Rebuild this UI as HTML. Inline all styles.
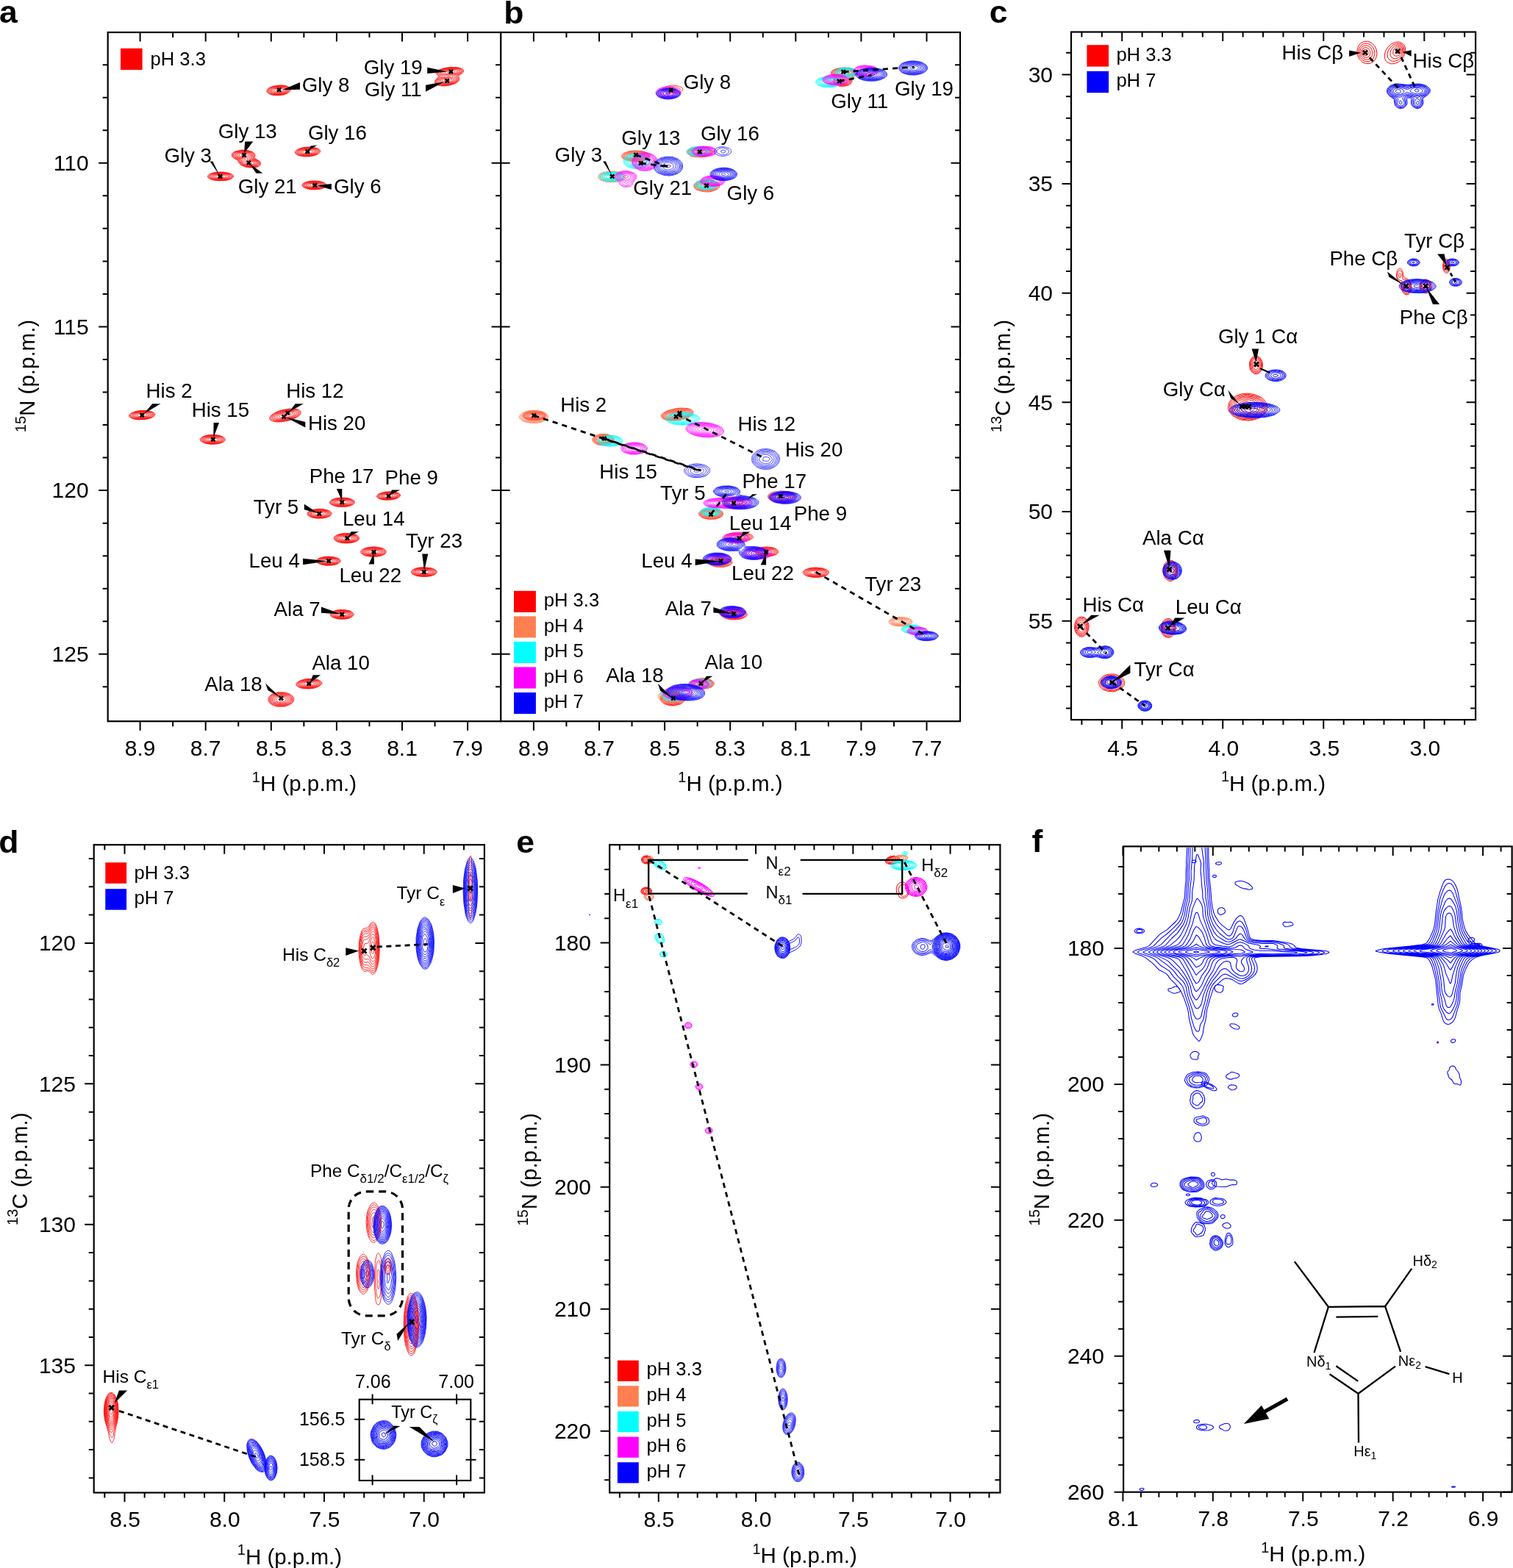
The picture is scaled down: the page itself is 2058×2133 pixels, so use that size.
<!DOCTYPE html>
<html><head><meta charset="utf-8"><title>NMR pH titration</title>
<style>html,body{margin:0;padding:0;background:#fff;}svg{display:block;}
text{font-family:"Liberation Sans", Arial, Helvetica, sans-serif;fill:#000;}</style></head>
<body><svg width="2058" height="2133" viewBox="0 0 2058 2133">
<rect width="2058" height="2133" fill="#fff"/>
<rect x="146.7" y="44" width="534.4" height="937.2" fill="none" stroke="#000" stroke-width="2.2"/>
<path d="M190.6,44v12.5M190.6,981.2v12.5M279.7,44v12.5M279.7,981.2v12.5M368.8,44v12.5M368.8,981.2v12.5M457.9,44v12.5M457.9,981.2v12.5M547,44v12.5M547,981.2v12.5M636.1,44v12.5M636.1,981.2v12.5M235.15,44v7M235.15,981.2v7M324.25,44v7M324.25,981.2v7M413.35,44v7M413.35,981.2v7M502.45,44v7M502.45,981.2v7M591.55,44v7M591.55,981.2v7M146.7,221.8h-12.5M681.1,221.8h-12.5M146.7,444.45h-12.5M681.1,444.45h-12.5M146.7,667.1h-12.5M681.1,667.1h-12.5M146.7,889.75h-12.5M681.1,889.75h-12.5M146.7,88.21h-7M681.1,88.21h-7M146.7,132.74h-7M681.1,132.74h-7M146.7,177.27h-7M681.1,177.27h-7M146.7,266.33h-7M681.1,266.33h-7M146.7,310.86h-7M681.1,310.86h-7M146.7,355.39h-7M681.1,355.39h-7M146.7,399.92h-7M681.1,399.92h-7M146.7,488.98h-7M681.1,488.98h-7M146.7,533.51h-7M681.1,533.51h-7M146.7,578.04h-7M681.1,578.04h-7M146.7,622.57h-7M681.1,622.57h-7M146.7,711.63h-7M681.1,711.63h-7M146.7,756.16h-7M681.1,756.16h-7M146.7,800.69h-7M681.1,800.69h-7M146.7,845.22h-7M681.1,845.22h-7M146.7,934.28h-7M681.1,934.28h-7" stroke="#000" stroke-width="2.0" fill="none"/>
<rect x="681.1" y="44" width="624.9" height="937.2" fill="none" stroke="#000" stroke-width="2.2"/>
<path d="M725.9,44v12.5M725.9,981.2v12.5M815,44v12.5M815,981.2v12.5M904.1,44v12.5M904.1,981.2v12.5M993.2,44v12.5M993.2,981.2v12.5M1082.3,44v12.5M1082.3,981.2v12.5M1171.4,44v12.5M1171.4,981.2v12.5M1260.5,44v12.5M1260.5,981.2v12.5M770.45,44v7M770.45,981.2v7M859.55,44v7M859.55,981.2v7M948.65,44v7M948.65,981.2v7M1037.75,44v7M1037.75,981.2v7M1126.85,44v7M1126.85,981.2v7M1215.95,44v7M1215.95,981.2v7M1306,221.8h-12.5M1306,444.45h-12.5M1306,667.1h-12.5M1306,889.75h-12.5M1306,88.21h-7M1306,132.74h-7M1306,177.27h-7M1306,266.33h-7M1306,310.86h-7M1306,355.39h-7M1306,399.92h-7M1306,488.98h-7M1306,533.51h-7M1306,578.04h-7M1306,622.57h-7M1306,711.63h-7M1306,756.16h-7M1306,800.69h-7M1306,845.22h-7M1306,934.28h-7" stroke="#000" stroke-width="2.0" fill="none"/>
<path d="M681.1,221.8h12.5M681.1,444.45h12.5M681.1,667.1h12.5M681.1,889.75h12.5" stroke="#000" stroke-width="2"/>
<text x="120.6" y="232.1" font-size="30" text-anchor="end">110</text>
<text x="120.6" y="454.75" font-size="30" text-anchor="end">115</text>
<text x="120.6" y="677.4" font-size="30" text-anchor="end">120</text>
<text x="120.6" y="900.05" font-size="30" text-anchor="end">125</text>
<text x="190.6" y="1028.3" font-size="30" text-anchor="middle">8.9</text>
<text x="279.7" y="1028.3" font-size="30" text-anchor="middle">8.7</text>
<text x="368.8" y="1028.3" font-size="30" text-anchor="middle">8.5</text>
<text x="457.9" y="1028.3" font-size="30" text-anchor="middle">8.3</text>
<text x="547" y="1028.3" font-size="30" text-anchor="middle">8.1</text>
<text x="636.1" y="1028.3" font-size="30" text-anchor="middle">7.9</text>
<text x="725.9" y="1028.3" font-size="30" text-anchor="middle">8.9</text>
<text x="815" y="1028.3" font-size="30" text-anchor="middle">8.7</text>
<text x="904.1" y="1028.3" font-size="30" text-anchor="middle">8.5</text>
<text x="993.2" y="1028.3" font-size="30" text-anchor="middle">8.3</text>
<text x="1082.3" y="1028.3" font-size="30" text-anchor="middle">8.1</text>
<text x="1171.4" y="1028.3" font-size="30" text-anchor="middle">7.9</text>
<text x="1260.5" y="1028.3" font-size="30" text-anchor="middle">7.7</text>
<text x="413.9" y="1076.3" font-size="29.5" text-anchor="middle"><tspan font-size="20" dy="-12.5">1</tspan><tspan dy="12.5">H (p.p.m.)</tspan></text>
<text x="993.4" y="1076.3" font-size="29.5" text-anchor="middle"><tspan font-size="20" dy="-12.5">1</tspan><tspan dy="12.5">H (p.p.m.)</tspan></text>
<text transform="translate(47.4,511.5) rotate(-90)" font-size="29.5" text-anchor="middle"><tspan font-size="20" dy="-12.5">15</tspan><tspan dy="12.5">N (p.p.m.)</tspan></text>
<rect x="1457" y="43.5" width="550.1" height="935.6" fill="none" stroke="#000" stroke-width="2.2"/>
<path d="M1526.2,43.5v12.5M1526.2,979.1v12.5M1663.24,43.5v12.5M1663.24,979.1v12.5M1800.27,43.5v12.5M1800.27,979.1v12.5M1937.31,43.5v12.5M1937.31,979.1v12.5M1471.39,43.5v7M1471.39,979.1v7M1498.79,43.5v7M1498.79,979.1v7M1553.61,43.5v7M1553.61,979.1v7M1581.01,43.5v7M1581.01,979.1v7M1608.42,43.5v7M1608.42,979.1v7M1635.83,43.5v7M1635.83,979.1v7M1690.64,43.5v7M1690.64,979.1v7M1718.05,43.5v7M1718.05,979.1v7M1745.46,43.5v7M1745.46,979.1v7M1772.86,43.5v7M1772.86,979.1v7M1827.68,43.5v7M1827.68,979.1v7M1855.08,43.5v7M1855.08,979.1v7M1882.49,43.5v7M1882.49,979.1v7M1909.9,43.5v7M1909.9,979.1v7M1964.71,43.5v7M1964.71,979.1v7M1992.12,43.5v7M1992.12,979.1v7M1457,101.4h-12.5M2007.1,101.4h-12.5M1457,250.05h-12.5M2007.1,250.05h-12.5M1457,398.7h-12.5M2007.1,398.7h-12.5M1457,547.35h-12.5M2007.1,547.35h-12.5M1457,696h-12.5M2007.1,696h-12.5M1457,844.65h-12.5M2007.1,844.65h-12.5M1457,71.67h-7M2007.1,71.67h-7M1457,131.13h-7M2007.1,131.13h-7M1457,160.86h-7M2007.1,160.86h-7M1457,190.59h-7M2007.1,190.59h-7M1457,220.32h-7M2007.1,220.32h-7M1457,279.78h-7M2007.1,279.78h-7M1457,309.51h-7M2007.1,309.51h-7M1457,339.24h-7M2007.1,339.24h-7M1457,368.97h-7M2007.1,368.97h-7M1457,428.43h-7M2007.1,428.43h-7M1457,458.16h-7M2007.1,458.16h-7M1457,487.89h-7M2007.1,487.89h-7M1457,517.62h-7M2007.1,517.62h-7M1457,577.08h-7M2007.1,577.08h-7M1457,606.81h-7M2007.1,606.81h-7M1457,636.54h-7M2007.1,636.54h-7M1457,666.27h-7M2007.1,666.27h-7M1457,725.73h-7M2007.1,725.73h-7M1457,755.46h-7M2007.1,755.46h-7M1457,785.19h-7M2007.1,785.19h-7M1457,814.92h-7M2007.1,814.92h-7M1457,874.38h-7M2007.1,874.38h-7M1457,904.11h-7M2007.1,904.11h-7M1457,933.84h-7M2007.1,933.84h-7M1457,963.57h-7M2007.1,963.57h-7" stroke="#000" stroke-width="2.0" fill="none"/>
<text x="1432" y="111.7" font-size="30" text-anchor="end">30</text>
<text x="1432" y="260.35" font-size="30" text-anchor="end">35</text>
<text x="1432" y="409" font-size="30" text-anchor="end">40</text>
<text x="1432" y="557.65" font-size="30" text-anchor="end">45</text>
<text x="1432" y="706.3" font-size="30" text-anchor="end">50</text>
<text x="1432" y="854.95" font-size="30" text-anchor="end">55</text>
<text x="1527.2" y="1028.3" font-size="30" text-anchor="middle">4.5</text>
<text x="1664.24" y="1028.3" font-size="30" text-anchor="middle">4.0</text>
<text x="1801.27" y="1028.3" font-size="30" text-anchor="middle">3.5</text>
<text x="1938.31" y="1028.3" font-size="30" text-anchor="middle">3.0</text>
<text x="1732" y="1075.8" font-size="29.5" text-anchor="middle"><tspan font-size="20" dy="-12.5">1</tspan><tspan dy="12.5">H (p.p.m.)</tspan></text>
<text transform="translate(1374.3,511.5) rotate(-90)" font-size="29.5" text-anchor="middle"><tspan font-size="20" dy="-12.5">13</tspan><tspan dy="12.5">C (p.p.m.)</tspan></text>
<rect x="127.7" y="1149.2" width="531.2" height="881.3" fill="none" stroke="#000" stroke-width="2.2"/>
<path d="M169.5,1149.2v12.5M169.5,2030.5v12.5M305.24,1149.2v12.5M305.24,2030.5v12.5M440.97,1149.2v12.5M440.97,2030.5v12.5M576.71,1149.2v12.5M576.71,2030.5v12.5M142.35,1149.2v7M142.35,2030.5v7M196.65,1149.2v7M196.65,2030.5v7M223.79,1149.2v7M223.79,2030.5v7M250.94,1149.2v7M250.94,2030.5v7M278.09,1149.2v7M278.09,2030.5v7M332.38,1149.2v7M332.38,2030.5v7M359.53,1149.2v7M359.53,2030.5v7M386.68,1149.2v7M386.68,2030.5v7M413.82,1149.2v7M413.82,2030.5v7M468.12,1149.2v7M468.12,2030.5v7M495.26,1149.2v7M495.26,2030.5v7M522.41,1149.2v7M522.41,2030.5v7M549.56,1149.2v7M549.56,2030.5v7M603.85,1149.2v7M603.85,2030.5v7M631,1149.2v7M631,2030.5v7M127.7,1282.9h-12.5M658.9,1282.9h-12.5M127.7,1474.35h-12.5M658.9,1474.35h-12.5M127.7,1665.8h-12.5M658.9,1665.8h-12.5M127.7,1857.25h-12.5M658.9,1857.25h-12.5M127.7,1168.03h-7M658.9,1168.03h-7M127.7,1206.32h-7M658.9,1206.32h-7M127.7,1244.61h-7M658.9,1244.61h-7M127.7,1321.19h-7M658.9,1321.19h-7M127.7,1359.48h-7M658.9,1359.48h-7M127.7,1397.77h-7M658.9,1397.77h-7M127.7,1436.06h-7M658.9,1436.06h-7M127.7,1512.64h-7M658.9,1512.64h-7M127.7,1550.93h-7M658.9,1550.93h-7M127.7,1589.22h-7M658.9,1589.22h-7M127.7,1627.51h-7M658.9,1627.51h-7M127.7,1704.09h-7M658.9,1704.09h-7M127.7,1742.38h-7M658.9,1742.38h-7M127.7,1780.67h-7M658.9,1780.67h-7M127.7,1818.96h-7M658.9,1818.96h-7M127.7,1895.54h-7M658.9,1895.54h-7M127.7,1933.83h-7M658.9,1933.83h-7M127.7,1972.12h-7M658.9,1972.12h-7M127.7,2010.41h-7M658.9,2010.41h-7" stroke="#000" stroke-width="2.0" fill="none"/>
<text x="103" y="1293.2" font-size="30" text-anchor="end">120</text>
<text x="103" y="1484.65" font-size="30" text-anchor="end">125</text>
<text x="103" y="1676.1" font-size="30" text-anchor="end">130</text>
<text x="103" y="1867.55" font-size="30" text-anchor="end">135</text>
<text x="170" y="2077.3" font-size="30" text-anchor="middle">8.5</text>
<text x="305.74" y="2077.3" font-size="30" text-anchor="middle">8.0</text>
<text x="441.47" y="2077.3" font-size="30" text-anchor="middle">7.5</text>
<text x="577.21" y="2077.3" font-size="30" text-anchor="middle">7.0</text>
<text x="393.9" y="2127.5" font-size="29.5" text-anchor="middle"><tspan font-size="20" dy="-12.5">1</tspan><tspan dy="12.5">H (p.p.m.)</tspan></text>
<text transform="translate(36.9,1590.2) rotate(-90)" font-size="29.5" text-anchor="middle"><tspan font-size="20" dy="-12.5">13</tspan><tspan dy="12.5">C (p.p.m.)</tspan></text>
<rect x="829.2" y="1149.2" width="531.2" height="881.3" fill="none" stroke="#000" stroke-width="2.2"/>
<path d="M895.8,1149.2v12.5M895.8,2030.5v12.5M1028.07,1149.2v12.5M1028.07,2030.5v12.5M1160.33,1149.2v12.5M1160.33,2030.5v12.5M1292.59,1149.2v12.5M1292.59,2030.5v12.5M842.89,1149.2v7M842.89,2030.5v7M869.35,1149.2v7M869.35,2030.5v7M922.25,1149.2v7M922.25,2030.5v7M948.71,1149.2v7M948.71,2030.5v7M975.16,1149.2v7M975.16,2030.5v7M1001.61,1149.2v7M1001.61,2030.5v7M1054.52,1149.2v7M1054.52,2030.5v7M1080.97,1149.2v7M1080.97,2030.5v7M1107.42,1149.2v7M1107.42,2030.5v7M1133.88,1149.2v7M1133.88,2030.5v7M1186.78,1149.2v7M1186.78,2030.5v7M1213.24,1149.2v7M1213.24,2030.5v7M1239.69,1149.2v7M1239.69,2030.5v7M1266.14,1149.2v7M1266.14,2030.5v7M1319.05,1149.2v7M1319.05,2030.5v7M1345.5,1149.2v7M1345.5,2030.5v7M829.2,1282.5h-12.5M1360.4,1282.5h-12.5M829.2,1448.58h-12.5M1360.4,1448.58h-12.5M829.2,1614.65h-12.5M1360.4,1614.65h-12.5M829.2,1780.72h-12.5M1360.4,1780.72h-12.5M829.2,1946.8h-12.5M1360.4,1946.8h-12.5M829.2,1182.86h-7M1360.4,1182.86h-7M829.2,1216.07h-7M1360.4,1216.07h-7M829.2,1249.29h-7M1360.4,1249.29h-7M829.2,1315.71h-7M1360.4,1315.71h-7M829.2,1348.93h-7M1360.4,1348.93h-7M829.2,1382.14h-7M1360.4,1382.14h-7M829.2,1415.36h-7M1360.4,1415.36h-7M829.2,1481.79h-7M1360.4,1481.79h-7M829.2,1515.01h-7M1360.4,1515.01h-7M829.2,1548.22h-7M1360.4,1548.22h-7M829.2,1581.43h-7M1360.4,1581.43h-7M829.2,1647.87h-7M1360.4,1647.87h-7M829.2,1681.08h-7M1360.4,1681.08h-7M829.2,1714.3h-7M1360.4,1714.3h-7M829.2,1747.51h-7M1360.4,1747.51h-7M829.2,1813.94h-7M1360.4,1813.94h-7M829.2,1847.16h-7M1360.4,1847.16h-7M829.2,1880.37h-7M1360.4,1880.37h-7M829.2,1913.59h-7M1360.4,1913.59h-7M829.2,1980.02h-7M1360.4,1980.02h-7M829.2,2013.23h-7M1360.4,2013.23h-7" stroke="#000" stroke-width="2.0" fill="none"/>
<text x="804" y="1292.8" font-size="30" text-anchor="end">180</text>
<text x="804" y="1458.88" font-size="30" text-anchor="end">190</text>
<text x="804" y="1624.95" font-size="30" text-anchor="end">200</text>
<text x="804" y="1791.02" font-size="30" text-anchor="end">210</text>
<text x="804" y="1957.1" font-size="30" text-anchor="end">220</text>
<text x="896.3" y="2077.3" font-size="30" text-anchor="middle">8.5</text>
<text x="1028.57" y="2077.3" font-size="30" text-anchor="middle">8.0</text>
<text x="1160.83" y="2077.3" font-size="30" text-anchor="middle">7.5</text>
<text x="1293.09" y="2077.3" font-size="30" text-anchor="middle">7.0</text>
<text x="1094.6" y="2126" font-size="29.5" text-anchor="middle"><tspan font-size="20" dy="-12.5">1</tspan><tspan dy="12.5">H (p.p.m.)</tspan></text>
<text transform="translate(730.2,1590.9) rotate(-90)" font-size="29.5" text-anchor="middle"><tspan font-size="20" dy="-12.5">15</tspan><tspan dy="12.5">N (p.p.m.)</tspan></text>
<rect x="1528.1" y="1151.4" width="528.5" height="878.3" fill="none" stroke="#000" stroke-width="2.2"/>
<path d="M1527.4,1151.4v12.5M1527.4,2029.7v12.5M1649.82,1151.4v12.5M1649.82,2029.7v12.5M1772.25,1151.4v12.5M1772.25,2029.7v12.5M1894.67,1151.4v12.5M1894.67,2029.7v12.5M2017.1,1151.4v12.5M2017.1,2029.7v12.5M1551.88,1151.4v7M1551.88,2029.7v7M1576.37,1151.4v7M1576.37,2029.7v7M1600.85,1151.4v7M1600.85,2029.7v7M1625.34,1151.4v7M1625.34,2029.7v7M1674.31,1151.4v7M1674.31,2029.7v7M1698.79,1151.4v7M1698.79,2029.7v7M1723.28,1151.4v7M1723.28,2029.7v7M1747.76,1151.4v7M1747.76,2029.7v7M1796.73,1151.4v7M1796.73,2029.7v7M1821.22,1151.4v7M1821.22,2029.7v7M1845.7,1151.4v7M1845.7,2029.7v7M1870.19,1151.4v7M1870.19,2029.7v7M1919.16,1151.4v7M1919.16,2029.7v7M1943.64,1151.4v7M1943.64,2029.7v7M1968.13,1151.4v7M1968.13,2029.7v7M1992.61,1151.4v7M1992.61,2029.7v7M2041.58,1151.4v7M2041.58,2029.7v7M1528.1,1290h-12.5M2056.6,1290h-12.5M1528.1,1474.92h-12.5M2056.6,1474.92h-12.5M1528.1,1659.84h-12.5M2056.6,1659.84h-12.5M1528.1,1844.76h-12.5M2056.6,1844.76h-12.5M1528.1,2029.68h-12.5M2056.6,2029.68h-12.5M1528.1,1179.05h-7M2056.6,1179.05h-7M1528.1,1216.03h-7M2056.6,1216.03h-7M1528.1,1253.02h-7M2056.6,1253.02h-7M1528.1,1326.98h-7M2056.6,1326.98h-7M1528.1,1363.97h-7M2056.6,1363.97h-7M1528.1,1400.95h-7M2056.6,1400.95h-7M1528.1,1437.94h-7M2056.6,1437.94h-7M1528.1,1511.9h-7M2056.6,1511.9h-7M1528.1,1548.89h-7M2056.6,1548.89h-7M1528.1,1585.87h-7M2056.6,1585.87h-7M1528.1,1622.86h-7M2056.6,1622.86h-7M1528.1,1696.82h-7M2056.6,1696.82h-7M1528.1,1733.81h-7M2056.6,1733.81h-7M1528.1,1770.79h-7M2056.6,1770.79h-7M1528.1,1807.78h-7M2056.6,1807.78h-7M1528.1,1881.74h-7M2056.6,1881.74h-7M1528.1,1918.73h-7M2056.6,1918.73h-7M1528.1,1955.71h-7M2056.6,1955.71h-7M1528.1,1992.7h-7M2056.6,1992.7h-7" stroke="#000" stroke-width="2.0" fill="none"/>
<text x="1502" y="1300.3" font-size="30" text-anchor="end">180</text>
<text x="1502" y="1485.22" font-size="30" text-anchor="end">200</text>
<text x="1502" y="1670.14" font-size="30" text-anchor="end">220</text>
<text x="1502" y="1855.06" font-size="30" text-anchor="end">240</text>
<text x="1502" y="2039.98" font-size="30" text-anchor="end">260</text>
<text x="1527.9" y="2076.3" font-size="30" text-anchor="middle">8.1</text>
<text x="1650.32" y="2076.3" font-size="30" text-anchor="middle">7.8</text>
<text x="1772.75" y="2076.3" font-size="30" text-anchor="middle">7.5</text>
<text x="1895.17" y="2076.3" font-size="30" text-anchor="middle">7.2</text>
<text x="2017.6" y="2076.3" font-size="30" text-anchor="middle">6.9</text>
<text x="1786.3" y="2124" font-size="29.5" text-anchor="middle"><tspan font-size="20" dy="-12.5">1</tspan><tspan dy="12.5">H (p.p.m.)</tspan></text>
<text transform="translate(1426.7,1590.7) rotate(-90)" font-size="29.5" text-anchor="middle"><tspan font-size="20" dy="-12.5">15</tspan><tspan dy="12.5">N (p.p.m.)</tspan></text>
<text x="-1" y="31.2" font-size="42" font-weight="bold" transform="translate(-1,0) scale(1.06,1) translate(1,0)">a</text>
<text x="685.2" y="31.9" font-size="42" font-weight="bold" transform="translate(685.2,0) scale(1.06,1) translate(-685.2,0)">b</text>
<text x="1345.8" y="31.2" font-size="42" font-weight="bold" transform="translate(1345.8,0) scale(1.06,1) translate(-1345.8,0)">c</text>
<text x="-1.8" y="1160" font-size="42" font-weight="bold" transform="translate(-1.8,0) scale(1.06,1) translate(1.8,0)">d</text>
<text x="702.3" y="1160.2" font-size="42" font-weight="bold" transform="translate(702.3,0) scale(1.06,1) translate(-702.3,0)">e</text>
<text x="1403.6" y="1159" font-size="42" font-weight="bold" transform="translate(1403.6,0) scale(1.06,1) translate(-1403.6,0)">f</text>
<rect x="164" y="65.8" width="29.6" height="29.2" fill="#ff0000"/>
<text x="204.5" y="89.4" font-size="25.6">pH 3.3</text>
<path d="M377.7,129.9L370.9,129.4L365.7,127.6L363.1,125.1L362.8,123.5L363.3,121.9L365.7,119.6L370.9,117.3L380.9,115.8L385.7,116.1L389.7,116.9L392.9,118.3L394.9,120.3L395.4,121.9L394.7,123.9L393.2,125.5L390.5,127.3L385.7,129.0ZM378.1,129.5L371.3,129.0L366.5,127.3L364.0,125.1L363.7,123.5L364.2,121.9L366.3,119.9L371.3,117.6L380.9,116.2L385.7,116.5L389.3,117.2L392.1,118.5L394.0,120.3L394.4,121.9L394.0,123.5L392.6,125.1L390.1,127.0L385.3,128.6ZM377.3,129.1L371.3,128.5L367.3,127.0L364.9,124.7L364.6,123.5L365.1,121.9L367.3,120.0L371.7,118.0L381.3,116.7L385.3,116.9L388.9,117.6L391.7,119.0L393.2,120.7L393.5,121.9L393.0,123.5L389.3,126.8L383.3,128.6ZM382.5,128.3L375.3,128.6L370.5,127.7L366.5,125.4L365.8,124.3L365.8,122.7L367.3,120.9L370.9,118.8L377.3,117.4L385.7,117.4L389.3,118.4L391.6,119.9L392.4,121.1L392.5,122.3L390.7,125.1L387.7,127.0ZM382.1,127.9L375.3,128.1L370.9,127.2L367.6,125.1L366.9,123.9L367.0,122.7L368.3,121.1L371.3,119.3L377.3,117.9L385.3,117.9L388.5,118.8L390.8,120.3L391.4,122.3L389.6,125.1L387.3,126.5ZM381.3,127.5L375.3,127.6L371.5,126.7L368.6,124.7L368.3,122.7L369.7,121.1L372.1,119.7L377.7,118.3L385.3,118.4L387.7,119.3L389.7,120.7L390.2,122.7L388.5,125.1L385.7,126.4ZM382.1,126.8L376.1,127.0L373.3,126.5L370.5,125.1L369.8,124.3L369.6,123.1L370.3,121.9L372.1,120.6L377.3,119.0L384.1,118.9L386.4,119.5L388.2,120.7L388.9,122.3L388.1,124.3L386.1,125.5ZM380.9,126.3L374.1,125.9L371.9,124.7L371.2,123.1L373.3,121.0L377.7,119.7L383.7,119.6L385.7,120.2L387.0,121.1L387.5,122.7L386.5,124.3ZM380.1,125.5L374.9,125.0L373.4,123.9L373.4,122.7L374.9,121.5L378.1,120.5L382.9,120.5L385.3,121.5L385.7,122.7L384.7,123.9ZM378.9,124.3L377.0,123.9L376.5,123.5L376.5,122.7L378.9,121.9L381.9,122.7L380.7,123.9ZM608.6,116.7L602.2,117.0L598.2,116.6L594.2,115.3L591.9,113.5L591.2,111.5L591.6,109.5L596.7,104.3L596.4,103.5L593.2,100.3L593.0,98.7L593.7,97.5L597.0,95.2L600.6,93.7L605.0,92.5L611.8,91.4L621.8,91.6L627.0,92.8L629.7,94.3L630.8,95.9L630.4,97.9L629.0,99.5L624.8,102.3L623.9,103.5L624.9,107.5L624.5,109.1L623.5,110.7L621.0,112.7L618.2,114.1ZM608.6,116.3L599.8,116.4L595.4,115.2L592.9,113.5L592.1,111.5L592.5,109.5L597.8,104.3L597.3,103.1L594.3,100.3L594.0,98.7L594.7,97.5L597.8,95.4L601.8,93.7L611.8,91.8L621.4,92.0L626.6,93.3L628.9,94.7L629.8,96.3L629.2,98.3L623.7,102.3L622.7,103.5L623.9,107.5L623.6,109.1L622.6,110.7L617.8,113.8ZM608.6,115.9L603.4,116.2L599.8,115.8L595.8,114.7L593.7,113.1L593.0,111.5L593.5,109.5L598.5,105.1L599.2,103.9L595.4,99.9L595.2,98.7L595.9,97.5L598.7,95.5L603.0,93.8L611.8,92.2L621.0,92.4L625.8,93.7L628.1,95.1L628.8,96.7L628.1,98.3L622.4,102.3L621.4,103.5L622.9,107.5L622.7,109.1L621.6,110.7L617.0,113.6ZM608.2,115.5L603.4,115.7L599.8,115.2L596.2,114.1L594.3,112.3L594.0,110.7L594.8,109.1L600.9,103.9L600.5,103.1L596.9,100.3L596.5,98.7L597.2,97.5L599.4,95.8L603.4,94.2L611.8,92.6L620.2,92.7L623.8,93.6L626.7,95.1L627.6,96.7L626.9,98.3L619.8,103.5L621.9,107.5L621.7,109.1L621.0,110.3L619.0,111.9L616.2,113.3ZM607.0,115.1L600.2,114.6L597.0,113.5L595.4,111.9L595.3,110.3L596.6,108.3L602.9,103.9L602.2,102.8L598.3,100.3L597.8,99.1L598.5,97.5L600.6,96.0L604.2,94.4L612.2,93.0L620.2,93.2L623.4,94.2L625.5,95.5L626.2,97.1L625.3,98.7L623.0,100.4L618.5,102.7L617.8,103.5L620.8,107.5L620.6,109.1L619.8,110.3L617.8,111.9L614.6,113.3ZM609.0,114.3L605.4,114.6L601.8,114.3L598.5,113.1L597.0,111.8L596.8,109.9L598.2,107.9L605.7,103.9L605.2,103.1L599.9,100.3L599.2,99.1L599.6,97.9L601.4,96.4L604.2,95.0L611.4,93.6L618.6,93.6L621.7,94.3L623.8,95.4L624.7,97.1L623.5,99.1L615.0,103.5L619.0,106.8L619.4,108.3L618.8,109.9L615.0,112.5ZM611.4,102.7L609.4,103.1L604.2,101.5L601.4,99.9L600.9,98.3L602.4,96.7L604.7,95.5L612.2,94.1L619.0,94.3L621.5,95.1L622.9,96.3L622.8,98.3L621.0,99.8L616.2,101.7ZM607.4,113.9L603.4,113.9L600.6,113.0L598.4,111.1L598.5,109.1L600.2,107.5L602.6,106.2L609.8,104.2L615.0,105.4L617.4,107.1L617.6,109.1L616.0,111.1L612.2,112.9ZM611.8,101.6L609.0,101.8L605.8,101.1L603.4,99.8L602.7,98.3L603.6,97.1L605.8,96.0L612.2,94.7L618.2,94.9L620.2,95.6L621.4,96.7L621.2,98.3L619.6,99.5L616.2,100.8ZM608.2,113.2L604.6,113.3L602.1,112.7L600.1,111.1L599.9,109.5L600.8,108.3L603.0,106.9L608.2,105.7L612.2,105.7L615.6,107.1L616.1,108.7L615.0,110.5L612.2,112.1ZM611.0,100.7L606.8,100.3L605.5,99.5L605.0,98.3L607.0,96.7L612.6,95.5L616.6,95.7L619.2,97.1L618.9,98.3L616.9,99.5ZM608.2,112.3L605.4,112.4L603.1,111.9L601.8,110.7L601.8,109.5L603.8,107.7L608.2,106.7L611.8,106.8L614.2,107.9L614.3,109.1L613.4,110.3ZM612.2,99.1L609.4,99.3L608.6,98.9L608.5,98.3L609.4,97.5L612.6,96.6L614.6,96.7L615.8,97.5L615.3,98.3ZM608.2,111.2L605.0,110.9L604.3,110.3L604.2,109.5L605.3,108.7L608.2,108.0L610.2,108.1L611.4,108.7L610.9,109.9ZM345.0,228.0L340.6,228.1L335.0,227.3L331.4,226.2L328.2,224.7L325.6,222.4L323.2,218.0L318.1,215.2L315.8,213.2L315.0,211.2L315.5,209.2L317.4,207.2L320.2,205.8L328.6,204.0L337.0,204.5L344.2,207.0L345.9,208.4L347.1,210.4L347.1,211.6L346.2,214.1L346.5,215.2L353.0,219.2L354.3,220.8L354.8,222.4L354.2,224.4L352.2,226.2L349.4,227.3ZM345.4,227.6L341.0,227.7L335.0,226.9L328.6,224.4L326.4,222.4L324.4,218.0L318.6,214.9L316.7,213.2L315.8,211.2L316.4,209.2L317.9,207.6L320.6,206.2L328.6,204.4L337.0,204.9L343.5,207.2L345.3,208.8L346.2,210.4L346.1,212.0L345.1,214.4L345.3,215.2L352.1,219.2L353.5,220.8L354.0,222.4L353.3,224.4L351.8,225.8L349.0,226.9ZM345.4,227.2L341.0,227.4L335.8,226.6L332.6,225.8L329.4,224.3L327.0,222.0L325.4,217.7L319.4,214.6L317.7,213.2L316.7,211.2L317.0,209.6L318.5,208.0L320.6,206.8L328.2,204.9L336.6,205.3L342.6,207.4L344.3,208.8L345.2,210.4L344.1,215.2L351.0,219.0L352.4,220.4L353.1,222.0L352.9,223.6L351.4,225.3L349.0,226.4ZM345.0,226.8L340.6,226.9L335.8,226.2L333.0,225.4L329.8,223.9L327.6,221.6L326.8,217.6L319.8,214.0L318.4,212.8L317.7,211.2L318.1,209.6L319.4,208.2L321.4,207.1L328.6,205.3L336.2,205.7L341.8,207.7L343.5,209.2L344.2,210.8L342.7,214.8L343.0,215.6L350.2,219.1L351.6,220.4L352.2,222.0L352.0,223.6L350.6,225.1L348.2,226.1ZM344.2,226.4L340.2,226.5L335.8,225.7L333.0,224.9L330.2,223.4L328.4,221.2L328.5,217.6L319.8,212.9L318.8,211.2L319.3,209.6L322.6,207.3L329.0,205.7L336.2,206.2L341.0,208.0L342.6,209.6L343.1,211.2L341.3,214.8L341.3,215.6L349.2,219.2L350.6,220.4L351.3,222.0L351.0,223.6L349.7,224.8ZM343.0,226.0L339.4,225.9L335.4,225.1L331.1,223.2L329.8,222.0L329.4,220.8L330.5,217.2L329.4,216.4L324.2,214.7L321.7,213.2L320.3,211.6L320.7,209.6L323.8,207.6L329.0,206.3L335.8,206.7L340.0,208.4L341.6,210.0L341.9,211.6L341.4,212.8L339.3,215.2L339.4,216.0L347.8,219.2L349.5,220.4L350.3,222.0L350.1,223.2L348.6,224.5ZM344.6,225.2L339.4,225.4L335.0,224.3L332.5,223.2L330.9,221.6L330.7,220.4L331.7,218.8L334.0,216.8L333.8,216.5L327.0,214.9L324.2,213.8L322.1,212.0L321.8,211.2L322.1,210.0L324.2,208.2L328.6,206.9L335.0,207.3L338.6,208.5L340.3,210.4L340.5,212.0L336.0,216.4L345.0,218.7L347.6,220.0L349.0,221.6L348.9,222.8L348.3,223.6ZM334.2,214.8L331.4,214.8L326.2,213.8L324.0,212.4L323.5,210.4L324.9,208.8L328.2,207.7L331.8,207.6L336.6,208.5L338.5,210.0L338.8,212.0L336.6,213.9ZM342.2,224.8L339.0,224.7L334.3,223.2L332.5,221.6L332.6,220.0L335.0,218.4L339.0,218.1L344.2,219.2L347.2,221.2L347.4,222.4L346.5,223.6ZM334.2,213.6L327.4,213.2L325.7,212.0L325.4,210.4L326.7,209.2L329.4,208.4L331.8,208.4L335.2,209.2L336.8,210.4L336.9,211.6L336.0,212.8ZM341.8,224.0L339.4,224.0L335.9,222.8L334.5,221.6L334.5,220.4L336.2,219.3L339.4,219.0L343.4,220.0L345.4,221.2L345.7,222.0L345.0,223.0ZM333.4,212.1L329.4,212.0L328.3,211.2L329.4,210.0L331.8,209.7L334.3,210.8L334.3,211.6ZM341.0,222.8L338.2,222.3L337.3,221.6L337.3,220.8L339.0,220.2L341.5,220.8L342.5,222.0ZM305.8,245.6L297.0,245.9L288.6,244.6L285.4,243.4L283.4,242.1L282.5,240.8L282.4,239.2L284.2,237.3L287.8,235.6L292.2,234.6L298.2,234.0L304.2,234.1L309.8,235.0L315.0,236.7L317.3,238.4L317.8,239.6L317.6,240.8L315.4,242.9L311.4,244.6ZM301.8,245.6L294.2,245.4L288.2,244.1L284.2,241.9L283.3,240.4L283.4,239.2L285.4,237.3L289.0,235.7L294.2,234.7L300.6,234.3L305.4,234.6L310.2,235.5L314.6,237.1L316.5,238.8L316.8,240.0L316.3,241.2L313.4,243.4L308.6,244.9ZM302.6,245.2L294.6,245.0L289.0,243.8L285.5,242.0L284.5,240.8L284.3,239.6L285.8,237.8L289.0,236.2L293.8,235.1L299.4,234.7L304.6,234.9L309.4,235.7L313.4,237.1L315.4,238.8L315.5,240.8L313.0,243.0L308.6,244.5ZM303.0,244.8L295.4,244.7L290.2,243.7L286.6,242.0L285.6,240.8L285.5,239.6L287.4,237.6L290.6,236.3L295.0,235.4L300.6,235.0L305.4,235.4L309.8,236.3L312.9,237.6L314.4,239.2L314.1,241.2L311.8,242.9L308.2,244.1ZM302.6,244.4L295.8,244.3L291.0,243.4L287.5,241.6L286.9,240.8L286.7,239.6L288.2,238.0L291.4,236.6L295.4,235.8L300.6,235.4L304.6,235.7L309.0,236.6L311.8,237.7L313.2,239.2L313.1,240.8L311.0,242.6L307.4,243.8ZM301.0,244.0L295.4,243.8L291.8,243.0L289.0,241.6L288.3,240.8L288.1,239.6L289.4,238.3L292.6,236.9L300.6,235.9L307.8,236.9L310.7,238.0L311.9,239.2L311.5,241.2L309.4,242.6L305.4,243.7ZM304.6,243.2L299.0,243.5L294.6,243.1L290.7,241.6L289.6,240.0L290.4,238.8L293.0,237.5L299.8,236.4L306.2,237.1L309.0,238.1L310.5,239.2L310.6,240.4L309.6,241.6ZM302.6,242.8L298.6,242.9L294.5,242.4L292.1,241.2L291.5,240.4L291.5,239.6L292.9,238.4L295.0,237.6L301.4,237.0L305.8,237.7L308.9,239.6L308.7,240.8L307.6,241.6ZM302.6,242.0L299.4,242.3L295.8,241.8L294.2,241.1L293.4,240.0L293.9,239.2L295.4,238.4L300.6,237.8L304.2,238.1L306.6,239.6L306.6,240.4L305.8,241.2ZM300.2,241.2L298.1,240.8L296.9,240.0L300.2,239.1L302.6,239.1L303.8,239.6L303.4,240.5ZM421.2,212.8L414.4,213.0L406.4,211.7L402.1,209.2L401.4,208.0L401.4,206.4L403.4,204.0L406.8,202.3L411.6,200.8L417.2,200.1L424.0,200.0L427.6,200.6L432.4,202.0L435.5,204.4L435.9,205.6L435.4,207.2L432.4,209.8L427.2,211.8ZM421.6,212.4L414.8,212.6L407.2,211.5L403.2,209.2L402.4,208.0L402.4,206.4L403.9,204.4L407.2,202.6L412.4,201.1L416.8,200.5L426.4,200.7L431.6,202.2L434.5,204.4L434.9,205.6L434.7,206.8L432.0,209.4L427.2,211.4ZM421.6,212.0L414.4,212.2L407.6,211.1L405.6,210.2L403.9,208.8L403.3,207.6L403.4,206.4L404.8,204.6L407.6,203.0L412.4,201.5L416.4,200.9L425.6,201.0L430.8,202.5L433.4,204.4L433.8,205.6L433.6,206.8L431.6,208.9L427.2,210.9ZM421.6,211.6L414.8,211.8L408.8,210.9L406.6,210.0L405.0,208.8L404.4,207.6L404.5,206.4L405.7,204.8L408.0,203.4L412.4,201.9L416.0,201.4L425.2,201.4L430.1,202.8L432.2,204.4L432.6,206.4L430.6,208.8L426.4,210.7ZM421.2,211.2L415.2,211.4L410.0,210.6L406.4,208.9L405.7,208.0L405.5,206.8L406.5,205.2L408.2,204.0L412.0,202.5L415.6,201.8L424.8,201.8L429.2,203.1L431.0,204.4L431.4,206.4L429.6,208.6L426.0,210.2ZM420.0,210.8L414.4,210.8L410.4,210.1L407.3,208.4L406.8,207.6L406.9,206.4L407.8,205.2L409.6,204.1L412.8,202.9L416.0,202.3L424.4,202.2L428.4,203.5L430.0,204.8L430.0,206.8L428.4,208.4L424.8,210.0ZM422.0,210.0L416.0,210.3L412.0,209.9L408.9,208.4L408.1,206.8L408.8,205.6L410.4,204.6L415.6,202.9L423.6,202.7L426.6,203.6L428.6,204.8L429.0,206.0L428.0,207.6L425.2,209.2ZM419.2,209.6L414.8,209.6L412.0,209.0L410.2,208.0L409.8,206.4L412.8,204.3L416.8,203.5L423.6,203.5L426.0,204.4L427.2,205.6L427.0,206.8L424.8,208.5ZM417.2,208.8L412.8,208.1L411.9,207.2L411.9,206.4L413.6,205.1L416.8,204.4L422.8,204.3L425.0,205.6L424.9,206.8L423.3,208.0ZM418.4,207.3L416.4,207.4L415.4,206.8L416.8,206.0L421.4,206.4ZM433.0,257.6L423.8,257.9L418.2,256.9L412.6,254.7L411.1,253.2L410.9,251.6L412.2,249.6L415.4,247.8L420.2,246.6L425.8,246.0L432.2,246.2L437.0,247.1L441.0,248.5L443.5,250.4L444.1,251.6L444.0,252.8L442.1,254.8L438.2,256.6ZM429.0,257.6L422.2,257.4L415.8,255.7L412.3,253.6L411.8,252.4L411.9,251.2L413.4,249.5L416.6,247.9L421.0,246.9L427.0,246.3L433.0,246.7L437.8,247.7L441.4,249.4L443.1,251.2L443.2,252.4L442.6,253.6L439.8,255.5L434.6,257.0ZM430.2,257.2L423.0,257.1L417.4,255.8L413.3,253.6L412.7,252.4L412.9,251.2L414.3,249.6L417.4,248.1L422.2,247.1L427.0,246.7L432.6,247.0L436.6,247.8L440.2,249.3L442.1,251.2L441.9,253.2L439.4,255.1L435.0,256.5ZM430.2,256.8L423.4,256.8L418.6,255.8L414.6,253.7L413.9,252.8L413.7,251.6L414.9,250.0L417.4,248.7L421.0,247.7L426.6,247.1L435.8,248.1L439.0,249.4L441.0,251.2L441.0,252.8L439.0,254.6L434.6,256.2ZM430.2,256.4L423.8,256.4L419.0,255.4L415.6,253.6L415.0,252.8L414.8,251.6L416.2,250.0L418.2,249.0L426.6,247.5L435.0,248.4L438.0,249.6L439.7,251.2L439.8,252.8L437.9,254.4L434.2,255.8ZM429.8,256.0L423.8,255.9L419.8,255.0L416.9,253.6L416.2,252.8L416.1,251.6L417.1,250.4L419.4,249.2L426.2,247.9L434.2,248.8L437.0,249.9L438.3,251.2L438.3,252.8L436.6,254.3L433.4,255.5ZM431.8,255.2L428.2,255.5L423.0,255.3L419.0,254.0L417.8,253.0L417.4,252.0L418.2,250.8L420.2,249.7L425.8,248.5L433.0,249.1L436.6,250.8L437.1,252.0L436.6,253.2L434.7,254.4ZM430.6,254.8L423.4,254.6L420.2,253.4L419.3,252.0L420.1,250.8L421.6,250.0L426.2,249.0L431.8,249.5L434.2,250.3L435.3,251.2L435.6,252.4L434.6,253.5ZM430.6,254.1L424.2,253.9L422.0,252.8L421.7,251.6L423.3,250.4L426.6,249.8L430.6,250.0L433.4,251.2L433.9,252.0L433.6,252.8ZM430.6,252.9L426.2,252.9L424.6,252.0L426.2,251.0L429.8,250.9L431.6,252.0ZM195.3,570.8L187.3,570.9L180.9,569.8L176.5,567.5L175.6,566.0L175.6,564.8L177.7,562.4L181.3,560.7L186.5,559.1L191.7,558.4L198.9,558.4L204.5,559.4L208.1,560.6L210.7,562.8L211.0,564.0L210.6,565.2L207.3,567.9L202.1,569.7ZM195.7,570.4L188.1,570.6L182.1,569.7L179.3,568.6L177.3,567.2L176.5,566.0L176.6,564.8L178.5,562.6L182.9,560.5L187.3,559.3L192.9,558.7L199.3,558.8L204.5,559.8L207.7,561.0L209.9,563.2L209.6,565.2L206.8,567.6L202.1,569.3ZM196.1,570.0L190.1,570.3L182.5,569.3L178.5,567.2L177.7,566.0L177.7,564.8L179.5,562.8L183.3,560.9L187.3,559.7L192.5,559.1L198.1,559.1L202.5,559.8L206.5,561.0L208.6,562.8L208.8,564.8L206.3,567.2L202.1,568.9ZM196.1,569.6L190.5,569.9L183.3,569.0L179.8,567.2L179.0,566.0L179.0,564.8L180.3,563.2L183.7,561.3L187.7,560.1L192.5,559.5L198.1,559.6L201.7,560.1L205.7,561.4L207.5,562.8L207.7,564.8L205.3,567.0L201.7,568.5ZM195.7,569.2L190.5,569.4L184.1,568.6L180.9,566.9L180.3,566.0L180.3,564.8L181.5,563.2L184.5,561.5L188.1,560.5L192.9,559.9L198.1,560.0L201.7,560.7L204.9,561.8L206.5,563.2L206.1,565.2L203.7,567.2L200.9,568.3ZM194.9,568.8L190.5,569.0L184.5,568.1L182.2,566.8L181.6,564.8L182.9,563.2L185.3,561.9L188.5,560.9L192.9,560.4L200.5,561.0L203.4,562.0L204.9,563.2L205.1,564.0L204.7,565.2L202.5,567.0L199.3,568.1ZM192.5,568.4L185.3,567.5L183.5,566.4L183.0,564.8L184.5,563.2L187.0,562.0L192.9,560.9L199.7,561.5L202.2,562.4L203.4,563.6L202.8,565.6L200.9,567.0L197.3,567.9ZM194.9,567.6L190.9,567.8L187.3,567.2L185.2,566.0L185.0,564.8L186.0,563.6L188.1,562.4L192.9,561.5L198.5,562.0L201.6,563.6L201.7,564.8L200.5,566.2ZM194.9,566.8L189.3,566.7L187.7,566.0L187.2,564.8L188.9,563.1L192.9,562.4L197.7,562.8L199.7,564.0L199.7,564.8L198.9,565.8ZM194.5,565.6L191.7,565.7L190.4,564.8L191.4,564.0L193.3,563.7L195.7,563.9L196.6,564.4L196.1,565.2ZM292.9,604.2L286.1,604.3L277.7,602.8L272.9,599.9L272.2,598.6L272.3,597.0L274.1,595.0L277.3,593.2L282.5,591.9L287.7,591.4L293.7,591.6L299.7,592.7L303.5,594.2L305.8,596.2L306.3,597.4L306.2,599.0L304.1,601.3L300.1,602.9ZM293.3,603.8L286.5,604.0L278.9,602.7L274.3,600.2L273.2,598.6L273.1,597.4L274.6,595.4L277.3,593.7L282.1,592.4L287.3,591.8L293.3,591.9L298.9,592.9L302.5,594.3L304.8,596.2L305.3,598.6L304.8,599.8L303.4,601.0L299.3,602.7ZM293.3,603.4L286.9,603.7L279.7,602.5L275.4,600.2L274.2,598.6L274.2,597.4L275.7,595.4L278.1,593.9L282.9,592.7L288.1,592.2L293.7,592.4L299.3,593.5L302.1,594.8L304.0,596.6L304.3,598.6L302.5,600.8L299.3,602.2ZM293.3,603.0L287.3,603.3L280.1,602.1L276.5,600.2L275.3,598.6L275.3,597.4L276.7,595.4L278.9,594.2L283.3,593.0L288.1,592.6L293.3,592.7L298.5,593.8L301.2,595.0L302.9,596.6L303.3,598.6L301.6,600.6L298.5,601.9ZM292.5,602.6L287.3,602.9L280.5,601.6L277.0,599.4L276.4,598.2L276.6,597.0L277.9,595.4L280.1,594.4L283.7,593.4L288.5,593.0L293.3,593.2L298.1,594.3L300.4,595.4L301.9,597.0L302.0,599.0L300.3,600.6L296.5,601.9ZM292.1,602.2L287.3,602.4L280.9,601.1L278.1,599.2L277.7,598.2L277.8,597.0L278.9,595.7L281.7,594.5L288.5,593.5L292.9,593.7L296.1,594.4L298.8,595.4L300.5,597.0L300.8,598.6L299.4,600.2L296.1,601.5ZM290.9,601.8L287.3,601.8L281.7,600.6L279.4,599.0L279.0,597.4L279.9,596.2L282.1,595.1L288.1,594.0L294.5,594.6L297.6,595.8L298.8,597.0L299.1,598.6L297.7,600.1L294.9,601.1ZM291.7,601.1L287.7,601.2L283.2,600.2L281.1,599.0L280.6,597.4L282.9,595.6L287.7,594.7L293.3,595.0L296.7,596.6L297.3,598.2L296.6,599.4L294.9,600.3ZM291.7,600.2L288.9,600.6L285.7,599.9L283.3,598.8L282.8,597.4L284.5,596.2L287.7,595.5L292.9,595.8L294.8,596.6L295.4,597.4L295.3,598.6L294.3,599.4ZM289.3,599.4L286.5,598.6L286.2,597.4L288.9,596.7L292.1,597.8L291.0,599.0ZM383.2,573.8L375.6,574.0L370.4,572.9L367.1,571.0L366.5,569.4L366.7,567.8L368.8,565.0L373.2,561.8L378.8,559.3L386.4,557.2L394.8,556.0L402.0,556.2L406.4,557.4L409.0,559.4L409.4,561.4L408.4,563.8L406.5,565.8L403.2,568.0L393.6,571.9ZM382.0,573.4L375.6,573.5L371.2,572.3L368.2,570.6L367.7,569.4L367.9,567.8L369.9,565.0L373.6,562.1L379.2,559.6L386.4,557.7L394.8,556.5L401.6,556.7L405.6,557.9L407.9,559.8L408.2,561.8L407.4,563.8L405.4,565.8L402.0,568.0L393.2,571.6ZM385.6,572.6L377.6,573.0L374.4,572.7L369.6,570.3L369.0,569.4L369.0,568.2L370.6,565.4L373.6,562.8L378.8,560.3L385.2,558.4L394.0,557.0L401.2,557.3L404.4,558.3L406.8,560.2L407.0,561.8L406.2,563.8L402.0,567.4L394.0,570.8ZM384.0,572.2L377.2,572.4L374.4,571.9L370.6,569.4L370.5,567.4L372.4,564.6L374.8,562.9L379.2,560.7L386.0,558.8L394.0,557.6L400.8,558.0L403.2,558.7L405.5,560.6L405.7,562.2L404.9,563.8L402.8,565.9L400.4,567.5L393.2,570.5ZM386.4,571.4L380.8,571.8L375.6,571.4L372.4,569.4L371.8,567.4L373.3,565.0L376.4,562.8L380.0,561.0L386.4,559.2L392.0,558.3L396.0,558.2L401.6,559.1L404.0,561.0L404.2,562.2L403.5,563.8L400.0,566.9L394.0,569.7ZM383.6,571.0L378.8,571.0L375.6,570.4L373.6,568.6L373.6,566.6L375.3,564.6L379.2,562.1L388.0,559.5L392.4,558.9L396.0,558.9L400.8,559.9L402.4,561.4L402.5,562.6L401.5,564.6L397.2,567.7L390.8,570.0ZM384.8,570.2L380.4,570.3L377.5,569.8L375.6,568.6L375.4,567.0L376.7,565.0L379.2,563.0L387.2,560.4L391.6,559.6L395.2,559.6L399.2,560.6L400.6,561.8L400.7,563.0L399.9,564.6L396.4,567.2L390.8,569.3ZM387.6,569.0L383.2,569.4L379.6,569.1L377.9,568.2L377.5,566.6L378.4,565.0L380.0,563.7L387.2,561.1L391.6,560.4L394.4,560.5L396.9,561.0L398.6,562.2L398.4,564.2L396.0,566.4L392.4,568.0ZM388.8,567.8L381.6,567.9L380.3,567.4L379.9,566.2L381.5,564.6L386.8,562.2L392.0,561.4L394.4,561.8L395.8,562.6L396.0,564.2L394.7,565.8L392.4,567.0ZM388.4,566.2L385.6,566.1L384.9,565.8L384.7,565.0L386.2,563.8L388.8,563.3L391.2,563.4L392.1,564.2L391.6,565.0ZM469.9,689.4L460.7,689.4L454.7,688.3L449.6,685.8L448.4,684.2L448.3,682.6L450.3,680.3L454.7,678.4L458.3,677.5L463.9,677.1L469.9,677.1L475.5,678.1L479.9,679.9L482.2,681.8L482.5,684.2L480.7,686.2L475.5,688.4ZM470.3,689.0L461.5,689.1L455.1,688.0L450.2,685.4L449.3,684.2L449.2,682.6L451.0,680.6L454.7,678.9L458.3,677.9L463.5,677.4L469.5,677.5L475.1,678.5L479.1,680.1L481.2,681.8L481.7,683.8L479.9,685.9L475.5,688.0ZM470.3,688.6L461.9,688.7L455.5,687.6L451.1,685.2L450.2,683.8L450.2,682.6L451.6,681.0L455.5,679.1L463.9,677.8L469.5,677.8L474.3,678.7L477.9,680.1L480.1,681.8L480.6,683.8L478.9,685.8L475.1,687.6ZM470.3,688.2L461.9,688.3L455.9,687.2L452.1,685.0L451.3,683.8L451.3,682.6L452.9,681.0L456.3,679.3L463.5,678.2L468.7,678.2L472.3,678.7L476.3,680.0L479.0,681.8L479.4,683.8L477.9,685.7L474.7,687.2ZM469.5,687.8L461.9,687.8L456.3,686.8L453.3,685.0L452.5,683.0L453.7,681.4L456.3,679.9L463.5,678.6L468.3,678.6L471.9,679.1L475.9,680.5L478.0,682.2L478.3,683.8L476.7,685.6L473.1,687.1ZM468.7,687.4L461.9,687.4L457.1,686.3L454.6,685.0L453.9,683.0L455.2,681.4L457.9,680.0L461.5,679.2L465.9,679.0L472.3,679.7L475.1,681.0L476.9,682.6L476.8,684.2L475.5,685.4L472.3,686.7ZM467.1,687.0L462.3,686.9L459.2,686.2L455.9,684.7L455.4,683.0L456.7,681.4L458.3,680.5L464.7,679.6L471.5,680.1L473.5,681.0L475.2,682.6L475.2,684.2L473.7,685.4L471.1,686.4ZM467.9,686.2L464.7,686.4L460.7,685.9L458.0,684.6L457.2,683.8L457.1,683.0L457.9,681.8L459.1,681.1L463.5,680.2L469.9,680.5L471.9,681.1L473.3,682.2L473.7,683.4L473.0,684.6L471.1,685.6ZM467.1,685.5L463.9,685.6L461.1,685.1L459.3,683.8L459.3,682.6L461.1,681.4L464.7,680.9L469.5,681.3L471.8,682.6L471.9,683.4L471.3,684.2ZM465.9,684.2L462.7,684.2L462.0,683.8L461.8,683.0L464.3,682.1L468.0,683.0L467.3,683.8ZM530.7,680.0L523.9,680.2L517.9,679.3L513.4,677.2L512.5,676.0L512.4,674.8L513.8,672.8L516.3,671.3L522.7,669.4L526.7,668.9L531.9,668.8L538.3,669.4L542.7,671.0L544.6,672.8L544.8,674.0L544.2,675.2L541.9,677.2L537.5,678.9ZM531.5,679.6L525.1,679.9L519.1,679.2L514.5,677.2L513.4,676.0L513.3,674.8L514.7,672.8L517.1,671.4L522.3,669.9L526.3,669.3L531.5,669.1L537.9,669.7L542.0,671.2L543.7,672.8L543.6,674.8L541.5,676.8L537.5,678.5ZM527.5,679.6L521.9,679.3L517.5,678.2L514.7,676.4L514.3,674.4L515.9,672.6L518.7,671.3L523.9,669.9L529.1,669.4L537.9,670.1L541.1,671.4L542.7,672.8L542.9,674.0L542.4,675.2L538.7,677.7L533.5,679.0ZM528.3,679.2L523.1,679.1L519.1,678.2L515.9,676.4L515.3,674.4L517.1,672.6L521.1,671.0L524.7,670.1L529.5,669.8L537.9,670.6L540.7,671.9L541.9,673.2L541.4,675.2L538.3,677.3L533.5,678.6ZM527.9,678.8L523.1,678.7L519.9,677.9L517.2,676.4L516.6,675.6L516.5,674.4L518.0,672.8L521.5,671.3L529.5,670.2L537.1,670.9L539.5,672.0L540.7,673.2L540.9,674.0L540.3,675.2L537.5,677.1L533.1,678.3ZM527.1,678.4L523.1,678.2L520.3,677.4L518.2,676.0L517.8,674.4L518.8,673.2L522.3,671.6L529.9,670.6L536.7,671.4L538.7,672.4L539.7,673.6L539.1,675.2L536.6,676.8L531.9,678.0ZM531.5,677.6L526.3,677.9L522.3,677.5L519.7,676.0L519.3,674.4L520.4,673.2L522.7,672.0L528.7,671.1L534.3,671.5L536.7,672.2L538.1,673.2L538.4,674.4L537.3,675.6ZM529.9,677.2L522.7,676.8L521.0,675.6L520.8,674.4L523.1,672.6L528.3,671.7L533.3,672.0L535.7,672.8L536.7,673.6L536.7,674.5L535.5,675.6ZM530.3,676.4L527.1,676.6L523.9,676.1L522.7,675.4L522.5,674.4L524.3,673.1L528.3,672.4L532.3,672.8L534.4,674.0L533.7,675.2ZM529.5,675.2L527.1,675.3L526.0,674.4L527.5,673.6L529.1,673.7L530.4,674.4ZM439.0,705.1L429.8,705.1L423.0,703.5L418.9,701.1L418.0,699.5L418.1,697.9L419.8,695.7L423.0,694.1L427.4,693.0L433.8,692.3L439.0,692.5L445.0,693.7L448.6,695.3L450.7,697.1L451.2,698.3L451.0,699.5L449.0,701.9L445.0,703.8ZM439.4,704.7L430.6,704.8L423.8,703.3L419.9,701.1L419.0,699.5L419.1,697.9L420.6,695.9L423.4,694.4L427.8,693.3L433.8,692.7L439.0,692.9L444.6,694.1L447.4,695.2L449.7,697.1L450.2,698.3L450.1,699.5L448.6,701.5L444.6,703.4ZM439.4,704.3L431.0,704.4L425.0,703.3L420.9,701.1L420.0,699.5L420.1,697.9L421.1,696.3L423.8,694.8L427.8,693.7L433.4,693.1L438.6,693.3L443.4,694.2L446.6,695.4L448.7,697.1L449.2,699.1L447.8,701.3L443.8,703.2ZM439.0,703.9L431.0,704.0L425.4,702.9L421.6,700.7L421.0,699.5L421.0,697.9L422.2,696.3L425.0,694.9L433.0,693.5L441.4,694.2L445.4,695.5L447.6,697.1L448.2,699.1L447.0,701.0L443.0,702.9ZM438.2,703.5L431.0,703.6L425.4,702.3L422.4,700.3L422.0,697.9L423.4,696.3L426.2,695.1L433.4,694.0L441.0,694.6L445.0,696.0L446.8,697.5L447.2,699.1L445.8,700.9L441.8,702.8ZM437.0,703.1L431.0,703.0L425.8,701.7L423.2,699.9L423.1,697.9L424.3,696.7L427.4,695.4L433.4,694.5L441.0,695.2L444.2,696.4L445.9,697.9L445.8,699.5L444.2,701.0L441.0,702.4ZM438.6,702.3L435.4,702.6L429.8,702.2L425.4,700.5L424.3,699.5L424.2,698.3L425.4,697.1L427.9,695.9L433.0,695.0L439.8,695.6L442.9,696.7L444.4,697.9L444.6,699.1L443.6,700.3L441.0,701.7ZM435.8,701.9L429.4,701.2L426.6,699.7L426.1,699.1L426.1,698.3L429.0,696.3L433.4,695.7L439.4,696.3L441.5,697.1L442.9,698.3L442.6,699.5L440.9,700.7ZM437.0,700.8L435.0,701.0L430.6,700.5L428.8,699.5L428.4,698.3L429.8,697.0L433.8,696.5L437.8,697.0L440.2,698.3L439.9,699.5ZM435.0,699.5L431.9,698.7L433.5,697.9L436.2,698.3L436.2,699.1ZM476.9,738.6L467.7,738.9L460.9,737.7L457.3,736.1L455.2,734.6L454.2,733.0L454.3,731.0L455.9,729.0L459.7,727.2L464.5,725.9L469.7,725.4L475.3,725.6L480.5,726.3L485.3,727.9L488.1,730.2L488.8,731.8L488.6,733.0L486.5,735.7L482.9,737.3ZM472.9,738.6L466.1,738.3L459.7,736.7L455.8,734.2L455.0,732.6L455.2,731.0L456.9,729.2L460.1,727.5L464.9,726.2L470.1,725.8L476.1,726.0L480.5,726.8L484.9,728.3L487.3,730.6L487.8,731.8L487.5,733.4L485.3,735.8L479.3,737.8ZM472.9,738.2L466.5,738.0L460.9,736.6L456.8,734.2L456.1,733.0L456.1,731.4L457.7,729.5L460.5,728.0L464.9,726.7L469.7,726.3L479.3,726.9L484.1,728.6L486.3,730.6L486.6,733.0L485.7,734.6L484.5,735.5L478.9,737.5ZM476.5,737.4L468.1,737.7L462.9,736.7L458.5,734.6L457.4,733.4L457.1,731.8L458.1,730.2L460.5,728.6L464.5,727.2L468.5,726.8L478.5,727.2L482.9,728.8L485.0,730.2L485.7,732.2L484.5,734.6L480.5,736.5ZM476.1,737.0L468.5,737.2L463.7,736.4L459.4,734.2L458.5,733.0L458.5,731.8L459.4,730.2L461.7,728.8L464.9,727.7L469.3,727.2L478.5,727.7L482.1,729.2L484.0,730.6L484.5,732.6L483.3,734.5L479.3,736.3ZM474.9,736.7L468.1,736.7L463.7,735.7L460.5,733.8L459.9,732.6L460.0,731.4L461.4,729.8L464.5,728.4L471.3,727.6L478.1,728.2L480.5,729.1L482.5,730.6L483.2,732.6L482.1,734.2L478.5,735.9ZM473.7,736.2L468.1,736.1L464.9,735.3L461.8,733.4L461.5,731.4L462.5,730.2L465.3,728.9L472.1,728.2L478.1,728.8L481.3,731.0L481.7,732.6L480.3,734.2L477.7,735.5ZM474.5,735.4L470.1,735.6L466.5,735.0L463.7,733.4L463.1,731.8L463.9,730.6L465.3,729.8L471.3,728.9L476.9,729.3L479.4,730.6L480.1,732.2L479.4,733.4L477.3,734.8ZM474.1,734.6L470.1,734.8L467.7,734.4L465.9,733.4L465.2,731.8L466.9,730.5L471.7,729.7L476.1,730.2L477.8,731.0L478.2,731.8L477.7,733.0L476.5,733.9ZM472.9,733.4L469.3,733.5L468.5,733.0L468.2,732.2L469.4,731.4L471.7,731.0L474.5,731.8L474.6,732.6ZM513.0,757.1L505.4,757.4L497.0,756.0L494.6,755.0L491.8,753.1L490.7,751.5L490.7,749.9L492.6,747.5L496.6,745.5L501.8,744.4L508.6,743.8L513.0,744.2L519.0,745.4L522.6,746.9L524.7,748.7L525.2,749.9L525.2,751.5L523.4,753.9L518.6,756.1ZM513.0,756.7L505.4,757.0L497.4,755.7L495.0,754.7L492.9,753.1L491.7,751.5L491.7,749.9L493.7,747.5L497.4,745.7L502.6,744.7L508.6,744.2L513.4,744.6L518.6,745.8L521.7,747.1L523.7,748.7L524.4,751.1L522.9,753.5L518.6,755.7ZM512.6,756.3L505.4,756.6L497.8,755.3L495.4,754.2L493.6,752.7L492.8,751.5L492.8,749.9L494.4,747.9L497.8,746.1L503.0,745.0L508.6,744.6L513.0,745.0L517.8,746.1L521.1,747.5L522.9,749.1L523.3,751.5L521.7,753.5L517.8,755.4ZM512.2,755.9L505.4,756.1L498.2,754.8L494.6,752.7L493.8,751.1L493.9,749.9L495.7,747.9L498.6,746.4L503.4,745.4L508.6,745.1L517.0,746.4L519.6,747.5L521.6,749.1L522.3,750.3L522.2,751.5L520.6,753.4L517.4,755.0ZM511.8,755.5L505.8,755.7L499.4,754.6L495.8,752.7L495.0,751.5L495.0,750.3L496.5,748.3L499.0,746.9L503.4,745.9L508.2,745.5L515.8,746.6L518.9,747.9L520.6,749.5L521.0,751.5L519.1,753.5L516.6,754.7ZM511.0,755.1L504.6,755.1L500.2,754.2L497.2,752.7L496.3,751.5L496.3,750.3L497.5,748.7L499.8,747.4L503.8,746.4L508.2,746.0L515.0,747.0L517.8,748.1L519.3,749.5L519.7,751.5L518.2,753.2L515.8,754.2ZM509.4,754.7L503.8,754.4L500.6,753.6L498.3,752.3L497.8,751.5L497.8,750.3L499.0,748.7L501.0,747.8L508.6,746.6L515.0,747.7L517.1,748.7L518.2,749.9L518.2,751.5L516.6,753.1ZM510.2,754.0L502.6,753.5L499.8,751.9L499.4,750.3L500.4,749.1L502.6,748.1L508.6,747.3L513.8,748.1L516.5,749.9L516.7,751.1L515.7,752.3ZM509.4,753.1L503.3,752.7L501.6,751.5L501.4,750.3L503.4,748.8L508.2,748.2L512.2,748.6L514.4,749.9L514.6,750.7L513.8,751.7ZM507.0,751.5L504.9,751.5L504.1,750.7L505.0,750.0L507.4,749.7L510.3,750.3L509.5,751.1ZM450.3,769.1L443.1,769.2L434.7,767.3L431.1,765.1L430.3,763.5L430.4,762.3L432.2,760.3L435.9,758.6L441.1,757.4L447.1,757.1L453.5,757.6L457.1,758.4L461.1,760.1L463.0,761.9L463.4,763.1L463.0,764.3L460.7,766.5L456.3,768.2ZM451.1,768.7L443.5,768.9L436.3,767.4L433.6,766.3L432.0,765.1L431.3,763.9L431.3,762.3L433.1,760.4L436.3,758.9L441.1,757.8L447.1,757.4L456.3,758.7L459.9,760.1L462.1,761.9L462.4,763.1L462.1,764.3L460.3,766.1L456.7,767.6ZM451.1,768.3L443.9,768.6L437.5,767.3L433.1,765.2L432.2,763.9L432.1,762.7L433.5,760.8L436.7,759.2L441.1,758.2L446.7,757.8L455.5,758.9L459.0,760.3L461.0,761.9L461.3,763.9L459.6,765.9L456.3,767.3ZM451.1,768.0L444.3,768.2L438.7,767.2L434.2,765.1L433.2,763.9L433.1,762.7L434.2,761.1L437.1,759.6L441.1,758.6L446.7,758.1L455.1,759.3L457.9,760.4L459.9,761.9L460.3,763.9L459.0,765.5L455.9,766.9ZM451.1,767.5L444.7,767.8L439.5,766.9L435.5,765.1L434.3,763.9L434.2,762.7L435.5,761.1L438.7,759.6L447.1,758.6L454.7,759.7L457.5,760.9L459.0,762.3L459.2,763.9L457.9,765.3L455.5,766.4ZM450.3,767.2L444.7,767.3L439.9,766.4L436.4,764.7L435.5,762.7L436.9,761.1L439.5,760.0L447.1,759.0L453.9,760.1L456.2,761.1L457.7,762.3L457.9,763.9L456.7,765.1ZM449.5,766.7L444.7,766.7L440.7,766.0L437.9,764.7L437.2,763.9L437.0,762.7L437.9,761.5L440.3,760.4L447.5,759.6L453.1,760.5L455.1,761.5L456.3,762.7L456.3,763.9L455.1,765.0ZM450.3,765.9L445.9,766.2L441.5,765.5L439.2,764.3L438.6,762.7L440.7,761.1L447.1,760.2L451.9,760.9L454.3,762.3L454.6,763.5L454.0,764.3ZM449.9,765.1L447.1,765.4L443.1,765.0L441.3,764.3L440.5,763.1L441.8,761.9L446.4,761.1L449.1,761.2L452.2,762.3L452.7,763.1L452.2,763.9ZM448.3,764.0L445.5,763.9L444.5,763.1L447.9,762.5L449.0,763.1ZM581.1,784.4L573.5,784.5L565.9,783.3L560.7,780.8L559.4,778.8L559.4,777.2L561.0,775.2L564.7,773.3L569.1,772.2L575.9,771.6L586.3,772.6L591.5,774.5L593.9,776.4L594.3,777.6L594.1,778.8L591.9,781.4L587.5,783.3ZM581.5,784.0L573.5,784.1L566.3,783.0L561.3,780.4L560.3,778.8L560.3,777.2L562.1,775.2L565.9,773.4L569.5,772.5L575.9,772.0L585.9,773.0L590.3,774.6L592.9,776.4L593.4,777.6L593.2,778.8L591.1,781.2L587.1,782.9ZM581.5,783.6L573.5,783.7L566.7,782.6L562.0,780.0L561.3,778.8L561.3,777.6L562.8,775.6L566.3,773.8L569.5,772.9L575.9,772.4L585.5,773.3L589.9,775.1L592.0,776.8L592.4,778.0L592.1,779.2L590.3,781.0L586.7,782.6ZM581.1,783.2L573.5,783.3L567.5,782.3L563.2,780.0L562.4,778.8L562.4,777.6L564.0,775.6L567.1,774.0L576.3,772.8L585.1,773.7L589.1,775.5L591.0,777.2L591.0,779.2L589.1,781.0L585.1,782.5ZM580.7,782.8L573.5,782.9L567.9,781.9L564.5,780.0L563.6,778.8L563.7,777.6L565.1,775.7L567.5,774.4L575.9,773.2L584.3,774.1L587.5,775.4L589.7,777.2L590.0,778.8L588.7,780.4L584.7,782.1ZM578.7,782.4L572.7,782.3L568.3,781.3L565.4,779.6L564.8,777.6L566.0,776.0L568.3,774.8L576.3,773.7L584.3,774.7L587.0,776.0L588.5,777.6L588.4,779.2L586.2,780.8L582.7,782.0ZM581.1,781.7L575.9,781.9L570.7,781.3L566.9,779.6L566.2,778.8L566.1,777.6L567.0,776.4L569.1,775.3L575.9,774.2L582.7,774.9L586.4,776.8L587.1,778.4L586.4,779.6L584.3,780.8ZM578.3,781.2L570.7,780.5L568.3,779.2L567.8,777.6L568.8,776.4L570.3,775.7L576.3,774.9L582.7,775.7L584.3,776.4L585.4,777.6L585.3,778.8L583.9,780.1ZM578.3,780.4L571.9,779.8L570.1,778.8L569.8,777.6L571.8,776.4L576.3,775.7L581.5,776.4L583.6,777.6L583.7,778.4L582.7,779.4ZM577.1,779.2L575.2,778.8L574.3,778.0L575.3,777.2L576.7,777.0L579.4,778.0L578.7,778.8ZM468.7,842.2L460.3,842.1L453.5,840.3L451.5,839.4L449.8,837.8L449.2,836.6L449.3,835.0L451.1,832.7L455.1,830.9L459.1,829.8L464.7,829.4L469.1,829.6L475.1,830.7L478.7,832.5L480.7,834.2L481.3,835.4L481.2,836.6L478.7,839.3L474.3,841.3ZM469.1,841.8L461.5,841.9L454.3,840.1L452.3,839.2L450.8,837.8L450.1,836.2L450.2,835.0L451.8,833.0L455.5,831.2L459.1,830.2L464.7,829.7L469.1,830.0L474.7,831.1L477.9,832.6L480.0,834.6L480.2,836.6L477.9,839.1L473.9,840.9ZM469.1,841.4L462.3,841.6L456.7,840.4L452.1,838.2L451.2,836.6L451.2,835.0L452.7,833.2L456.7,831.3L459.9,830.5L465.1,830.1L469.5,830.4L474.7,831.5L477.1,832.8L479.0,834.6L479.2,836.6L477.1,838.9L473.9,840.5ZM468.7,841.1L462.7,841.2L457.1,840.1L452.9,837.8L452.2,836.6L452.3,835.0L453.8,833.4L457.1,831.7L464.7,830.5L469.1,830.8L473.5,831.7L475.9,832.7L477.6,834.2L478.3,836.2L476.7,838.4L473.5,840.1ZM468.3,840.6L462.7,840.7L457.5,839.6L454.2,837.8L453.4,836.6L453.4,835.4L454.7,833.8L457.5,832.1L464.7,831.0L472.7,832.0L475.1,833.0L476.5,834.2L477.2,836.2L475.7,838.2L472.7,839.8ZM467.5,840.2L462.7,840.2L457.9,839.2L455.1,837.4L454.6,836.6L454.7,835.4L456.0,833.8L458.3,832.5L464.7,831.5L471.9,832.4L474.3,833.3L475.6,834.6L475.8,836.6L474.4,838.2L471.5,839.5ZM465.5,839.8L461.5,839.5L458.3,838.6L456.2,837.0L456.0,835.4L457.1,834.2L459.1,833.0L464.7,832.1L471.1,832.8L473.1,833.6L474.3,834.6L474.5,836.6L472.7,838.2L469.5,839.3ZM467.1,839.0L463.9,839.1L459.9,838.4L458.1,837.4L457.5,835.8L458.3,834.6L459.9,833.6L464.3,832.8L470.2,833.4L473.1,835.0L473.1,836.2L472.1,837.4ZM466.7,838.2L464.3,838.4L461.1,837.8L459.7,837.0L459.4,835.8L461.1,834.3L464.3,833.6L468.7,834.2L471.0,835.4L471.0,836.2L470.3,837.0ZM465.9,837.0L463.2,837.0L462.4,836.6L462.1,835.8L463.5,834.8L465.5,834.8L466.8,835.8ZM420.3,937.0L411.9,936.6L407.5,935.5L403.5,933.0L402.7,931.8L402.7,930.2L404.8,927.8L407.9,926.0L413.9,924.1L419.5,923.4L425.1,923.4L431.9,924.5L435.5,926.0L437.7,928.2L438.0,929.8L437.5,931.0L433.9,933.8L427.5,936.1ZM421.1,936.6L414.3,936.4L408.3,935.2L404.3,932.6L403.6,931.4L403.8,930.2L405.3,928.2L408.3,926.4L413.9,924.5L419.1,923.8L425.1,923.8L431.5,924.9L434.7,926.2L436.7,928.2L437.1,929.4L436.8,930.6L433.5,933.4L427.5,935.7ZM421.1,936.2L414.7,936.1L409.1,934.9L405.5,932.6L404.8,931.4L404.8,930.2L406.3,928.2L409.5,926.4L414.3,924.8L419.1,924.2L424.7,924.2L430.7,925.3L433.5,926.3L435.6,928.2L436.0,929.4L435.6,930.6L432.7,933.1L427.5,935.2ZM421.1,935.8L415.1,935.7L409.5,934.5L406.4,932.2L405.9,931.0L406.0,929.8L407.9,927.8L412.3,925.9L415.5,925.0L420.7,924.6L424.3,924.6L428.3,925.2L432.3,926.5L434.4,928.2L434.8,929.4L434.4,930.6L431.6,933.0L427.1,934.9ZM420.3,935.4L415.1,935.2L410.3,934.1L407.6,932.2L407.0,931.0L407.1,929.8L408.7,928.2L413.1,926.1L416.3,925.4L421.5,925.0L428.7,925.9L431.5,927.0L433.2,928.6L433.3,929.8L432.8,931.0L429.9,933.2L425.5,934.8ZM423.1,934.7L417.9,934.9L412.3,934.0L409.1,932.3L408.3,930.2L409.6,928.6L412.7,927.0L419.1,925.6L423.1,925.5L427.1,926.1L429.9,927.2L431.5,928.6L431.8,930.2L430.2,932.2L427.5,933.6ZM421.9,934.2L417.5,934.3L413.1,933.4L410.7,932.2L410.0,931.4L409.9,930.2L410.7,929.0L413.1,927.6L418.7,926.2L422.7,926.1L426.3,926.7L428.5,927.4L429.9,928.6L430.2,930.6L428.8,932.2L425.9,933.4ZM422.7,933.4L419.1,933.8L414.7,933.0L412.2,931.8L411.6,930.2L414.0,928.2L418.7,926.9L423.5,926.9L427.1,927.8L428.3,928.6L428.9,930.2L428.2,931.4L426.3,932.5ZM422.3,932.6L419.5,933.0L416.3,932.3L414.1,931.4L413.6,930.2L416.7,928.2L420.3,927.6L423.5,927.8L426.9,929.4L427.2,930.2L426.7,931.0ZM421.5,931.5L419.1,931.6L417.1,930.2L417.8,929.4L419.3,929.0L421.9,928.9L423.2,929.4L423.5,929.8L423.3,930.6ZM387.0,961.1L378.2,961.3L373.8,960.3L370.2,958.8L367.2,956.7L365.4,954.3L364.7,951.5L365.3,948.7L367.3,946.3L369.8,944.4L377.8,941.7L387.4,941.9L391.4,943.0L394.6,944.4L397.4,946.4L399.4,949.1L399.9,951.5L399.4,953.9L397.4,956.5L393.8,958.8ZM385.8,960.7L377.0,960.5L373.4,959.5L369.8,957.8L367.4,955.9L366.0,953.5L365.8,950.7L366.6,948.3L368.6,946.1L370.6,944.7L378.2,942.2L387.4,942.5L391.8,943.8L394.6,945.2L397.0,947.1L398.6,949.5L398.9,951.9L398.1,954.3L396.5,956.3L392.6,958.7L389.0,960.1ZM387.0,959.9L378.2,960.1L374.6,959.3L371.0,957.7L368.5,955.9L367.1,953.9L366.7,951.1L367.5,948.7L369.1,946.7L371.0,945.3L377.8,942.9L386.2,942.9L393.0,945.1L395.7,947.1L397.3,949.1L397.8,951.1L397.4,953.5L396.1,955.5L393.0,957.7ZM385.4,959.5L376.6,959.1L370.6,956.5L368.6,954.7L367.9,953.1L367.9,950.3L368.9,948.3L371.8,945.7L378.6,943.5L386.6,943.6L390.6,944.8L393.0,946.1L395.2,947.9L396.3,949.5L396.7,951.5L396.0,953.9L394.7,955.5L391.8,957.6ZM385.8,958.8L377.0,958.5L371.8,956.2L370.0,954.7L369.1,953.1L369.0,950.7L369.8,948.7L372.6,946.3L378.6,944.2L385.8,944.2L391.7,946.3L394.1,948.3L395.3,949.9L395.6,951.5L395.1,953.1L394.1,954.7L391.8,956.7ZM386.2,957.9L377.8,957.8L373.4,956.0L371.6,954.7L370.5,953.1L370.3,951.1L370.8,949.5L373.1,947.1L378.2,945.1L384.6,944.7L390.2,946.5L393.8,949.9L394.2,951.1L394.0,952.7L391.3,955.9ZM385.8,957.2L378.6,957.1L374.2,955.3L372.8,954.3L371.9,952.7L371.8,951.1L372.4,949.5L373.9,947.9L376.2,946.6L381.4,945.5L385.4,945.7L389.4,947.1L392.3,950.3L392.4,952.7L390.2,955.3ZM383.8,956.3L378.6,956.1L375.0,954.3L373.6,952.3L374.6,949.1L377.0,947.4L382.6,946.4L385.8,946.8L389.0,948.3L390.9,951.1L390.5,953.1L387.8,955.4ZM383.8,955.1L379.8,955.2L377.5,954.3L376.1,952.3L376.0,950.7L376.5,949.5L378.2,948.4L382.6,947.6L384.9,947.9L387.4,949.1L389.0,951.1L388.8,952.7L387.0,954.3ZM384.2,953.2L382.2,953.5L380.2,952.9L379.2,951.9L379.4,950.7L381.4,949.4L383.8,949.8L385.3,951.9Z" fill="none" stroke="#ff0000" stroke-width="0.7"/>
<polygon points="384,122.3 408,112 408,121.7" fill="#000"/>
<path d="M377,119.6L382.2,124.8M377,124.8L382.2,119.6" stroke="#000" stroke-width="2.5"/>
<text x="410.8" y="125.4" font-size="27.7">Gly 8</text>
<polygon points="609,97.5 581.2,91.8 581.2,100" fill="#000"/>
<path d="M610.8,94.8L616,100M610.8,100L616,94.8" stroke="#000" stroke-width="2.5"/>
<text x="494.7" y="100.8" font-size="27.7">Gly 19</text>
<polygon points="605,111 579,115.8 579,124.8" fill="#000"/>
<path d="M605.6,107.3L610.8,112.5M605.6,112.5L610.8,107.3" stroke="#000" stroke-width="2.5"/>
<text x="495.7" y="131.1" font-size="27.7">Gly 11</text>
<polygon points="332,208.5 333.2,192.5 344.3,192.5" fill="#000"/>
<path d="M329.4,208.4L334.6,213.6M329.4,213.6L334.6,208.4" stroke="#000" stroke-width="2.5"/>
<text x="296.7" y="187.8" font-size="27.7">Gly 13</text>
<polygon points="339.5,222.5 348.5,235.8 357.4,235.8" fill="#000"/>
<path d="M335.7,218.8L340.9,224M335.7,224L340.9,218.8" stroke="#000" stroke-width="2.5"/>
<text x="323.7" y="262.8" font-size="27.7">Gly 21</text>
<polygon points="298.5,238.5 285.6,219.6 289.4,219.6" fill="#000"/>
<path d="M296.9,237.3L302.1,242.5M296.9,242.5L302.1,237.3" stroke="#000" stroke-width="2.5"/>
<text x="223.4" y="221.1" font-size="27.7">Gly 3</text>
<polygon points="419.5,204.8 422.5,198.5 431.3,197.5" fill="#000"/>
<path d="M415.7,203.6L420.9,208.8M415.7,208.8L420.9,203.6" stroke="#000" stroke-width="2.5"/>
<text x="418.9" y="190.3" font-size="27.7">Gly 16</text>
<polygon points="431,252.2 450.9,249.9 450.9,258" fill="#000"/>
<path d="M425.7,249.5L430.9,254.7M425.7,254.7L430.9,249.5" stroke="#000" stroke-width="2.5"/>
<text x="454" y="262.5" font-size="27.7">Gly 6</text>
<polygon points="195.5,563 207.3,549.2 218.4,549.2" fill="#000"/>
<path d="M190.6,562.1L195.8,567.3M190.6,567.3L195.8,562.1" stroke="#000" stroke-width="2.5"/>
<text x="198.6" y="540.7" font-size="27.7">His 2</text>
<polygon points="290.3,595.5 290.6,575 298,575" fill="#000"/>
<path d="M287.3,595.1L292.5,600.3M287.3,600.3L292.5,595.1" stroke="#000" stroke-width="2.5"/>
<text x="260.7" y="567.4" font-size="27.7">His 15</text>
<polygon points="393,560.5 401.7,549.2 412.8,549.2" fill="#000"/>
<path d="M388.7,559.2L393.9,564.4M388.7,564.4L393.9,559.2" stroke="#000" stroke-width="2.5"/>
<text x="389.2" y="540.8" font-size="27.7">His 12</text>
<polygon points="388,567.3 415.3,574 415.3,581.4" fill="#000"/>
<path d="M383.5,564.4L388.7,569.6M383.5,569.6L388.7,564.4" stroke="#000" stroke-width="2.5"/>
<text x="418.9" y="584.8" font-size="27.7">His 20</text>
<polygon points="465.2,681.5 457.9,665 465.3,665" fill="#000"/>
<path d="M462.7,680.6L467.9,685.8M462.7,685.8L467.9,680.6" stroke="#000" stroke-width="2.5"/>
<text x="420.7" y="657" font-size="27.7">Phe 17</text>
<polygon points="530,673.5 533,666.5 544.2,666.5" fill="#000"/>
<path d="M526,672.1L531.2,677.3M526,677.3L531.2,672.1" stroke="#000" stroke-width="2.5"/>
<text x="523.6" y="658.8" font-size="27.7">Phe 9</text>
<polygon points="433,698.3 413.8,685.8 413.8,693.2" fill="#000"/>
<path d="M431.6,696.1L436.8,701.3M431.6,701.3L436.8,696.1" stroke="#000" stroke-width="2.5"/>
<text x="344.7" y="698.8" font-size="27.7">Tyr 5</text>
<polygon points="473.5,731 477.5,723.2 488,723.2" fill="#000"/>
<path d="M469.8,729.4L475,734.6M469.8,734.6L475,729.4" stroke="#000" stroke-width="2.5"/>
<text x="465.9" y="715.4" font-size="27.7">Leu 14</text>
<polygon points="508.6,752.5 501.5,767.6 508.9,767.6" fill="#000"/>
<path d="M506,748.3L511.2,753.5M506,753.5L511.2,748.3" stroke="#000" stroke-width="2.5"/>
<text x="461.4" y="792.1" font-size="27.7">Leu 22</text>
<polygon points="445.5,763.2 412,759.8 412,768.3" fill="#000"/>
<path d="M444.6,760.5L449.8,765.7M444.6,765.7L449.8,760.5" stroke="#000" stroke-width="2.5"/>
<text x="338.5" y="772.1" font-size="27.7">Leu 4</text>
<polygon points="577,776.5 574.2,753.5 582.3,753.5" fill="#000"/>
<path d="M574.1,775.7L579.3,780.9M574.1,780.9L579.3,775.7" stroke="#000" stroke-width="2.5"/>
<text x="552.1" y="745.1" font-size="27.7">Tyr 23</text>
<polygon points="464,835.5 436.9,825.6 436.9,833.7" fill="#000"/>
<path d="M462.7,833.1L467.9,838.3M462.7,838.3L467.9,833.1" stroke="#000" stroke-width="2.5"/>
<text x="372.6" y="837.6" font-size="27.7">Ala 7</text>
<polygon points="421.5,929 425.7,918.2 436.1,918.2" fill="#000"/>
<path d="M417.6,927.5L422.8,932.7M417.6,932.7L422.8,927.5" stroke="#000" stroke-width="2.5"/>
<text x="424.4" y="910.5" font-size="27.7">Ala 10</text>
<polygon points="381,948.5 361,929.5 364.5,939" fill="#000"/>
<path d="M379.8,947.1L385,952.3M379.8,952.3L385,947.1" stroke="#000" stroke-width="2.5"/>
<text x="278.2" y="940.2" font-size="27.7">Ala 18</text>
<rect x="699" y="803.8" width="29.9" height="29.1" fill="#ff0000"/>
<text x="739.8" y="825.2" font-size="25.6">pH 3.3</text>
<rect x="699" y="838.35" width="29.9" height="29.1" fill="#ff7f50"/>
<text x="739.8" y="859.75" font-size="25.6">pH 4</text>
<rect x="699" y="872.9" width="29.9" height="29.1" fill="#00ffff"/>
<text x="739.8" y="894.3" font-size="25.6">pH 5</text>
<rect x="699" y="907.45" width="29.9" height="29.1" fill="#ff00ff"/>
<text x="739.8" y="928.85" font-size="25.6">pH 6</text>
<rect x="699" y="942" width="29.9" height="29.1" fill="#0000ff"/>
<text x="739.8" y="963.4" font-size="25.6">pH 7</text>
<path d="M920.0,126.8L915.6,127.0L907.2,126.0L904.6,124.8L902.6,123.2L901.9,122.0L902.1,120.4L903.2,119.1L907.0,117.2L914.4,116.0L919.6,116.3L926.0,118.2L928.0,119.3L928.8,121.6L927.8,123.6L924.8,125.5ZM917.2,125.6L908.4,124.7L906.2,123.2L905.6,121.2L906.9,119.6L909.2,118.2L914.4,117.6L919.6,118.0L923.9,120.0L925.3,121.2L925.2,122.4L923.9,123.6L919.7,125.2ZM914.8,123.2L912.8,123.4L910.7,122.8L909.9,122.0L910.0,120.8L911.0,120.0L912.4,119.8L918.0,120.6L919.2,121.3L919.3,122.0L918.4,122.7ZM1147.7,117.4L1142.9,117.4L1139.7,116.7L1136.5,115.4L1134.2,113.4L1133.2,111.4L1133.0,109.8L1134.8,106.2L1134.9,105.0L1130.6,100.2L1130.3,98.6L1131.1,97.0L1133.3,95.2L1137.7,93.5L1146.9,91.9L1155.7,92.5L1161.3,94.0L1164.6,95.8L1166.2,97.8L1166.3,100.2L1164.5,102.2L1159.7,105.0L1158.5,106.2L1159.1,110.6L1158.2,113.0L1156.5,114.6L1154.1,116.0ZM1149.7,116.6L1145.7,117.0L1141.7,116.6L1137.7,115.3L1135.1,113.4L1134.2,111.8L1134.0,109.8L1135.8,106.2L1136.0,105.0L1131.5,99.8L1131.4,98.2L1132.5,96.6L1134.9,95.2L1139.3,93.5L1148.1,92.3L1154.5,92.8L1159.3,93.9L1161.7,94.8L1164.2,96.6L1165.3,99.0L1164.6,101.0L1158.4,105.0L1157.3,106.2L1158.1,110.6L1157.1,113.0L1154.1,115.3ZM1148.5,116.2L1141.7,116.1L1138.1,114.8L1136.1,113.3L1135.2,111.8L1135.0,109.8L1137.3,105.0L1133.1,100.6L1132.5,99.0L1132.8,97.8L1134.6,96.2L1138.5,94.4L1146.5,92.9L1154.9,93.4L1161.7,95.7L1163.6,97.4L1164.0,99.8L1161.9,102.2L1156.9,104.9L1156.1,105.8L1157.1,109.8L1156.6,112.2L1153.7,114.7ZM1149.3,115.5L1142.5,115.6L1138.7,114.2L1136.7,112.6L1136.1,111.4L1136.1,109.8L1138.9,105.0L1138.5,104.2L1135.1,101.4L1134.1,99.8L1134.1,98.2L1135.5,96.6L1140.9,94.3L1148.9,93.3L1156.5,94.3L1160.1,95.6L1162.3,97.4L1162.7,99.4L1161.6,101.4L1154.5,105.4L1154.5,106.6L1156.1,109.8L1155.5,112.2L1153.1,114.2ZM1147.3,115.0L1142.1,114.8L1138.9,113.2L1137.5,111.8L1137.5,109.4L1141.0,104.6L1136.2,101.0L1135.5,99.4L1135.9,97.8L1137.3,96.5L1140.1,95.2L1146.9,93.9L1154.5,94.5L1159.7,96.5L1161.3,98.6L1160.6,101.0L1158.9,102.3L1153.6,104.2L1152.3,105.4L1154.7,109.4L1154.9,110.6L1154.5,111.8L1151.7,114.0ZM1147.3,114.2L1142.5,114.0L1139.0,111.4L1138.8,109.8L1139.7,108.2L1144.6,104.6L1137.8,101.0L1137.0,99.4L1137.4,97.8L1141.3,95.6L1147.3,94.6L1154.1,95.1L1158.1,96.6L1159.8,98.6L1159.7,99.8L1158.9,101.0L1151.3,103.9L1147.0,105.0L1151.8,107.8L1153.4,110.6L1153.0,111.8L1151.7,112.9ZM1150.1,103.1L1146.1,103.1L1143.7,102.4L1140.0,100.6L1139.2,99.8L1139.2,98.6L1140.2,97.4L1142.5,96.2L1148.5,95.4L1154.7,96.2L1156.6,97.0L1157.9,98.2L1158.0,99.4L1157.3,100.4ZM1147.7,113.0L1144.5,113.3L1142.5,112.6L1140.8,111.0L1141.0,109.0L1142.9,107.5L1144.9,107.0L1150.1,108.6L1151.3,109.8L1151.1,111.4L1149.7,112.5ZM1150.9,101.8L1148.5,102.1L1144.9,101.5L1142.6,100.2L1142.0,98.6L1143.9,97.0L1148.5,96.4L1152.5,96.9L1155.1,98.2L1155.3,99.0L1154.7,99.8ZM1145.7,111.4L1143.3,111.0L1143.0,110.2L1143.3,109.4L1145.3,108.8L1147.5,109.8L1147.6,110.6ZM1149.7,100.6L1146.5,100.2L1145.3,99.0L1147.3,97.9L1150.5,98.1L1151.3,98.6L1151.5,99.4ZM865.2,219.0L856.0,218.2L850.0,216.4L848.3,215.4L846.8,213.8L846.0,212.2L846.1,211.0L848.3,208.6L850.8,207.4L856.4,205.7L863.6,205.0L872.0,205.4L876.8,206.4L881.3,208.2L883.8,210.6L884.1,211.8L883.6,213.4L882.2,215.0L880.4,216.0L872.0,218.7ZM869.2,218.2L862.8,218.3L855.2,217.1L849.6,215.0L848.0,213.0L847.8,211.4L849.2,209.4L851.2,208.2L856.4,206.5L863.2,205.7L874.4,206.6L879.6,208.5L881.8,210.6L882.2,212.6L880.4,214.7L873.6,217.5ZM869.2,217.4L863.2,217.6L855.2,216.1L850.8,214.2L849.9,213.0L849.8,211.4L851.2,209.6L855.2,207.8L863.2,206.4L873.6,207.3L877.2,208.7L879.7,210.6L879.9,212.6L877.3,215.0L872.4,217.0ZM866.8,216.6L862.4,216.5L855.2,214.9L852.7,213.4L852.3,211.4L853.6,209.9L856.0,208.7L863.2,207.3L872.4,208.2L875.2,209.4L876.5,210.6L876.8,212.6L875.1,214.6L871.2,216.2ZM868.0,215.4L864.4,215.6L860.4,214.9L856.2,213.0L855.3,211.8L857.2,210.2L863.2,208.5L870.4,209.0L873.1,210.2L874.0,212.2L873.2,213.8L870.8,215.1ZM866.0,213.8L862.2,213.4L860.8,212.6L860.8,211.8L863.2,210.6L865.6,210.2L869.2,210.5L870.6,211.4L870.7,212.2L870.0,213.1ZM954.1,213.9L944.1,213.3L939.3,211.9L935.1,208.7L934.6,207.5L934.9,205.9L937.8,203.1L941.3,201.4L952.5,199.9L962.5,201.4L967.3,203.5L969.0,205.1L969.4,206.7L969.1,208.3L966.1,211.1L960.1,213.1ZM955.3,213.1L950.5,213.2L944.5,212.5L940.5,211.4L937.4,209.1L936.5,207.5L936.5,206.3L938.4,203.9L941.7,202.1L948.1,200.9L952.5,200.7L961.3,201.9L964.5,203.2L967.3,205.5L967.7,206.7L967.5,207.9L965.1,210.3L960.1,212.2ZM954.5,212.3L949.3,212.3L941.3,210.7L938.9,208.7L938.3,207.1L938.5,205.9L940.0,204.3L942.9,202.7L948.1,201.7L952.9,201.5L960.5,202.6L963.4,203.9L965.1,205.5L965.5,207.5L963.7,209.5L958.9,211.5ZM956.1,211.1L949.7,211.4L943.3,210.1L940.9,208.7L940.4,207.5L940.5,206.3L941.4,205.1L943.2,203.9L948.9,202.6L953.7,202.5L958.1,203.1L960.3,203.9L962.9,205.6L963.4,207.1L962.5,208.4L960.1,209.8ZM951.3,210.3L948.5,210.2L944.1,208.4L943.1,207.5L943.3,206.3L944.6,205.1L947.3,203.9L953.3,203.6L958.2,204.7L960.4,206.7L960.0,207.9L957.1,209.5ZM950.5,208.7L949.3,208.6L948.1,207.9L947.7,207.1L947.9,206.3L948.9,205.8L953.3,205.5L954.8,205.9L955.6,206.7L954.9,207.7ZM967.0,260.7L961.8,261.0L956.2,260.6L948.2,258.4L946.2,257.2L944.6,255.5L944.0,253.9L944.3,251.9L946.1,249.1L948.1,247.5L951.8,246.2L956.6,245.3L964.6,245.1L971.0,246.4L974.6,247.6L978.3,251.5L978.9,253.1L978.5,254.7L975.0,257.9ZM967.0,259.9L962.2,260.2L956.2,259.8L949.0,257.6L947.3,256.7L946.0,255.1L945.7,253.5L946.0,251.9L947.4,249.6L949.0,248.3L952.2,247.0L957.8,245.9L964.6,246.0L973.8,248.3L976.8,251.5L977.2,253.1L976.9,254.3L974.1,257.1ZM966.2,259.1L957.4,259.1L953.4,258.2L948.2,255.5L947.4,253.9L947.9,251.5L949.1,249.9L951.8,248.4L959.0,246.7L964.6,246.9L970.2,248.2L973.0,249.5L975.2,252.3L975.2,253.5L974.4,255.1L971.6,257.1ZM966.6,258.0L960.2,258.2L954.6,257.3L950.1,254.7L949.3,253.5L949.4,252.3L950.2,251.0L952.6,249.5L958.6,247.9L963.4,247.7L968.9,249.1L971.8,251.1L972.6,252.7L972.6,253.9L970.4,256.3ZM965.8,256.7L959.8,256.9L955.0,255.7L953.0,254.3L952.7,252.3L954.0,250.7L956.6,249.7L962.2,249.0L965.0,249.4L968.7,251.1L969.9,253.1L968.7,255.5ZM962.6,254.8L960.2,254.8L957.0,253.5L956.4,252.7L957.3,251.9L959.0,251.5L963.0,252.2L964.2,253.5ZM729.8,571.9L721.8,571.7L715.8,570.1L711.6,567.5L711.0,566.3L711.2,564.7L713.1,562.3L717.0,560.4L720.2,559.5L726.6,558.9L732.6,559.4L736.2,560.2L740.2,561.8L742.5,563.5L743.1,565.1L742.9,566.3L740.7,568.7L736.2,570.8ZM732.6,571.1L723.8,571.4L718.2,570.4L715.1,569.1L713.0,567.5L712.2,566.3L712.3,564.7L713.8,562.7L717.4,560.9L720.6,560.0L726.2,559.4L735.4,560.6L739.0,561.9L741.3,563.5L742.0,565.5L740.5,567.9L737.4,569.8ZM731.4,570.8L723.4,570.8L718.6,569.9L716.2,568.9L714.4,567.5L713.6,566.3L713.5,564.7L715.0,562.8L718.2,561.2L721.0,560.5L726.2,559.9L732.2,560.5L735.8,561.4L738.6,562.5L740.3,563.9L740.7,565.9L739.0,568.1L736.2,569.5ZM730.2,570.3L723.8,570.3L719.7,569.5L715.9,567.5L714.8,565.9L714.8,564.7L716.1,563.1L719.4,561.5L726.2,560.4L731.8,561.0L735.4,562.0L737.8,563.0L739.2,564.3L739.2,566.3L737.8,567.9L734.2,569.5ZM731.0,569.5L725.8,569.8L720.8,569.1L717.0,566.7L716.4,564.7L717.5,563.5L720.2,562.0L726.2,561.0L733.0,562.0L735.9,563.1L737.6,564.3L737.9,565.9L737.0,567.2L734.2,568.7ZM728.2,569.1L724.2,568.9L721.0,568.2L718.9,566.3L718.5,564.7L721.0,562.7L726.2,561.7L732.6,562.8L735.8,564.7L735.9,565.9L734.2,567.5ZM729.8,567.9L726.6,568.3L722.6,567.6L720.9,566.3L720.7,564.7L722.2,563.4L725.8,562.5L731.0,563.3L733.1,564.3L733.7,565.1L733.3,566.3ZM728.2,566.8L724.9,566.7L723.6,565.9L723.4,565.1L724.3,564.3L725.8,563.9L729.4,564.7L729.9,565.5ZM824.2,605.3L817.0,605.3L811.0,603.1L808.8,601.6L807.4,600.0L806.8,598.0L807.3,596.0L808.7,594.4L811.4,592.5L817.4,590.7L825.4,590.9L830.6,592.5L833.0,594.2L834.3,596.0L834.8,598.0L834.4,600.0L833.0,601.7L830.6,603.3ZM824.6,604.4L821.8,604.8L817.4,604.6L813.4,603.3L810.6,601.8L809.2,600.4L808.3,598.4L808.6,596.4L809.9,594.8L811.8,593.4L817.8,591.4L825.0,591.6L829.4,592.9L831.7,594.4L832.9,596.0L833.5,598.0L833.2,599.6L832.0,601.2L829.8,602.8ZM824.2,603.6L817.4,603.7L814.2,602.6L810.5,600.0L809.9,598.4L810.4,596.4L813.0,594.0L818.2,592.2L824.6,592.4L828.6,593.6L830.4,594.8L831.6,596.4L832.0,598.0L831.7,599.6L828.6,602.3ZM823.0,602.8L817.4,602.5L814.2,601.3L811.9,599.2L812.1,596.8L814.2,594.7L818.6,593.1L824.2,593.3L827.4,594.3L829.9,596.8L829.9,599.2L827.5,601.6ZM823.0,601.6L818.6,601.3L815.4,600.1L814.2,598.8L814.6,596.8L816.4,595.2L819.4,594.2L823.4,594.3L825.8,595.0L827.6,596.8L827.6,599.2L826.1,600.8ZM823.8,599.6L821.8,599.9L819.4,599.5L817.8,598.4L817.8,597.2L819.8,595.9L824.2,596.2L824.9,596.8L825.1,598.0ZM917.7,571.9L908.5,571.6L902.9,570.1L901.3,569.2L899.9,567.5L899.4,566.3L899.5,564.7L901.4,562.3L907.3,559.0L915.3,556.5L920.1,555.5L927.7,555.1L935.7,555.6L939.7,556.9L942.7,559.5L943.0,561.5L941.9,563.9L940.5,565.3L937.7,566.9L930.1,569.8L923.7,571.4ZM920.1,571.1L912.5,571.3L906.1,570.3L902.0,568.3L900.8,566.3L900.9,564.7L902.6,562.7L908.1,559.4L920.1,556.1L927.3,555.6L934.5,556.2L938.7,557.5L941.3,559.9L941.5,561.9L940.5,563.9L936.5,566.7L929.7,569.3L923.7,570.8ZM916.5,570.7L911.3,570.5L906.5,569.4L903.1,567.5L902.4,566.3L902.4,565.1L904.9,562.3L908.5,560.1L912.5,558.6L919.7,556.8L926.9,556.3L933.7,556.9L937.6,558.3L939.7,560.3L939.8,562.3L939.0,563.9L934.1,567.0L923.7,570.2ZM917.3,569.9L911.7,569.8L907.9,568.7L904.8,566.7L904.5,565.9L904.7,564.7L906.7,562.3L910.5,560.1L920.1,557.4L926.9,557.0L932.9,557.6L935.7,558.7L937.9,560.7L938.2,562.3L937.6,563.5L933.3,566.5L923.7,569.5ZM923.3,568.7L916.1,569.1L910.9,568.6L907.7,566.7L907.0,565.5L907.1,564.3L908.0,563.1L912.1,560.3L919.7,558.2L924.5,557.8L928.9,558.0L933.3,558.8L935.7,560.7L936.1,562.7L933.7,565.1L928.5,567.4ZM922.1,567.9L915.7,568.0L912.5,567.6L910.3,566.3L909.8,564.3L911.2,562.3L913.3,560.9L922.5,558.8L928.9,559.2L932.1,560.2L933.5,561.5L933.5,563.1L931.7,564.7L927.3,566.8ZM922.1,566.7L914.1,566.5L912.6,565.1L912.6,563.5L914.9,561.7L922.5,560.0L927.3,560.3L929.5,561.5L929.8,563.1L928.0,565.1L926.1,566.0ZM922.9,564.7L918.9,564.7L917.0,563.9L918.6,562.7L922.5,561.9L926.0,562.7L925.6,563.9ZM973.1,706.1L964.7,706.4L957.5,705.0L953.9,703.4L952.2,702.1L950.9,699.7L950.9,697.7L952.4,695.7L955.1,693.9L957.9,692.8L963.1,691.6L972.3,691.8L977.5,693.2L980.7,694.6L982.4,696.1L983.3,697.7L983.4,699.7L982.6,701.7L979.1,704.2ZM970.7,705.7L963.9,705.8L959.9,705.1L957.1,704.1L954.3,702.7L952.8,701.3L952.0,699.3L952.4,697.3L954.2,695.3L957.5,693.6L961.9,692.4L965.5,692.0L973.5,692.7L978.7,694.3L981.3,696.1L982.2,697.7L982.3,699.3L981.9,700.9L981.0,702.1L979.1,703.4L975.9,704.7ZM967.1,705.3L960.3,704.6L955.5,702.3L953.5,700.1L953.3,698.5L953.9,696.9L955.5,695.4L958.7,693.9L962.3,692.9L966.3,692.6L974.3,693.5L978.7,695.1L980.6,696.9L981.2,698.5L981.0,700.1L980.1,701.7L978.7,702.8L973.1,704.9ZM969.1,704.5L964.3,704.6L958.9,703.3L955.1,700.4L954.6,698.9L954.9,697.3L956.3,695.9L958.7,694.6L962.3,693.6L965.9,693.2L973.5,694.0L977.5,695.5L979.3,696.9L979.8,699.7L978.3,701.9L973.1,704.1ZM970.7,703.7L965.1,704.0L960.3,703.0L956.7,700.1L956.1,698.9L956.2,697.7L957.2,696.5L959.2,695.3L962.3,694.3L965.5,693.9L972.7,694.6L977.7,696.9L978.5,698.9L977.5,701.1L973.5,703.2ZM970.3,702.9L965.5,703.2L961.1,702.3L958.4,700.1L957.9,698.9L958.0,697.7L959.1,696.6L961.5,695.5L965.9,694.7L972.3,695.5L975.9,697.3L976.7,698.9L976.0,700.5L973.1,702.3ZM967.9,702.1L964.3,701.9L961.5,701.1L960.1,699.7L960.1,698.1L962.7,696.3L965.9,695.7L971.5,696.5L973.8,697.7L974.3,699.3L973.1,700.7L971.1,701.6ZM967.5,700.5L964.4,700.1L963.5,699.7L963.1,698.9L963.9,698.1L965.9,697.4L968.2,697.7L969.7,698.5L969.6,699.7ZM1003.6,690.7L994.4,690.8L988.8,689.2L984.8,686.6L984.0,685.1L984.3,683.1L986.0,681.3L989.6,679.5L998.8,677.9L1007.2,679.1L1010.4,680.3L1012.6,681.9L1014.1,684.3L1014.0,685.5L1013.1,686.7L1009.6,688.9ZM1002.0,690.3L994.0,690.0L990.0,688.8L986.3,686.3L985.6,685.1L985.7,683.5L987.2,681.8L990.4,680.0L998.8,678.5L1006.4,679.6L1009.6,680.9L1011.4,682.3L1012.5,684.7L1011.3,686.7L1006.4,689.2ZM1002.4,689.5L994.8,689.3L991.6,688.5L988.0,686.1L987.3,684.7L987.5,683.5L988.8,682.0L991.2,680.7L998.8,679.3L1006.0,680.4L1010.1,682.7L1010.7,684.7L1009.6,686.3L1006.0,688.5ZM1001.6,688.8L998.8,688.8L992.8,688.0L989.8,685.9L989.2,683.9L990.1,682.7L992.0,681.6L998.4,680.2L1004.8,681.0L1007.8,682.7L1008.6,684.3L1007.8,685.9L1004.9,687.9ZM1002.0,687.6L998.8,687.8L994.0,687.1L992.1,685.9L991.6,684.3L993.2,682.9L997.6,681.4L1000.0,681.4L1004.5,682.3L1005.9,683.5L1005.9,685.1L1004.2,686.7ZM1000.4,686.0L996.4,685.9L995.5,685.5L995.2,684.7L996.5,683.5L998.8,683.5L1001.7,684.7ZM1065.2,682.9L1057.6,682.7L1050.4,681.1L1047.2,679.6L1045.4,678.1L1044.3,676.1L1044.6,674.1L1046.4,671.9L1050.4,669.9L1054.8,668.7L1061.6,667.9L1070.0,668.5L1074.0,669.4L1078.4,671.1L1081.7,673.7L1082.1,675.3L1081.7,676.9L1080.2,678.5L1077.9,680.1L1072.8,681.9ZM1068.0,682.1L1058.8,682.2L1052.4,681.1L1046.8,678.1L1045.6,676.1L1045.6,674.5L1047.2,672.5L1050.8,670.4L1054.8,669.3L1061.6,668.5L1069.6,669.1L1073.2,669.8L1077.6,671.5L1080.2,673.7L1080.7,674.9L1080.4,676.5L1077.5,679.3L1073.2,681.1ZM1066.8,681.7L1058.4,681.6L1052.9,680.5L1047.6,677.3L1046.9,676.1L1046.8,674.9L1048.3,672.9L1051.2,671.0L1054.8,670.0L1061.2,669.1L1066.8,669.4L1072.8,670.4L1076.8,672.0L1078.7,673.7L1079.1,674.9L1078.9,676.1L1076.4,678.9L1072.4,680.7ZM1067.6,681.0L1062.0,681.2L1054.0,680.0L1049.0,676.9L1048.5,676.1L1048.4,674.9L1049.9,672.9L1052.4,671.4L1061.2,669.7L1066.8,670.0L1072.0,670.9L1075.0,672.1L1077.1,673.7L1077.4,675.7L1075.6,678.2L1072.0,680.0ZM1068.0,680.2L1062.0,680.4L1054.4,679.2L1050.7,676.5L1050.5,674.5L1051.6,672.9L1053.2,672.1L1058.4,670.7L1061.6,670.5L1070.4,671.4L1073.2,672.3L1075.2,673.7L1075.7,675.7L1074.4,677.7L1071.6,679.3ZM1067.6,679.4L1060.4,679.3L1055.6,678.3L1053.2,676.9L1052.4,675.7L1052.4,674.5L1054.0,673.0L1058.4,671.6L1060.8,671.4L1067.6,671.7L1071.2,672.7L1072.9,673.7L1073.7,675.3L1072.9,677.3L1070.8,678.6ZM1066.0,678.5L1058.3,677.7L1055.6,676.5L1055.0,674.9L1058.0,672.9L1061.2,672.3L1067.2,672.8L1070.5,674.5L1071.0,676.1L1070.3,677.3ZM1065.6,676.9L1060.4,676.3L1059.2,675.7L1058.9,674.9L1059.6,674.1L1060.8,673.7L1064.8,674.1L1066.8,674.9L1067.4,675.7L1067.0,676.5ZM1011.5,736.6L1001.9,736.9L992.7,735.6L987.1,733.2L985.6,731.4L985.4,729.8L987.5,727.7L993.5,725.3L1004.3,724.0L1010.7,724.3L1015.9,725.1L1021.9,727.3L1024.4,729.4L1024.6,730.6L1024.2,731.8L1021.5,733.9L1015.9,735.9ZM1009.9,736.2L1001.9,736.4L993.1,735.0L988.0,732.6L987.0,731.0L987.1,729.8L989.1,728.0L994.3,725.7L1004.7,724.5L1010.3,724.8L1015.5,725.6L1020.9,727.8L1022.8,729.4L1022.8,731.4L1019.9,733.8L1015.5,735.4ZM1007.1,735.8L1001.5,735.8L993.9,734.5L989.6,732.2L988.8,730.2L991.1,727.9L994.7,726.3L1004.7,725.1L1010.3,725.4L1015.1,726.3L1020.0,728.6L1021.1,729.8L1020.7,731.8L1018.3,733.5L1014.7,734.7ZM1009.1,735.0L1002.3,735.2L995.5,734.1L992.0,732.2L991.3,731.4L991.0,730.2L992.3,728.5L995.5,727.0L1004.7,725.8L1009.9,726.0L1014.6,727.0L1019.3,730.2L1018.8,731.8L1016.9,733.0ZM1008.7,734.2L1002.7,734.4L997.1,733.5L994.2,732.2L993.3,730.2L994.2,729.0L996.7,727.8L1004.7,726.6L1009.1,726.7L1012.2,727.4L1015.1,728.6L1016.7,730.2L1016.5,731.4L1015.5,732.2ZM1005.5,733.4L1002.3,733.4L998.7,732.8L996.5,731.8L995.8,730.6L996.7,729.4L998.3,728.6L1003.9,727.6L1009.5,727.9L1013.5,730.2L1013.1,731.4L1010.7,732.6ZM1003.9,731.8L1001.5,731.8L1000.5,731.4L1000.1,730.6L1001.1,729.8L1003.5,729.2L1007.8,730.2L1007.3,731.0ZM1044.6,756.9L1038.2,756.7L1032.6,755.5L1029.7,754.1L1027.7,752.5L1026.8,750.9L1027.0,749.7L1029.0,747.5L1033.4,745.3L1037.8,744.2L1043.0,744.0L1049.4,744.5L1052.6,745.2L1056.2,746.9L1058.5,749.3L1058.8,750.5L1058.5,752.1L1056.2,754.3L1050.2,756.3ZM1043.8,756.5L1037.8,756.2L1032.6,754.8L1028.9,752.5L1028.1,750.9L1028.3,749.7L1030.2,747.7L1034.2,745.6L1038.2,744.7L1043.0,744.4L1052.2,745.6L1055.5,747.3L1057.3,749.3L1057.5,751.7L1056.6,753.0L1055.1,754.1L1049.8,755.9ZM1047.4,755.7L1041.4,756.0L1034.6,754.9L1030.2,752.5L1029.4,751.3L1029.4,750.1L1030.5,748.5L1033.0,746.8L1036.2,745.6L1039.8,745.0L1044.6,745.0L1050.2,745.7L1053.4,746.9L1055.5,748.5L1056.5,750.9L1055.4,752.9L1051.8,754.7ZM1045.8,755.3L1040.2,755.4L1035.0,754.3L1031.3,752.1L1030.7,750.1L1031.9,748.5L1034.2,747.0L1040.6,745.5L1049.8,746.3L1053.0,747.6L1054.8,749.3L1055.1,751.3L1053.3,753.3L1050.2,754.6ZM1047.4,754.5L1042.2,754.9L1036.8,754.1L1033.4,752.5L1032.4,751.3L1032.2,750.1L1033.0,748.9L1035.0,747.6L1040.6,746.1L1048.6,746.8L1051.1,747.7L1052.9,748.9L1053.8,750.5L1052.8,752.5L1051.0,753.6ZM1045.4,754.1L1040.6,754.0L1037.0,753.2L1034.6,751.9L1033.9,750.1L1034.8,748.9L1036.2,748.1L1041.4,746.8L1048.6,747.7L1050.5,748.5L1051.8,749.7L1052.1,751.3L1051.0,752.5ZM1045.0,753.3L1041.8,753.3L1038.4,752.5L1036.2,751.3L1036.0,750.1L1039.2,748.1L1041.8,747.6L1047.8,748.7L1049.7,749.7L1050.0,750.9L1049.4,751.7ZM1043.8,752.2L1040.6,751.7L1039.5,750.9L1039.4,750.1L1041.4,748.9L1044.1,749.3L1045.8,750.9L1045.1,751.7ZM983.6,771.4L975.6,771.3L969.6,769.9L965.3,767.4L964.2,765.8L964.2,764.2L966.4,761.8L969.6,760.1L974.4,758.9L979.6,758.4L985.2,758.8L988.8,759.5L993.1,761.4L995.7,763.8L996.1,765.0L995.8,766.2L993.7,768.2L989.6,770.2ZM982.8,771.0L975.6,770.8L970.4,769.6L966.5,767.4L965.4,765.8L965.4,764.6L967.2,762.2L969.6,760.8L973.6,759.6L978.8,758.9L984.4,759.2L988.4,759.9L992.4,761.8L994.4,763.8L994.8,765.0L994.5,766.2L991.6,768.6L987.2,770.3ZM981.6,770.6L975.2,770.2L970.4,768.9L967.1,766.6L966.6,765.4L966.9,764.2L968.5,762.2L971.2,760.8L974.8,759.9L979.2,759.4L984.0,759.6L988.0,760.4L991.2,761.9L993.0,763.8L993.4,765.0L993.0,766.2L990.4,768.4L986.4,769.9ZM983.2,769.8L978.8,770.0L972.0,768.8L968.6,766.6L968.1,765.4L968.2,764.2L969.4,762.6L971.6,761.3L978.4,760.0L986.8,760.7L989.4,761.8L991.4,763.4L991.8,765.4L990.3,767.4L987.2,769.0ZM981.2,769.4L975.2,768.9L972.0,768.0L970.0,766.2L969.6,765.0L969.9,763.8L971.0,762.6L973.2,761.5L979.2,760.7L986.4,761.4L988.4,762.2L990.1,763.8L990.1,765.8L988.4,767.6L986.0,768.6ZM981.6,768.6L978.8,768.7L973.2,767.5L971.5,766.2L971.4,764.2L972.3,763.0L973.7,762.2L978.4,761.4L985.2,762.0L987.0,762.6L988.3,763.8L988.7,765.4L987.4,767.0ZM980.4,767.8L974.2,766.6L973.1,765.4L973.4,764.2L975.6,762.7L980.0,762.4L984.4,762.9L986.4,764.2L986.5,765.4L985.6,766.4ZM979.6,766.2L977.2,765.8L976.6,765.4L976.4,764.6L980.0,764.2L982.2,765.0L981.4,765.8ZM1114.0,785.4L1105.6,785.4L1097.2,783.7L1093.1,781.0L1092.1,779.4L1092.2,777.8L1094.0,775.7L1098.8,773.5L1104.4,772.3L1110.0,772.0L1118.8,772.9L1124.6,775.0L1127.1,777.0L1127.4,779.8L1125.2,782.2L1120.8,784.1ZM1113.6,785.0L1105.6,785.0L1098.4,783.5L1096.0,782.4L1094.3,781.0L1093.3,779.4L1093.4,777.8L1095.1,775.8L1099.2,773.9L1104.4,772.8L1110.0,772.5L1118.4,773.3L1123.6,775.2L1125.9,777.0L1126.4,778.2L1126.2,779.8L1123.9,782.2L1119.6,783.9ZM1113.2,784.6L1106.0,784.6L1099.6,783.2L1095.5,781.0L1094.5,779.4L1094.6,777.8L1095.9,776.2L1100.0,774.2L1104.8,773.2L1110.0,772.9L1118.0,773.7L1122.0,775.2L1124.6,777.0L1125.0,779.4L1123.1,781.8L1118.8,783.6ZM1112.8,784.2L1106.0,784.1L1100.0,782.7L1096.6,780.6L1095.8,779.4L1095.9,777.8L1097.5,776.2L1101.2,774.5L1104.8,773.8L1110.4,773.4L1118.4,774.4L1121.7,775.8L1123.5,777.4L1123.7,779.4L1122.0,781.6L1118.0,783.2ZM1111.6,783.8L1106.0,783.5L1100.8,782.3L1097.7,780.2L1097.2,778.2L1098.6,776.6L1101.2,775.2L1104.4,774.4L1109.6,774.0L1117.6,774.9L1120.4,775.9L1122.2,777.4L1122.4,779.4L1120.8,781.3L1116.8,782.9ZM1113.2,783.0L1107.6,783.1L1102.0,781.9L1099.3,780.2L1098.6,779.0L1098.7,778.2L1100.2,776.6L1102.0,775.7L1109.2,774.7L1112.8,774.7L1116.8,775.5L1119.2,776.3L1120.7,777.4L1121.1,779.0L1119.9,780.6L1117.2,782.0ZM1113.2,782.3L1108.4,782.4L1102.8,781.3L1100.6,779.8L1100.4,778.2L1101.4,777.0L1103.2,776.1L1110.0,775.3L1116.0,776.3L1119.1,777.8L1119.3,779.0L1118.4,780.2L1116.2,781.4ZM1112.8,781.4L1108.8,781.5L1104.4,780.7L1102.6,779.8L1102.1,778.6L1102.6,777.8L1104.0,777.0L1110.0,776.2L1112.9,776.6L1116.8,778.2L1117.1,779.0L1116.6,779.8ZM1112.0,779.8L1109.6,780.1L1107.4,779.0L1109.2,777.8L1110.8,777.7L1112.6,778.6L1112.6,779.4ZM1003.3,842.8L994.9,843.0L986.5,841.2L981.6,838.4L980.6,836.8L980.6,835.2L982.1,833.1L986.1,831.0L990.9,829.7L998.1,829.0L1002.5,829.1L1008.9,830.3L1013.3,831.9L1015.7,834.0L1016.4,835.6L1016.4,836.8L1014.5,839.2L1008.9,841.7ZM1001.3,842.4L994.1,842.3L986.9,840.7L982.7,838.0L981.9,836.8L981.8,835.2L983.7,833.0L987.7,831.1L991.7,830.1L998.9,829.5L1003.7,829.8L1008.9,830.9L1012.9,832.6L1014.7,834.4L1015.2,836.8L1012.9,839.3L1008.1,841.4ZM1004.1,841.6L996.1,841.9L990.1,841.0L986.9,839.9L984.7,838.4L983.4,836.8L983.3,835.2L985.0,833.2L988.9,831.3L992.1,830.5L998.1,830.0L1002.9,830.2L1007.3,831.1L1010.9,832.5L1013.1,834.0L1013.9,835.2L1014.0,836.4L1012.6,838.4L1008.9,840.5ZM1001.7,841.2L995.7,841.3L990.1,840.3L985.8,838.0L984.7,836.4L984.8,835.2L986.7,833.2L990.1,831.7L998.9,830.6L1003.7,831.0L1007.3,831.9L1010.3,833.2L1012.2,834.8L1012.3,836.8L1009.8,839.2L1006.5,840.4ZM1002.5,840.5L996.9,840.7L990.9,839.7L987.2,837.6L986.4,835.6L987.7,833.8L990.5,832.3L993.3,831.7L998.5,831.3L1004.9,832.0L1008.1,833.2L1010.3,834.8L1010.6,836.4L1009.1,838.4L1006.9,839.5ZM999.7,840.0L995.3,839.7L991.1,838.8L988.9,837.2L988.4,836.0L988.5,835.2L989.7,833.9L992.1,832.7L998.9,832.1L1004.4,832.8L1006.9,834.0L1008.3,835.2L1008.4,836.8L1006.9,838.3L1003.7,839.4ZM1001.3,838.9L998.1,839.1L992.9,838.2L991.2,837.2L990.7,835.6L991.6,834.4L992.9,833.7L998.1,833.1L1002.9,833.5L1005.2,834.8L1006.0,836.0L1005.6,837.2L1004.1,838.1ZM1000.1,837.6L996.3,837.2L994.7,836.0L995.4,835.2L998.9,834.4L1001.7,834.8L1003.0,835.6L1002.8,836.8ZM957.3,937.1L950.5,936.9L942.9,934.9L939.2,931.9L938.6,930.3L939.0,928.3L940.9,926.2L944.9,924.4L950.1,923.2L955.3,922.7L960.1,923.0L964.5,924.1L968.4,925.9L970.7,927.9L971.4,929.5L971.2,931.1L968.9,933.9L963.3,936.2ZM956.5,936.7L950.5,936.4L943.3,934.3L941.6,933.1L940.0,931.1L939.8,929.9L940.1,928.3L942.1,926.4L945.7,924.8L950.9,923.6L955.7,923.2L959.7,923.5L963.7,924.4L967.3,926.1L969.4,927.9L970.0,929.1L970.0,930.7L969.2,932.3L968.0,933.5L962.9,935.7ZM958.1,935.9L951.7,936.0L944.9,934.2L943.1,933.1L941.7,931.5L941.1,929.9L941.2,928.7L942.9,926.9L946.1,925.5L951.3,924.2L955.7,923.8L959.3,924.0L963.3,924.9L966.2,926.3L968.2,927.9L968.9,930.3L967.3,932.9L963.3,935.0ZM956.9,935.5L950.5,935.1L945.7,933.7L943.1,931.5L942.5,929.9L942.7,928.7L944.5,927.1L947.7,925.8L951.7,924.7L956.1,924.4L962.9,925.6L965.2,926.7L967.0,928.3L967.6,929.5L967.5,930.7L965.8,932.7L962.5,934.5ZM957.7,934.8L952.1,934.6L947.4,933.5L944.7,931.5L944.1,930.3L944.2,929.1L945.2,927.9L947.3,926.9L951.3,925.5L954.1,925.2L959.3,925.4L962.9,926.5L965.0,927.9L966.0,929.9L964.5,932.3L962.1,933.8ZM957.7,934.0L954.5,934.1L948.9,933.1L946.5,931.5L945.8,929.5L946.5,928.5L948.2,927.5L953.3,926.0L958.5,926.1L962.1,927.4L963.5,928.3L964.1,929.9L963.0,931.9L961.3,933.0ZM956.5,933.1L952.9,933.0L950.1,932.3L948.2,931.1L947.9,929.5L949.7,928.0L952.9,927.1L958.1,927.2L961.1,928.7L961.7,929.9L960.9,931.3L959.3,932.3ZM955.7,931.5L952.5,931.3L951.3,930.7L950.9,929.9L951.6,929.1L952.9,928.7L957.7,929.5L957.4,930.7ZM918.4,959.8L915.6,960.1L910.0,959.6L904.8,958.0L901.6,956.2L899.3,953.8L898.2,951.0L898.3,948.6L899.5,945.8L901.6,943.8L905.6,941.7L909.2,940.5L913.6,940.0L917.6,940.0L922.4,940.9L929.2,944.4L930.9,946.2L932.0,949.0L932.1,951.0L931.2,953.0L928.4,956.1L926.4,957.6ZM917.2,959.4L912.0,959.3L908.0,958.4L904.4,957.0L901.6,955.0L899.9,953.0L899.2,950.6L899.4,948.2L900.6,945.8L903.1,943.8L906.8,942.0L910.0,941.0L913.6,940.6L917.6,940.7L922.4,941.6L928.7,945.0L930.3,947.0L930.9,949.4L930.8,951.4L929.7,953.4L927.6,955.8L925.2,957.4ZM917.6,958.7L910.8,958.4L906.4,957.1L903.6,955.5L901.4,953.4L900.4,951.4L900.4,948.6L901.6,946.2L904.0,944.2L908.0,942.3L910.4,941.6L913.6,941.3L922.0,942.2L927.6,945.2L929.1,947.0L929.7,949.4L929.6,951.4L928.5,953.4L924.8,956.7ZM918.0,957.8L915.6,958.1L911.6,957.8L905.2,955.6L902.5,953.0L901.6,951.4L901.6,949.0L902.4,947.0L903.9,945.4L906.0,944.1L909.6,942.5L912.4,942.1L921.2,942.8L926.4,945.4L927.8,947.0L928.4,949.4L928.4,951.4L927.5,953.0L924.0,956.1ZM917.6,957.0L911.6,957.0L905.6,954.7L903.7,952.6L902.9,950.6L903.1,948.6L904.2,946.6L906.0,945.1L909.2,943.6L913.2,942.8L920.8,943.6L925.6,946.1L926.7,947.4L927.2,949.8L926.9,951.4L926.0,953.0L922.8,955.6ZM916.8,956.2L912.0,956.1L906.4,953.8L904.4,950.6L904.5,949.0L905.5,947.0L906.8,945.8L909.6,944.5L913.6,943.8L920.4,944.4L924.4,946.6L925.3,947.8L925.8,949.4L925.5,951.0L924.4,952.8L921.2,955.3ZM918.0,955.0L913.2,955.2L908.4,953.4L906.2,950.6L906.1,949.4L906.6,947.8L908.6,946.2L912.8,944.9L918.8,945.2L921.6,946.1L923.6,948.2L923.7,950.6L921.3,953.8ZM917.6,953.9L913.6,953.8L909.8,952.2L908.5,950.2L908.8,948.2L910.7,947.0L914.4,946.1L917.2,946.2L919.8,947.0L921.2,949.0L921.3,951.0L920.0,953.0ZM916.4,951.8L912.4,950.6L912.0,949.3L914.0,948.1L916.8,948.2L917.7,949.0L918.0,950.6L917.7,951.4Z" fill="none" stroke="#ff0000" stroke-width="0.7"/>
<path d="M1153.9,105.7L1146.7,106.0L1138.3,104.6L1133.1,102.1L1131.7,100.1L1131.7,98.5L1133.3,96.5L1136.7,94.8L1141.9,93.5L1146.3,93.1L1156.7,93.8L1161.5,95.3L1164.5,97.3L1165.3,98.9L1165.4,100.1L1163.7,102.5L1159.9,104.4ZM1153.1,105.3L1145.9,105.5L1138.3,104.0L1133.6,101.3L1132.7,99.7L1132.8,98.5L1134.1,96.9L1137.5,95.1L1142.3,93.9L1147.1,93.5L1156.7,94.3L1161.1,95.8L1163.5,97.7L1164.2,100.1L1162.4,102.5L1158.7,104.2ZM1152.3,104.9L1145.9,105.0L1138.7,103.5L1134.7,100.9L1134.0,99.7L1134.2,98.5L1135.6,96.9L1138.3,95.5L1143.1,94.3L1147.5,94.0L1156.3,94.8L1160.3,96.3L1162.5,98.1L1163.0,99.3L1162.9,100.5L1161.0,102.5L1157.5,103.9ZM1151.1,104.5L1145.1,104.3L1139.1,102.8L1136.3,100.9L1135.6,99.7L1135.8,98.5L1137.2,96.9L1139.1,96.0L1143.1,94.9L1147.1,94.6L1155.1,95.1L1159.1,96.6L1161.1,98.1L1161.6,100.1L1160.0,102.1L1156.7,103.5ZM1152.3,103.7L1147.5,104.0L1141.1,102.7L1138.0,100.9L1137.4,99.7L1137.5,98.5L1138.7,97.2L1141.5,96.0L1147.5,95.2L1154.8,95.7L1157.7,96.9L1159.7,98.5L1160.0,100.1L1158.6,101.7L1156.2,102.9ZM1150.3,103.3L1147.1,103.3L1142.3,102.1L1139.7,100.5L1139.3,98.9L1140.3,97.7L1142.3,96.7L1147.5,95.9L1154.3,96.4L1156.3,97.3L1158.0,98.9L1157.8,100.5L1156.5,101.7ZM1149.9,102.5L1147.1,102.4L1143.5,101.3L1141.9,100.1L1141.7,98.9L1143.9,97.3L1147.5,96.8L1153.5,97.4L1155.7,98.9L1155.6,100.1L1154.7,100.9ZM1150.3,100.9L1148.7,101.3L1146.7,101.0L1145.2,100.1L1145.0,99.3L1146.7,98.2L1149.9,98.5L1151.2,99.7ZM865.8,220.0L858.2,219.7L850.6,217.9L845.9,215.2L845.0,213.6L845.2,212.0L847.0,209.8L850.6,208.0L856.6,206.5L861.4,206.0L871.0,206.5L875.4,207.4L879.9,209.2L882.6,212.0L882.9,213.2L882.3,214.8L879.4,217.2L874.2,219.0ZM869.0,219.2L861.0,219.5L853.0,218.1L847.3,215.2L846.4,213.6L846.5,212.0L848.3,210.0L851.4,208.4L857.0,207.0L861.0,206.6L866.2,206.7L873.8,207.6L878.6,209.4L881.1,211.6L881.4,214.0L879.3,216.4L875.0,218.2ZM867.8,218.8L860.6,219.0L853.4,217.6L848.9,215.2L848.0,214.0L847.9,212.4L849.0,210.8L852.2,208.9L857.0,207.6L861.4,207.1L873.4,208.1L877.4,209.7L879.9,212.0L880.2,213.2L879.9,214.4L877.8,216.3L874.6,217.6ZM866.6,218.4L859.4,218.2L853.8,216.9L849.9,214.4L849.5,212.4L850.8,210.8L853.0,209.5L857.4,208.2L861.8,207.7L873.0,208.7L876.2,210.1L878.1,212.0L878.5,213.2L878.1,214.4L875.8,216.3ZM867.8,217.6L861.0,217.7L856.2,216.8L852.3,214.8L851.4,213.6L851.3,212.4L852.6,210.9L854.4,210.0L857.4,209.0L861.8,208.4L871.0,209.1L873.9,210.0L876.0,211.6L876.5,213.2L875.3,215.2L873.4,216.1ZM867.8,216.9L861.8,217.0L857.8,216.4L854.6,214.8L853.7,213.6L853.6,212.4L856.6,210.4L862.2,209.2L869.4,209.6L872.6,210.6L874.0,211.6L874.5,212.8L873.8,214.4ZM867.0,216.0L862.2,216.0L859.0,215.5L857.1,214.4L856.8,212.8L859.4,210.8L862.6,210.0L869.0,210.6L871.9,212.0L872.3,213.2L871.8,214.0ZM867.0,214.5L861.8,214.5L860.6,213.9L860.3,212.8L861.4,211.6L863.0,211.2L868.0,212.0L868.7,212.4L868.9,213.2ZM833.0,247.9L824.2,247.3L817.0,245.2L815.1,243.9L813.9,242.3L813.5,240.3L814.1,238.3L816.2,236.1L821.0,234.3L827.8,233.2L834.2,233.0L839.8,233.6L845.0,235.0L848.5,236.7L850.6,239.1L851.0,241.1L850.3,242.7L846.6,245.3L841.0,247.1ZM837.0,247.1L828.6,247.4L823.4,246.6L819.4,245.4L817.0,244.3L815.7,243.1L814.9,241.1L815.1,239.1L816.4,237.1L818.6,235.9L821.8,234.8L829.0,233.6L834.6,233.5L839.4,234.1L845.4,235.8L848.4,237.9L849.3,239.5L849.6,241.1L848.1,243.5L843.8,245.7ZM834.2,246.7L827.4,246.6L819.6,244.7L817.6,243.5L816.6,242.3L816.2,240.3L816.6,238.7L818.2,237.0L821.8,235.5L828.2,234.3L833.8,234.1L838.2,234.5L843.0,235.7L845.8,236.9L847.3,238.3L848.0,239.9L848.0,241.5L846.2,243.7L841.0,245.8ZM836.6,245.9L828.6,246.1L821.8,244.7L818.5,242.7L817.6,241.1L817.6,239.5L818.7,237.9L821.0,236.7L829.4,234.8L834.6,234.7L838.2,235.2L843.4,236.7L845.7,238.3L846.5,241.1L845.4,242.9L841.0,245.0ZM832.2,245.5L827.0,245.2L821.8,243.7L819.4,241.6L819.2,239.5L820.3,238.3L823.8,236.8L828.6,235.7L833.8,235.3L841.0,236.8L843.0,237.6L844.2,238.7L844.6,239.9L844.3,241.5L841.4,243.7L837.8,245.0ZM836.2,244.3L831.8,244.6L826.6,244.2L822.4,242.3L821.4,241.3L821.2,240.3L821.7,239.5L824.6,237.7L830.7,236.3L835.4,236.2L840.2,237.7L842.0,238.7L842.5,240.3L841.5,241.9L839.2,243.5ZM833.4,243.5L827.0,243.1L825.0,241.5L824.8,239.9L827.2,238.3L833.4,237.1L838.6,238.5L840.1,239.5L840.1,240.7L838.9,241.9L835.9,243.1ZM834.2,241.6L829.8,241.7L829.0,241.5L828.5,240.7L830.3,239.5L833.8,238.9L835.0,239.5L835.4,240.3ZM954.5,213.4L946.9,213.2L939.7,211.5L935.3,208.5L934.5,207.0L934.7,205.4L936.9,203.0L940.5,201.2L944.9,200.1L950.9,199.6L957.3,199.9L962.9,200.9L966.5,202.6L969.1,205.0L969.5,206.6L969.1,207.8L966.1,210.8L960.1,212.8ZM957.7,212.6L948.1,212.8L941.3,211.4L938.9,210.3L936.9,208.6L936.0,207.4L935.9,205.8L937.7,203.4L940.9,201.8L944.5,200.7L950.1,200.1L956.5,200.3L962.1,201.3L964.9,202.5L967.5,204.6L968.1,207.0L966.1,209.8L962.5,211.6ZM955.7,212.2L948.1,212.3L941.3,210.7L939.6,209.8L938.1,208.2L937.3,206.6L937.5,205.4L938.9,203.7L942.1,202.0L946.5,201.0L950.9,200.6L956.5,200.9L962.1,202.0L964.2,203.0L966.3,205.0L966.8,206.2L966.6,207.4L964.5,209.8L960.5,211.5ZM957.7,211.4L949.3,211.8L943.7,210.7L940.1,208.8L939.1,207.4L938.9,205.8L940.0,204.2L942.1,202.8L948.5,201.4L956.9,201.5L961.3,202.5L963.2,203.4L965.3,205.8L965.0,207.8L962.1,210.2ZM953.7,211.0L948.1,211.0L943.3,209.7L941.0,207.8L940.5,206.6L940.7,205.4L941.7,204.2L943.7,203.1L952.1,201.9L960.1,203.0L962.1,203.9L963.6,205.4L963.7,207.4L961.7,209.4L958.1,210.6ZM953.7,210.2L948.9,210.2L944.5,209.0L942.7,207.4L942.6,205.4L944.5,204.0L952.5,202.6L959.2,203.8L961.0,204.6L962.0,205.8L962.0,207.4L960.5,208.7L957.7,209.8ZM955.3,209.0L951.7,209.3L948.5,209.0L945.3,207.8L944.6,206.2L946.1,205.0L952.1,203.5L954.9,203.9L959.5,205.8L959.7,207.0L958.9,207.8ZM953.3,207.9L950.2,207.8L948.7,206.6L949.3,205.8L950.9,205.0L953.3,205.0L954.7,205.8L955.0,206.6L954.5,207.4ZM966.2,260.2L962.2,260.6L957.4,260.3L949.8,258.5L946.6,256.8L944.7,255.0L943.8,253.0L944.0,251.0L945.8,248.8L950.2,246.4L954.2,245.1L960.2,244.4L965.0,244.6L970.6,245.7L975.0,247.5L977.5,249.4L978.6,251.0L978.9,253.0L978.3,254.6L976.9,256.2L972.6,258.8ZM964.6,259.8L957.0,259.7L950.2,258.0L947.4,256.2L945.8,254.6L945.1,252.6L945.4,251.0L947.7,248.6L951.0,246.8L954.6,245.7L960.6,244.9L965.0,245.2L970.6,246.5L974.2,248.0L976.6,249.8L977.5,251.4L977.6,253.0L976.9,254.6L975.0,256.6L971.8,258.4ZM965.8,259.0L959.0,259.2L951.4,257.7L949.0,256.3L947.2,254.6L946.4,253.0L946.7,251.4L948.7,249.0L951.4,247.5L954.6,246.4L960.2,245.5L964.2,245.7L969.8,247.0L973.0,248.3L975.1,249.8L976.0,251.0L976.2,252.6L975.7,254.2L974.4,255.8L971.8,257.5ZM963.8,258.6L957.8,258.4L951.8,257.0L948.3,254.2L947.8,253.0L948.0,251.8L949.8,249.4L952.8,247.8L960.6,246.1L964.6,246.5L969.8,247.9L972.4,249.0L974.2,250.6L974.7,253.0L972.6,255.9L969.8,257.3ZM963.8,257.8L958.2,257.7L952.6,256.2L950.0,254.2L949.4,253.0L949.6,251.8L950.8,250.2L954.2,248.2L960.6,246.8L967.0,247.9L970.6,249.2L972.4,250.6L973.1,253.0L971.4,255.4L968.6,256.7ZM961.4,257.0L957.4,256.5L953.4,255.2L951.7,253.4L951.8,251.8L955.0,249.0L961.0,247.6L967.0,249.0L969.7,250.2L971.0,251.4L971.1,253.4L969.4,255.2L965.8,256.5ZM963.4,255.5L960.2,255.7L956.6,254.9L954.3,253.4L954.1,251.8L955.0,250.6L956.2,249.9L961.4,248.8L966.4,250.2L968.8,251.8L968.9,253.0L967.9,254.2ZM962.2,253.4L958.6,253.4L957.2,252.6L957.1,251.8L959.0,250.9L962.2,251.1L963.5,252.2ZM728.6,575.6L720.6,575.3L715.0,574.2L711.8,573.1L708.6,571.2L706.7,569.2L706.1,567.6L706.5,565.6L709.8,562.2L715.0,559.8L720.2,558.6L726.6,558.2L733.8,558.9L737.0,559.7L741.5,561.6L745.0,564.4L745.7,566.0L745.7,568.0L744.8,569.6L742.6,571.5L736.6,574.3ZM731.0,574.8L722.2,574.9L713.4,573.0L710.2,571.3L708.3,569.6L707.4,567.6L707.7,566.0L710.4,562.8L714.6,560.7L719.8,559.3L726.2,558.8L736.2,560.1L740.6,562.0L743.6,564.4L744.4,566.0L744.5,567.6L743.7,569.2L742.2,570.7L737.0,573.5ZM729.4,574.4L721.0,574.1L713.8,572.4L709.7,569.6L708.9,568.0L709.1,566.0L711.2,563.2L715.0,561.3L720.2,559.8L726.6,559.3L735.8,560.7L739.7,562.4L742.4,564.8L743.1,566.4L742.9,568.0L740.5,570.8L735.8,573.2ZM731.0,573.6L722.6,573.6L715.4,572.1L713.4,571.1L711.0,569.2L710.2,567.6L710.4,566.0L711.7,564.0L713.8,562.7L718.6,560.9L722.2,560.2L727.4,560.0L733.8,560.9L737.4,562.2L740.0,564.0L741.3,565.6L741.6,566.8L740.4,569.6L736.2,572.3ZM727.8,573.2L721.0,572.8L715.7,571.2L712.3,568.4L711.8,567.2L712.0,565.6L713.8,563.8L718.6,561.7L721.4,561.0L726.6,560.7L735.0,562.1L737.8,563.6L739.6,565.6L740.0,568.0L739.0,569.5L737.4,570.7L733.0,572.5ZM728.2,572.4L721.4,572.1L716.6,570.4L714.0,568.0L713.6,566.8L713.9,565.6L715.4,564.2L719.8,562.3L726.6,561.5L734.1,562.8L736.2,563.9L737.5,565.2L738.4,567.6L737.0,569.6L733.4,571.5ZM729.8,571.3L726.6,571.6L721.0,571.0L716.6,568.8L715.7,567.6L715.6,566.4L716.6,565.2L718.6,564.0L722.2,562.8L727.4,562.4L733.6,564.0L735.8,566.0L736.0,568.0L734.0,570.0ZM727.4,570.4L721.4,569.9L719.4,568.4L718.8,566.8L721.0,564.6L725.0,563.6L728.2,563.8L731.0,564.7L732.4,565.6L733.3,567.2L732.9,568.4L730.6,569.7ZM728.2,568.4L724.6,568.1L723.3,567.2L724.9,565.6L727.4,565.5L729.4,566.8L729.3,567.6ZM823.6,606.0L820.8,606.2L815.2,605.7L812.4,605.0L808.8,603.2L806.8,601.6L805.6,599.6L805.5,597.6L806.3,595.6L808.0,593.6L810.4,592.3L814.4,591.0L819.2,590.2L823.6,590.4L827.2,591.0L830.4,592.2L833.3,594.0L834.8,595.6L835.6,597.6L835.3,599.6L834.2,601.6L830.4,604.2ZM822.4,605.6L814.4,604.9L809.0,602.4L807.3,600.8L806.6,599.2L806.6,597.2L807.5,595.2L809.2,593.6L811.2,592.6L815.2,591.4L819.6,590.8L823.6,591.0L827.6,591.8L830.4,593.0L832.9,594.8L834.1,596.4L834.5,598.0L834.1,600.0L833.0,601.6L829.2,603.9ZM823.2,604.9L816.0,604.6L810.8,602.6L808.8,601.0L807.8,599.2L807.6,597.6L808.4,595.6L809.6,594.3L811.6,593.3L818.8,591.4L824.0,591.7L827.6,592.6L830.0,593.7L832.0,595.2L833.1,596.8L833.3,598.8L832.8,600.4L831.2,602.0L829.2,603.1ZM824.0,604.0L821.2,604.3L817.2,604.0L812.4,602.6L810.5,601.2L809.3,599.6L808.9,598.0L809.5,596.0L810.6,594.8L812.4,593.8L818.8,592.1L823.2,592.3L828.8,594.0L831.6,596.4L832.2,598.0L831.9,599.6L830.8,601.0L828.8,602.4ZM824.0,603.2L818.8,603.4L813.4,602.0L811.7,600.8L810.6,599.2L810.3,598.0L810.8,596.4L811.8,595.2L813.6,594.2L818.8,592.9L822.8,593.0L827.6,594.4L830.3,596.8L830.6,599.2L828.0,601.8ZM823.2,602.4L818.8,602.6L814.4,601.3L812.2,599.2L811.9,598.0L812.2,596.8L815.0,594.8L819.2,593.8L822.8,594.0L826.7,595.2L828.7,597.2L828.6,599.6L826.4,601.6ZM821.2,601.6L818.4,601.5L815.4,600.4L814.3,598.8L814.6,597.2L816.8,595.6L819.6,595.1L823.6,595.5L826.2,596.8L826.9,598.4L826.3,600.0L824.8,600.9ZM821.2,599.7L818.8,599.6L818.0,598.8L818.0,598.0L819.1,597.2L820.4,597.0L822.0,597.2L823.4,598.0L823.3,598.8ZM919.9,572.3L914.3,572.6L907.9,572.0L905.5,571.4L903.1,570.2L901.4,568.7L900.8,567.1L900.9,565.1L902.7,562.7L906.7,560.1L912.7,557.7L920.3,556.1L926.3,555.6L932.7,556.0L938.7,557.7L941.5,559.9L942.0,561.5L941.5,563.5L939.4,565.9L937.1,567.6L929.9,570.4ZM917.9,571.9L908.7,571.4L905.5,570.4L903.5,569.3L902.4,567.9L902.1,566.3L902.4,564.7L905.7,561.5L910.7,559.0L915.1,557.6L921.1,556.6L926.7,556.3L931.9,556.5L938.3,558.5L940.5,560.3L940.8,561.9L939.9,563.9L937.9,566.1L935.1,567.8L927.1,570.5ZM920.3,571.1L914.3,571.3L907.1,570.1L904.0,567.9L903.6,566.7L903.8,565.1L906.1,562.3L910.7,559.8L915.5,558.2L921.1,557.2L931.5,557.2L937.5,559.4L939.2,560.7L939.4,562.3L938.5,563.9L934.7,567.2L929.5,569.3ZM921.1,570.3L914.7,570.6L908.3,569.5L905.9,567.9L905.3,566.7L905.4,565.1L907.1,562.9L911.1,560.6L915.9,558.9L921.9,557.8L931.5,558.0L934.2,559.1L937.4,561.5L937.4,562.7L936.5,564.3L933.1,567.0L929.5,568.6ZM921.5,569.5L914.7,569.8L909.1,568.5L907.1,567.1L907.0,565.1L908.3,563.5L911.9,561.3L915.9,559.7L921.9,558.5L931.1,558.9L933.1,559.7L934.9,561.5L935.3,562.7L934.6,564.3L931.1,567.0ZM920.7,568.7L914.2,568.7L909.6,566.7L909.1,565.5L911.4,563.1L913.4,561.9L916.7,560.5L921.9,559.5L930.7,560.0L932.2,560.7L933.2,561.9L932.9,563.9L929.9,566.5ZM920.3,567.5L914.7,567.5L913.1,566.3L912.9,564.7L913.7,563.5L916.4,561.9L921.9,560.7L927.1,561.3L930.0,562.3L929.7,563.9L927.9,565.7L924.3,567.0ZM924.3,565.1L919.1,565.3L917.2,564.7L917.5,563.9L918.7,563.1L923.1,562.6L925.3,563.5L925.4,564.3ZM970.8,705.3L964.0,705.4L955.6,703.3L953.6,702.1L951.8,700.1L951.1,698.5L951.5,696.9L953.3,694.9L957.2,693.1L961.2,692.0L966.0,691.4L975.2,692.4L980.2,694.5L982.7,696.5L983.2,697.7L983.1,699.3L980.8,702.1L977.2,704.0ZM970.0,704.9L964.0,704.8L956.4,702.9L954.4,701.7L952.9,700.1L952.3,698.5L952.4,697.3L954.1,695.3L958.0,693.4L961.6,692.4L966.4,691.9L972.0,692.3L975.2,693.0L979.3,694.9L981.7,696.9L982.0,699.3L979.6,702.1L974.4,704.2ZM968.0,704.5L961.6,703.8L956.8,702.4L953.9,699.7L953.5,698.5L953.7,697.3L955.1,695.7L958.4,693.9L962.0,692.9L966.8,692.5L974.8,693.5L978.3,695.3L980.5,697.3L980.9,698.5L980.6,699.7L978.1,702.1L973.6,703.8ZM970.4,703.7L965.6,703.9L958.8,702.4L955.8,700.5L954.9,698.9L954.9,697.7L956.1,696.1L958.8,694.5L962.0,693.6L966.4,693.1L974.0,694.0L976.6,695.3L978.5,696.9L979.3,698.9L978.1,700.9L974.4,702.8ZM971.2,702.9L966.0,703.3L960.0,702.1L956.9,700.1L956.3,698.9L956.4,697.7L958.4,695.7L962.8,694.2L967.6,693.7L973.6,694.7L976.9,696.9L977.6,698.1L977.6,699.3L976.7,700.5L974.9,701.7ZM967.6,702.5L964.0,702.2L960.0,701.0L958.2,699.3L958.2,697.7L961.2,695.6L966.8,694.5L972.8,695.5L975.5,697.3L975.9,698.9L974.1,700.9L971.6,702.0ZM969.6,701.3L966.0,701.4L962.8,700.8L961.1,699.7L960.9,698.1L962.4,696.8L966.0,695.5L968.4,695.5L971.1,696.1L973.1,697.3L973.4,698.9L972.0,700.5ZM968.8,699.8L965.6,699.7L964.9,699.3L964.8,698.5L966.4,697.0L968.8,696.9L970.3,698.1L970.0,699.0ZM1067.0,683.2L1059.0,683.3L1051.4,681.8L1048.2,680.5L1045.9,678.8L1044.9,677.2L1044.9,675.2L1046.9,672.8L1051.0,670.5L1054.6,669.3L1061.4,668.4L1067.8,668.8L1075.4,670.4L1077.8,671.6L1080.6,674.0L1081.1,675.6L1080.8,677.2L1078.2,679.9L1073.8,682.1ZM1067.8,682.4L1059.8,682.7L1052.6,681.4L1049.4,680.0L1047.8,678.8L1046.7,677.2L1046.6,675.6L1048.2,673.5L1052.2,671.1L1055.0,670.1L1061.0,669.2L1067.4,669.5L1074.2,671.1L1076.3,672.0L1078.6,674.0L1079.2,675.2L1079.1,676.4L1077.2,679.2L1073.8,681.2ZM1067.4,681.7L1059.8,681.9L1053.4,680.6L1049.5,678.4L1048.6,676.8L1048.6,675.6L1050.0,674.0L1053.4,671.7L1060.2,670.2L1068.2,670.5L1074.2,672.4L1076.6,674.4L1077.1,675.6L1076.9,676.8L1075.0,679.3L1072.6,680.6ZM1066.6,680.8L1059.8,680.9L1054.2,679.4L1051.7,678.0L1051.0,676.8L1051.0,676.0L1054.2,672.7L1059.8,671.3L1067.4,671.3L1072.2,673.2L1073.8,674.4L1074.7,676.4L1073.4,678.8L1071.8,679.6ZM1065.8,679.6L1061.4,679.8L1056.2,678.4L1054.2,677.2L1054.0,675.6L1055.4,674.0L1058.2,672.9L1064.2,672.3L1067.7,672.8L1071.3,674.8L1072.0,676.4L1071.4,677.7ZM1063.0,678.0L1059.7,677.2L1058.5,676.4L1058.2,675.6L1059.4,674.6L1061.4,674.3L1066.6,675.1L1067.3,675.6L1066.6,676.8ZM1009.8,737.2L999.8,737.3L992.2,736.2L986.4,733.6L985.1,731.6L985.1,730.0L987.1,728.0L991.4,726.0L1002.6,724.4L1008.6,724.7L1015.8,725.9L1020.3,727.6L1022.9,730.0L1023.0,732.0L1021.0,734.1L1015.8,736.2ZM1007.4,736.8L999.4,736.6L993.0,735.5L987.8,732.9L987.0,731.6L987.0,730.4L988.7,728.4L992.2,726.6L1002.6,725.1L1008.2,725.3L1015.0,726.5L1019.0,728.1L1020.9,730.0L1021.2,731.2L1020.8,732.4L1017.9,734.4L1013.0,736.1ZM1007.8,736.0L999.4,735.8L994.0,734.8L990.0,732.4L989.4,731.6L989.4,730.4L991.0,728.4L993.0,727.3L1002.6,725.8L1008.2,726.1L1014.2,727.2L1017.1,728.4L1018.8,730.0L1018.6,732.0L1016.1,734.0L1013.0,735.1ZM1007.0,735.2L999.8,735.0L995.3,734.0L992.2,732.0L991.9,730.0L992.8,728.8L994.6,727.9L1003.4,726.6L1008.2,727.0L1013.0,727.9L1015.0,728.8L1016.3,730.0L1016.2,731.6L1014.6,733.3ZM1007.4,734.1L998.2,733.5L995.0,732.1L994.2,730.4L995.8,729.0L1003.4,727.6L1009.0,728.2L1013.2,730.0L1013.5,731.2L1012.6,732.2ZM1007.4,732.4L1005.8,732.6L1002.0,732.0L999.8,731.4L999.4,730.8L1000.5,730.0L1003.4,729.3L1007.8,729.5L1008.9,730.0L1009.4,730.8L1009.1,731.6ZM979.9,771.5L972.7,770.9L967.1,769.1L964.0,766.7L963.4,765.5L963.6,764.3L965.9,761.5L969.9,759.7L974.3,758.8L980.7,758.5L985.1,758.9L989.5,760.2L992.6,761.9L994.4,763.9L994.7,765.5L994.2,766.7L990.3,769.4L985.9,770.8ZM982.3,770.7L975.9,770.7L970.7,769.6L966.2,767.1L965.4,765.9L965.4,764.3L966.7,762.3L968.5,761.1L972.3,759.8L975.9,759.3L982.3,759.2L985.5,759.7L990.0,761.5L992.5,763.5L993.1,764.7L993.0,765.9L991.0,767.9L987.1,769.8ZM982.7,769.9L976.3,770.1L971.5,768.9L968.1,766.7L967.4,765.5L967.4,763.9L968.7,762.2L972.3,760.7L975.1,760.1L981.1,760.0L985.9,760.8L990.7,763.9L991.2,765.5L989.9,767.2L986.3,769.1ZM982.3,769.1L977.1,769.3L973.1,768.4L969.9,766.3L969.3,765.1L969.4,763.9L970.7,762.6L973.9,761.3L980.3,760.9L985.1,761.7L988.3,763.9L988.9,765.5L988.0,766.7L985.3,768.3ZM979.9,768.3L976.7,768.2L973.9,767.2L972.1,765.9L971.9,764.3L974.7,762.5L979.9,762.0L984.0,762.7L986.3,764.3L986.3,765.5L984.6,767.1ZM980.3,766.8L977.1,766.6L975.8,765.5L975.9,764.7L977.2,763.9L979.5,763.4L982.5,764.3L983.0,765.1L982.5,765.9ZM1229.0,851.8L1221.0,851.9L1214.6,850.5L1211.8,849.3L1209.8,847.8L1209.0,846.6L1209.0,845.0L1210.6,843.0L1214.2,841.1L1218.6,840.0L1223.8,839.5L1229.0,839.7L1234.2,840.7L1238.6,842.6L1240.8,844.6L1241.1,845.8L1240.8,847.0L1238.8,849.0L1234.2,850.9ZM1229.0,851.4L1221.4,851.5L1215.8,850.4L1213.0,849.3L1210.9,847.8L1210.1,846.6L1210.1,845.0L1211.8,843.0L1215.0,841.4L1219.0,840.3L1223.8,839.9L1228.6,840.1L1233.8,841.0L1237.8,842.9L1239.8,844.6L1240.0,846.6L1238.2,848.6L1234.2,850.4ZM1229.0,851.0L1222.2,851.2L1216.6,850.2L1212.1,847.8L1211.3,846.6L1211.3,845.0L1213.0,843.1L1215.8,841.6L1219.4,840.7L1223.8,840.3L1233.0,841.3L1236.7,843.0L1238.6,844.6L1238.9,846.6L1236.9,848.6L1233.8,850.0ZM1228.2,850.6L1222.2,850.7L1217.0,849.7L1213.3,847.8L1212.5,846.6L1212.5,845.0L1213.8,843.4L1216.2,842.1L1219.8,841.1L1223.8,840.8L1228.6,841.0L1233.0,842.0L1235.9,843.4L1237.6,845.0L1237.4,847.0L1235.6,848.6L1232.6,849.8ZM1227.4,850.2L1221.8,850.2L1217.4,849.2L1214.2,847.4L1213.6,846.2L1213.7,845.0L1215.1,843.4L1217.0,842.4L1220.2,841.5L1223.8,841.3L1228.2,841.5L1232.2,842.4L1234.6,843.5L1236.2,845.0L1236.3,846.6L1234.6,848.3L1231.4,849.6ZM1229.4,849.4L1223.0,849.7L1219.0,849.0L1215.6,847.4L1214.9,846.6L1214.8,845.4L1215.5,844.2L1217.3,843.0L1222.2,841.9L1229.0,842.3L1231.8,843.0L1233.9,844.2L1234.9,845.8L1234.2,847.4L1232.2,848.6ZM1227.4,849.0L1222.6,849.0L1219.4,848.3L1216.9,847.0L1216.2,845.4L1217.1,844.2L1218.5,843.4L1223.4,842.5L1229.4,843.1L1231.5,843.8L1233.0,845.0L1233.3,846.2L1232.4,847.4L1230.2,848.5ZM1227.8,848.2L1221.1,847.8L1218.8,846.6L1218.3,845.4L1219.8,844.1L1223.0,843.3L1227.8,843.6L1230.5,844.6L1231.2,845.4L1231.1,846.6L1229.8,847.6ZM1227.4,847.0L1223.0,846.7L1221.8,845.8L1223.4,844.7L1227.0,844.7L1228.7,845.8L1228.3,846.6ZM956.3,937.0L948.7,937.0L942.3,935.3L939.7,933.8L938.0,932.2L937.5,930.6L937.9,929.0L939.9,926.6L942.7,925.0L951.5,923.2L956.7,923.2L961.5,924.0L966.3,925.8L968.8,927.8L969.6,929.4L969.5,931.0L966.7,934.1L961.1,936.3ZM957.1,936.2L949.5,936.3L943.5,934.8L939.7,932.2L939.1,931.0L939.2,929.4L940.9,927.0L943.5,925.5L951.9,923.9L956.7,923.9L961.1,924.7L965.1,926.4L967.4,928.2L967.9,930.6L965.9,933.4L961.1,935.5ZM957.1,935.4L951.5,935.6L944.8,934.2L941.2,931.8L940.7,930.6L940.8,929.4L942.2,927.4L944.3,926.2L951.9,924.7L959.5,925.2L963.1,926.6L965.3,928.2L966.0,929.4L966.1,930.6L964.7,932.9L960.7,934.8ZM955.5,934.6L949.9,934.4L945.9,933.3L943.3,931.4L942.8,930.2L942.9,929.0L943.9,927.8L945.5,927.0L949.5,925.9L953.1,925.6L958.7,926.1L963.6,929.0L964.0,931.0L962.7,932.6L959.1,934.2ZM957.1,933.4L953.1,933.6L949.0,933.0L946.2,931.4L945.5,930.4L945.5,929.4L946.7,928.2L950.3,926.9L954.3,926.7L957.9,927.2L960.0,928.6L961.0,930.6L959.6,932.6ZM956.7,931.8L954.3,932.1L950.6,931.4L949.5,930.8L949.3,929.8L950.2,929.0L952.3,928.4L955.5,928.3L957.1,929.1L958.0,930.2L957.9,931.0ZM916.6,956.3L911.4,956.4L906.6,955.9L901.0,954.3L897.3,951.9L895.5,949.9L894.9,947.9L895.4,945.5L897.8,942.5L901.8,940.4L905.8,939.2L910.6,938.5L917.8,938.8L921.8,939.6L924.2,940.5L928.6,943.1L930.1,945.1L930.8,947.5L930.6,949.5L929.6,951.1L924.2,954.6L919.4,956.0ZM917.8,955.5L910.6,955.7L905.8,955.0L901.8,953.8L898.6,951.7L897.0,949.9L896.3,947.9L896.8,945.5L898.2,943.5L899.8,942.3L903.0,940.8L907.4,939.6L911.4,939.2L917.0,939.4L923.4,940.9L927.1,943.1L928.6,944.6L929.5,947.1L929.2,949.5L927.7,951.5L924.2,953.7ZM912.6,955.1L905.4,954.1L902.2,953.0L900.2,951.7L898.8,950.3L898.0,948.3L898.1,946.3L898.9,944.3L900.6,942.9L904.2,941.2L908.2,940.2L912.6,939.9L917.8,940.2L921.8,941.2L924.6,942.5L927.3,944.7L928.2,946.7L928.1,948.7L927.3,950.3L925.8,951.8L923.0,953.3L919.0,954.5ZM913.8,954.3L907.4,953.6L901.6,951.5L900.3,950.3L899.6,948.7L899.5,946.3L900.1,944.7L902.6,942.9L906.2,941.5L913.0,940.6L917.4,940.9L920.6,941.7L923.8,943.1L926.1,945.1L926.8,946.7L926.8,948.3L926.2,949.9L925.0,951.1L919.0,953.6ZM913.4,953.5L908.2,952.9L902.6,950.7L901.0,948.3L901.2,945.5L903.2,943.9L906.2,942.5L912.6,941.5L918.6,942.1L922.2,943.5L924.3,945.1L925.3,947.9L925.0,949.1L924.0,950.3L918.6,952.7ZM915.4,952.3L911.0,952.5L905.2,950.7L902.9,948.7L903.0,946.3L904.5,944.7L907.0,943.5L913.4,942.6L917.8,943.0L922.4,945.5L923.4,947.9L922.5,949.5L918.7,951.5ZM915.4,951.2L911.8,951.4L908.2,950.4L905.5,948.3L905.4,946.8L906.9,945.5L909.0,944.7L915.0,943.9L917.4,944.3L920.1,946.3L920.8,947.9L918.8,949.9ZM913.4,949.9L910.8,949.1L910.2,947.9L910.5,947.1L913.0,946.3L915.8,946.9L916.2,947.9L915.9,948.7Z" fill="none" stroke="#ff7f50" stroke-width="0.7"/>
<path d="M1151.1,105.0L1144.3,104.7L1139.9,103.6L1137.5,102.0L1136.1,100.2L1135.6,98.2L1136.1,96.6L1137.8,95.0L1141.1,93.5L1145.1,92.4L1150.7,91.9L1155.9,92.2L1159.9,93.2L1164.3,95.2L1166.1,97.0L1166.5,98.6L1166.2,99.8L1164.9,101.4L1163.1,102.6L1157.9,104.3ZM1131.1,118.6L1121.9,118.5L1115.1,116.8L1112.7,115.7L1110.3,113.8L1109.5,112.2L1109.6,110.6L1111.6,108.2L1114.7,106.4L1118.7,105.1L1125.1,104.4L1131.5,104.5L1137.1,105.3L1141.1,106.8L1143.2,108.6L1144.2,110.2L1144.5,111.8L1144.1,113.0L1142.7,114.6L1140.7,116.0L1136.7,117.6ZM1154.7,104.2L1151.1,104.5L1145.9,104.3L1141.1,103.2L1137.4,100.6L1136.7,99.0L1136.7,97.4L1138.0,95.8L1141.1,94.1L1145.1,92.9L1149.9,92.4L1155.5,92.7L1158.7,93.4L1162.7,95.2L1165.1,97.0L1165.5,98.2L1165.3,99.4L1163.1,101.8L1159.1,103.6ZM1129.9,118.2L1121.9,118.1L1115.5,116.4L1113.1,115.2L1111.2,113.4L1110.6,112.2L1110.7,110.6L1113.4,107.8L1117.1,106.1L1120.3,105.3L1125.9,104.8L1131.9,105.0L1137.1,106.0L1140.7,107.6L1142.7,109.4L1143.3,112.2L1141.1,115.0L1135.1,117.5ZM1153.5,103.8L1145.9,103.7L1141.5,102.5L1138.4,100.2L1137.7,98.6L1137.9,97.4L1139.4,95.8L1142.3,94.4L1145.9,93.3L1149.9,92.9L1155.1,93.1L1158.3,93.8L1161.1,95.1L1164.1,97.4L1164.1,99.4L1161.8,101.8L1158.3,103.2ZM1126.7,117.8L1121.5,117.5L1115.1,115.5L1112.2,113.0L1111.7,111.8L1111.9,110.6L1114.1,108.2L1117.5,106.6L1120.3,105.9L1126.3,105.3L1131.5,105.5L1136.7,106.6L1140.3,108.3L1142.1,110.2L1142.3,111.8L1141.9,113.0L1139.0,115.4L1133.9,117.3ZM1152.3,103.4L1145.9,103.1L1141.9,101.8L1139.4,99.8L1139.0,98.6L1139.3,97.4L1140.7,96.0L1144.3,94.3L1149.9,93.4L1154.7,93.7L1157.9,94.4L1160.7,95.8L1162.8,97.8L1162.6,99.8L1160.2,101.8L1157.5,102.8ZM1131.9,117.0L1123.9,117.2L1117.9,115.9L1114.1,113.8L1113.1,112.2L1113.1,111.0L1114.4,109.0L1116.7,107.6L1119.9,106.5L1124.7,105.9L1130.7,106.0L1135.1,106.9L1137.9,107.8L1140.5,109.8L1141.1,111.8L1139.9,113.8L1135.9,116.0ZM1153.9,102.6L1149.9,102.9L1144.7,102.0L1141.3,100.2L1140.5,99.0L1140.5,97.8L1141.6,96.6L1144.5,95.0L1149.1,94.0L1156.3,94.6L1158.7,95.5L1160.5,97.0L1161.3,99.0L1160.3,100.6L1157.9,101.9ZM1129.9,116.6L1123.1,116.6L1117.9,115.1L1114.9,113.0L1114.4,111.8L1114.6,110.6L1115.9,109.0L1118.7,107.6L1125.9,106.5L1130.7,106.6L1135.5,107.7L1137.6,108.6L1139.3,110.2L1139.7,112.2L1138.3,113.8L1134.3,115.9ZM1151.5,102.2L1147.5,101.9L1144.8,101.0L1142.6,99.4L1142.5,97.8L1145.5,95.5L1149.1,94.8L1155.5,95.2L1157.8,96.2L1159.1,97.4L1159.3,99.4L1157.9,100.9ZM1131.1,115.8L1125.1,116.1L1121.5,115.4L1117.5,113.8L1116.4,112.6L1116.1,111.0L1116.9,109.8L1118.7,108.6L1124.7,107.2L1131.1,107.3L1135.5,108.7L1137.3,109.8L1138.2,111.4L1137.4,113.0L1134.7,114.8ZM1153.5,101.1L1150.7,101.3L1146.7,100.6L1145.1,99.4L1144.9,97.8L1145.9,96.6L1148.5,95.8L1153.9,96.0L1155.9,96.6L1157.2,97.8L1157.3,99.4L1156.3,100.4ZM1130.7,115.1L1125.9,115.3L1122.7,114.9L1119.1,113.3L1118.2,112.2L1118.2,111.0L1119.1,109.8L1120.4,109.0L1125.1,107.9L1130.7,108.1L1135.5,110.2L1136.2,111.4L1135.4,113.0ZM1151.9,99.8L1149.4,99.0L1149.3,98.2L1151.5,97.6L1153.6,98.2L1153.5,99.3ZM1129.9,114.2L1123.9,114.1L1121.1,112.6L1120.5,111.8L1120.5,111.0L1121.7,109.8L1123.9,108.9L1130.3,109.1L1132.9,110.6L1133.6,111.8L1132.5,113.0ZM1128.7,113.0L1125.1,112.9L1124.1,112.2L1123.9,111.0L1125.9,110.1L1129.4,110.6L1130.3,111.8ZM869.2,229.4L863.2,229.4L859.6,228.9L854.4,227.0L851.2,225.0L849.0,222.6L848.0,219.4L848.2,217.0L849.9,214.2L852.1,212.2L855.6,210.3L861.2,208.9L865.6,208.5L872.4,209.1L878.0,211.2L880.0,212.4L882.4,214.7L883.6,217.0L884.0,220.2L883.2,222.6L881.2,224.7L876.8,227.3L872.4,228.9ZM870.0,228.6L864.8,228.8L860.8,228.4L853.2,225.4L850.8,223.4L849.5,221.0L849.1,218.2L850.1,215.8L852.0,213.4L854.8,211.5L862.4,209.4L866.8,209.1L871.2,209.5L878.8,212.5L881.5,215.0L882.5,216.6L882.9,219.4L882.4,221.8L880.7,223.8L876.8,226.5ZM870.0,227.8L864.8,228.2L860.8,227.7L855.6,225.6L853.2,224.2L851.3,222.2L850.4,219.4L850.6,217.4L852.3,214.6L854.4,212.7L857.2,211.4L861.2,210.3L865.6,209.8L871.6,210.3L878.4,213.3L881.5,217.0L881.7,219.8L881.0,221.8L879.1,223.8L876.0,226.1ZM866.0,227.4L860.0,226.6L855.6,224.6L853.5,223.0L852.2,221.0L851.8,219.0L852.3,217.0L853.7,214.6L855.8,213.0L858.8,211.7L865.6,210.5L871.6,211.1L878.0,214.2L879.7,216.2L880.4,218.2L880.1,220.6L878.8,222.6L876.4,224.8L874.0,226.0L870.8,226.9ZM866.0,226.6L860.4,225.8L856.8,224.1L854.8,222.5L853.6,220.6L853.4,218.6L854.1,216.2L855.4,214.6L860.8,212.0L865.6,211.3L871.6,212.0L875.6,213.9L877.4,215.4L878.6,217.4L878.8,219.4L878.3,221.0L876.4,223.4L874.8,224.6L872.4,225.6ZM868.4,225.4L865.6,225.7L862.8,225.4L859.6,224.3L857.3,223.0L855.7,221.4L854.9,219.4L855.1,217.4L855.9,215.8L860.4,213.2L864.8,212.3L870.8,212.9L875.0,215.0L876.5,216.6L877.2,218.2L877.0,219.8L876.2,221.4L873.6,224.0ZM868.4,224.2L864.0,224.4L859.2,222.8L856.6,219.8L856.4,218.2L856.9,217.0L860.0,214.8L864.4,213.4L870.0,213.9L873.2,215.4L875.3,217.8L875.5,219.0L874.9,220.6L872.8,222.9ZM866.8,223.0L864.0,223.0L860.4,221.7L858.7,219.8L858.8,218.1L861.6,215.9L865.2,214.8L868.8,215.1L872.5,217.0L873.4,218.6L872.8,220.6L871.2,221.7ZM865.6,220.7L864.0,220.6L862.8,220.0L862.4,219.0L862.7,218.2L865.2,217.1L867.4,217.4L868.6,218.2L868.1,219.4ZM836.2,246.7L828.6,246.9L821.4,245.5L816.6,243.0L815.3,241.5L815.2,239.9L817.1,237.5L820.2,235.8L825.0,234.5L830.6,233.9L835.4,234.1L841.0,235.0L846.2,236.9L848.5,238.7L848.9,239.9L848.6,241.5L846.6,243.8L842.2,245.6ZM835.4,246.3L828.2,246.3L821.8,245.0L817.7,242.7L816.5,241.1L816.5,239.9L817.9,237.9L821.0,236.1L825.4,234.9L830.6,234.4L835.0,234.5L840.2,235.3L845.4,237.3L847.3,238.7L847.6,241.1L845.7,243.5L841.0,245.4ZM833.8,245.9L827.4,245.7L822.2,244.5L818.4,241.9L817.8,240.7L818.0,239.5L819.9,237.5L823.4,236.0L826.6,235.3L833.0,234.9L841.0,236.2L845.0,238.0L846.5,239.5L846.1,241.9L844.2,243.5L839.4,245.1ZM836.2,245.1L830.2,245.4L824.2,244.4L820.2,242.3L819.4,241.1L819.3,239.9L820.9,237.9L824.6,236.4L833.0,235.4L840.2,236.6L843.0,237.9L844.9,239.5L845.1,241.1L843.8,242.7L839.8,244.4ZM834.2,244.7L828.2,244.6L824.2,243.7L821.4,241.9L820.8,239.9L822.2,238.3L825.4,236.9L833.4,236.0L839.8,237.3L842.4,238.7L843.4,239.9L843.4,241.5L841.8,242.7L838.2,244.1ZM834.6,244.0L830.2,244.0L825.8,243.3L823.2,241.9L822.4,240.7L822.5,239.9L823.6,238.7L825.8,237.7L833.4,236.7L838.9,237.9L841.5,239.9L841.6,241.1L840.2,242.3ZM834.2,243.1L830.6,243.2L827.0,242.6L825.0,241.5L824.6,239.9L826.4,238.7L833.4,237.6L836.8,238.3L839.1,239.9L839.0,241.1L838.1,241.9ZM833.8,241.9L829.8,241.8L827.7,240.7L828.3,239.9L829.8,239.3L834.2,238.9L835.6,239.5L836.0,240.3L835.4,241.3ZM952.4,212.4L944.8,212.1L939.6,211.0L935.0,208.4L934.1,206.8L934.1,205.2L936.0,203.0L940.0,200.9L943.2,200.1L949.6,199.4L955.6,199.8L959.2,200.7L963.4,202.4L965.6,204.4L966.0,205.6L965.8,207.2L963.2,209.7L958.4,211.5ZM952.0,212.0L944.4,211.6L939.6,210.3L935.9,208.0L935.1,206.4L935.3,205.2L937.2,203.2L940.4,201.4L943.6,200.6L949.6,199.9L954.8,200.2L958.4,201.0L962.4,202.6L964.5,204.4L964.8,206.8L962.4,209.4L958.0,211.0ZM954.0,211.3L948.4,211.5L941.2,210.2L937.3,208.0L936.5,206.8L936.5,205.6L938.1,203.6L940.8,201.9L948.8,200.5L957.2,201.2L960.8,202.6L963.2,204.4L963.7,206.4L962.0,208.6L958.8,210.2ZM953.2,210.8L947.6,210.9L942.0,209.7L938.8,208.0L938.0,206.8L938.1,205.6L939.6,203.6L941.6,202.4L948.8,201.0L956.8,201.8L960.0,203.0L961.8,204.4L962.3,206.4L960.7,208.4L958.0,209.7ZM951.6,210.4L946.4,210.1L942.4,209.0L939.9,207.2L939.8,205.2L940.8,203.9L942.8,202.7L949.2,201.7L956.4,202.4L959.2,203.5L960.5,204.8L960.7,206.4L959.2,208.2L955.6,209.7ZM952.4,209.6L948.0,209.6L944.0,208.7L941.8,207.2L941.5,205.2L942.5,204.0L944.0,203.2L949.2,202.4L955.2,203.0L957.2,203.6L958.8,204.8L959.0,206.4L958.0,207.6L955.2,209.0ZM951.2,208.8L948.0,208.7L944.8,207.8L943.6,206.8L943.4,205.2L945.6,203.8L951.2,203.4L954.8,204.0L956.7,205.2L956.8,206.4L955.5,207.6ZM951.2,207.2L948.3,206.8L947.2,206.0L948.0,205.4L951.2,204.9L953.4,205.6L953.2,206.6ZM964.1,257.8L956.1,257.6L949.7,256.0L946.0,253.0L945.3,251.0L945.6,249.4L947.5,247.4L951.3,245.6L955.7,244.5L960.9,243.9L966.5,244.4L971.3,245.5L974.1,246.8L976.2,248.6L977.0,250.2L977.0,251.8L975.3,254.3L971.3,256.4ZM963.3,257.4L956.1,257.1L950.1,255.5L948.2,254.2L946.8,252.6L946.4,251.0L946.6,249.8L948.3,247.8L952.1,245.9L956.5,244.9L960.9,244.4L965.7,244.8L969.7,245.6L973.0,247.0L975.2,249.0L975.8,250.2L975.9,251.8L975.2,253.0L973.3,254.7L969.3,256.5ZM965.3,256.6L961.7,256.9L957.3,256.7L951.3,255.3L949.4,254.2L948.3,253.0L947.7,251.4L948.0,249.8L949.3,248.2L952.5,246.5L960.1,245.0L967.7,245.7L971.3,246.9L973.3,248.2L974.5,249.8L974.8,251.0L973.5,253.4L970.5,255.4ZM963.7,256.2L956.5,256.0L951.3,254.4L949.3,252.6L949.0,251.4L949.3,249.8L950.7,248.2L953.3,246.9L956.9,246.0L960.9,245.6L967.7,246.4L970.9,247.6L972.7,249.0L973.4,250.2L973.4,251.4L971.7,253.8L968.9,255.3ZM964.5,255.5L958.5,255.5L954.1,254.6L950.9,252.8L950.3,251.8L950.4,250.2L951.7,248.7L954.3,247.4L961.3,246.2L967.3,247.0L971.5,249.4L972.0,251.4L970.7,253.4L968.5,254.6ZM964.9,254.6L961.3,254.9L956.1,254.3L952.7,252.6L952.0,251.8L951.9,250.6L953.3,249.0L957.3,247.5L962.1,247.0L966.5,247.8L969.5,249.4L970.2,250.2L970.3,251.4L968.8,253.4ZM963.7,253.9L960.5,253.9L956.9,253.3L954.9,252.1L954.3,250.6L955.7,249.3L958.5,248.4L962.1,248.0L965.3,248.6L967.6,250.2L967.9,251.8L966.6,253.0ZM962.5,252.6L959.5,252.2L958.6,251.4L958.5,250.6L959.4,249.8L960.9,249.4L964.4,250.2L964.9,251.0L964.5,251.8ZM830.6,607.2L823.0,606.7L817.0,604.6L815.0,603.2L813.4,601.2L813.0,599.6L813.4,598.0L815.3,596.0L820.2,593.8L824.6,592.6L828.6,592.3L834.2,592.5L839.4,593.5L844.0,595.6L846.6,598.0L847.1,599.6L846.7,601.6L843.4,604.4L837.4,606.7ZM835.8,606.4L827.0,606.7L820.2,605.4L817.2,604.0L815.4,602.4L814.2,600.4L814.3,598.4L815.8,596.6L819.4,594.7L823.4,593.4L827.0,592.8L833.4,592.8L837.4,593.5L841.4,594.9L844.4,596.8L846.0,599.2L845.9,600.8L845.1,602.0L841.4,604.8ZM834.6,606.0L826.6,606.2L820.2,604.7L818.0,603.6L816.2,602.0L815.3,600.0L815.5,598.4L817.0,596.8L820.2,595.0L827.4,593.3L833.0,593.3L836.2,593.8L840.6,595.2L843.6,597.2L844.8,599.6L844.6,600.8L843.4,602.4L839.8,604.8ZM833.0,605.6L826.2,605.5L820.6,604.1L818.6,603.0L817.2,601.6L816.5,600.0L816.7,598.8L818.0,597.2L820.5,595.6L824.6,594.3L827.4,593.9L835.4,594.2L839.8,595.7L842.6,597.6L843.5,600.0L841.6,602.8L838.2,604.7ZM831.0,605.2L825.0,604.7L820.6,603.2L818.3,601.2L817.9,600.0L818.2,598.8L819.5,597.2L821.8,595.9L825.4,594.7L829.0,594.4L833.4,594.5L836.2,595.1L839.8,596.6L841.8,598.4L842.2,599.6L841.9,600.8L839.5,603.2L836.2,604.5ZM832.6,604.4L828.6,604.5L823.0,603.3L820.2,601.6L819.6,600.4L819.6,599.2L820.3,598.0L821.8,596.8L825.0,595.5L827.8,595.1L834.2,595.3L837.8,596.5L839.8,598.0L840.6,600.0L839.3,602.0L836.6,603.6ZM832.6,603.6L828.6,603.7L823.8,602.6L821.6,600.8L821.5,598.8L824.0,596.8L827.8,595.8L833.8,596.1L837.9,598.0L838.7,599.6L838.1,601.2L835.8,602.8ZM830.6,602.8L827.4,602.5L824.2,601.3L823.2,600.0L823.4,598.8L825.7,597.2L828.2,596.8L833.0,597.2L836.2,598.8L836.6,600.0L835.4,601.4L833.4,602.4ZM831.8,600.9L828.2,600.9L826.4,600.0L826.3,599.2L827.8,598.6L830.7,598.8L832.5,600.0ZM927.8,578.2L917.8,577.3L909.8,574.8L906.2,572.2L905.2,569.8L905.5,568.2L909.4,564.7L916.6,562.3L921.8,561.4L931.0,561.2L939.0,562.0L944.2,563.4L949.3,565.8L951.8,568.6L952.0,570.6L951.2,572.2L949.3,573.8L945.8,575.6L939.8,577.2ZM933.8,577.4L925.0,577.6L919.0,576.9L915.0,576.0L908.5,573.0L907.0,571.0L906.7,569.0L908.8,566.2L911.4,564.7L918.2,562.6L926.2,561.7L931.8,561.7L939.8,562.7L947.0,565.4L949.0,566.7L950.4,568.2L950.8,569.8L950.2,571.4L946.6,574.3L941.8,576.3ZM932.2,577.0L926.2,577.1L920.2,576.5L915.0,575.3L909.3,572.2L908.3,570.6L908.3,569.0L910.6,566.1L916.2,563.8L921.4,562.7L926.6,562.3L931.8,562.3L939.8,563.4L946.2,566.0L949.2,568.6L949.3,569.8L948.5,571.4L944.1,574.6L940.2,575.9ZM933.8,576.2L925.8,576.4L917.4,575.3L914.2,574.0L910.9,571.8L910.0,570.6L910.0,569.0L912.1,566.6L916.6,564.4L926.6,562.9L931.8,562.9L939.4,564.0L944.5,566.2L947.4,568.6L947.5,569.8L946.9,571.0L943.0,574.0L940.2,575.1ZM931.4,575.8L924.6,575.7L917.4,574.4L913.1,571.8L911.9,570.2L912.0,569.0L913.6,567.0L917.4,564.9L927.0,563.6L931.8,563.6L938.6,564.7L943.0,566.6L945.2,568.6L945.3,569.8L944.7,571.0L941.4,573.7ZM931.4,575.0L925.0,575.0L918.3,573.8L915.2,571.8L914.1,570.2L914.0,569.0L915.1,567.4L918.2,565.6L922.6,564.6L927.0,564.3L932.2,564.5L937.8,565.5L941.3,567.0L942.9,568.6L942.9,570.6L940.6,572.6ZM930.6,574.2L924.6,574.1L918.6,572.6L916.8,571.0L916.4,569.8L916.6,568.6L918.0,567.0L919.7,566.2L923.0,565.5L927.4,565.2L932.2,565.4L936.1,566.2L938.6,567.2L940.2,568.6L940.2,570.2L938.5,571.8ZM929.8,573.0L923.4,572.6L919.4,570.9L918.9,570.2L918.9,569.0L919.8,567.9L921.4,567.1L926.6,566.4L933.8,567.0L936.7,568.6L937.0,569.8L935.8,571.2ZM929.4,570.7L925.0,570.9L923.9,570.2L923.6,569.4L924.6,568.5L926.6,568.1L931.8,568.8L932.9,569.4L932.2,570.0ZM969.0,702.0L963.4,701.8L957.0,700.2L953.6,697.6L953.1,696.4L953.2,694.8L954.7,693.2L957.8,691.5L962.2,690.4L966.2,690.0L970.6,690.2L975.0,691.1L978.6,692.7L980.4,694.4L980.8,696.8L978.6,699.3L974.6,701.0ZM968.6,701.6L963.0,701.3L957.4,699.8L954.3,697.2L954.0,696.0L954.2,694.8L955.8,693.2L958.6,691.8L962.6,690.8L966.2,690.4L974.6,691.5L977.6,692.8L979.4,694.4L979.9,695.6L979.8,696.8L977.8,699.1L973.8,700.7ZM971.0,700.8L965.8,701.1L959.4,700.0L955.7,697.6L955.0,696.4L955.1,695.2L956.2,693.8L958.2,692.6L965.4,690.9L973.4,691.7L975.8,692.6L977.9,694.0L978.9,696.0L978.0,698.0L975.3,699.6ZM970.2,700.4L965.8,700.6L959.8,699.4L957.0,697.6L956.3,696.4L956.3,695.2L957.2,694.0L959.4,692.8L966.2,691.4L973.0,692.2L975.4,693.1L977.0,694.4L977.7,696.0L977.0,697.6L973.8,699.5ZM968.6,700.0L963.8,699.7L960.1,698.8L958.0,697.2L957.6,695.2L958.7,694.0L960.3,693.2L966.6,692.0L972.6,692.8L974.5,693.6L975.9,694.8L976.2,696.4L974.8,698.0L972.2,699.3ZM969.4,699.2L966.6,699.4L961.4,698.5L959.4,697.2L958.9,695.6L960.6,694.0L966.2,692.7L970.6,693.1L973.9,694.4L974.6,695.6L974.0,697.2L972.2,698.4ZM969.0,698.4L966.6,698.6L963.0,697.9L961.4,697.2L960.7,696.0L961.2,695.2L962.8,694.4L966.6,693.5L970.0,694.0L972.5,695.2L972.8,696.0L972.2,697.0ZM968.2,697.3L965.5,697.2L964.1,696.0L965.6,694.8L967.9,694.8L969.3,696.0ZM1068.8,683.2L1064.4,683.6L1058.0,683.0L1051.6,681.4L1049.2,680.3L1047.1,678.4L1046.1,676.8L1046.2,675.2L1048.4,672.5L1054.0,669.8L1056.8,669.1L1064.4,668.5L1072.0,669.2L1076.8,670.8L1079.2,672.1L1081.6,674.8L1082.1,676.0L1081.9,677.2L1079.2,680.0L1075.2,682.0ZM1069.2,682.4L1063.2,682.7L1054.4,681.4L1049.3,678.8L1048.0,676.8L1048.0,675.2L1049.0,673.6L1052.1,671.6L1055.2,670.2L1058.0,669.7L1065.2,669.3L1071.6,670.0L1076.4,671.7L1078.1,672.8L1079.9,675.6L1079.9,676.8L1079.0,678.4L1075.6,680.6ZM1068.8,681.7L1063.2,681.8L1055.6,680.8L1050.7,678.0L1049.9,676.8L1049.9,675.2L1051.8,673.2L1055.6,671.1L1062.0,670.2L1066.8,670.2L1071.6,670.9L1076.4,673.2L1077.8,675.6L1077.8,676.8L1077.1,678.0L1072.4,680.7ZM1067.2,680.8L1056.4,679.9L1052.9,677.6L1052.2,675.6L1053.2,674.2L1056.6,672.0L1061.6,671.2L1068.8,671.4L1072.4,672.4L1075.0,674.0L1075.8,676.0L1074.8,677.9L1071.1,680.0ZM1068.4,679.2L1062.8,679.5L1058.0,678.7L1055.7,677.6L1054.9,676.0L1056.1,674.4L1058.4,673.0L1065.6,672.2L1068.0,672.4L1072.0,674.0L1073.6,675.6L1073.3,676.4L1071.9,677.6ZM1067.2,677.3L1062.4,677.6L1060.7,676.8L1060.3,676.0L1061.4,675.2L1066.4,674.3L1068.1,675.6L1068.1,676.4ZM1242.8,861.9L1236.8,861.8L1230.4,860.3L1226.8,857.9L1225.9,856.3L1226.1,855.1L1227.6,853.1L1230.8,851.4L1234.4,850.5L1240.0,850.0L1245.6,850.4L1249.6,851.4L1252.8,852.8L1254.8,854.7L1255.2,855.9L1254.9,857.1L1252.4,859.4L1248.4,861.0ZM1242.8,861.5L1237.2,861.4L1230.8,859.9L1227.6,857.5L1227.1,855.9L1227.4,854.7L1228.8,853.1L1232.0,851.6L1240.4,850.5L1245.6,850.8L1248.8,851.6L1252.0,853.1L1253.7,854.7L1253.9,856.7L1252.0,858.8L1248.0,860.6ZM1242.0,861.1L1236.8,860.9L1231.2,859.3L1228.6,857.1L1228.2,855.9L1228.5,854.7L1230.1,853.1L1233.2,851.8L1240.4,850.9L1247.6,851.8L1250.7,853.1L1252.6,854.7L1252.8,856.7L1250.8,858.7L1247.2,860.3ZM1244.0,860.3L1238.4,860.6L1232.8,859.2L1230.2,857.5L1229.5,856.3L1229.6,855.1L1230.8,853.7L1233.5,852.3L1240.4,851.5L1246.4,852.1L1249.2,853.1L1251.2,854.7L1251.7,856.3L1250.6,857.9L1247.6,859.5ZM1242.4,860.0L1238.0,860.0L1233.7,858.7L1231.4,857.1L1231.1,855.1L1232.2,853.9L1234.0,852.9L1241.2,852.0L1246.4,852.8L1248.8,853.9L1250.0,855.1L1250.1,856.7L1248.8,858.0L1246.4,859.1ZM1242.8,859.2L1238.8,859.4L1236.0,858.7L1233.2,857.1L1232.7,856.3L1232.8,855.1L1234.9,853.5L1241.2,852.7L1245.2,853.2L1248.4,855.1L1248.7,856.3L1247.7,857.5L1246.0,858.4ZM1242.0,858.3L1239.2,858.5L1237.2,858.1L1235.0,856.7L1234.7,855.5L1236.4,854.2L1241.2,853.5L1244.1,853.9L1246.5,855.5L1246.5,856.3L1245.6,857.3ZM1241.2,857.1L1238.7,857.1L1237.7,855.9L1238.6,855.1L1240.4,854.7L1242.0,854.8L1243.3,855.5L1243.2,856.3ZM955.9,936.3L949.1,936.4L942.3,934.8L939.8,933.4L938.1,931.8L937.5,930.2L937.9,928.6L939.5,926.6L942.7,925.1L947.9,923.9L951.9,923.6L957.1,923.8L960.7,924.5L964.3,926.0L967.1,928.2L967.6,930.6L965.5,933.5L961.9,935.1ZM952.3,935.8L946.3,935.2L942.2,933.8L939.4,931.4L939.0,930.2L939.4,928.6L940.8,927.0L943.9,925.5L952.3,924.2L957.5,924.5L960.7,925.4L963.9,926.8L965.7,928.6L965.8,931.0L963.8,933.4L957.1,935.3ZM953.1,935.0L948.3,934.8L943.9,933.6L941.0,931.4L940.6,930.2L940.8,929.0L942.3,927.4L944.7,926.1L951.9,924.9L958.7,925.6L962.1,927.0L963.9,928.6L964.1,931.0L962.7,932.7L957.9,934.4ZM955.9,933.9L951.1,934.2L946.3,933.5L943.2,931.8L942.6,931.0L942.5,929.8L945.0,927.0L949.9,925.9L956.7,926.2L960.7,927.8L962.0,929.4L961.8,931.4L959.5,932.9ZM954.3,933.0L949.9,932.9L946.4,932.2L945.2,931.0L945.2,929.0L947.1,927.4L951.5,926.8L956.7,927.6L959.1,929.0L959.5,930.2L959.0,931.4L957.5,932.3ZM953.5,931.4L949.7,931.0L948.4,929.8L949.2,929.0L951.1,928.7L955.2,930.2L954.8,931.0ZM920.6,953.2L913.0,953.4L904.6,951.4L901.7,949.6L899.5,947.2L898.8,945.2L899.2,943.2L901.1,940.8L903.8,939.1L908.6,937.4L913.0,936.7L921.4,937.0L926.2,938.2L929.0,939.4L931.2,941.2L932.7,943.6L932.9,945.6L932.2,947.6L930.7,949.2L927.8,951.0L924.2,952.4ZM919.0,952.8L911.0,952.5L904.6,950.6L901.8,948.4L900.4,946.4L900.1,944.8L900.7,942.8L902.5,940.8L905.8,939.1L909.8,937.8L914.6,937.1L923.4,938.2L927.0,939.3L930.0,941.2L931.2,942.8L931.7,944.8L931.3,946.8L930.3,948.4L928.1,950.0L925.0,951.5ZM919.8,952.0L912.6,952.1L905.4,950.2L903.2,948.4L901.8,946.4L901.5,944.8L902.1,942.8L903.5,941.2L907.0,939.4L910.6,938.2L914.6,937.7L922.6,938.7L926.2,939.9L929.0,941.6L930.1,943.2L930.4,944.8L930.2,946.4L929.2,948.0L925.4,950.5ZM919.8,951.3L912.6,951.4L909.8,950.9L906.4,949.6L904.7,948.4L903.3,946.4L903.0,944.8L903.3,943.2L904.6,941.8L907.7,940.0L911.0,938.9L914.6,938.4L921.8,939.3L925.1,940.4L927.7,942.0L929.1,944.4L928.9,946.0L928.1,947.6L924.6,950.0ZM919.4,950.4L913.8,950.7L909.0,949.7L906.6,948.4L905.1,946.8L904.6,945.2L904.9,943.6L906.4,942.0L908.6,940.7L911.4,939.6L914.6,939.2L920.2,939.8L924.2,941.1L926.3,942.4L927.6,944.8L926.8,947.2L924.2,949.1ZM918.2,949.6L912.6,949.6L909.8,949.0L906.9,946.4L906.6,945.2L906.9,944.0L908.2,942.4L910.6,941.0L915.4,940.1L920.2,940.9L923.4,942.1L925.3,943.6L925.9,945.6L924.8,947.2L923.0,948.2ZM917.8,948.5L911.0,947.9L909.2,946.4L909.0,944.4L910.8,942.4L913.0,941.4L916.6,941.2L919.4,941.9L922.4,944.0L922.9,945.6L921.6,946.8ZM917.8,946.1L916.2,946.3L913.7,945.6L912.5,944.8L912.5,944.0L914.6,942.7L917.4,943.0L918.7,944.4L918.6,945.3Z" fill="none" stroke="#00ffff" stroke-width="0.7"/>
<path d="M912.8,133.8L908.0,134.0L902.8,133.5L896.0,131.2L893.8,129.8L892.5,128.2L892.0,126.2L892.4,124.2L894.4,121.8L897.2,120.1L901.6,118.8L907.6,118.0L913.6,118.2L919.2,119.6L922.0,120.9L924.7,123.0L925.9,125.0L926.2,126.6L925.6,128.2L924.6,129.4L919.6,132.4ZM911.2,133.4L902.4,132.8L896.5,130.6L894.4,129.0L893.4,127.4L893.2,125.4L893.8,123.8L895.7,121.8L898.4,120.4L904.0,118.9L908.8,118.5L914.0,118.9L919.2,120.3L921.6,121.5L923.8,123.4L924.8,125.4L924.9,127.0L922.8,129.8L918.4,132.1ZM912.4,132.7L906.0,132.7L901.6,131.9L898.3,130.6L896.4,129.4L895.0,127.8L894.6,126.2L895.0,124.2L896.6,122.2L898.8,121.1L904.4,119.5L908.4,119.1L916.8,120.3L920.0,121.6L922.4,123.4L923.7,126.2L923.2,127.8L922.2,129.0L918.4,131.3ZM913.2,131.8L906.4,132.1L900.0,130.5L898.0,129.3L896.7,127.8L896.2,126.2L896.5,124.2L897.6,122.8L899.3,121.8L907.2,119.8L912.4,120.1L919.1,122.2L921.9,125.0L921.9,127.4L918.4,130.3ZM913.2,131.0L906.4,131.3L901.2,130.1L898.2,127.8L897.9,126.2L898.3,124.2L900.4,122.4L907.6,120.6L911.2,120.7L917.2,122.4L919.6,124.6L920.0,126.2L919.7,127.4L917.6,129.6ZM912.8,130.2L906.4,130.3L902.4,129.4L899.7,127.4L899.5,125.0L901.2,123.3L907.2,121.6L910.8,121.6L915.6,123.0L916.9,123.8L917.9,125.0L917.9,127.4L916.2,129.0ZM912.4,129.1L907.2,129.1L904.4,128.6L901.6,127.0L901.3,125.4L902.8,124.2L906.8,122.9L909.6,122.6L912.4,123.2L915.5,124.6L916.4,126.2L915.4,127.8ZM911.2,127.4L907.2,127.2L906.2,126.6L906.1,125.8L908.0,124.6L910.8,124.6L912.4,125.8L912.2,126.6ZM1139.6,115.9L1130.0,115.4L1123.3,113.5L1119.6,110.7L1118.9,108.7L1119.3,106.7L1121.7,104.3L1126.4,102.4L1131.2,101.3L1137.6,101.0L1143.2,101.6L1148.0,102.7L1151.6,104.4L1153.5,106.3L1154.2,107.9L1154.2,109.5L1153.4,111.1L1152.0,112.3L1147.2,114.7ZM1138.4,115.5L1130.4,115.0L1124.4,113.3L1120.7,110.7L1120.0,109.1L1120.2,107.1L1122.4,104.7L1126.8,102.9L1131.2,101.8L1137.6,101.5L1142.0,101.8L1146.8,103.0L1150.4,104.5L1152.3,106.3L1153.1,107.9L1153.1,109.5L1152.1,111.1L1150.0,112.7L1145.6,114.6ZM1141.6,114.8L1133.6,114.9L1126.4,113.4L1122.0,110.7L1121.1,109.1L1121.2,107.5L1122.4,105.7L1124.8,104.3L1129.2,102.7L1133.2,102.1L1138.8,102.0L1142.8,102.5L1147.6,104.0L1150.8,105.9L1151.6,107.1L1152.0,108.7L1150.7,111.1L1147.2,113.5ZM1140.4,114.3L1133.2,114.3L1126.8,112.8L1123.0,110.3L1122.3,109.1L1122.4,107.5L1124.2,105.5L1128.4,103.6L1132.0,102.8L1138.0,102.5L1145.2,103.8L1148.4,105.2L1150.1,106.7L1150.7,109.1L1148.5,111.9L1144.8,113.6ZM1142.0,113.5L1134.8,113.8L1129.2,112.8L1125.0,110.7L1123.9,109.5L1123.7,107.9L1124.4,106.7L1125.9,105.5L1130.8,103.6L1138.8,103.1L1144.0,104.1L1148.4,106.4L1149.4,107.9L1149.4,109.1L1148.5,110.7L1147.2,111.7ZM1139.2,113.1L1133.6,113.0L1128.8,111.8L1125.9,109.9L1125.3,108.7L1125.5,107.5L1127.1,105.9L1130.0,104.6L1138.4,103.7L1144.0,104.9L1147.7,107.5L1147.8,109.5L1146.3,111.1L1143.2,112.6ZM1138.0,112.3L1133.6,112.2L1129.9,111.1L1127.6,109.5L1127.2,108.7L1127.4,107.5L1128.5,106.3L1130.4,105.4L1138.4,104.5L1143.1,105.5L1145.8,107.5L1146.1,109.1L1144.3,111.1L1142.0,112.0ZM1140.8,111.1L1132.8,110.9L1130.2,109.5L1129.5,107.9L1130.7,106.7L1134.4,105.7L1140.4,105.8L1143.0,107.1L1144.0,108.7L1143.0,110.3ZM1139.2,109.5L1135.2,109.3L1134.4,109.0L1134.0,108.3L1135.8,107.1L1138.8,107.1L1140.5,108.3L1140.2,109.1ZM1178.5,104.4L1170.9,103.7L1165.3,102.0L1162.7,100.4L1161.2,98.8L1160.4,96.8L1160.7,95.2L1162.7,92.8L1166.1,90.8L1170.5,89.5L1176.1,88.8L1187.3,90.1L1191.4,92.0L1194.0,94.4L1194.6,96.0L1194.3,98.0L1193.2,99.6L1190.9,101.4L1186.1,103.3ZM1181.7,103.6L1174.9,103.8L1167.3,102.2L1162.6,99.2L1161.5,97.2L1161.6,95.6L1163.3,93.3L1166.5,91.3L1170.1,90.1L1175.3,89.4L1186.1,90.3L1189.7,91.8L1192.1,93.6L1193.0,94.8L1193.5,96.4L1193.2,98.0L1192.1,99.6L1188.1,102.1ZM1180.9,103.2L1174.1,103.2L1167.7,101.7L1165.3,100.4L1163.5,98.8L1162.7,97.2L1162.8,95.6L1164.3,93.6L1167.7,91.5L1170.5,90.6L1175.7,89.8L1186.1,90.9L1188.9,92.2L1191.1,94.0L1192.0,95.2L1192.3,96.8L1191.8,98.4L1190.9,99.6L1186.9,101.8ZM1179.7,102.8L1172.9,102.4L1167.7,100.9L1164.5,98.4L1163.9,96.8L1164.1,95.6L1166.4,93.2L1168.9,91.7L1176.5,90.4L1185.7,91.5L1188.1,92.7L1190.1,94.4L1190.8,95.6L1191.0,97.2L1189.7,99.4L1186.1,101.4ZM1180.5,102.0L1176.1,102.2L1169.7,100.9L1166.3,98.8L1165.4,97.2L1165.5,96.0L1168.9,92.5L1174.1,91.2L1180.1,91.1L1185.3,92.2L1187.3,93.2L1189.5,96.0L1189.6,97.2L1189.1,98.4L1186.1,100.5ZM1180.5,101.3L1176.9,101.5L1170.8,100.4L1167.6,98.0L1167.2,96.8L1167.5,95.6L1168.5,94.0L1170.1,92.9L1176.9,91.7L1181.3,92.1L1184.9,93.0L1186.7,94.0L1188.0,96.4L1187.3,98.4L1185.3,99.9ZM1180.1,100.4L1176.9,100.7L1171.4,99.6L1169.3,97.6L1169.3,95.2L1171.3,93.5L1177.7,92.4L1180.9,92.8L1185.7,94.8L1186.4,96.4L1185.6,98.4L1183.7,99.5ZM1180.5,99.2L1177.3,99.5L1172.8,98.8L1171.2,97.6L1170.9,95.6L1172.5,94.4L1178.1,93.5L1180.7,94.0L1184.0,95.6L1184.5,96.4L1184.1,97.6ZM1179.3,97.6L1175.7,97.5L1174.7,97.2L1174.2,96.4L1175.7,95.6L1179.3,95.6L1180.2,96.0L1180.6,96.8ZM881.5,232.1L875.9,232.4L869.9,231.5L865.5,229.4L861.7,226.1L860.1,222.9L859.8,218.1L861.3,214.9L864.7,211.2L867.1,209.7L871.9,208.0L878.7,207.5L883.1,208.4L886.3,209.5L889.9,211.5L892.3,213.7L893.7,216.1L894.5,220.1L894.4,222.1L893.3,224.9L891.9,226.6L887.5,230.1ZM881.5,231.4L875.5,231.7L869.9,230.8L866.1,228.9L862.4,225.7L860.9,222.5L860.8,218.1L862.7,214.5L865.5,211.5L867.5,210.3L872.3,208.7L878.7,208.2L885.5,209.9L889.5,212.3L891.5,214.1L892.6,216.1L893.5,220.1L893.4,222.1L892.5,224.5L887.1,229.5ZM878.3,230.9L873.1,230.7L869.1,229.7L865.1,227.1L862.4,224.1L861.7,221.3L862.0,217.7L864.1,214.1L867.1,211.4L873.9,209.1L879.5,209.0L885.8,210.9L889.5,213.5L891.1,215.3L892.5,220.9L892.1,222.9L890.9,224.9L888.3,227.6L885.9,229.2L881.9,230.5ZM879.1,230.1L873.5,229.9L869.9,229.1L866.7,227.3L863.8,224.5L862.8,221.7L863.0,218.1L864.6,214.9L867.5,212.2L873.9,210.0L879.1,209.7L885.1,211.4L889.8,215.3L891.4,220.5L891.1,222.5L889.9,224.5L887.9,226.8L885.9,228.3ZM879.1,229.3L873.9,229.1L870.7,228.4L867.5,226.7L865.0,224.5L864.0,221.7L864.1,218.5L865.3,215.7L867.9,213.0L873.1,211.1L879.1,210.5L884.7,212.3L888.7,215.7L890.2,220.9L888.6,224.5L887.1,226.3L885.1,227.6ZM880.3,228.2L877.1,228.4L871.9,227.7L869.5,226.7L866.4,224.5L865.4,222.5L865.2,219.7L865.9,216.9L867.5,214.7L869.1,213.5L871.9,212.4L878.3,211.4L883.1,212.7L887.1,215.7L888.1,217.3L888.7,219.7L888.8,221.3L888.2,222.9L885.5,226.1ZM879.1,227.3L876.7,227.4L872.3,226.6L867.8,224.1L866.8,222.5L866.5,220.1L867.1,217.3L868.2,215.7L872.7,213.3L877.5,212.4L881.9,213.4L884.7,215.3L887.0,218.9L887.3,220.5L886.9,222.1L884.7,224.9L881.5,226.7ZM877.9,226.1L875.1,225.9L871.1,224.6L869.2,223.3L868.3,221.7L868.3,219.3L869.1,217.3L874.2,214.1L877.9,213.6L881.5,214.5L883.5,216.1L885.3,219.3L885.3,221.7L884.0,223.7L881.1,225.4ZM877.1,224.5L875.1,224.3L871.9,223.0L870.8,221.7L870.6,220.5L871.4,218.5L874.3,215.9L876.3,215.0L878.3,215.0L880.3,215.5L881.9,216.5L883.3,218.9L883.6,220.9L883.1,222.2L881.9,223.3ZM877.1,222.2L875.1,222.0L874.3,221.1L874.2,220.1L876.3,217.7L878.3,217.3L879.5,218.3L879.8,220.1L878.9,221.3ZM854.0,254.2L850.8,254.4L848.0,254.1L843.5,251.4L841.6,247.8L837.7,243.8L836.4,241.8L836.4,239.0L838.2,236.2L842.8,233.7L847.6,232.7L852.0,232.5L856.0,233.0L860.8,234.5L862.8,235.4L864.6,237.0L866.1,239.4L866.1,241.4L861.9,247.4L860.1,251.4L858.0,253.2ZM851.6,253.4L848.4,253.1L846.0,251.8L844.7,250.6L843.3,247.8L838.1,242.6L837.5,240.6L837.8,238.6L838.7,237.0L840.4,235.6L842.8,234.4L846.8,233.5L853.2,233.2L861.0,235.4L862.8,236.5L864.0,237.8L864.8,239.8L864.7,241.4L860.3,247.4L858.5,251.0L856.4,252.5ZM852.8,251.9L850.0,252.1L848.2,251.4L845.1,247.4L839.6,242.7L839.0,241.4L838.9,239.4L839.5,237.8L840.8,236.3L842.8,235.2L846.8,234.2L852.8,233.9L858.7,235.4L861.3,236.6L862.6,237.8L863.5,240.2L862.9,242.2L856.1,250.6ZM852.0,249.4L849.2,248.4L843.2,244.4L841.3,242.6L840.5,241.4L840.3,239.8L840.7,238.2L841.6,237.0L843.6,235.9L846.4,235.1L852.8,234.7L857.6,235.9L861.1,238.2L862.0,240.6L861.0,242.6L858.4,245.3L853.2,249.1ZM852.4,246.3L849.2,246.3L843.6,243.1L842.1,240.6L842.1,239.0L842.8,237.8L845.6,236.3L851.2,235.6L855.2,236.0L858.6,237.8L860.1,240.2L859.4,242.2L856.8,244.6ZM851.6,244.7L849.6,244.6L845.2,242.2L844.1,240.6L844.5,238.6L846.4,237.4L850.8,236.7L854.2,237.0L856.7,238.2L857.9,240.2L857.1,242.2L855.2,243.7ZM850.8,242.6L849.5,242.2L848.1,241.0L847.9,239.8L848.4,239.1L851.6,238.4L854.4,239.4L854.8,240.6L854.3,241.4ZM960.9,212.9L952.9,212.7L945.7,211.0L943.3,209.7L941.4,208.1L940.6,206.5L940.8,204.9L942.4,202.9L946.5,200.7L951.3,199.5L956.5,199.0L963.7,199.4L968.1,200.3L972.1,201.9L974.4,204.1L975.0,205.7L975.0,206.9L974.2,208.5L972.8,209.7L968.5,211.6ZM960.1,212.5L952.5,212.2L946.1,210.5L943.7,209.1L942.2,207.7L941.7,206.5L941.9,204.9L943.7,202.9L947.3,201.0L951.7,199.9L956.5,199.4L962.9,199.8L967.3,200.6L971.2,202.1L973.2,204.1L973.9,206.9L972.1,209.3L968.1,211.1ZM959.3,212.1L952.1,211.6L946.9,210.1L943.4,207.7L942.8,206.5L942.9,205.3L944.6,203.3L947.7,201.4L951.7,200.4L956.1,199.9L962.1,200.2L966.5,201.0L970.5,202.5L972.2,204.1L972.8,206.9L972.2,208.1L970.8,209.3L966.1,211.1ZM961.7,211.3L956.5,211.6L948.6,210.1L944.8,207.7L944.1,206.5L944.3,205.3L946.0,203.3L948.5,201.8L952.1,200.9L956.5,200.4L961.7,200.6L965.7,201.4L969.3,202.7L971.1,204.1L971.8,206.5L970.6,208.5L966.9,210.3ZM960.5,210.9L956.9,211.0L949.3,209.6L946.4,207.7L945.7,206.5L945.8,205.3L947.3,203.5L949.7,202.1L957.3,200.9L961.7,201.2L965.3,202.0L968.9,203.5L970.4,204.9L970.5,206.9L968.5,208.9L964.9,210.3ZM962.1,210.1L957.7,210.5L951.3,209.4L948.1,207.8L947.3,205.7L948.3,204.1L950.5,202.7L957.3,201.5L961.3,201.8L964.5,202.6L968.9,205.3L969.2,206.5L968.0,208.1L965.3,209.4ZM959.3,209.7L951.3,208.4L949.3,206.9L949.2,205.3L950.2,204.1L951.7,203.2L957.7,202.2L963.9,203.3L965.4,204.1L967.0,205.7L966.9,207.3L965.3,208.5ZM961.7,208.5L958.1,208.8L954.2,208.1L952.1,207.2L951.3,205.7L952.5,204.3L955.7,203.3L962.1,203.9L964.3,204.9L965.2,206.5L964.2,207.7ZM960.1,207.3L957.3,207.3L955.7,206.5L955.4,205.7L957.3,204.8L960.5,205.3L961.3,205.7L961.6,206.5ZM971.0,253.6L962.2,253.0L957.0,251.2L954.6,249.8L953.3,248.4L952.7,246.8L953.2,244.8L955.0,242.6L958.2,240.9L963.0,239.6L969.8,238.9L978.2,240.1L983.0,242.1L985.5,244.4L986.0,246.0L985.8,247.6L984.7,249.2L983.2,250.4L979.0,252.3ZM974.2,252.8L966.6,253.1L959.8,251.8L954.7,248.8L953.8,247.2L954.1,245.2L955.4,243.1L958.2,241.4L962.6,240.1L968.2,239.4L977.0,240.2L981.8,242.2L983.7,243.6L984.8,245.2L985.0,246.4L984.5,248.0L983.6,249.2L980.2,251.3ZM973.4,252.4L966.2,252.6L959.8,251.2L957.0,249.6L955.3,248.0L954.8,246.4L955.2,244.8L957.0,242.8L959.8,241.5L963.0,240.6L969.0,239.9L976.6,240.7L981.0,242.6L982.9,244.0L983.6,245.2L983.8,246.8L982.3,249.2L979.4,251.0ZM972.2,252.0L966.6,252.0L960.6,250.8L956.6,248.0L956.0,246.8L956.1,245.2L957.4,243.6L960.2,242.0L968.6,240.4L976.6,241.3L980.2,243.0L982.0,244.4L982.6,246.8L980.6,249.5L977.0,251.0ZM973.4,251.3L967.4,251.5L961.4,250.4L958.1,248.0L957.4,246.8L957.4,245.6L958.4,244.0L960.6,242.7L968.2,241.0L975.8,241.8L980.6,244.4L981.4,246.4L980.2,248.6L977.8,250.0ZM971.8,250.8L967.0,250.8L961.8,249.6L959.4,247.6L959.0,246.4L959.2,245.2L960.2,244.0L962.2,243.0L968.6,241.7L975.2,242.4L977.8,243.5L979.4,244.8L980.0,246.4L978.9,248.4L975.8,250.0ZM971.8,250.1L967.8,250.0L962.6,248.8L961.1,247.6L960.8,245.6L961.7,244.4L963.2,243.6L968.2,242.5L974.2,243.0L976.5,244.0L978.0,245.2L978.3,246.8L977.4,248.1L975.0,249.3ZM972.6,248.9L969.8,249.2L966.9,248.8L963.4,247.6L962.5,246.0L963.8,244.5L966.6,243.6L973.4,244.0L975.7,245.2L976.3,246.8L975.1,248.0ZM970.6,247.3L967.8,247.2L966.5,246.4L966.3,245.6L968.2,245.0L970.6,245.4L971.5,246.4ZM866.2,618.1L857.0,618.0L849.0,615.4L846.9,614.1L845.3,612.1L844.7,610.1L845.2,608.1L847.4,605.6L853.0,603.1L861.4,601.9L867.4,602.1L873.0,603.4L877.4,605.5L879.5,607.3L880.6,609.3L880.6,610.9L878.6,613.8L874.2,616.4ZM865.0,617.7L857.0,617.5L849.6,614.9L847.8,613.7L846.3,611.7L845.8,609.7L846.3,608.1L848.2,606.0L853.4,603.6L861.8,602.4L867.0,602.6L872.6,603.9L876.4,605.7L878.6,607.7L879.4,609.3L879.4,610.9L878.5,612.5L876.7,614.1L874.6,615.5L871.4,616.7ZM867.0,616.9L858.2,617.1L851.0,614.7L849.2,613.7L847.8,612.1L847.1,610.1L847.3,608.5L849.0,606.5L853.8,604.1L860.6,602.9L865.8,603.0L871.4,604.2L874.6,605.5L877.0,607.3L878.3,610.1L877.9,611.3L876.7,612.9L873.0,615.4ZM865.0,616.5L857.8,616.4L851.6,614.1L849.8,612.9L848.9,611.7L848.4,610.1L848.7,608.5L850.1,606.9L854.2,604.7L861.0,603.5L865.4,603.6L870.6,604.6L873.8,606.0L876.0,607.7L876.8,609.3L876.8,610.5L875.9,612.1L874.3,613.7L870.6,615.5ZM866.2,615.7L859.8,616.0L855.4,615.0L850.6,612.1L849.8,610.5L849.9,608.9L851.3,607.3L854.6,605.4L860.6,604.2L865.0,604.2L868.2,604.8L871.8,605.9L874.5,607.7L875.3,608.9L875.4,610.1L874.0,612.5L870.6,614.7ZM862.2,615.3L857.8,614.9L853.6,612.9L851.4,610.9L851.5,608.9L856.2,605.8L862.6,604.9L866.2,605.1L869.6,606.1L872.1,607.3L873.6,608.9L873.8,610.1L873.2,611.3L870.4,613.7L867.0,614.8ZM862.2,614.5L859.4,614.4L856.5,613.3L854.1,611.3L853.8,609.7L856.6,606.8L862.2,605.7L867.4,606.3L870.2,607.7L871.5,608.9L871.4,610.9L869.4,613.0L867.0,613.9ZM863.8,613.3L860.2,613.4L857.7,612.5L856.2,610.9L856.7,608.9L858.6,607.5L862.2,606.7L866.2,607.2L868.4,608.5L869.3,610.1L868.7,611.7L867.0,612.7ZM862.6,611.7L859.8,611.6L859.0,610.9L859.0,609.7L859.8,608.9L861.4,608.4L863.0,608.5L864.7,609.3L864.9,610.5ZM968.2,594.7L963.4,595.0L956.6,594.6L949.0,593.4L943.0,591.6L938.2,589.4L934.5,586.7L933.0,584.3L932.9,581.5L935.8,578.3L940.2,576.2L949.4,574.6L956.2,574.5L964.2,575.3L969.8,576.5L977.0,579.0L981.0,581.2L982.7,582.7L984.4,585.5L984.7,587.1L984.1,588.7L982.7,590.3L977.8,592.9ZM966.2,594.3L956.6,594.1L949.0,592.8L943.0,590.9L938.6,588.8L935.5,586.3L934.2,584.3L934.2,581.9L936.8,578.7L941.0,576.7L949.4,575.2L956.6,575.1L964.6,576.0L970.2,577.3L977.4,579.9L980.5,581.9L982.0,583.5L983.2,585.9L983.2,587.5L982.2,589.1L979.6,591.1L977.4,592.2L972.2,593.6ZM968.2,593.5L957.4,593.6L949.0,592.1L943.8,590.5L939.8,588.5L937.4,586.7L935.7,584.7L935.5,582.7L937.5,579.5L941.4,577.4L949.0,575.8L956.2,575.6L961.8,576.1L969.0,577.6L976.6,580.4L980.7,583.5L981.7,585.5L981.7,587.1L978.3,590.7L972.2,592.9ZM965.0,593.1L956.6,592.9L949.0,591.5L943.8,589.7L938.6,586.3L937.1,584.3L937.2,582.7L938.9,579.9L942.6,577.9L949.4,576.5L956.6,576.3L962.2,576.7L969.4,578.4L976.2,581.1L979.6,584.3L980.0,585.9L979.7,587.1L977.0,590.3L971.0,592.4ZM965.8,592.3L957.0,592.2L947.4,590.2L943.4,588.6L940.8,586.7L939.0,584.3L939.1,582.3L940.6,580.2L943.8,578.5L949.4,577.2L955.8,576.9L961.8,577.3L968.2,578.9L974.6,581.3L976.9,583.1L977.9,584.7L978.1,586.3L976.5,589.1L971.0,591.6ZM965.4,591.5L957.0,591.5L952.2,590.8L947.8,589.4L944.4,587.9L942.3,586.3L941.0,584.3L941.0,582.3L942.8,580.3L945.8,579.0L950.2,578.0L957.0,577.7L961.8,578.0L968.2,579.7L973.4,581.9L975.5,583.5L976.2,585.9L975.0,588.4L970.2,590.7ZM963.0,590.7L956.6,590.7L952.6,590.0L948.8,588.7L943.8,585.7L943.0,584.3L943.0,582.7L944.6,581.0L948.6,579.3L953.4,578.5L958.2,578.5L961.8,578.9L968.6,580.8L972.2,582.7L973.7,584.3L974.1,586.3L972.7,587.9L968.2,590.1ZM963.4,589.6L957.4,589.8L952.6,588.9L947.4,586.3L945.7,584.7L945.4,583.5L947.3,581.5L949.4,580.4L953.4,579.5L957.4,579.4L961.4,579.8L967.8,581.8L970.8,583.9L971.2,585.9L970.0,587.5L967.4,588.9ZM962.2,588.3L957.0,588.4L953.8,587.7L949.4,585.2L948.7,583.5L950.6,581.9L954.2,580.8L957.4,580.5L962.2,581.3L967.0,583.3L968.1,584.3L968.2,585.5L967.4,586.4L964.6,587.9ZM961.0,586.3L955.3,585.9L953.8,585.1L953.6,584.3L954.6,583.1L956.2,582.5L960.6,583.0L962.5,583.9L963.3,585.1L962.7,585.9ZM1001.7,692.0L996.1,692.1L968.9,690.4L963.7,689.3L959.7,687.8L957.4,686.0L956.7,684.0L957.3,682.8L959.5,681.2L965.7,679.0L974.5,677.9L999.3,676.0L1012.1,677.0L1018.5,679.4L1021.6,681.2L1023.0,682.8L1023.2,684.4L1022.1,686.3L1020.5,687.7L1017.7,689.2L1009.3,691.5ZM998.9,691.6L969.3,690.1L964.1,688.9L960.5,687.4L958.6,686.0L958.0,684.0L958.9,682.6L960.9,681.3L966.9,679.3L974.5,678.3L999.7,676.5L1009.3,677.1L1012.5,677.7L1017.7,679.8L1020.4,681.6L1021.6,683.2L1021.6,684.8L1020.5,686.4L1015.7,689.3L1008.5,691.1ZM1004.9,690.8L996.9,691.1L970.5,689.8L962.9,687.9L960.0,686.0L959.3,684.4L960.1,682.8L962.1,681.4L968.5,679.5L974.9,678.7L999.3,677.0L1011.3,678.0L1016.5,680.0L1019.7,682.8L1020.1,684.0L1019.5,685.6L1016.5,688.2L1010.1,690.2ZM1002.5,690.4L996.9,690.6L970.9,689.4L963.7,687.5L961.6,686.0L960.7,684.4L961.3,683.2L963.4,681.6L969.3,679.9L975.3,679.1L999.7,677.6L1010.9,678.6L1015.7,680.6L1018.0,682.8L1018.3,684.0L1017.8,685.6L1015.3,687.9L1008.5,689.9ZM998.1,690.0L970.9,688.8L964.2,686.8L962.8,685.6L962.3,684.4L962.8,683.2L964.5,682.0L970.5,680.3L999.3,678.2L1010.5,679.4L1014.7,681.2L1016.5,683.2L1016.5,684.8L1016.0,686.0L1012.9,688.0L1007.3,689.4ZM1000.9,689.2L972.1,688.3L965.7,686.4L964.5,685.6L964.0,684.4L964.6,683.2L966.1,682.3L972.9,680.5L998.9,678.9L1009.7,680.1L1013.2,681.6L1014.6,683.2L1014.4,685.6L1012.5,687.0L1007.3,688.7ZM1001.3,688.4L973.7,687.9L968.9,686.6L967.0,685.6L966.2,684.4L966.6,683.6L968.5,682.4L974.1,681.1L988.5,680.6L996.5,679.8L1008.1,680.7L1010.7,681.6L1012.5,683.2L1012.5,685.1L1010.7,686.4L1007.3,687.7ZM1002.9,687.2L996.1,687.5L989.3,687.0L984.5,687.4L974.9,687.1L970.6,686.0L969.1,684.4L970.5,683.0L975.3,681.7L983.3,681.3L988.9,681.6L996.9,680.7L1006.1,681.4L1008.5,682.1L1009.8,683.2L1009.9,684.4L1008.1,686.2ZM998.1,686.0L995.3,686.3L988.9,685.5L984.5,686.2L976.5,686.0L974.5,685.6L973.7,684.4L975.0,683.2L977.7,682.7L984.1,682.4L988.9,683.1L996.5,682.2L999.3,682.3L1001.7,683.0L1005.3,682.8L1006.5,683.2L1007.1,684.0L1006.7,684.8L1005.7,685.2ZM1066.4,683.9L1060.8,683.8L1054.8,682.9L1051.7,681.9L1046.7,678.7L1046.0,677.1L1046.2,675.1L1048.1,673.1L1053.2,670.5L1058.8,669.4L1065.6,668.8L1071.6,669.4L1078.0,670.9L1082.0,673.1L1083.9,675.1L1084.1,676.7L1083.5,678.3L1080.0,681.2L1074.0,683.1ZM1064.0,683.5L1056.0,682.5L1052.0,681.3L1047.8,678.3L1047.2,676.7L1047.5,675.1L1050.3,672.7L1054.0,670.9L1059.2,669.8L1066.0,669.3L1072.4,670.1L1077.6,671.4L1081.0,673.5L1082.7,675.5L1082.8,676.7L1082.1,678.3L1078.5,681.1L1073.2,682.6ZM1067.6,682.7L1061.6,682.8L1053.6,681.1L1049.3,678.3L1048.6,677.1L1048.8,675.5L1051.2,673.1L1054.8,671.4L1059.2,670.4L1065.6,669.9L1071.6,670.6L1076.0,671.6L1078.8,672.9L1081.0,675.1L1081.4,676.3L1081.1,677.5L1078.3,680.3L1073.6,681.9ZM1069.2,681.9L1062.4,682.2L1055.2,680.8L1051.2,678.3L1050.4,677.1L1050.3,675.9L1051.8,673.9L1055.6,672.0L1059.6,671.0L1065.2,670.6L1073.6,671.7L1077.2,673.0L1078.9,674.3L1079.6,676.7L1078.0,679.3L1074.4,680.9ZM1065.2,681.5L1060.0,681.1L1055.2,679.7L1052.9,677.9L1052.4,676.7L1052.5,675.5L1054.0,673.9L1057.6,672.2L1065.6,671.4L1072.8,672.3L1076.0,673.6L1077.7,675.1L1077.7,677.5L1075.6,679.4L1070.8,680.9ZM1068.8,680.3L1064.4,680.7L1059.0,679.9L1055.2,677.9L1054.5,677.1L1054.4,675.9L1055.6,674.6L1058.8,672.9L1065.2,672.4L1071.6,673.1L1074.3,674.3L1075.6,675.5L1075.8,677.1L1074.8,678.4L1072.4,679.5ZM1066.4,679.5L1059.9,678.7L1057.9,677.5L1057.4,675.9L1059.6,674.1L1063.6,673.5L1070.0,673.9L1071.9,674.7L1073.2,675.9L1073.3,677.1L1072.0,678.3ZM1067.6,677.6L1063.2,677.3L1061.7,676.3L1062.8,675.5L1066.0,675.5L1068.5,676.7ZM1005.3,738.7L1001.3,739.1L996.5,738.8L988.9,737.2L986.1,736.1L984.1,734.7L982.6,732.7L982.5,731.1L984.7,728.7L988.1,726.9L994.9,725.3L1000.1,725.0L1006.1,725.2L1012.9,726.6L1016.5,728.1L1019.1,730.7L1019.4,733.1L1017.0,735.5L1011.7,737.7ZM1004.1,738.3L996.5,738.2L989.7,736.8L985.5,734.7L984.0,732.7L983.9,731.1L986.1,728.7L990.1,726.9L996.1,725.7L1001.3,725.5L1006.1,725.7L1012.9,727.2L1015.7,728.6L1017.7,730.7L1018.2,731.9L1018.0,733.1L1015.7,735.2L1010.9,737.2ZM1002.9,737.9L996.1,737.6L990.3,736.3L986.6,734.3L985.5,732.7L985.4,731.1L987.2,729.1L991.3,727.3L996.5,726.2L1002.1,726.0L1006.1,726.2L1012.5,727.8L1014.5,728.8L1016.2,730.7L1016.7,731.9L1016.4,733.1L1013.5,735.5L1008.9,737.0ZM1004.5,737.1L1000.1,737.4L992.1,736.1L987.9,733.9L987.1,732.7L987.1,731.1L988.6,729.5L991.3,728.1L995.3,727.0L999.3,726.6L1006.5,726.9L1012.1,728.5L1014.5,730.3L1015.0,731.5L1014.9,732.7L1013.1,734.7L1009.7,736.1ZM1002.5,736.7L996.1,736.3L992.8,735.5L989.6,733.5L989.0,732.7L989.0,731.5L990.3,729.9L992.2,728.7L998.9,727.3L1006.1,727.6L1011.3,729.1L1013.1,730.7L1013.2,732.7L1011.3,734.5L1007.7,735.8ZM1002.9,735.9L1000.1,736.0L994.1,735.0L991.8,733.5L991.1,732.3L991.2,731.5L992.1,730.3L993.7,729.2L998.9,728.1L1005.7,728.4L1009.7,729.7L1011.2,730.7L1011.4,732.3L1010.0,733.9L1007.3,735.0ZM1001.7,735.1L994.9,734.0L993.7,733.1L993.4,731.5L994.5,730.3L996.1,729.6L1000.9,729.1L1006.1,729.8L1009.2,731.5L1008.9,732.7L1007.8,733.5ZM1000.9,733.9L998.1,733.1L997.0,731.9L998.5,730.9L1001.3,730.5L1002.9,730.7L1004.7,731.9L1004.0,733.1ZM1030.0,761.0L1022.0,760.4L1014.4,758.1L1011.9,756.6L1010.4,755.0L1009.9,753.4L1010.2,751.8L1013.4,748.6L1016.4,747.0L1023.6,745.3L1030.8,745.0L1036.8,745.3L1043.6,747.0L1047.4,749.0L1049.8,751.4L1050.1,753.4L1049.6,755.0L1048.0,756.6L1045.6,758.0L1038.4,760.3ZM1033.6,760.2L1024.0,760.1L1017.2,758.4L1012.5,755.8L1011.5,754.2L1011.5,752.2L1013.3,749.8L1015.6,748.1L1024.8,745.8L1031.6,745.6L1037.6,746.1L1044.4,748.1L1048.0,751.0L1048.7,752.6L1048.5,754.2L1047.7,755.4L1045.6,756.9L1040.0,759.3ZM1030.8,759.8L1022.8,759.3L1016.4,757.2L1014.4,756.0L1013.3,754.6L1013.0,753.0L1013.4,751.4L1015.2,749.4L1017.6,748.2L1023.6,746.5L1030.8,746.2L1036.0,746.5L1039.2,747.2L1044.0,749.0L1046.6,751.4L1047.1,753.0L1046.7,754.2L1042.8,757.4L1037.6,759.2ZM1032.0,759.0L1025.6,759.0L1019.6,757.6L1015.2,755.0L1014.6,753.4L1014.8,751.8L1016.4,749.8L1018.8,748.7L1024.0,747.2L1030.4,746.9L1038.0,747.7L1042.8,749.6L1044.8,751.4L1045.2,752.6L1044.8,754.2L1042.0,756.8L1037.6,758.4ZM1032.4,758.2L1026.8,758.5L1021.2,757.2L1017.2,755.0L1016.4,753.8L1016.4,752.2L1018.0,750.3L1021.6,748.8L1025.2,748.0L1030.4,747.6L1037.6,748.5L1041.0,750.2L1042.8,751.8L1043.1,753.0L1042.8,754.2L1041.1,756.2L1036.4,757.8ZM1031.2,757.4L1026.4,757.6L1021.9,756.2L1018.9,754.2L1018.8,752.2L1020.4,750.6L1022.8,749.5L1030.4,748.4L1036.8,749.3L1038.9,750.6L1040.7,752.6L1040.8,754.2L1039.2,755.6L1035.2,757.1ZM1028.8,756.6L1026.0,756.4L1023.1,755.0L1021.6,753.8L1021.4,752.2L1024.0,750.4L1029.6,749.5L1035.6,750.2L1037.7,751.8L1037.9,753.8L1036.1,755.4L1034.0,756.1ZM1029.6,754.6L1026.4,754.6L1025.1,753.8L1024.7,752.6L1026.0,751.6L1028.0,751.2L1034.0,751.7L1035.3,752.6L1035.1,753.4L1034.0,754.2ZM980.3,768.3L974.3,768.4L969.1,767.7L965.1,766.5L962.3,765.1L960.2,763.1L959.5,761.5L959.7,759.5L961.4,757.5L964.7,755.6L970.7,754.0L975.1,753.5L981.5,753.7L987.5,755.0L991.1,756.5L993.5,758.7L994.2,760.3L994.2,761.9L993.3,763.5L991.7,765.1L986.7,767.3ZM979.1,767.9L970.3,767.3L965.5,766.0L961.5,763.1L960.6,761.5L960.7,759.9L962.4,757.9L965.5,756.1L970.7,754.6L974.7,754.1L980.7,754.1L986.3,755.3L989.9,756.7L992.3,758.7L993.0,760.3L993.1,761.9L992.2,763.5L990.7,764.9L985.5,767.0ZM980.7,767.1L975.1,767.3L967.1,765.9L963.2,763.5L962.1,761.9L961.9,760.3L963.5,758.3L966.3,756.6L970.7,755.2L974.7,754.6L980.3,754.6L985.5,755.8L989.1,757.2L991.0,758.7L991.9,761.5L990.5,763.9L985.9,766.2ZM978.3,766.7L971.1,766.1L967.5,765.2L964.0,762.7L963.4,761.5L963.4,760.3L964.7,758.7L967.9,756.8L971.5,755.7L975.1,755.3L980.3,755.3L985.1,756.4L988.2,757.9L990.0,759.5L990.4,761.9L988.3,764.1L983.9,766.0ZM978.7,765.9L972.7,765.6L968.7,764.7L965.8,762.7L965.1,761.5L965.3,760.3L966.7,758.7L969.1,757.3L972.3,756.4L975.9,756.0L980.3,756.1L984.7,757.1L986.9,758.3L988.5,759.9L988.6,761.9L986.3,764.0L983.5,765.3ZM977.5,765.1L972.3,764.8L969.4,763.9L967.6,762.3L967.4,760.3L968.4,759.1L970.5,757.9L976.3,756.9L983.9,757.8L985.5,758.6L986.7,759.9L986.7,761.9L984.4,763.9L982.3,764.6ZM978.3,763.9L971.6,763.5L970.0,762.3L969.8,760.7L971.5,759.1L975.9,758.1L982.3,758.7L984.7,759.9L984.9,761.5L983.8,762.7ZM977.9,761.9L973.6,761.5L974.3,761.0L977.9,760.7L979.4,761.1ZM1252.8,863.7L1244.8,863.9L1238.8,862.7L1234.8,860.5L1234.0,859.3L1234.1,857.7L1235.3,856.1L1237.6,854.8L1242.0,853.5L1246.0,853.0L1250.8,853.1L1255.6,853.9L1259.2,855.1L1261.0,856.5L1261.9,858.5L1260.8,860.7L1257.2,862.6ZM1252.8,863.3L1246.0,863.6L1240.4,862.7L1235.9,860.5L1235.1,859.3L1235.0,858.1L1236.0,856.5L1238.0,855.2L1242.0,854.0L1246.0,853.4L1254.0,854.0L1258.0,855.1L1260.1,856.5L1261.0,858.5L1259.9,860.5L1256.8,862.3ZM1252.4,862.9L1246.4,863.2L1241.2,862.4L1237.1,860.5L1236.2,859.3L1236.1,858.1L1237.1,856.5L1238.8,855.5L1246.4,853.8L1250.4,853.9L1254.4,854.6L1257.6,855.6L1259.3,856.9L1259.9,858.9L1258.8,860.4L1256.0,862.0ZM1251.6,862.6L1246.0,862.7L1241.6,861.9L1238.0,860.2L1237.3,859.3L1237.2,858.1L1238.0,856.9L1240.0,855.7L1246.8,854.2L1253.6,854.9L1256.4,855.8L1258.1,856.9L1258.8,858.5L1257.9,860.1L1255.1,861.7ZM1250.4,862.1L1246.0,862.1L1242.4,861.5L1239.2,859.9L1238.6,858.1L1239.5,856.9L1241.2,856.0L1247.2,854.7L1253.6,855.5L1257.1,857.3L1257.4,858.9L1256.0,860.5L1253.6,861.6ZM1251.2,861.3L1247.2,861.6L1243.6,861.1L1240.8,859.7L1240.2,858.1L1241.2,857.0L1242.8,856.2L1247.2,855.3L1252.0,855.9L1255.3,857.3L1255.9,858.5L1255.2,859.7L1253.6,860.7ZM1250.4,860.5L1244.5,860.5L1242.8,859.7L1242.1,858.5L1243.8,856.9L1247.2,856.1L1250.5,856.5L1253.4,857.7L1253.8,858.5L1253.4,859.3ZM1247.2,859.3L1245.6,859.3L1244.8,858.5L1246.4,857.7L1249.1,858.1L1249.3,858.5L1248.8,858.9ZM1000.3,840.8L993.1,840.9L985.1,839.1L982.3,837.6L980.5,836.0L979.5,834.0L979.7,832.4L981.2,830.4L985.1,828.1L989.9,826.6L994.7,826.0L1000.7,826.1L1007.1,827.3L1011.1,829.1L1013.7,831.6L1014.2,833.2L1013.9,834.8L1011.5,837.7L1006.3,839.8ZM999.1,840.4L992.7,840.3L985.5,838.5L981.4,835.6L980.7,834.0L980.8,832.8L982.8,830.4L985.9,828.5L989.5,827.3L994.3,826.6L1000.3,826.6L1006.3,827.7L1009.9,829.2L1012.1,831.2L1012.9,832.8L1012.8,834.4L1012.0,836.0L1010.7,837.3L1005.5,839.4ZM996.3,840.0L991.5,839.5L985.5,837.5L982.3,834.8L982.0,833.6L982.5,832.4L984.3,830.4L987.1,828.7L991.9,827.5L995.5,827.1L1000.7,827.2L1006.3,828.4L1009.1,829.7L1011.0,831.6L1011.6,833.2L1011.4,834.8L1009.2,837.2L1004.3,839.1ZM999.1,839.2L993.5,839.2L987.5,837.4L984.3,835.2L983.7,834.0L983.8,832.8L985.3,830.8L987.5,829.4L994.7,827.7L999.1,827.7L1002.7,828.3L1007.1,829.5L1009.4,831.2L1010.1,832.4L1010.2,834.0L1009.8,835.2L1008.7,836.4L1004.7,838.2ZM999.9,838.4L994.3,838.6L989.9,837.5L986.2,835.2L985.5,834.0L985.5,832.8L986.6,831.2L988.3,830.2L992.7,828.7L995.5,828.4L1001.9,828.9L1006.3,830.2L1008.2,831.6L1008.9,833.6L1007.8,835.6L1004.3,837.5ZM999.5,837.6L994.3,837.7L990.8,836.8L988.0,834.8L987.6,832.8L988.4,831.6L990.5,830.4L993.5,829.4L996.3,829.1L1001.2,829.6L1004.7,830.8L1006.5,832.0L1007.0,833.6L1005.9,835.3L1003.3,836.8ZM999.9,836.4L994.7,836.5L991.9,836.0L990.2,834.8L989.9,832.8L991.0,831.6L992.7,830.8L997.1,830.0L1000.3,830.5L1004.1,832.4L1004.5,833.6L1003.8,834.8L1002.3,835.8ZM999.5,834.5L994.3,834.6L993.0,833.6L993.5,832.8L994.7,832.2L998.3,831.7L999.9,832.4L1000.5,833.2L1000.4,834.0ZM953.2,937.1L950.0,937.3L939.6,936.2L936.7,932.7L936.4,931.5L936.7,929.9L938.2,927.9L940.8,926.1L948.4,924.4L953.6,924.5L958.8,925.5L961.6,926.7L963.9,928.7L964.7,930.3L964.7,931.5L963.2,933.7L959.2,935.9ZM924.4,951.9L914.0,951.3L907.6,949.2L905.2,947.8L902.6,945.1L901.8,943.5L902.2,941.5L904.5,938.7L908.0,936.6L917.2,934.2L928.4,934.4L934.4,935.4L939.2,937.2L941.0,939.9L941.9,942.7L941.7,944.7L940.2,946.7L934.8,950.1L929.2,951.5ZM952.8,936.7L949.2,936.7L940.8,935.3L937.8,932.3L937.5,931.1L937.7,929.9L939.3,927.9L941.2,926.6L948.0,924.9L953.2,924.9L957.2,925.6L960.4,926.7L962.5,928.3L963.8,931.1L962.4,933.4L958.4,935.6ZM926.4,951.1L918.8,951.3L913.2,950.6L909.6,949.3L906.7,947.9L904.9,946.3L903.3,943.9L903.3,941.9L905.3,939.1L908.8,937.0L915.2,935.1L918.4,934.7L926.4,934.8L931.6,935.6L935.2,936.7L938.8,938.9L940.0,940.7L940.6,943.1L940.2,944.7L938.8,946.7L934.4,949.5ZM952.0,936.3L945.6,935.7L941.6,934.6L938.9,931.9L938.9,929.9L940.4,928.0L942.0,926.9L948.0,925.5L955.2,925.7L959.6,927.0L961.8,928.7L962.7,931.1L961.2,933.3L957.6,935.2ZM924.4,950.7L919.6,950.8L914.0,950.1L908.4,947.9L906.5,946.7L905.0,944.7L904.5,943.1L904.8,941.5L906.4,939.4L910.0,937.4L916.0,935.6L920.8,935.1L927.2,935.5L933.2,936.8L935.6,937.9L938.1,939.9L939.0,941.5L939.2,943.5L938.3,945.5L936.7,947.1L932.8,949.2ZM954.0,935.5L949.6,935.7L942.9,934.3L940.5,932.3L940.1,931.1L940.4,929.9L942.5,927.5L947.6,926.0L954.4,926.1L958.4,927.2L960.3,928.3L961.4,930.3L960.9,932.3L958.0,934.4ZM925.6,949.9L919.2,950.1L912.4,948.8L906.9,945.5L905.9,943.5L906.0,941.9L907.6,939.8L910.8,938.0L916.0,936.3L921.2,935.7L926.8,936.2L932.8,937.6L934.8,938.5L936.9,940.3L937.6,941.5L937.9,943.1L937.3,944.7L936.0,946.3L932.0,948.6ZM951.6,935.1L946.4,934.6L943.2,933.5L941.6,931.5L942.2,929.1L943.5,927.9L946.0,926.9L952.0,926.5L957.0,927.5L959.7,929.1L960.1,931.1L958.5,933.1L955.6,934.5ZM926.4,949.1L919.6,949.4L913.2,948.2L908.4,945.1L907.5,943.5L907.7,941.9L909.2,940.1L912.5,938.3L916.4,937.1L921.6,936.4L930.0,937.7L933.2,938.8L935.2,940.3L936.5,942.7L935.5,945.1L931.6,947.7ZM954.8,933.9L950.0,934.3L946.0,933.7L943.5,932.3L943.0,930.3L944.1,928.7L946.8,927.5L952.0,927.2L954.8,927.6L958.0,929.1L958.7,930.7L957.4,932.7ZM926.0,948.4L919.6,948.6L914.0,947.4L910.1,944.7L909.4,943.5L909.4,942.3L910.7,940.7L913.6,939.0L916.8,937.9L921.6,937.2L929.2,938.4L932.4,939.7L934.2,941.1L935.0,943.1L933.7,945.1L930.4,947.2ZM950.8,933.1L945.8,932.3L944.7,931.1L944.9,929.9L946.8,928.5L952.0,928.1L955.2,928.8L957.0,930.3L956.8,931.5L955.6,932.5ZM925.6,947.5L919.6,947.6L915.6,946.5L912.4,944.7L911.6,943.5L911.6,942.7L913.4,940.7L915.3,939.5L921.6,938.3L928.0,939.2L930.8,940.4L932.7,941.9L933.0,943.5L931.5,945.1L929.6,946.3ZM952.0,931.1L950.0,931.1L949.2,930.3L951.2,929.6L953.3,930.3ZM925.2,946.3L919.2,946.3L915.1,944.3L914.5,943.5L914.7,942.3L915.4,941.1L916.7,940.3L920.8,939.6L926.6,940.3L928.8,941.1L930.3,942.3L930.5,943.5L929.6,944.6ZM924.0,944.7L920.6,944.7L918.3,943.1L918.2,942.3L920.8,941.3L924.5,941.9L925.8,943.1L925.4,943.9Z" fill="none" stroke="#ff00ff" stroke-width="0.7"/>
<path d="M910.1,135.0L904.1,134.7L897.3,132.8L894.7,131.0L893.0,129.0L892.7,127.4L893.3,125.4L895.3,123.3L897.7,122.0L903.7,120.4L909.7,120.0L914.1,120.5L919.7,121.8L922.9,123.5L925.1,125.8L925.7,127.4L925.5,128.6L924.5,130.2L922.9,131.5L917.3,134.0ZM912.5,134.2L905.7,134.4L898.5,132.7L896.0,131.0L894.3,129.0L893.9,127.4L894.3,125.8L895.9,123.8L898.1,122.6L904.1,120.9L909.3,120.5L913.3,120.9L918.9,122.3L921.7,123.6L923.6,125.4L924.5,127.0L924.5,128.2L922.8,130.6L918.1,133.1ZM910.1,133.8L904.5,133.7L898.4,131.8L896.6,130.2L895.4,128.2L895.2,127.0L895.8,125.4L897.7,123.6L902.1,122.0L905.3,121.3L909.7,121.1L913.7,121.6L918.1,122.8L920.9,124.1L922.6,125.8L923.2,127.4L923.1,128.6L920.7,131.0L916.5,132.9ZM911.7,133.0L905.3,133.1L899.3,131.3L897.9,130.2L897.0,128.6L896.7,127.0L897.0,125.8L898.6,124.2L902.1,122.8L905.3,122.0L908.9,121.8L915.3,122.6L918.9,124.0L920.9,125.4L921.8,127.8L920.5,130.0L916.5,132.1ZM912.1,132.2L905.7,132.4L901.1,131.0L899.6,130.2L898.7,129.0L898.4,126.2L899.4,125.0L901.3,124.0L904.5,122.9L906.9,122.6L914.5,123.2L917.3,124.3L919.5,125.8L920.3,127.8L919.3,129.5L916.0,131.4ZM910.1,131.4L906.1,131.5L902.9,130.7L900.4,129.0L899.8,127.8L899.9,126.6L901.0,125.4L904.1,123.9L910.1,123.5L915.3,124.4L917.2,125.4L918.2,126.6L918.3,128.2L916.5,130.0L913.7,131.1ZM911.7,130.2L908.1,130.4L904.1,129.8L902.3,128.6L901.9,127.0L903.7,125.4L906.1,124.8L912.5,124.9L915.8,126.2L916.4,127.4L915.8,128.6L914.1,129.6ZM909.7,128.7L908.1,128.5L905.4,127.4L908.9,126.4L911.3,127.0L911.4,127.8ZM1190.8,110.1L1181.6,110.2L1176.0,109.6L1171.6,108.3L1167.5,106.4L1165.1,104.4L1163.9,102.4L1164.0,100.4L1166.3,97.2L1170.0,94.9L1177.2,92.9L1184.0,92.1L1191.2,92.6L1197.6,93.9L1202.8,95.9L1205.8,98.8L1206.6,100.4L1206.6,102.0L1206.0,103.6L1204.4,105.3L1198.0,108.5ZM1190.0,109.6L1183.6,109.8L1178.4,109.4L1171.2,107.5L1168.0,105.8L1165.8,103.6L1165.0,102.0L1165.4,100.0L1167.6,97.2L1171.6,94.9L1177.6,93.3L1184.0,92.7L1190.8,93.1L1196.8,94.3L1201.6,96.1L1204.3,98.4L1205.3,100.0L1205.5,101.6L1205.0,103.2L1203.6,104.8L1197.2,108.1ZM1188.4,109.2L1178.4,108.8L1171.6,107.0L1169.1,105.6L1167.5,104.0L1166.4,102.0L1166.6,100.0L1168.5,97.6L1172.4,95.4L1178.0,93.8L1184.4,93.2L1190.8,93.6L1196.0,94.7L1201.2,96.8L1203.4,98.8L1204.1,100.4L1204.1,102.0L1203.4,103.6L1201.6,105.2L1196.0,107.8ZM1190.0,108.4L1186.0,108.7L1179.2,108.3L1172.4,106.5L1170.4,105.5L1168.8,104.0L1167.9,102.0L1168.1,100.0L1170.1,97.6L1173.2,95.8L1178.0,94.4L1184.4,93.8L1190.4,94.2L1194.8,95.0L1199.6,96.9L1202.1,98.8L1202.9,100.4L1202.8,102.0L1200.8,104.7L1195.6,107.2ZM1188.4,108.0L1178.8,107.6L1172.4,105.6L1170.8,104.6L1169.8,103.2L1169.5,101.6L1169.7,100.0L1171.2,98.0L1173.6,96.5L1178.4,95.0L1184.4,94.4L1194.0,95.5L1198.8,97.5L1201.0,99.2L1201.6,100.4L1201.5,102.0L1199.6,104.5L1194.0,107.0ZM1188.8,107.3L1185.6,107.5L1179.2,106.9L1174.4,105.4L1172.5,104.4L1171.6,103.2L1171.2,101.2L1171.6,99.6L1173.2,97.8L1177.2,96.1L1185.2,95.1L1193.6,96.2L1197.7,98.0L1199.6,99.6L1200.1,100.8L1200.0,102.0L1198.4,104.0L1193.6,106.3ZM1188.8,106.5L1184.8,106.7L1179.2,106.0L1176.4,105.2L1173.5,103.2L1173.0,101.6L1173.2,100.0L1174.5,98.4L1177.8,96.8L1185.6,95.8L1193.2,97.0L1196.0,98.4L1197.9,100.0L1198.3,101.6L1197.2,103.1L1193.2,105.4ZM1188.0,105.6L1184.8,105.8L1177.6,104.5L1175.3,102.8L1174.9,101.6L1175.1,100.4L1176.4,98.8L1178.4,97.7L1185.6,96.7L1191.6,97.5L1195.6,100.0L1195.9,101.6L1194.0,103.6L1191.7,104.8ZM1188.0,104.4L1185.2,104.7L1179.5,103.6L1177.8,102.4L1177.7,100.8L1178.4,99.6L1179.6,99.0L1185.2,97.9L1189.2,98.1L1191.9,99.2L1193.2,100.8L1192.8,102.1L1190.9,103.6ZM1188.0,102.4L1184.8,102.6L1183.1,102.0L1182.8,101.2L1185.2,99.7L1187.6,99.7L1189.5,100.8L1189.3,101.6ZM1246.9,101.8L1243.7,102.2L1236.9,101.9L1229.7,100.1L1226.1,98.4L1224.2,96.6L1222.6,93.4L1222.7,91.0L1225.2,87.4L1227.5,85.8L1232.5,84.0L1238.9,82.9L1244.5,82.9L1251.7,84.1L1255.3,85.3L1259.7,88.2L1261.1,90.2L1261.6,92.2L1261.4,94.2L1260.1,96.3L1257.3,98.5L1254.1,100.1ZM1245.7,101.5L1236.5,101.3L1231.7,100.2L1228.5,98.8L1226.1,97.4L1224.5,95.4L1223.6,92.6L1224.0,90.6L1226.4,87.4L1229.3,85.7L1235.7,83.9L1240.5,83.4L1246.1,83.6L1252.1,84.8L1254.9,85.9L1259.2,89.0L1260.3,91.0L1260.6,93.0L1259.9,95.0L1258.5,96.6L1253.3,99.7ZM1244.1,101.0L1235.7,100.5L1231.7,99.5L1228.1,97.8L1226.2,96.2L1225.1,94.2L1224.8,92.2L1225.7,89.8L1227.7,87.5L1230.9,85.8L1236.9,84.3L1241.7,83.9L1246.9,84.3L1252.1,85.5L1254.5,86.6L1258.5,89.6L1259.4,91.4L1259.5,93.4L1258.3,95.4L1256.1,97.4L1251.3,99.6ZM1245.7,100.2L1237.7,100.2L1232.9,99.2L1230.1,98.0L1227.9,96.6L1226.7,95.0L1226.1,92.6L1226.7,90.2L1228.5,88.0L1231.7,86.3L1237.3,84.8L1241.3,84.6L1246.1,84.8L1250.9,85.8L1253.5,87.0L1257.3,89.8L1258.2,91.4L1258.3,93.0L1257.6,94.6L1255.7,96.7L1252.5,98.5ZM1240.5,99.8L1233.8,98.6L1228.9,96.1L1227.7,94.6L1227.3,93.0L1227.6,91.0L1228.5,89.5L1231.4,87.4L1235.3,86.1L1238.9,85.4L1244.5,85.4L1251.3,86.8L1253.6,88.2L1256.7,91.0L1257.0,92.2L1256.6,93.8L1254.9,96.1L1253.3,97.3L1246.5,99.4ZM1241.7,99.0L1238.9,99.0L1235.7,98.3L1230.3,95.8L1229.1,94.6L1228.6,93.4L1229.3,90.6L1231.3,88.6L1233.3,87.5L1237.7,86.3L1241.7,86.0L1246.5,86.3L1250.1,87.2L1252.6,88.6L1254.9,91.0L1255.3,92.2L1255.0,93.8L1252.9,96.4L1246.5,98.6ZM1240.5,98.2L1235.7,97.4L1231.0,94.6L1230.4,93.4L1230.5,92.2L1232.2,89.4L1233.7,88.5L1237.7,87.3L1242.9,86.8L1249.7,88.0L1251.4,89.0L1252.9,90.6L1253.4,93.4L1252.9,94.6L1251.6,95.8L1246.1,97.8ZM1244.9,97.0L1239.3,97.2L1235.7,96.1L1232.7,93.8L1232.5,92.6L1232.9,91.0L1234.6,89.4L1240.9,87.7L1244.5,88.0L1250.1,89.5L1251.6,91.4L1251.3,93.9L1248.5,95.8ZM1242.5,95.8L1239.3,95.9L1236.9,95.2L1234.6,93.4L1234.5,91.8L1236.1,90.4L1241.3,88.8L1244.1,89.1L1249.3,91.1L1249.5,92.6L1248.1,94.2L1245.7,95.4ZM1241.3,93.9L1238.8,93.8L1237.9,93.0L1237.8,92.2L1238.9,91.2L1240.5,90.7L1242.9,90.8L1244.3,91.4L1244.6,92.2L1244.1,92.8ZM913.0,238.8L909.8,239.1L902.6,238.3L896.2,235.9L892.4,233.6L890.0,230.4L889.2,226.4L889.6,222.8L891.3,220.0L894.2,217.4L897.4,215.5L901.0,214.2L906.6,213.1L915.0,213.5L921.4,215.9L924.7,218.0L927.4,221.1L928.4,223.2L928.6,228.0L927.5,231.2L925.0,234.0L922.2,236.0L917.4,237.8ZM913.0,238.0L909.8,238.3L902.6,237.5L896.6,235.1L893.2,232.8L891.0,230.0L890.4,226.8L890.9,223.2L892.4,220.4L895.4,217.7L897.8,216.2L906.6,213.9L914.6,214.2L920.6,216.5L923.1,218.0L926.2,221.6L927.2,223.6L927.4,227.6L926.7,230.4L924.3,233.2L921.8,235.1L917.4,237.0ZM912.6,237.3L909.0,237.4L902.6,236.6L897.0,234.1L894.6,232.4L892.4,229.6L891.7,226.4L892.5,222.8L894.0,220.4L898.2,217.0L906.6,214.7L914.6,215.2L919.8,217.1L921.9,218.4L926.1,224.0L926.3,226.8L925.5,230.0L923.0,232.9L920.6,234.7L916.6,236.3ZM911.8,236.4L908.2,236.5L902.2,235.4L897.5,233.2L895.2,231.2L893.6,228.4L893.1,225.6L894.3,222.0L896.8,219.2L898.6,218.0L903.4,216.3L907.4,215.6L915.0,216.3L919.4,217.9L921.1,219.2L924.3,223.2L925.1,224.8L925.0,227.2L924.2,229.6L921.9,232.4L919.8,234.0L915.4,235.7ZM912.6,235.3L908.2,235.4L903.4,234.5L899.4,232.9L897.0,231.2L895.2,228.4L894.7,225.6L895.6,222.8L897.9,220.0L899.7,218.8L903.4,217.4L907.0,216.7L913.0,217.0L917.8,218.4L919.8,219.6L923.6,224.8L923.8,226.4L923.2,228.4L921.6,230.8L919.8,232.6ZM912.6,234.0L908.2,234.2L905.0,233.7L901.2,232.4L898.6,230.7L896.9,228.4L896.4,226.0L897.1,223.6L899.4,220.7L901.0,219.6L904.6,218.2L910.2,217.8L916.2,219.2L919.0,220.8L921.6,225.6L920.7,229.2L918.6,231.7ZM909.8,232.8L907.0,232.8L903.8,232.0L901.0,230.4L899.4,228.8L898.4,226.8L898.4,225.2L899.1,223.6L901.2,221.2L905.0,219.6L910.6,219.4L915.8,220.8L918.2,222.6L919.3,225.6L918.1,229.6L913.8,232.1ZM909.4,230.8L907.4,231.0L905.0,230.5L903.4,229.7L902.2,228.4L901.3,226.4L901.3,225.2L903.8,222.0L906.2,221.3L910.6,221.3L914.2,222.3L915.6,223.6L916.2,226.0L915.7,228.4L913.4,230.0ZM908.6,228.0L906.0,227.6L905.5,226.8L905.8,225.5L906.6,225.0L910.2,224.4L912.1,225.2L912.3,226.0L911.8,226.7ZM986.7,212.1L983.9,212.4L979.9,212.1L977.1,211.5L974.0,210.1L972.6,208.9L971.7,207.3L971.6,205.7L972.4,203.7L973.7,202.1L975.5,201.0L980.7,199.6L986.7,200.1L992.3,202.1L993.5,203.0L994.4,204.5L994.6,206.1L994.0,207.7L991.5,210.3ZM986.3,210.5L981.5,210.7L976.3,208.5L974.7,206.9L975.1,204.5L977.5,202.1L981.1,201.1L984.7,201.3L990.1,203.3L991.5,204.9L990.9,207.7L989.5,209.1ZM983.9,208.2L982.6,208.1L980.9,206.9L980.5,205.7L981.1,204.7L983.9,203.9L986.5,204.9L986.9,205.7L986.7,206.7ZM989.2,245.5L980.8,245.7L972.8,243.9L969.2,242.0L967.0,239.9L965.9,237.5L966.1,235.5L968.7,232.3L972.8,230.2L977.6,228.8L982.4,228.2L988.0,228.3L993.6,229.3L997.6,230.9L1001.1,233.5L1002.3,235.1L1002.6,236.7L1001.8,239.5L1000.7,241.1L998.8,242.5L995.2,244.0ZM988.4,245.1L980.4,245.2L972.8,243.3L969.6,241.3L967.8,239.5L966.9,237.1L967.3,235.1L969.4,232.7L973.6,230.5L978.0,229.3L982.8,228.7L988.0,228.8L993.2,229.7L997.2,231.4L1000.2,233.9L1001.3,235.5L1001.5,237.1L1000.8,239.5L999.6,241.1L994.4,243.7ZM987.2,244.7L980.0,244.6L973.2,242.7L970.1,240.7L968.7,239.1L968.0,237.1L968.4,235.1L970.1,233.1L974.0,231.0L978.4,229.8L982.8,229.2L987.6,229.3L992.8,230.2L996.4,231.7L999.0,233.9L1000.1,235.5L1000.5,237.1L1000.0,239.1L998.9,240.7L993.6,243.3ZM988.8,243.9L980.8,244.1L974.0,242.3L971.1,240.3L969.6,238.7L969.1,237.1L969.3,235.5L970.8,233.6L973.6,231.9L980.8,230.0L988.4,230.0L992.0,230.6L995.2,231.9L997.2,233.3L998.9,235.5L999.4,237.1L999.0,239.1L997.6,240.6L995.6,241.8ZM987.2,243.5L980.0,243.4L974.4,241.6L971.0,238.7L970.3,237.1L970.6,235.5L971.8,233.9L974.4,232.3L982.0,230.5L990.0,230.8L993.2,231.7L995.6,233.1L998.1,236.3L998.3,237.9L997.6,239.3L993.6,241.8ZM988.0,242.7L980.4,242.7L975.2,241.0L973.5,239.9L972.2,238.3L971.8,236.7L972.0,235.5L973.4,233.9L975.2,232.8L982.0,231.2L988.4,231.3L994.0,233.1L996.8,236.3L997.0,237.5L996.5,238.7L993.6,240.9ZM988.0,242.0L981.2,242.0L978.4,241.4L974.0,238.7L973.4,237.5L973.5,235.9L974.4,234.6L976.1,233.5L982.4,231.9L988.0,232.0L992.8,233.5L995.0,235.9L995.4,237.1L995.2,238.3L993.2,240.1ZM987.2,241.2L981.6,241.1L979.2,240.5L975.8,238.3L975.3,237.5L975.3,236.3L976.2,235.1L978.0,234.0L983.6,232.6L988.8,233.2L992.8,235.3L993.8,237.1L993.2,238.7ZM987.2,239.9L984.4,240.2L980.4,239.5L978.2,237.9L978.0,236.3L979.2,235.0L982.0,233.9L985.2,233.7L987.8,234.3L990.3,235.9L991.3,237.5L990.4,238.5ZM984.4,238.7L981.9,237.9L981.3,237.1L981.5,236.3L983.6,235.4L986.1,235.9L986.6,236.7L986.5,237.5L985.8,238.3ZM951.6,649.6L943.2,649.5L939.2,648.5L935.6,646.8L932.8,644.7L931.1,642.4L930.6,640.0L931.3,637.6L933.6,635.2L936.8,633.1L941.2,631.6L946.4,630.9L950.4,631.0L957.6,632.3L960.0,633.3L964.0,636.0L965.2,637.6L965.5,639.6L964.9,642.8L963.8,644.4L961.7,646.4L958.8,647.8ZM951.2,648.4L943.6,648.3L938.7,646.8L935.6,644.8L933.3,642.4L932.7,640.8L933.2,638.8L935.1,636.4L937.6,634.4L944.0,632.3L950.4,632.1L954.8,633.0L959.2,634.6L962.1,636.8L963.2,638.4L963.2,640.8L962.3,643.2L961.2,644.8L959.2,646.0L954.4,647.9ZM952.4,646.8L944.4,647.0L940.4,645.8L937.6,644.0L936.2,642.4L935.8,640.4L936.3,638.4L939.5,635.2L946.0,633.4L949.2,633.4L953.6,634.2L958.0,636.0L959.4,637.2L960.4,639.2L960.5,640.8L959.9,642.8L958.0,644.5ZM951.2,645.2L944.8,645.3L942.3,644.4L939.9,642.8L939.0,641.6L939.8,638.0L941.2,636.8L946.8,635.0L952.8,636.0L954.8,636.8L957.2,639.1L957.5,640.4L957.2,641.6L955.5,643.2ZM949.6,642.2L945.6,642.1L944.3,641.2L943.9,640.0L946.4,638.5L948.4,638.5L950.5,640.4L950.4,641.6ZM1044.9,638.3L1038.1,638.3L1033.7,637.4L1028.5,634.8L1024.3,630.7L1022.7,626.7L1022.9,621.1L1024.1,618.9L1028.9,613.8L1033.3,611.8L1036.1,611.0L1041.7,610.6L1046.5,611.0L1054.1,613.8L1059.1,619.1L1060.3,621.9L1060.5,625.5L1059.9,627.9L1058.1,631.1L1053.7,635.2L1048.5,637.6ZM1044.5,637.1L1038.9,637.1L1034.1,636.2L1029.7,633.9L1026.1,630.6L1024.2,626.7L1024.2,622.7L1025.4,619.9L1028.9,615.6L1035.3,612.3L1041.3,611.7L1045.7,612.0L1053.1,614.7L1057.7,619.5L1058.8,621.9L1058.9,625.5L1058.4,627.5L1056.7,630.7L1053.9,633.5L1050.5,635.5L1047.7,636.6ZM1043.3,635.9L1038.9,635.9L1033.7,634.4L1028.5,631.0L1026.1,627.5L1025.7,623.5L1027.9,618.7L1029.3,617.2L1034.5,613.9L1041.7,612.9L1047.3,613.7L1052.5,616.3L1056.9,621.4L1057.2,625.9L1054.5,631.0L1049.3,634.7ZM1040.9,634.7L1038.5,634.5L1034.9,633.2L1029.3,629.6L1027.9,627.1L1027.7,623.1L1029.7,619.1L1035.3,615.4L1041.3,614.4L1045.3,614.7L1047.7,615.7L1053.6,619.9L1055.3,622.3L1055.4,624.7L1053.5,629.5L1050.5,632.4L1048.1,633.5ZM1043.7,632.7L1038.9,632.8L1034.5,630.9L1030.9,628.5L1030.2,627.1L1029.9,623.1L1031.1,620.7L1033.3,618.8L1037.3,616.5L1042.9,616.1L1046.5,616.9L1051.7,620.7L1052.8,622.3L1053.0,623.9L1051.0,629.1L1048.9,631.1ZM1042.5,630.7L1040.1,630.7L1036.1,629.4L1032.6,626.7L1032.5,625.1L1033.2,622.7L1035.6,619.9L1037.7,618.3L1045.0,618.7L1047.7,620.4L1050.3,623.9L1050.1,625.8L1048.2,628.7L1046.5,629.7ZM1044.5,627.2L1042.9,627.4L1037.8,626.7L1037.9,623.9L1038.9,621.6L1043.7,621.6L1046.5,623.0L1047.1,623.9L1047.0,625.1L1046.1,626.3ZM1010.1,692.8L1006.1,692.9L997.7,692.2L992.1,691.1L985.5,688.4L983.0,686.0L982.2,683.6L982.7,681.6L985.1,678.4L985.0,677.2L976.1,674.1L972.1,671.6L970.2,669.2L971.0,666.4L972.9,664.5L975.7,662.9L983.3,661.1L992.1,660.9L998.9,662.2L1003.3,664.0L1006.2,666.8L1006.7,668.8L1005.5,672.4L1005.7,673.2L1018.1,675.4L1024.5,676.9L1029.3,679.4L1031.6,681.6L1031.9,683.6L1030.9,686.0L1029.3,687.6L1025.7,689.8L1018.5,691.9ZM1008.5,692.4L997.7,691.7L992.5,690.5L986.4,688.0L984.5,686.0L983.7,683.2L984.4,681.2L987.6,677.2L986.2,676.4L977.3,673.9L974.5,672.4L972.2,670.4L971.5,669.2L971.4,668.0L972.2,666.4L974.1,664.6L976.5,663.3L983.7,661.6L992.1,661.4L999.3,662.9L1003.2,664.8L1005.4,667.6L1005.4,669.6L1003.4,673.2L1003.7,674.0L1015.7,675.5L1022.5,677.0L1027.2,679.2L1030.2,682.0L1030.3,684.0L1029.5,686.0L1027.9,687.6L1024.9,689.4L1017.7,691.5ZM1011.7,691.6L1006.1,691.9L998.5,691.3L992.9,689.9L987.5,687.6L985.8,685.6L985.4,682.4L986.2,680.8L989.9,677.6L990.4,676.4L989.3,675.9L982.1,674.7L976.1,672.6L972.9,669.6L972.7,668.4L973.3,666.8L974.9,665.1L977.3,663.7L983.7,662.1L991.7,661.9L998.5,663.3L1002.3,665.2L1004.2,668.0L1003.8,670.4L1001.3,673.6L1001.7,674.7L1003.8,675.2L1013.3,675.7L1020.9,677.3L1025.3,679.0L1028.2,681.6L1028.8,683.2L1028.5,685.2L1027.3,686.8L1025.3,688.3L1018.5,690.7ZM994.1,674.8L985.7,674.8L978.5,672.8L976.5,671.9L974.8,670.4L974.0,668.8L974.2,667.6L975.3,666.0L977.7,664.3L984.5,662.6L992.5,662.6L1000.1,664.7L1002.6,667.2L1003.0,668.8L1002.6,670.0L999.7,672.9ZM1009.3,691.2L998.9,690.7L992.5,688.9L989.0,687.2L987.6,686.0L986.8,684.0L987.2,682.0L988.7,680.0L991.3,678.2L995.3,676.6L999.7,675.8L1008.5,675.8L1016.5,676.9L1023.7,679.2L1025.7,680.5L1027.0,682.0L1027.4,683.6L1027.0,685.2L1023.9,688.0L1017.3,690.3ZM992.5,674.0L986.1,674.1L980.9,672.9L976.5,670.6L975.6,669.2L975.7,667.6L976.8,666.0L978.9,664.6L985.3,663.1L992.5,663.2L997.7,664.5L999.8,665.6L1001.1,667.2L1001.4,668.4L1000.4,670.8L998.1,672.3ZM1011.3,690.4L1003.7,690.5L998.5,689.9L994.9,688.9L989.5,686.0L988.5,684.0L988.8,682.0L990.9,679.8L996.1,677.5L999.3,676.8L1007.3,676.5L1016.9,677.7L1022.3,679.6L1025.4,682.0L1025.8,683.2L1025.5,684.8L1022.9,687.4L1017.3,689.5ZM992.1,673.3L986.5,673.4L981.7,672.3L977.7,670.0L977.1,668.8L977.3,667.6L978.4,666.0L979.7,665.2L985.7,663.8L992.1,663.9L998.7,666.0L999.8,668.0L999.7,669.2L998.9,670.4L995.3,672.3ZM1008.1,690.0L999.7,689.4L995.0,688.0L990.9,685.2L990.4,683.6L990.6,682.0L992.1,680.6L996.5,678.4L1006.9,677.2L1016.5,678.4L1021.3,680.3L1023.5,682.4L1023.9,683.6L1023.6,684.8L1020.9,687.3L1014.9,689.2ZM991.7,672.4L986.9,672.6L982.1,671.4L979.4,669.6L978.9,668.4L979.1,667.2L980.1,666.2L982.1,665.4L985.7,664.6L989.3,664.5L992.9,665.0L997.5,667.2L997.7,668.8L996.3,670.4L994.1,671.8ZM1009.3,689.2L1003.3,689.0L996.9,687.7L993.3,685.2L992.5,684.0L992.5,682.8L994.4,680.8L996.9,679.4L1006.1,677.9L1016.1,679.1L1019.7,680.8L1021.4,682.4L1021.7,684.4L1020.1,686.4L1014.5,688.4ZM989.3,671.6L986.9,671.5L982.9,670.2L981.2,668.8L981.2,667.6L983.4,666.4L987.3,665.6L991.3,665.7L994.1,667.2L994.8,668.8L994.0,670.4L992.4,671.2ZM1008.5,688.4L1003.7,688.0L997.9,686.8L995.4,684.8L995.2,682.8L996.1,681.6L998.1,680.5L1006.5,678.8L1015.3,680.0L1017.7,681.2L1019.3,682.8L1019.4,684.4L1017.3,686.0L1013.3,687.7ZM990.5,669.6L987.7,669.9L986.3,669.2L985.8,668.4L986.9,667.7L990.9,667.6L991.6,668.0L991.8,668.8ZM1009.3,687.2L1006.1,687.3L1002.1,686.4L999.0,685.2L998.2,684.4L998.2,683.6L1001.3,681.2L1006.1,680.0L1011.3,680.4L1013.9,681.2L1015.6,682.4L1016.0,684.0L1015.0,685.2L1012.5,686.6ZM1007.3,685.6L1004.0,685.2L1002.8,684.4L1002.7,683.6L1003.7,682.5L1006.1,681.8L1008.5,681.7L1010.4,682.4L1010.9,683.2L1010.6,684.0ZM1074.5,685.1L1064.5,685.4L1054.5,683.7L1050.9,682.1L1047.9,679.9L1046.7,677.9L1046.9,675.5L1048.5,673.1L1052.1,671.2L1058.5,669.3L1065.7,668.5L1073.7,668.7L1079.3,669.8L1084.9,671.6L1088.8,674.7L1089.4,676.3L1089.3,677.9L1087.2,680.7L1082.1,683.4ZM1073.7,684.7L1064.9,685.0L1054.9,683.2L1051.2,681.5L1048.8,679.5L1047.8,677.9L1048.0,675.5L1049.7,673.2L1053.7,671.3L1059.3,669.6L1066.5,668.9L1074.1,669.3L1079.7,670.5L1084.5,672.2L1087.8,675.1L1088.3,676.7L1088.1,678.3L1085.3,681.1L1080.5,683.2ZM1072.5,684.3L1064.5,684.4L1055.3,682.7L1051.7,680.9L1049.8,679.1L1049.0,677.5L1049.2,675.5L1051.5,673.1L1056.9,670.9L1060.1,670.1L1066.9,669.4L1074.1,669.8L1079.3,670.9L1083.8,672.7L1086.6,675.5L1087.1,677.1L1086.8,678.3L1084.1,680.9L1077.3,683.6ZM1071.3,683.9L1064.1,683.8L1055.7,682.1L1053.0,680.7L1051.1,679.1L1050.3,677.5L1050.4,675.9L1052.0,673.9L1055.3,672.1L1059.3,670.8L1066.1,669.9L1073.3,670.2L1076.9,670.9L1082.1,672.7L1084.6,674.7L1085.6,677.5L1085.0,678.7L1083.3,680.3L1077.3,682.9ZM1072.5,683.2L1064.5,683.3L1056.5,681.6L1052.7,679.1L1051.9,677.5L1052.0,675.9L1053.6,673.9L1056.9,672.2L1060.5,671.3L1066.5,670.5L1075.7,671.2L1080.5,672.9L1083.1,674.7L1083.8,675.9L1083.9,677.5L1082.1,679.9L1077.3,682.2ZM1066.1,682.7L1060.1,681.8L1055.4,679.9L1053.5,677.5L1054.0,675.1L1055.7,673.6L1058.5,672.5L1067.3,671.2L1075.7,671.9L1080.1,673.7L1082.2,675.9L1082.0,678.3L1078.9,680.7L1073.7,682.3ZM1070.5,681.9L1064.5,681.9L1059.8,680.7L1055.7,678.3L1055.2,677.1L1055.5,675.5L1056.6,674.3L1058.9,673.3L1067.3,672.0L1074.5,672.4L1078.5,674.0L1080.2,675.5L1080.6,677.5L1078.9,679.4L1074.9,681.2ZM1073.3,680.7L1065.3,681.1L1063.1,680.7L1060.1,679.5L1058.3,678.3L1057.4,677.1L1057.4,675.9L1059.3,674.4L1064.1,673.1L1074.1,673.3L1077.5,675.1L1078.6,676.7L1077.2,678.7ZM1072.1,679.9L1064.1,679.8L1061.2,678.3L1060.3,676.7L1061.5,675.5L1064.5,674.2L1072.9,674.2L1075.1,675.5L1075.7,677.1L1074.2,679.1ZM1071.7,678.4L1065.3,677.6L1064.8,676.7L1068.5,675.6L1071.7,675.6L1072.8,676.3L1073.1,677.1L1072.7,677.9ZM1030.6,761.1L1021.8,761.4L1015.8,760.4L1011.4,758.9L1009.0,757.5L1006.4,754.7L1005.7,753.1L1005.4,750.3L1004.2,749.3L994.6,749.5L987.8,749.0L981.0,747.0L977.8,745.2L975.9,743.5L975.2,741.5L975.5,738.7L976.8,736.7L978.6,735.3L985.0,732.5L991.0,731.6L999.4,731.8L1005.4,733.3L1010.4,735.9L1012.7,738.7L1013.6,742.7L1014.2,743.5L1025.0,743.4L1031.8,744.1L1038.2,746.2L1041.8,748.3L1043.4,750.3L1043.9,752.3L1043.5,754.3L1042.3,756.3L1038.2,758.9ZM1029.8,760.7L1023.8,761.0L1019.8,760.6L1015.4,759.8L1011.0,758.0L1009.0,756.6L1007.2,753.9L1006.7,752.3L1006.8,749.1L1006.0,748.3L993.0,748.9L987.0,748.4L983.4,747.3L979.8,745.7L977.1,743.5L976.2,741.5L976.5,739.1L977.7,737.1L979.4,735.6L985.4,733.0L991.4,732.1L999.8,732.4L1005.8,734.2L1010.5,737.1L1012.1,739.9L1011.9,743.9L1012.2,744.7L1024.2,743.9L1030.6,744.4L1035.4,745.7L1039.2,747.5L1041.4,749.1L1042.5,750.7L1042.8,752.7L1042.3,754.7L1041.1,756.3L1037.0,758.8ZM996.2,748.3L986.6,747.8L980.6,745.2L978.4,743.5L977.4,741.9L977.3,740.3L978.3,737.9L980.2,735.9L985.0,733.7L988.6,732.8L993.0,732.6L999.0,732.9L1003.0,733.8L1007.8,736.0L1010.4,738.3L1011.0,739.9L1010.9,741.9L1008.2,745.9L1003.0,747.6ZM1029.0,760.3L1023.4,760.5L1019.8,760.1L1015.8,759.3L1011.4,757.4L1009.5,755.9L1008.4,753.9L1008.0,751.5L1008.6,749.5L1010.2,747.7L1013.8,745.9L1018.6,744.9L1025.0,744.4L1033.8,745.7L1038.2,747.8L1040.5,749.5L1041.5,751.1L1041.7,753.1L1041.2,754.7L1039.8,756.3L1036.2,758.4ZM999.4,747.5L991.8,747.7L987.0,747.2L984.2,746.3L980.8,744.3L979.1,742.7L978.5,740.7L979.2,738.3L980.6,736.6L985.0,734.4L991.8,733.1L1000.6,733.8L1004.6,735.2L1007.9,737.1L1009.3,738.7L1009.8,740.3L1009.5,741.9L1008.6,743.5L1007.0,745.0L1004.7,746.3ZM1026.6,759.9L1022.6,759.9L1017.4,759.1L1011.8,756.7L1010.3,755.5L1009.5,753.9L1009.3,751.9L1009.8,750.3L1011.6,748.3L1014.6,746.6L1019.0,745.6L1025.0,745.0L1033.4,746.3L1037.8,748.5L1039.8,750.3L1040.5,751.9L1040.4,753.5L1039.7,755.1L1038.2,756.6L1035.8,757.8L1030.6,759.4ZM996.2,747.1L987.8,746.7L983.8,745.2L981.4,743.5L980.1,741.9L979.9,740.3L980.5,738.3L982.2,736.7L986.2,734.7L993.0,733.7L998.6,734.0L1001.8,734.9L1005.7,736.7L1007.9,738.7L1008.4,740.3L1008.1,741.9L1005.5,744.7L1001.8,746.5ZM1028.6,759.1L1022.6,759.3L1015.8,757.8L1011.4,755.1L1010.6,753.1L1010.9,751.1L1012.9,748.7L1015.0,747.4L1019.0,746.3L1025.0,745.7L1032.2,746.6L1038.0,749.9L1038.9,751.1L1039.2,752.7L1038.8,754.3L1037.8,755.7L1035.0,757.3ZM996.6,746.3L991.4,746.4L985.4,745.1L983.4,743.8L981.7,741.9L981.3,740.7L981.6,739.1L983.0,737.5L986.2,735.6L992.6,734.4L1000.2,735.1L1003.8,736.7L1005.9,738.3L1006.8,739.9L1006.9,741.1L1004.8,743.9L1001.8,745.6ZM1025.4,758.7L1021.4,758.4L1015.8,756.9L1012.3,754.3L1011.9,752.7L1012.4,751.1L1014.1,749.1L1016.2,748.0L1019.8,747.0L1025.4,746.4L1032.2,747.4L1037.2,750.7L1037.8,751.9L1037.7,753.5L1036.2,755.7L1029.4,758.2ZM996.2,745.6L991.4,745.7L986.2,744.4L984.6,743.4L983.3,741.9L982.9,740.7L983.1,739.5L984.4,737.9L987.0,736.3L992.6,735.1L999.4,735.7L1002.6,737.1L1004.6,738.7L1005.3,741.1L1003.4,743.7L1001.0,744.9ZM1026.2,757.9L1022.2,757.8L1016.7,756.3L1013.7,753.9L1013.4,752.7L1013.7,751.5L1015.0,749.8L1017.4,748.6L1021.0,747.7L1025.8,747.2L1031.8,748.2L1035.8,751.1L1036.3,753.1L1035.0,755.1L1029.4,757.3ZM995.4,744.7L991.0,744.7L987.0,743.5L985.0,741.8L984.6,740.7L984.9,739.5L987.8,737.0L993.0,736.0L999.0,736.5L1001.4,737.6L1003.2,739.1L1003.5,741.1L1002.2,743.1L1000.6,743.8ZM1027.8,756.8L1023.0,756.9L1018.2,755.8L1015.8,753.9L1015.4,751.9L1017.3,749.9L1021.0,748.6L1026.6,748.1L1030.6,748.8L1033.1,750.7L1034.1,752.3L1034.1,753.5L1032.5,755.1ZM995.4,743.5L991.8,743.8L989.5,743.1L987.0,741.3L987.0,739.5L989.1,737.9L993.4,737.1L998.4,737.5L1001.3,739.5L1001.5,740.7L1000.6,741.9ZM1028.2,755.5L1023.4,755.7L1020.6,755.1L1018.5,753.9L1018.3,751.9L1019.4,750.5L1022.2,749.5L1026.6,749.1L1029.4,749.7L1031.4,751.1L1031.9,753.1L1031.0,754.3ZM992.6,741.9L991.4,741.7L990.9,741.1L990.7,740.3L991.4,739.4L994.6,739.0L997.0,739.9L996.2,741.1ZM1027.8,754.0L1022.6,753.7L1021.8,753.1L1021.7,752.3L1023.4,750.9L1025.8,750.5L1027.8,750.7L1029.1,751.5L1029.5,752.3L1029.0,753.4ZM976.8,769.0L967.6,768.4L960.4,766.0L958.0,764.2L956.7,762.6L956.1,760.6L956.6,758.6L958.8,756.2L962.8,754.1L969.6,752.4L973.6,752.0L981.2,752.3L985.6,753.2L991.6,755.6L994.5,758.2L995.1,760.2L994.7,762.2L993.5,763.8L990.8,765.6L986.0,767.6L980.8,768.7ZM980.8,768.2L974.8,768.6L969.6,768.2L962.8,766.3L960.1,765.0L958.1,763.0L957.4,761.0L957.5,759.0L959.2,756.9L962.8,754.7L968.4,753.1L972.8,752.5L980.4,752.7L984.0,753.3L990.4,755.7L993.1,757.8L994.0,759.4L994.0,761.0L993.4,762.6L992.2,763.8L988.0,766.4ZM980.0,767.8L972.4,767.9L967.6,767.3L964.4,766.3L961.2,764.8L959.3,763.0L958.5,761.0L958.7,759.0L960.4,757.0L963.6,755.1L968.8,753.6L972.8,753.0L978.0,753.1L983.2,753.7L988.4,755.6L991.9,757.8L992.8,759.4L992.8,761.0L990.9,763.8L987.2,766.1ZM978.0,767.4L970.4,767.2L964.4,765.6L961.8,764.2L960.2,762.6L959.5,760.6L959.9,759.0L962.0,756.9L965.2,755.2L970.0,753.9L975.6,753.5L981.2,754.0L984.4,754.7L988.8,756.7L991.1,758.6L991.6,759.8L991.4,761.4L988.6,764.6L982.4,766.8ZM980.4,766.6L972.8,766.8L966.4,765.6L961.9,763.0L960.9,761.4L960.8,759.8L962.3,757.8L965.2,756.0L969.2,754.7L974.4,754.1L978.0,754.2L983.6,755.2L986.8,756.6L989.6,758.6L990.3,759.8L990.2,761.0L988.2,763.8L986.0,765.0ZM976.8,766.2L971.2,766.0L966.0,764.6L962.6,761.8L962.2,760.6L962.5,759.4L964.0,757.8L968.0,755.7L976.0,754.7L983.6,755.9L986.8,757.8L988.5,759.4L988.8,760.6L988.4,761.8L986.5,763.8L981.2,765.8ZM978.4,765.4L972.0,765.4L968.0,764.4L964.7,762.2L964.0,761.0L964.0,759.8L965.1,758.6L968.8,756.3L975.6,755.4L982.9,756.6L984.5,757.4L986.5,759.4L986.9,761.4L985.6,763.0L981.6,764.9ZM977.6,764.6L972.4,764.5L969.6,764.0L966.8,762.2L966.3,760.2L969.0,757.4L973.6,756.4L978.8,756.5L983.5,758.2L984.7,760.2L984.2,762.2L981.2,764.2ZM979.6,763.5L970.8,763.2L968.9,761.8L968.7,760.2L970.0,758.6L972.2,757.8L975.6,757.3L979.2,757.6L981.9,759.0L982.6,760.6L981.6,762.6ZM978.4,761.9L973.5,761.4L972.3,760.6L972.8,759.8L974.3,759.0L977.6,758.9L979.6,760.2L979.4,761.4ZM1262.6,871.6L1255.0,871.4L1249.0,869.8L1246.6,868.4L1244.9,866.8L1244.4,865.6L1244.6,864.0L1246.6,861.8L1250.2,860.1L1256.2,858.9L1261.4,858.8L1265.4,859.1L1270.6,860.2L1274.1,862.0L1276.0,864.0L1276.3,865.6L1275.8,866.8L1272.8,869.2L1269.0,870.7ZM1262.6,871.2L1255.4,871.0L1249.8,869.6L1247.7,868.4L1246.0,866.8L1245.4,865.6L1245.6,864.0L1247.4,862.0L1250.6,860.5L1256.2,859.3L1261.4,859.2L1265.0,859.4L1269.8,860.5L1273.4,862.3L1275.0,864.0L1275.4,865.2L1275.1,866.4L1272.2,868.9L1268.6,870.3ZM1262.2,870.8L1256.2,870.7L1250.6,869.3L1247.1,866.8L1246.4,865.2L1246.6,864.0L1248.2,862.3L1251.8,860.7L1256.6,859.7L1261.8,859.6L1269.4,860.9L1272.3,862.4L1274.0,864.0L1274.3,865.2L1274.0,866.4L1271.4,868.6L1267.8,869.9ZM1261.0,870.4L1255.8,870.1L1250.9,868.8L1247.9,866.4L1247.4,865.2L1247.7,864.0L1249.8,862.2L1253.0,860.9L1257.0,860.1L1262.2,860.1L1269.0,861.4L1271.6,862.8L1273.0,864.4L1272.8,866.4L1270.2,868.5L1266.2,869.7ZM1263.8,869.6L1258.6,869.9L1252.6,868.8L1249.5,866.8L1248.7,865.6L1248.8,864.4L1249.9,863.2L1252.2,861.9L1258.2,860.5L1263.4,860.6L1266.6,861.2L1269.4,862.4L1271.4,864.0L1271.9,865.6L1270.7,867.2L1267.8,868.7ZM1262.2,869.2L1258.6,869.3L1253.0,868.1L1251.0,866.8L1250.2,864.8L1251.1,863.6L1253.4,862.2L1258.6,861.1L1263.4,861.2L1266.2,861.7L1268.4,862.8L1270.1,864.4L1270.1,866.0L1268.2,867.6ZM1262.6,868.4L1259.0,868.6L1253.8,867.4L1252.4,866.4L1252.0,864.8L1253.8,862.9L1257.4,861.8L1263.8,861.9L1267.2,863.2L1268.3,864.8L1267.8,866.4L1266.0,867.6ZM1261.8,867.6L1259.0,867.7L1255.9,866.8L1254.3,866.0L1253.9,864.8L1255.0,863.5L1257.8,862.6L1263.0,862.7L1265.8,863.7L1266.4,864.8L1265.8,866.3ZM1261.0,866.4L1258.2,866.1L1256.8,864.8L1257.6,864.0L1259.4,863.8L1262.2,864.0L1263.5,864.8L1263.1,865.6ZM1002.3,840.0L991.9,840.3L985.5,839.1L981.5,837.4L979.3,836.0L977.6,834.0L977.4,832.0L979.0,829.6L983.1,826.7L987.9,825.2L993.9,824.5L999.1,824.6L1007.5,826.2L1010.3,827.3L1013.2,829.6L1014.3,831.2L1014.5,832.8L1014.0,834.4L1013.0,835.6L1009.1,838.1ZM1001.9,839.6L991.9,839.8L985.9,838.6L981.9,836.9L979.9,835.6L978.5,833.6L978.6,831.6L980.3,829.5L983.9,827.0L988.3,825.6L994.3,824.9L999.1,825.1L1007.1,826.6L1009.6,827.6L1012.4,830.0L1013.3,831.2L1013.6,832.8L1013.0,834.4L1012.0,835.6L1007.1,838.3ZM1001.1,839.2L991.9,839.4L986.3,838.2L980.7,835.2L979.6,833.2L979.7,831.6L982.3,828.8L984.7,827.4L988.3,826.2L994.7,825.4L1000.3,825.7L1006.7,827.1L1009.1,828.1L1011.5,830.4L1012.3,831.6L1012.5,833.2L1010.8,835.6L1005.9,838.2ZM999.9,838.8L991.9,838.9L986.7,837.7L981.9,835.1L980.9,833.6L980.8,832.0L982.6,829.6L985.1,827.9L988.3,826.7L993.9,826.0L997.9,826.0L1002.3,826.6L1007.1,827.9L1009.1,829.2L1011.2,832.0L1011.1,833.6L1010.4,834.8L1008.3,836.4L1005.5,837.8ZM997.9,838.4L991.5,838.3L986.3,836.9L982.7,834.4L982.0,832.8L982.2,831.6L984.0,829.6L987.1,827.8L994.7,826.5L998.7,826.6L1003.1,827.4L1007.1,828.8L1008.9,830.4L1009.8,832.0L1009.9,833.2L1008.1,835.6L1004.3,837.5ZM999.9,837.6L992.3,837.8L987.5,836.6L984.2,834.4L983.4,833.2L983.4,832.0L984.6,830.4L987.5,828.4L993.9,827.2L1001.5,827.7L1005.5,828.9L1007.3,830.0L1008.5,832.4L1007.5,834.8L1004.7,836.6ZM1000.3,836.8L992.7,837.1L988.7,836.1L985.9,834.4L985.1,833.2L985.1,832.0L986.2,830.4L987.9,829.2L993.9,827.8L1000.7,828.2L1006.1,830.4L1007.0,832.4L1006.3,834.4L1004.3,835.8ZM999.9,836.0L993.5,836.3L991.1,835.9L987.8,834.4L986.9,833.2L986.9,832.0L987.6,830.8L989.1,829.8L993.9,828.6L1000.3,829.0L1004.5,830.8L1005.2,832.4L1004.7,834.0L1002.9,835.2ZM999.9,834.9L995.1,835.2L991.9,834.8L989.5,833.6L989.1,832.0L990.3,830.6L992.3,829.8L999.9,829.9L1002.3,831.1L1003.1,832.4L1002.3,833.9ZM996.7,833.3L993.5,833.1L992.6,832.8L992.2,832.0L993.1,831.4L995.1,831.2L998.4,832.0L998.0,832.8ZM940.0,952.9L931.6,953.0L924.8,952.3L920.0,951.4L915.2,950.0L911.2,948.2L908.3,946.1L906.2,942.9L906.0,940.1L908.9,936.5L914.0,933.4L917.6,932.1L926.0,930.7L935.2,930.6L945.2,932.3L953.2,935.6L957.0,938.5L958.3,940.9L958.7,944.1L957.9,946.1L956.0,948.3L953.2,950.0L949.2,951.5ZM932.8,952.5L920.8,951.1L912.8,948.2L910.0,946.5L908.0,944.1L907.1,941.7L907.4,939.7L910.4,936.3L916.4,933.0L924.8,931.3L933.6,931.0L942.4,932.2L948.0,933.8L954.0,936.9L957.0,940.5L957.6,942.9L957.0,945.3L955.2,947.8L952.4,949.5L949.2,950.8L944.4,951.8L939.6,952.4ZM940.8,951.7L930.8,951.9L923.2,950.9L917.2,949.5L912.4,947.2L910.0,945.3L908.4,942.5L908.5,940.1L910.5,937.3L915.2,934.2L918.4,933.1L926.0,931.7L934.0,931.5L942.4,932.7L949.2,935.1L954.0,938.1L955.7,940.5L956.4,942.9L955.9,944.9L954.3,947.3L949.6,949.9ZM935.6,951.3L931.6,951.4L924.4,950.5L916.4,948.5L912.4,946.2L910.3,944.1L909.5,942.1L909.9,939.7L912.3,936.9L917.2,934.1L924.8,932.4L933.2,932.0L940.8,933.0L945.6,934.3L950.8,936.9L954.0,939.7L955.0,942.1L955.0,944.1L953.9,946.1L952.0,947.9L949.6,949.1L944.8,950.4ZM940.0,950.5L930.8,950.8L918.8,948.6L915.2,947.0L912.4,944.9L910.8,942.5L910.9,940.5L913.2,937.3L917.6,934.7L924.4,933.1L932.4,932.6L939.6,933.4L944.4,934.6L948.8,936.6L952.2,939.3L953.4,941.3L953.8,943.3L953.3,944.9L952.1,946.5L949.6,948.1L945.6,949.5ZM935.6,950.1L928.8,949.9L922.0,948.8L917.6,947.4L914.7,945.7L913.1,944.1L912.2,942.1L912.4,940.1L914.7,937.3L918.8,935.1L924.8,933.8L933.2,933.2L939.2,934.0L944.8,935.5L949.2,938.0L951.8,940.9L952.4,942.5L952.2,944.1L951.2,945.6L949.6,946.8L943.6,949.3ZM936.8,949.3L929.6,949.3L922.0,948.0L918.4,946.8L916.3,945.7L914.7,944.1L913.9,942.1L914.1,940.1L916.0,937.7L919.6,935.8L925.2,934.4L933.2,933.8L939.2,934.7L944.0,936.1L948.0,938.4L950.0,940.5L950.7,942.1L950.8,943.3L948.8,945.7L943.6,948.4ZM937.2,948.5L930.4,948.7L920.3,946.5L917.8,945.3L916.6,944.1L916.0,942.1L916.3,939.7L918.8,937.4L922.8,935.8L926.8,935.0L932.8,934.5L938.8,935.4L942.8,936.6L946.0,938.3L948.1,940.1L949.0,942.5L948.7,943.7L947.6,944.9L943.2,947.5ZM936.8,947.7L930.8,947.9L921.9,946.1L918.4,943.7L917.9,942.1L918.3,940.1L920.0,938.2L923.6,936.5L932.0,935.4L940.0,936.6L943.6,938.2L946.2,940.1L946.9,941.3L946.9,942.5L944.2,945.3L941.4,946.9ZM935.2,946.9L930.4,946.9L922.8,945.2L921.1,944.1L920.3,942.9L920.4,940.5L921.8,938.9L924.6,937.3L931.2,936.3L939.2,937.4L944.1,940.5L944.4,941.3L944.1,942.5L941.6,945.2L939.2,946.3ZM935.2,945.7L930.8,945.8L926.3,944.9L923.2,943.3L922.8,941.3L925.0,938.9L929.2,937.6L937.2,938.2L939.6,939.0L941.3,940.9L941.2,942.9L938.8,944.8ZM934.4,944.1L931.2,944.3L928.5,943.7L926.9,942.5L926.9,941.3L928.0,940.1L930.0,939.5L935.7,939.7L938.2,940.9L938.4,941.7L937.5,942.9Z" fill="none" stroke="#0000ff" stroke-width="0.7"/>
<line x1="1147.2" y1="97.8" x2="1243.3" y2="91.1" stroke="#000" stroke-width="2.8" stroke-linecap="butt" stroke-dasharray="7.2,6.2"/>
<line x1="1141.6" y1="110.5" x2="1185.5" y2="102.2" stroke="#000" stroke-width="2.8" stroke-linecap="butt" stroke-dasharray="7.2,6.2"/>
<line x1="865" y1="210.8" x2="908.2" y2="226.6" stroke="#000" stroke-width="2.8" stroke-linecap="butt" stroke-dasharray="7.2,6.2"/>
<line x1="871.7" y1="221.9" x2="908.2" y2="226.6" stroke="#000" stroke-width="2.8" stroke-linecap="butt" stroke-dasharray="7.2,6.2"/>
<line x1="726.2" y1="565.2" x2="953.8" y2="641" stroke="#000" stroke-width="2.8" stroke-linecap="butt" stroke-dasharray="7.2,6.2"/>
<line x1="822" y1="596.6" x2="953.8" y2="640.2" stroke="#000" stroke-width="2.8" stroke-linecap="butt" stroke-dasharray="7.2,6.2"/>
<line x1="921.3" y1="564.1" x2="1040.4" y2="623.5" stroke="#000" stroke-width="2.8" stroke-linecap="butt" stroke-dasharray="7.2,6.2"/>
<line x1="967" y1="699.7" x2="989.7" y2="669.2" stroke="#000" stroke-width="2.8" stroke-linecap="butt" stroke-dasharray="7.2,6.2"/>
<line x1="1109.8" y1="778.2" x2="1255.3" y2="862.1" stroke="#000" stroke-width="2.8" stroke-linecap="butt" stroke-dasharray="7.2,6.2"/>
<path d="M910,120L915.2,125.2M910,125.2L915.2,120" stroke="#000" stroke-width="2.5"/>
<path d="M1144.6,95.2L1149.8,100.4M1144.6,100.4L1149.8,95.2" stroke="#000" stroke-width="2.5"/>
<path d="M1139,107.9L1144.2,113.1M1139,113.1L1144.2,107.9" stroke="#000" stroke-width="2.5"/>
<path d="M862.4,208.2L867.6,213.4M862.4,213.4L867.6,208.2" stroke="#000" stroke-width="2.5"/>
<path d="M869.1,219.3L874.3,224.5M869.1,224.5L874.3,219.3" stroke="#000" stroke-width="2.5"/>
<path d="M830.2,237.5L835.4,242.7M830.2,242.7L835.4,237.5" stroke="#000" stroke-width="2.5"/>
<path d="M949.2,203.9L954.4,209.1M949.2,209.1L954.4,203.9" stroke="#000" stroke-width="2.5"/>
<path d="M958.4,249.9L963.6,255.1M958.4,255.1L963.6,249.9" stroke="#000" stroke-width="2.5"/>
<path d="M723.6,562.6L728.8,567.8M723.6,567.8L728.8,562.6" stroke="#000" stroke-width="2.5"/>
<path d="M819.4,594L824.6,599.2M819.4,599.2L824.6,594" stroke="#000" stroke-width="2.5"/>
<path d="M921.8,559.3L927,564.5M921.8,564.5L927,559.3" stroke="#000" stroke-width="2.5"/>
<path d="M917,564.1L922.2,569.3M917,569.3L922.2,564.1" stroke="#000" stroke-width="2.5"/>
<path d="M964.4,697.1L969.6,702.3M964.4,702.3L969.6,697.1" stroke="#000" stroke-width="2.5"/>
<path d="M995.5,681.9L1000.7,687.1M995.5,687.1L1000.7,681.9" stroke="#000" stroke-width="2.5"/>
<path d="M1059.2,672.4L1064.4,677.6M1059.2,677.6L1064.4,672.4" stroke="#000" stroke-width="2.5"/>
<path d="M1003,729.6L1008.2,734.8M1003,734.8L1008.2,729.6" stroke="#000" stroke-width="2.5"/>
<path d="M1039.5,748.5L1044.7,753.7M1039.5,753.7L1044.7,748.5" stroke="#000" stroke-width="2.5"/>
<path d="M977.9,760.4L983.1,765.6M977.9,765.6L983.1,760.4" stroke="#000" stroke-width="2.5"/>
<path d="M995.5,832.4L1000.7,837.6M995.5,837.6L1000.7,832.4" stroke="#000" stroke-width="2.5"/>
<path d="M950.9,927.2L956.1,932.4M950.9,932.4L956.1,927.2" stroke="#000" stroke-width="2.5"/>
<path d="M913.3,947.5L918.5,952.7M913.3,952.7L918.5,947.5" stroke="#000" stroke-width="2.5"/>
<polygon points="832.5,239 820.2,219.6 824,219.6" fill="#000"/>
<polygon points="1016,679.5 1023.5,672.3 1030,672.3" fill="#000"/>
<polygon points="1007,731 1010.5,723.5 1020.5,723.5" fill="#000"/>
<polygon points="1042,752.5 1034.7,768.4 1042.1,768.4" fill="#000"/>
<polygon points="979,763.2 945.7,760.6 945.7,769" fill="#000"/>
<polygon points="997,835 970.4,826 970.4,833.4" fill="#000"/>
<polygon points="954.5,929 961,919.7 969.4,919.7" fill="#000"/>
<polygon points="914.5,949.5 894.8,929.8 898.3,940" fill="#000"/>
<text x="929.6" y="121.2" font-size="27.7">Gly 8</text>
<text x="1130.3" y="146.9" font-size="27.7">Gly 11</text>
<text x="1217" y="130.2" font-size="27.7">Gly 19</text>
<text x="845.3" y="197.3" font-size="27.7">Gly 13</text>
<text x="861.2" y="264.8" font-size="27.7">Gly 21</text>
<text x="754.6" y="220.3" font-size="27.7">Gly 3</text>
<text x="952.9" y="190.9" font-size="27.7">Gly 16</text>
<text x="988.6" y="271.8" font-size="27.7">Gly 6</text>
<text x="762.2" y="560.2" font-size="27.7">His 2</text>
<text x="815.3" y="650.6" font-size="27.7">His 15</text>
<text x="1003.6" y="586.4" font-size="27.7">His 12</text>
<text x="1067.9" y="620.9" font-size="27.7">His 20</text>
<text x="898" y="680.2" font-size="27.7">Tyr 5</text>
<text x="1009.4" y="663.9" font-size="27.7">Phe 17</text>
<text x="1079.7" y="707.9" font-size="27.7">Phe 9</text>
<text x="991.7" y="720.8" font-size="27.7">Leu 14</text>
<text x="995.1" y="788.5" font-size="27.7">Leu 22</text>
<text x="872.3" y="771.6" font-size="27.7">Leu 4</text>
<text x="1176.2" y="803.7" font-size="27.7">Tyr 23</text>
<text x="904.7" y="836.5" font-size="27.7">Ala 7</text>
<text x="958.6" y="910.3" font-size="27.7">Ala 10</text>
<text x="824.2" y="927.9" font-size="27.7">Ala 18</text>
<path d="M1968.4,371.4L1966.4,371.3L1964.4,369.4L1963.1,366.5L1962.5,362.5L1962.7,358.9L1963.9,355.3L1965.4,353.3L1967.2,352.5L1969.2,353.0L1970.6,354.5L1971.8,357.3L1972.3,360.5L1972.2,364.5L1971.5,367.7L1970.0,370.2ZM1968.4,369.7L1966.8,369.7L1965.2,368.5L1963.9,365.7L1963.3,362.1L1963.5,359.3L1964.5,356.5L1966.0,354.7L1967.6,354.2L1969.2,354.7L1970.3,356.1L1971.5,360.9L1970.8,366.9L1969.6,368.8ZM1967.6,367.8L1966.4,367.3L1965.4,366.1L1964.3,361.7L1965.2,358.1L1966.4,356.7L1967.6,356.3L1968.8,356.6L1969.7,357.7L1970.5,361.7L1969.6,366.2L1968.8,367.3ZM1968.0,364.2L1966.8,364.0L1966.1,362.1L1966.4,360.4L1967.6,359.5L1968.4,360.1L1968.8,361.7ZM1913.4,401.1L1910.6,400.3L1908.0,397.4L1906.3,393.4L1904.6,385.3L1901.4,381.6L1899.9,377.8L1899.4,374.6L1900.1,369.8L1901.5,366.6L1903.4,365.0L1905.4,365.6L1907.6,368.6L1909.8,377.5L1910.8,378.2L1914.2,379.2L1916.6,380.7L1918.5,383.0L1919.5,385.8L1920.0,391.8L1918.8,396.6L1916.6,399.7ZM1914.6,399.5L1913.0,399.7L1911.4,399.3L1908.9,397.0L1906.9,391.8L1906.4,387.0L1907.0,382.0L1903.4,381.3L1901.3,378.2L1900.6,375.4L1900.8,372.2L1901.8,369.4L1903.4,367.7L1905.4,368.3L1907.0,370.6L1908.2,380.1L1912.2,380.2L1915.0,381.1L1917.0,382.7L1918.4,385.4L1919.1,389.4L1918.8,393.4L1917.0,397.7ZM1904.2,377.8L1903.3,377.0L1902.7,374.2L1903.0,372.5L1904.2,371.6L1905.4,372.7L1905.8,374.6L1905.2,377.0ZM1914.6,397.9L1912.6,398.1L1910.6,397.1L1909.1,395.0L1908.1,392.2L1908.0,386.2L1909.8,383.2L1911.4,382.1L1913.8,382.3L1915.8,383.3L1917.0,385.0L1917.9,387.8L1918.1,390.6L1917.6,393.4L1916.1,396.6ZM1913.8,395.9L1912.2,395.7L1911.0,394.9L1909.8,393.2L1909.3,391.4L1909.8,386.5L1911.0,384.7L1912.6,384.0L1914.2,384.3L1915.4,385.3L1916.8,389.0L1916.1,393.4L1915.0,395.1ZM1913.4,392.6L1911.8,392.2L1911.3,391.0L1911.8,388.7L1913.0,387.5L1914.2,388.0L1914.8,389.4L1914.2,391.8ZM1940.7,398.9L1937.5,398.8L1933.9,396.8L1931.9,394.0L1931.0,390.4L1931.2,386.8L1932.7,383.6L1935.5,381.1L1938.7,380.0L1941.5,380.4L1943.9,382.0L1945.9,384.8L1946.8,388.4L1946.8,391.6L1945.6,394.8L1943.1,397.6ZM1940.3,397.7L1937.9,397.7L1934.6,396.0L1932.9,393.6L1932.1,390.0L1932.1,387.2L1933.5,384.4L1935.9,382.2L1938.7,381.2L1941.1,381.6L1943.5,383.3L1945.2,386.0L1945.9,388.8L1945.8,391.6L1944.8,394.0L1942.7,396.2ZM1938.7,396.4L1936.7,395.9L1934.9,394.4L1933.7,391.6L1933.2,388.4L1933.8,386.4L1935.7,384.0L1937.5,382.8L1939.1,382.5L1941.1,383.2L1943.1,384.9L1944.4,387.2L1944.8,390.0L1944.4,392.0L1943.3,393.6L1940.3,396.0ZM1939.5,394.6L1937.9,394.6L1936.5,393.6L1935.1,391.2L1934.7,389.2L1934.9,387.6L1935.9,386.1L1937.3,384.8L1938.7,384.3L1940.3,384.7L1941.9,385.9L1943.1,387.6L1943.4,389.2L1942.3,392.4ZM1939.1,392.0L1937.9,391.4L1937.2,389.6L1937.5,388.3L1938.7,387.4L1939.9,387.8L1940.6,389.2L1940.2,391.2ZM1709.7,508.8L1706.5,508.7L1703.3,506.6L1700.8,503.2L1699.7,498.8L1699.6,493.2L1700.8,489.6L1703.3,486.1L1705.3,484.7L1706.9,484.2L1710.5,484.5L1714.1,486.8L1716.6,491.2L1717.4,494.8L1717.3,499.6L1715.7,504.1L1712.9,507.3ZM1709.3,507.7L1706.5,507.3L1703.7,505.5L1701.7,502.8L1700.7,498.8L1700.5,493.6L1701.2,490.8L1703.3,487.5L1706.9,485.4L1710.5,485.8L1713.4,487.6L1715.8,491.6L1716.6,495.2L1716.4,499.6L1714.9,503.4L1712.5,506.2ZM1710.1,506.1L1707.7,506.1L1704.5,504.5L1702.7,502.4L1701.8,499.2L1701.6,493.6L1702.2,491.2L1704.1,488.3L1707.3,486.6L1710.5,487.2L1712.9,488.8L1714.6,491.6L1715.5,494.8L1715.6,498.4L1714.7,501.2L1712.5,504.5ZM1710.1,504.5L1708.1,504.6L1705.3,503.2L1703.8,501.6L1703.1,499.2L1702.8,494.4L1703.2,492.0L1704.9,489.5L1707.3,488.2L1709.7,488.4L1712.1,489.8L1713.5,492.0L1714.2,494.8L1714.4,497.6L1714.0,499.6L1712.0,502.8ZM1709.3,502.5L1707.7,502.5L1705.7,501.4L1704.8,500.0L1704.3,497.6L1704.5,494.4L1705.1,492.4L1706.5,491.0L1708.5,490.5L1710.2,490.8L1711.7,492.0L1712.9,496.4L1712.3,499.2ZM1708.1,499.4L1706.9,499.1L1706.3,496.8L1706.9,494.4L1708.1,493.7L1709.6,494.4L1710.3,496.0L1709.9,497.6ZM1699.6,572.3L1688.4,571.2L1681.6,568.5L1676.0,565.0L1672.1,560.3L1670.9,557.5L1670.5,555.1L1671.5,548.3L1675.2,542.7L1681.6,538.3L1688.8,535.8L1695.6,535.2L1701.2,535.6L1706.8,536.6L1716.1,540.7L1719.6,543.9L1722.2,547.9L1723.8,553.1L1723.7,555.9L1723.0,557.9L1718.9,564.3L1714.0,567.9L1708.8,570.2ZM1699.6,571.1L1692.0,570.6L1687.2,569.5L1681.2,566.9L1677.2,564.4L1675.7,562.7L1672.6,557.9L1672.1,553.5L1673.1,548.3L1677.3,542.7L1682.8,539.2L1688.8,537.2L1696.8,536.3L1707.2,538.0L1714.8,541.6L1718.2,544.7L1720.5,548.7L1722.2,554.7L1721.3,557.9L1718.4,562.7L1714.0,566.2L1708.8,568.9L1705.2,570.2ZM1701.2,569.5L1693.2,569.6L1689.2,568.8L1682.4,566.2L1677.4,562.3L1674.2,557.1L1673.9,551.1L1675.0,548.3L1679.2,543.5L1684.8,540.0L1690.8,538.1L1696.4,537.5L1706.4,539.0L1711.2,541.3L1716.6,545.1L1718.8,549.1L1720.1,554.3L1719.7,557.5L1717.5,561.1L1714.2,564.3L1708.4,567.7L1704.4,569.1ZM1698.4,568.3L1691.6,568.0L1683.6,565.3L1678.7,561.1L1676.6,557.9L1675.7,553.5L1676.5,549.5L1680.7,544.3L1684.8,541.6L1690.0,539.7L1694.4,538.9L1700.0,539.2L1705.2,540.1L1710.0,542.2L1714.0,544.7L1716.0,547.1L1717.4,550.7L1717.8,555.5L1717.4,557.5L1715.3,561.1L1712.8,563.3L1706.8,567.0L1703.6,568.0ZM1698.4,566.7L1692.8,566.8L1686.0,564.7L1683.2,563.1L1678.7,558.3L1678.1,556.7L1678.0,553.5L1678.9,549.5L1681.8,545.5L1685.2,543.1L1689.2,541.4L1694.0,540.4L1700.0,540.6L1705.2,541.6L1708.6,543.1L1712.4,545.9L1715.1,549.5L1715.9,552.3L1715.5,556.7L1714.5,559.1L1712.5,561.5L1707.6,564.9L1704.8,566.2ZM1696.8,565.2L1693.2,565.3L1686.8,563.1L1681.7,558.7L1680.9,557.5L1680.6,555.9L1680.6,552.3L1681.3,549.1L1682.8,547.1L1685.6,544.9L1692.8,542.5L1700.0,542.1L1706.4,543.7L1710.8,547.3L1713.5,551.1L1713.9,553.9L1712.7,558.3L1710.9,560.7L1706.8,562.9L1703.2,564.3ZM1699.2,563.1L1694.8,563.4L1692.8,562.9L1688.0,560.9L1683.5,557.5L1682.8,555.9L1682.9,553.9L1685.5,548.3L1692.4,544.5L1699.6,544.0L1705.6,545.7L1709.2,548.7L1710.6,551.5L1710.6,554.7L1709.6,558.4L1706.4,560.7L1702.4,562.4ZM1700.8,560.8L1694.4,560.8L1689.6,558.4L1686.6,554.7L1686.5,553.1L1687.4,551.1L1691.2,547.5L1694.0,546.3L1696.8,546.6L1702.6,548.3L1705.4,549.9L1706.3,551.1L1706.5,555.9L1704.3,558.7ZM1700.0,556.7L1696.0,556.8L1692.8,555.9L1691.5,554.3L1691.5,551.9L1693.2,550.7L1696.8,550.1L1701.1,551.1L1702.1,552.3L1702.2,554.3L1701.3,555.9ZM1593.2,790.5L1591.6,790.7L1589.6,790.2L1585.6,787.5L1583.4,783.7L1581.7,777.7L1582.3,771.7L1584.4,766.6L1587.6,763.5L1591.6,762.2L1595.6,763.2L1597.9,764.9L1600.5,768.5L1601.7,774.1L1601.6,779.7L1600.3,784.1L1598.0,787.3L1595.2,789.5ZM1593.2,789.0L1591.6,789.2L1589.6,788.6L1586.5,786.5L1584.1,782.9L1582.6,777.7L1583.3,772.1L1585.2,767.6L1588.4,764.6L1591.6,763.6L1594.8,764.2L1597.2,765.9L1599.4,768.9L1600.8,774.5L1600.5,779.3L1599.3,783.7L1597.2,786.5ZM1592.4,787.3L1589.2,786.8L1587.2,785.2L1584.8,781.8L1583.7,777.7L1584.4,772.5L1586.2,768.5L1588.8,766.1L1592.0,765.2L1595.2,766.0L1597.6,768.4L1598.5,770.1L1599.7,774.9L1599.2,779.7L1597.8,783.7L1595.6,786.0ZM1592.4,785.3L1590.0,785.2L1588.4,784.2L1585.9,781.3L1585.2,778.5L1585.6,773.3L1586.7,770.5L1588.8,767.9L1591.6,767.0L1594.4,767.5L1596.4,769.3L1597.5,771.3L1598.4,774.9L1598.0,779.3L1596.8,782.5L1594.8,784.6ZM1592.8,783.3L1590.8,783.3L1589.6,782.7L1587.7,780.5L1587.1,778.9L1587.1,775.3L1587.7,772.1L1589.2,770.1L1591.2,769.2L1593.2,769.5L1595.2,770.9L1596.7,774.9L1596.5,777.7L1595.4,781.3L1594.4,782.7ZM1592.4,778.2L1591.2,778.1L1590.3,776.1L1590.5,773.7L1591.2,772.8L1592.4,773.3L1593.8,775.7L1593.6,776.9ZM1471.5,866.4L1467.9,865.4L1464.4,862.4L1462.1,857.6L1461.5,853.6L1462.1,847.6L1464.2,842.8L1466.7,840.1L1471.5,838.9L1475.1,839.9L1478.1,842.4L1480.5,848.0L1481.2,851.6L1480.6,856.8L1478.7,861.6L1474.7,865.6ZM1472.7,864.9L1469.5,864.8L1466.3,862.8L1464.2,860.0L1462.5,855.2L1462.9,849.2L1464.5,844.4L1467.1,841.3L1470.7,840.2L1474.3,840.8L1477.0,842.8L1478.6,845.6L1480.2,851.2L1479.7,856.4L1478.3,860.0L1475.5,863.2ZM1472.7,863.3L1469.9,863.4L1467.1,861.9L1465.4,859.6L1463.6,855.2L1463.6,851.2L1465.2,845.6L1467.5,842.9L1470.3,841.7L1473.5,842.0L1475.9,843.6L1477.5,846.0L1479.0,851.2L1478.6,856.0L1477.6,858.8L1475.4,861.6ZM1472.7,861.6L1470.3,861.9L1467.9,860.8L1466.0,858.0L1464.9,854.8L1464.9,852.0L1466.5,846.4L1467.9,844.7L1470.3,843.6L1473.1,843.9L1475.5,845.5L1476.5,847.2L1477.6,851.2L1477.4,855.2L1476.7,857.6L1474.7,860.4ZM1472.3,859.7L1470.7,860.0L1469.1,859.2L1467.5,857.3L1466.8,855.6L1466.8,852.4L1468.0,848.0L1468.7,846.7L1469.9,846.1L1472.7,846.2L1474.3,846.8L1475.2,848.0L1476.1,851.2L1475.2,856.8L1473.9,858.6ZM1471.9,856.0L1470.3,855.2L1469.4,852.8L1469.9,850.3L1471.5,849.2L1472.8,849.6L1473.5,850.8L1472.5,853.2L1472.7,855.2ZM1591.2,867.2L1587.2,867.2L1583.2,865.2L1581.0,862.3L1579.1,857.1L1579.6,850.3L1581.6,845.6L1583.6,843.6L1586.4,842.0L1588.4,841.4L1591.6,841.8L1594.8,844.2L1597.3,847.5L1599.0,852.3L1598.4,858.7L1597.4,861.9L1594.0,865.7ZM1589.2,866.3L1586.0,865.7L1583.0,863.5L1580.7,859.5L1580.1,856.3L1580.5,850.3L1582.7,845.9L1586.8,843.2L1589.2,842.7L1592.0,843.4L1594.8,845.7L1597.0,849.1L1598.1,853.5L1597.3,859.1L1596.4,861.5L1592.0,865.4ZM1590.0,864.8L1587.6,864.9L1585.2,863.9L1582.4,860.4L1581.4,857.1L1581.4,851.5L1582.0,849.5L1584.4,846.1L1588.8,844.1L1591.6,844.7L1593.8,846.3L1595.9,849.5L1596.9,853.1L1596.4,858.3L1595.7,860.3L1594.3,861.9ZM1589.2,863.1L1586.4,862.7L1583.6,859.5L1582.8,857.1L1582.6,852.7L1582.8,850.7L1584.4,848.4L1586.4,846.7L1588.8,845.8L1591.2,846.3L1593.2,847.8L1594.8,850.3L1595.6,853.5L1594.6,859.5L1592.8,861.2ZM1590.0,860.8L1588.4,861.0L1586.8,860.2L1585.1,858.3L1584.3,855.9L1584.8,850.8L1588.8,848.1L1590.8,848.5L1592.4,849.7L1594.0,853.5L1593.1,858.3L1592.0,859.7ZM1590.0,857.5L1589.2,857.8L1588.0,857.5L1587.2,856.7L1586.9,855.5L1588.0,853.2L1590.0,851.8L1591.1,852.7L1591.4,854.3L1591.0,856.3ZM1516.4,940.7L1512.8,940.9L1506.8,940.3L1500.8,938.4L1497.9,936.2L1495.7,933.4L1494.3,927.8L1494.8,926.3L1497.7,922.2L1501.2,919.4L1504.4,918.0L1508.8,917.1L1515.2,917.0L1518.4,917.6L1522.8,919.5L1527.6,923.2L1528.8,925.0L1529.7,928.2L1529.5,931.0L1528.7,933.0L1524.9,937.0ZM1516.8,939.4L1514.0,939.7L1507.6,939.3L1502.0,937.6L1500.3,936.6L1497.7,933.4L1496.3,928.6L1496.6,927.0L1498.5,923.4L1501.7,920.6L1504.0,919.4L1508.4,918.4L1513.6,918.2L1519.2,919.3L1526.0,923.8L1527.1,925.4L1527.7,928.2L1527.7,930.6L1526.9,932.6L1524.4,935.8ZM1515.2,938.2L1508.0,938.0L1501.6,935.7L1499.3,932.6L1498.3,929.4L1498.4,927.0L1499.6,924.6L1504.4,920.8L1508.8,919.7L1513.2,919.4L1519.2,920.9L1524.2,924.6L1525.2,926.2L1525.5,930.2L1524.5,933.4L1519.6,937.0ZM1514.4,936.6L1511.6,936.9L1508.8,936.5L1504.0,935.0L1502.3,933.8L1500.9,931.4L1500.2,927.8L1500.9,926.2L1503.0,923.8L1505.2,922.4L1508.4,921.4L1514.4,921.1L1519.0,923.0L1522.4,925.7L1523.1,927.0L1523.6,929.4L1522.8,932.2L1518.7,935.4ZM1514.0,935.0L1511.6,935.1L1507.2,934.0L1504.4,932.2L1503.6,931.0L1503.3,929.4L1503.7,926.6L1504.7,925.0L1509.2,923.4L1514.0,923.2L1515.6,923.8L1520.4,927.0L1521.3,929.0L1520.7,931.0L1516.8,934.2ZM1514.8,931.9L1512.4,931.9L1509.6,931.3L1508.6,930.6L1508.6,929.8L1510.0,928.0L1514.4,926.7L1516.9,929.4L1516.1,931.0Z" fill="none" stroke="#ff0000" stroke-width="0.9"/>
<path d="M1929.3,147.6L1925.7,147.2L1921.6,144.7L1920.1,142.7L1919.3,140.3L1919.7,134.5L1918.5,133.5L1916.1,133.0L1914.5,133.2L1913.7,134.0L1914.2,140.7L1913.1,143.1L1911.3,145.3L1908.9,146.9L1906.5,147.5L1903.3,147.3L1900.6,146.3L1898.3,144.3L1897.2,142.3L1896.2,135.1L1889.3,129.9L1886.8,126.3L1886.5,123.1L1887.7,119.9L1889.7,117.7L1892.1,116.2L1896.5,114.4L1900.1,113.9L1914.9,115.4L1925.3,114.1L1931.3,114.2L1937.7,115.6L1940.9,117.2L1944.8,120.7L1945.4,123.1L1945.1,125.1L1942.5,128.7L1935.8,133.5L1935.3,135.1L1936.0,139.9L1935.2,142.7L1932.9,145.9ZM1928.5,146.7L1925.7,146.3L1922.2,143.9L1921.2,142.3L1920.7,139.9L1921.4,135.1L1921.2,133.9L1919.7,132.6L1916.1,131.8L1913.3,132.2L1912.1,133.2L1911.9,134.3L1912.9,140.3L1912.1,142.7L1910.8,144.3L1908.7,145.9L1906.5,146.6L1903.7,146.5L1901.3,145.5L1899.3,143.8L1898.2,141.9L1897.6,139.1L1897.9,135.9L1897.4,134.7L1890.7,129.9L1887.9,126.3L1887.5,123.9L1888.5,120.3L1890.1,118.5L1892.5,116.9L1896.9,115.1L1900.1,114.6L1914.9,116.2L1923.3,114.9L1930.5,114.7L1935.3,115.6L1940.1,117.7L1943.8,121.1L1944.2,123.1L1943.8,125.1L1941.3,128.5L1934.1,133.5L1933.9,135.1L1935.0,138.7L1934.6,141.5L1932.1,145.3ZM1928.9,145.5L1925.7,145.1L1923.7,143.9L1922.8,142.7L1922.1,139.5L1923.4,134.3L1922.8,133.1L1920.1,131.6L1916.1,130.8L1912.4,131.1L1910.4,132.7L1910.1,134.3L1911.7,139.9L1911.2,141.9L1910.1,143.3L1908.1,144.9L1906.5,145.5L1904.1,145.4L1902.1,144.7L1900.3,143.1L1899.2,141.1L1898.9,138.7L1899.5,135.5L1899.2,134.3L1892.9,130.6L1889.5,126.7L1888.7,123.9L1889.5,120.7L1890.9,119.1L1893.3,117.5L1897.3,115.9L1900.1,115.4L1915.3,117.1L1923.3,115.6L1930.1,115.4L1934.5,116.2L1939.3,118.3L1942.5,121.5L1942.9,123.1L1942.6,124.7L1941.5,126.7L1939.3,128.9L1932.1,132.7L1931.9,133.9L1933.7,137.9L1933.9,140.3L1931.8,143.9ZM1906.9,143.9L1904.1,143.9L1901.7,142.6L1900.8,141.1L1900.5,139.5L1901.7,135.1L1901.5,133.9L1900.1,132.8L1894.1,130.2L1890.7,126.3L1890.1,124.3L1890.3,121.9L1891.2,120.3L1892.9,118.8L1896.9,117.0L1900.1,116.3L1914.9,118.1L1923.3,116.4L1929.3,116.1L1932.9,116.6L1935.7,117.5L1938.9,119.2L1940.7,121.1L1941.3,122.7L1941.2,124.3L1939.0,127.9L1936.1,129.7L1932.1,130.8L1928.1,132.8L1916.5,129.6L1912.9,129.6L1910.3,130.7L1908.5,132.3L1907.7,133.9L1909.9,138.3L1910.0,140.7L1908.7,142.7ZM1929.3,144.0L1927.7,144.3L1926.1,143.8L1924.5,142.4L1923.8,140.7L1923.9,138.7L1924.5,136.9L1926.1,134.7L1927.3,134.0L1930.5,135.7L1932.5,139.1L1931.7,141.9ZM1904.5,132.3L1902.9,132.2L1896.5,130.2L1894.0,128.7L1892.2,126.3L1891.5,124.3L1891.8,121.9L1892.9,120.3L1895.3,118.7L1900.5,117.2L1908.1,118.2L1911.7,119.4L1914.1,119.5L1916.5,119.3L1923.7,117.2L1929.3,117.0L1932.5,117.4L1935.0,118.3L1938.3,120.3L1939.6,122.3L1939.4,125.1L1937.7,127.5L1935.3,128.8L1929.7,130.5L1924.1,130.4L1917.3,128.4L1914.1,127.9L1911.3,128.7ZM1905.7,141.6L1904.1,141.2L1903.0,139.9L1903.0,138.3L1904.1,137.3L1905.8,137.5L1907.0,138.7L1906.9,140.7ZM1928.9,142.0L1927.3,142.0L1926.2,140.7L1926.3,139.1L1927.7,137.8L1929.3,137.9L1930.1,139.1L1930.1,140.7ZM1904.5,130.3L1899.3,129.7L1895.3,128.0L1893.2,124.3L1893.2,122.7L1894.0,121.1L1896.5,119.5L1901.7,118.3L1907.3,119.3L1911.3,121.0L1914.9,121.4L1922.1,118.6L1927.7,118.0L1931.3,118.3L1933.7,119.1L1936.9,121.5L1937.9,123.1L1937.6,125.1L1936.1,126.9L1929.3,129.3L1923.3,128.9L1914.1,125.5ZM1928.1,127.9L1922.1,126.7L1918.5,124.8L1917.9,123.5L1921.3,120.5L1924.5,119.3L1929.8,119.5L1933.3,120.8L1935.1,123.1L1934.8,125.1L1933.3,126.1ZM1904.5,128.7L1899.7,128.3L1896.9,127.0L1895.3,124.7L1895.3,123.1L1895.9,121.9L1898.9,120.2L1901.7,119.6L1905.3,120.3L1908.9,122.3L1909.9,123.9L1909.3,125.5L1907.5,127.1ZM1928.1,125.2L1926.5,125.0L1924.6,123.9L1924.2,123.1L1924.7,121.9L1927.3,121.0L1930.0,122.3L1930.1,123.9ZM1903.3,126.7L1900.5,126.4L1898.9,125.5L1898.2,124.3L1898.8,122.7L1901.3,121.6L1903.3,121.8L1904.3,122.3L1905.3,125.1L1904.5,126.3ZM1978.9,361.7L1973.3,361.9L1969.7,360.9L1966.9,358.4L1966.6,357.2L1966.9,355.6L1969.3,353.4L1973.3,352.1L1977.3,352.1L1981.7,353.3L1984.2,355.6L1984.4,358.0L1982.5,360.2ZM1977.7,361.2L1973.3,361.3L1970.1,360.2L1967.9,358.0L1968.1,355.6L1970.1,353.8L1974.1,352.7L1977.7,352.8L1981.3,354.0L1983.2,356.0L1983.4,357.2L1983.0,358.4L1980.9,360.3ZM1977.7,360.5L1973.7,360.5L1971.3,359.8L1969.2,358.0L1969.2,356.0L1970.9,354.5L1974.1,353.4L1976.9,353.4L1980.1,354.4L1981.8,356.0L1982.0,358.0L1980.4,359.6ZM1976.1,359.6L1973.7,359.5L1971.9,358.8L1970.9,357.6L1971.1,356.0L1972.7,354.8L1974.9,354.2L1977.7,354.6L1979.8,355.6L1980.6,356.8L1980.1,358.4L1978.5,359.3ZM1976.1,358.0L1973.7,357.7L1973.2,357.2L1973.4,356.4L1975.3,355.7L1977.9,356.8L1977.7,357.6ZM1982.7,389.1L1977.5,389.2L1973.5,387.6L1971.6,384.7L1971.6,383.1L1972.5,381.5L1975.1,379.4L1978.3,378.6L1982.7,378.8L1986.3,380.3L1988.2,382.7L1988.2,385.5L1986.5,387.5ZM1980.3,388.7L1975.9,388.1L1973.2,385.9L1972.7,384.3L1973.0,382.7L1974.1,381.1L1975.5,380.0L1978.3,379.3L1981.9,379.4L1985.1,380.6L1986.9,382.3L1987.4,384.3L1986.3,386.5L1983.5,388.2ZM1980.7,387.9L1977.1,387.6L1974.5,385.9L1974.0,383.5L1975.5,381.1L1977.9,380.2L1981.1,380.1L1983.5,380.9L1985.5,382.3L1986.2,383.9L1985.5,385.7L1983.5,387.2ZM1981.5,386.8L1978.7,386.9L1976.7,386.2L1975.5,384.7L1975.8,382.7L1977.1,381.6L1979.1,381.2L1981.5,381.4L1983.5,382.3L1984.6,383.5L1984.5,384.7L1983.5,385.9ZM1979.9,385.5L1978.3,384.7L1978.5,383.5L1980.3,382.9L1981.9,383.5L1981.9,384.8ZM1925.5,361.8L1920.7,361.9L1916.8,360.5L1914.6,358.1L1914.4,356.9L1914.9,355.3L1917.5,353.1L1921.5,352.0L1925.5,352.2L1928.7,353.4L1931.0,355.7L1931.0,358.1L1929.1,360.3ZM1923.9,361.3L1919.9,361.1L1917.0,359.7L1915.6,357.7L1916.1,355.3L1918.7,353.4L1922.3,352.6L1925.9,353.0L1928.7,354.4L1930.2,356.5L1929.7,358.5L1927.5,360.4ZM1924.3,360.5L1920.7,360.4L1918.0,359.3L1916.8,357.7L1917.2,355.7L1919.1,354.2L1921.9,353.4L1925.1,353.6L1927.5,354.7L1928.9,356.5L1928.7,358.1L1927.0,359.7ZM1922.7,359.7L1920.3,359.3L1918.7,358.1L1918.5,356.5L1919.5,355.3L1921.5,354.4L1923.5,354.3L1925.5,354.9L1927.0,356.1L1927.4,357.3L1926.7,358.6L1925.1,359.4ZM1923.5,357.8L1921.5,357.8L1921.1,356.7L1921.9,356.0L1923.5,356.2L1924.3,356.9ZM1932.6,398.6L1919.4,398.1L1910.6,396.2L1906.2,393.9L1904.3,392.2L1903.3,390.2L1903.5,387.8L1905.6,385.0L1910.6,382.3L1919.8,380.1L1928.2,379.6L1937.0,380.4L1943.4,381.7L1949.3,384.2L1952.7,387.4L1953.2,389.4L1952.7,391.4L1948.6,394.6L1939.8,397.7ZM1933.8,397.8L1920.6,397.5L1911.8,395.7L1908.8,394.2L1906.5,392.2L1905.3,390.2L1905.3,387.8L1907.1,385.4L1911.8,382.8L1919.8,380.8L1928.6,380.3L1935.8,380.9L1942.6,382.3L1948.4,385.0L1951.0,387.8L1951.5,389.4L1951.3,390.6L1947.8,393.9L1939.4,397.0ZM1934.2,397.0L1921.4,396.9L1913.4,395.3L1910.9,394.2L1908.4,392.2L1907.2,390.2L1907.2,388.2L1909.2,385.4L1912.2,383.6L1919.8,381.6L1928.2,381.1L1934.6,381.5L1941.0,382.8L1945.9,385.0L1948.6,387.4L1949.3,389.0L1949.1,390.2L1946.9,393.0L1939.4,396.1ZM1934.2,396.2L1924.2,396.3L1914.6,394.6L1912.2,393.5L1909.8,391.6L1909.1,390.2L1909.3,388.6L1910.9,385.8L1913.8,384.3L1919.8,382.5L1929.0,381.9L1934.2,382.2L1940.2,383.5L1944.6,385.8L1946.6,388.2L1947.1,389.4L1946.9,390.6L1945.0,392.7L1939.0,395.2ZM1933.0,395.4L1924.6,395.5L1917.0,394.1L1912.6,392.0L1911.4,390.6L1911.3,389.0L1913.2,386.2L1917.8,384.0L1920.2,383.4L1928.6,382.7L1933.8,383.1L1939.0,384.2L1941.0,385.2L1943.9,387.8L1944.7,390.2L1943.4,391.8L1937.8,394.3ZM1933.0,394.2L1925.4,394.5L1918.8,393.0L1914.6,391.4L1913.7,390.2L1913.7,389.0L1914.6,387.4L1915.9,386.2L1920.2,384.6L1930.2,383.8L1934.2,384.3L1939.5,385.8L1941.1,388.2L1941.4,389.4L1941.0,390.5L1937.4,393.0ZM1928.6,393.0L1925.4,393.2L1919.8,391.5L1917.1,389.8L1916.8,388.2L1917.9,387.0L1919.4,386.3L1923.4,386.1L1928.6,385.2L1934.2,385.7L1937.9,387.4L1938.1,389.4L1936.4,391.4L1933.8,392.4ZM1927.0,391.4L1923.9,390.6L1923.2,389.8L1923.4,388.6L1925.0,387.8L1928.6,387.3L1933.0,387.5L1934.2,388.2L1934.1,389.4L1933.3,390.2L1929.8,390.5ZM1739.3,518.4L1732.5,518.6L1726.0,516.8L1723.1,514.8L1721.7,513.2L1721.1,511.2L1721.5,508.8L1724.9,505.2L1730.5,503.3L1737.7,503.0L1742.1,503.9L1745.3,505.2L1747.5,506.8L1748.9,508.8L1749.2,510.8L1748.6,513.2L1747.3,514.8L1744.5,516.7ZM1735.7,518.0L1732.5,517.9L1728.1,516.8L1726.1,515.7L1723.7,513.6L1722.7,512.0L1722.6,510.4L1723.2,508.8L1725.0,506.4L1726.9,505.2L1729.7,504.2L1736.1,503.7L1742.9,505.1L1746.7,507.6L1747.6,509.2L1747.8,510.8L1747.4,512.8L1746.6,514.0L1742.1,516.7ZM1735.7,517.2L1732.9,517.1L1728.5,515.9L1725.2,513.2L1724.4,512.0L1724.2,510.4L1726.3,506.8L1730.5,504.9L1735.3,504.6L1742.1,505.8L1745.1,507.6L1746.4,510.4L1746.3,512.0L1745.6,513.2L1742.1,515.6ZM1736.9,516.1L1732.9,516.0L1728.1,514.2L1725.9,511.2L1726.0,510.0L1726.9,508.4L1729.7,506.4L1733.7,505.5L1738.1,506.0L1743.3,507.7L1744.2,508.8L1744.7,510.4L1743.9,512.8L1741.7,514.6ZM1736.1,514.8L1733.1,514.8L1729.6,513.2L1728.4,510.8L1729.3,508.8L1731.5,507.2L1734.5,506.8L1738.9,507.5L1741.6,508.8L1742.3,510.8L1741.5,512.8ZM1736.1,512.4L1734.5,512.7L1732.8,512.4L1731.7,511.4L1731.7,510.2L1732.5,509.4L1733.7,509.2L1736.8,509.6L1738.4,510.4L1738.4,511.2ZM1713.0,568.1L1705.4,568.3L1695.0,567.7L1683.8,565.8L1675.6,562.5L1672.9,559.7L1672.2,557.3L1675.0,554.0L1680.2,551.2L1691.0,548.4L1703.8,547.4L1714.6,547.7L1727.0,549.5L1732.6,551.2L1737.1,553.3L1739.1,554.5L1740.5,556.1L1740.8,558.1L1739.9,560.1L1734.2,564.0L1730.6,565.3L1721.8,567.3ZM1715.0,567.3L1705.8,567.7L1695.4,567.1L1684.2,565.0L1676.6,561.9L1674.8,559.7L1674.4,557.7L1676.2,554.9L1681.0,552.0L1691.0,549.2L1704.2,548.1L1717.4,548.7L1727.0,550.3L1734.2,553.1L1736.8,554.9L1738.2,556.5L1738.4,558.1L1737.9,559.3L1735.8,561.7L1733.8,563.0L1729.4,564.7L1722.2,566.4ZM1709.8,566.9L1695.0,566.3L1683.8,563.8L1677.8,560.9L1676.7,559.3L1676.7,557.3L1677.6,555.7L1679.8,553.9L1687.4,551.0L1694.2,549.6L1704.6,548.7L1717.8,549.5L1727.0,551.2L1733.4,554.0L1735.7,556.5L1735.9,558.5L1734.6,560.7L1733.0,562.0L1729.8,563.5L1721.4,565.7ZM1711.0,566.1L1706.2,566.3L1695.4,565.5L1686.6,563.4L1683.0,562.2L1680.7,560.5L1679.4,558.9L1679.2,556.9L1681.1,554.9L1689.4,551.5L1695.4,550.3L1706.6,549.5L1718.2,550.4L1726.6,552.2L1729.4,553.4L1732.3,555.3L1733.3,556.5L1733.5,558.1L1732.6,560.1L1729.0,562.6L1721.4,564.8ZM1710.6,565.3L1702.2,565.2L1691.4,563.8L1686.6,562.2L1684.2,560.9L1682.8,558.9L1682.4,556.9L1685.1,554.5L1690.2,552.3L1696.2,551.1L1707.0,550.3L1714.2,550.8L1721.4,551.9L1727.4,553.8L1729.0,554.9L1730.1,556.5L1730.5,558.1L1730.3,559.3L1729.5,560.5L1728.2,561.4L1721.0,563.9ZM1709.4,564.5L1697.4,563.8L1692.2,562.8L1686.8,560.5L1685.4,558.5L1685.3,556.9L1687.0,555.1L1691.0,553.3L1697.4,551.9L1706.6,551.2L1711.4,551.4L1720.6,552.8L1726.2,555.1L1727.8,556.5L1728.0,557.7L1727.6,558.9L1723.7,561.7L1716.6,563.6ZM1710.6,563.3L1707.4,563.5L1698.2,562.7L1693.7,561.7L1689.7,559.7L1688.9,558.5L1688.9,556.9L1689.7,555.7L1691.0,554.9L1697.0,553.1L1709.4,552.4L1715.4,553.1L1720.2,554.3L1724.3,557.7L1723.8,559.3L1722.0,560.5L1717.4,562.2ZM1710.2,562.1L1707.8,562.2L1697.8,561.2L1694.9,559.7L1693.0,558.1L1692.9,557.3L1694.4,555.7L1698.2,554.3L1705.0,553.6L1710.6,553.8L1715.4,554.6L1718.6,555.7L1720.0,556.9L1720.2,558.5L1718.6,559.8ZM1709.8,560.2L1705.8,560.1L1702.1,559.3L1700.3,558.5L1700.0,557.3L1704.5,555.3L1709.0,555.6L1712.8,558.1L1712.0,559.3ZM1595.2,788.5L1589.6,787.5L1584.5,784.1L1582.5,780.5L1581.7,775.3L1582.9,770.9L1585.3,767.7L1589.2,765.0L1594.8,763.8L1599.6,765.0L1603.9,767.7L1606.1,770.9L1607.1,773.7L1607.3,776.1L1606.8,780.1L1604.0,784.6L1600.4,787.3ZM1597.6,787.3L1593.6,787.6L1589.6,786.6L1585.6,783.9L1583.6,780.9L1582.7,775.7L1583.4,772.1L1585.4,768.9L1589.6,765.8L1594.8,764.7L1599.2,765.8L1603.5,768.5L1605.8,772.5L1606.5,777.3L1605.5,780.9L1603.9,783.3L1601.9,785.3L1600.0,786.6ZM1596.8,786.5L1592.8,786.6L1589.2,785.3L1586.0,782.9L1584.2,779.7L1583.7,775.3L1584.6,771.7L1586.8,768.9L1590.4,766.5L1595.2,765.7L1599.6,767.0L1603.2,769.7L1605.1,773.3L1605.5,778.1L1604.4,781.1L1600.8,785.0ZM1597.2,785.3L1593.2,785.6L1590.0,784.6L1586.8,782.1L1585.1,779.3L1584.7,775.7L1585.6,772.1L1587.2,770.0L1590.4,767.6L1594.8,766.7L1597.6,767.3L1601.7,769.7L1604.0,773.3L1604.5,776.9L1603.8,780.1L1600.8,783.7ZM1597.2,784.1L1593.6,784.5L1590.8,783.7L1588.1,781.7L1586.1,778.5L1585.8,775.7L1586.7,772.5L1588.0,770.8L1591.2,768.6L1594.8,767.9L1597.2,768.4L1600.8,770.5L1602.9,773.7L1603.3,776.5L1602.6,779.7L1600.0,782.9ZM1596.0,782.9L1592.8,783.0L1590.4,782.0L1588.4,779.9L1587.2,776.9L1587.4,774.5L1588.4,772.5L1591.5,770.1L1594.0,769.3L1596.0,769.4L1599.2,770.9L1601.0,772.9L1602.0,775.3L1601.6,778.5L1600.1,780.9L1598.4,782.3ZM1596.0,781.4L1593.6,781.5L1591.2,780.5L1589.7,778.9L1589.0,776.9L1589.0,775.3L1589.6,774.1L1592.8,771.6L1594.4,771.0L1596.0,771.2L1598.0,772.2L1599.6,774.1L1600.2,775.7L1600.0,777.7L1598.9,779.7L1597.6,780.9ZM1595.6,778.6L1594.0,778.8L1592.0,777.8L1591.3,776.5L1591.7,775.3L1594.4,773.8L1596.4,774.3L1597.2,775.3L1597.4,776.5L1596.8,777.8ZM1506.3,895.5L1499.5,895.5L1491.9,893.5L1483.1,894.5L1477.5,894.0L1473.9,892.7L1471.2,891.0L1469.8,889.0L1469.5,886.6L1470.3,885.0L1472.7,882.8L1477.9,880.8L1482.3,880.5L1491.9,881.3L1499.1,879.3L1503.1,878.7L1505.5,878.9L1509.9,880.3L1512.3,882.0L1514.1,884.2L1514.9,887.4L1514.4,889.8L1512.3,892.6L1509.9,894.2ZM1505.1,895.0L1499.1,894.7L1492.3,892.6L1483.1,893.8L1477.9,893.4L1474.7,892.2L1472.3,890.6L1471.0,888.6L1470.8,886.6L1471.6,885.0L1473.5,883.2L1478.7,881.3L1482.7,881.2L1491.9,882.1L1499.1,880.0L1503.1,879.4L1505.5,879.6L1509.1,880.7L1511.5,882.3L1513.4,885.0L1514.0,887.8L1513.1,890.2L1511.0,892.6L1508.7,893.9ZM1505.1,894.3L1499.1,894.0L1493.9,891.8L1491.9,891.4L1483.5,893.0L1478.3,892.6L1475.5,891.6L1473.6,890.2L1472.3,888.2L1472.2,886.6L1473.0,885.0L1474.3,883.8L1479.1,882.1L1483.1,882.0L1491.9,883.1L1499.5,880.7L1503.1,880.2L1505.5,880.4L1508.7,881.4L1510.7,882.8L1512.5,885.4L1512.9,887.8L1512.2,889.8L1510.3,891.9L1508.3,893.2ZM1505.1,893.4L1499.5,893.1L1491.5,890.1L1483.5,892.0L1478.7,891.7L1476.7,891.0L1475.0,889.8L1474.1,888.2L1473.9,886.6L1474.4,885.4L1475.8,884.2L1479.9,882.8L1486.7,883.2L1491.9,884.5L1494.7,883.9L1499.9,881.5L1505.5,881.3L1508.2,882.2L1509.8,883.4L1511.3,885.8L1511.7,887.8L1511.2,889.4L1509.9,890.9L1507.5,892.5ZM1505.5,892.2L1502.7,892.6L1499.1,891.9L1493.8,889.0L1492.8,887.4L1499.9,882.5L1503.9,882.2L1506.7,882.7L1509.2,884.6L1510.1,886.6L1510.3,888.2L1508.9,890.2ZM1484.3,890.7L1480.7,890.8L1477.5,889.9L1476.2,888.2L1476.4,885.8L1477.9,884.6L1481.1,883.8L1486.3,884.3L1489.0,885.4L1489.9,886.6L1489.8,887.8L1487.6,889.4ZM1504.7,891.0L1502.3,891.2L1499.9,890.6L1497.2,889.0L1496.6,888.2L1496.7,887.4L1500.3,883.8L1503.5,883.6L1506.3,884.1L1508.1,885.8L1508.5,888.2L1507.1,889.9ZM1482.3,889.4L1480.3,889.1L1479.1,888.3L1478.8,887.0L1479.5,885.9L1482.3,885.3L1484.5,885.8L1485.6,886.6L1485.1,888.2ZM1503.5,889.0L1502.3,888.9L1501.3,888.2L1501.0,887.0L1501.5,886.2L1503.5,886.0L1505.3,887.0L1505.2,888.2ZM1598.9,863.1L1588.5,862.7L1580.9,860.2L1578.5,858.4L1577.0,856.3L1576.4,853.9L1577.0,851.5L1579.3,848.8L1582.9,846.9L1588.5,845.2L1594.9,845.1L1598.9,845.4L1604.9,847.0L1609.6,849.5L1612.1,851.5L1613.3,853.5L1613.6,855.5L1613.1,857.5L1611.8,859.1L1606.5,862.0ZM1600.5,862.3L1593.7,862.6L1588.9,862.1L1582.1,859.9L1579.7,858.3L1578.1,856.3L1577.5,854.3L1578.0,851.9L1579.4,849.9L1581.3,848.5L1588.5,845.9L1597.7,845.9L1605.3,847.9L1609.3,850.2L1611.3,852.0L1612.4,854.3L1612.3,856.7L1610.5,859.1L1607.7,860.9L1605.3,861.7ZM1596.1,861.9L1587.7,861.2L1581.7,858.7L1579.9,857.1L1578.9,855.1L1578.8,853.5L1579.6,851.5L1582.0,849.1L1587.3,846.9L1596.1,846.5L1599.3,846.9L1604.9,848.5L1608.5,850.7L1610.7,853.1L1611.4,855.1L1611.1,856.7L1610.0,858.3L1608.1,859.8L1604.5,861.2ZM1597.7,861.1L1593.3,861.2L1588.9,860.6L1583.3,858.5L1581.5,857.1L1580.5,855.5L1580.2,853.9L1580.8,851.9L1582.7,849.9L1587.3,847.7L1595.7,847.3L1598.9,847.6L1604.1,849.0L1607.5,851.1L1609.1,852.7L1609.9,854.3L1610.1,855.9L1609.4,857.5L1608.1,858.8L1604.5,860.4ZM1595.3,860.3L1588.9,859.7L1583.7,857.5L1582.0,855.1L1582.0,853.5L1582.6,851.9L1584.9,849.9L1587.7,848.6L1596.9,848.2L1604.1,850.1L1606.9,852.0L1608.2,853.5L1608.6,856.3L1607.7,857.7L1606.1,858.9L1603.3,859.8ZM1600.9,859.1L1592.9,859.3L1587.3,858.1L1584.3,856.3L1583.8,855.1L1584.0,853.5L1585.5,851.1L1588.1,849.7L1594.5,849.1L1600.1,849.8L1604.5,851.7L1606.5,853.5L1607.1,855.1L1606.6,856.7L1605.3,858.0ZM1600.5,857.9L1593.7,858.1L1590.0,857.5L1586.5,856.0L1586.0,855.1L1586.2,853.5L1587.1,851.9L1588.9,851.0L1594.9,850.3L1599.0,850.7L1603.3,852.7L1604.9,854.7L1604.8,855.9L1603.7,857.1ZM1596.1,856.3L1592.5,856.1L1590.0,854.7L1589.7,853.9L1590.9,853.0L1596.5,851.9L1599.0,852.7L1600.6,854.3L1600.3,855.1L1599.4,855.5ZM1513.1,936.7L1509.9,936.9L1505.9,936.1L1499.9,933.1L1498.4,931.1L1497.6,928.7L1498.0,926.3L1499.2,924.3L1501.5,922.3L1503.9,921.2L1507.5,920.1L1511.9,919.7L1518.3,920.9L1523.1,923.5L1524.9,925.5L1525.6,927.5L1525.3,929.9L1524.3,931.9L1519.9,935.1ZM1514.3,935.9L1510.7,936.3L1507.1,935.7L1504.3,934.8L1501.1,933.1L1499.6,931.5L1498.7,929.1L1498.8,927.1L1499.7,925.1L1501.5,923.3L1503.9,921.9L1507.1,920.8L1510.7,920.3L1515.9,920.8L1519.1,921.9L1521.9,923.5L1523.8,925.5L1524.6,927.1L1524.6,929.1L1523.8,931.1L1519.9,934.3ZM1512.3,935.5L1509.9,935.6L1506.3,934.8L1501.1,931.9L1500.1,930.3L1499.7,928.3L1500.2,926.3L1501.3,924.7L1503.5,923.1L1506.3,921.8L1512.3,920.9L1517.9,922.2L1522.0,924.7L1523.2,926.3L1523.6,927.9L1523.3,929.9L1522.3,931.5L1518.7,934.0ZM1512.7,934.8L1509.9,934.8L1507.1,934.2L1502.5,931.9L1501.5,930.7L1501.0,928.7L1501.1,927.1L1502.0,925.5L1506.3,922.7L1511.5,921.6L1516.3,922.4L1520.7,924.8L1521.7,925.9L1522.4,927.5L1522.3,929.1L1521.6,930.7L1518.3,933.3ZM1512.7,933.9L1508.3,933.7L1503.7,931.5L1502.7,930.3L1502.3,928.7L1503.2,925.9L1506.7,923.5L1511.1,922.5L1515.5,923.0L1519.5,925.1L1521.0,927.5L1520.3,930.3L1517.5,932.6ZM1513.5,932.7L1509.5,932.9L1505.9,931.5L1504.1,929.5L1503.8,927.9L1504.2,926.7L1506.7,924.6L1510.3,923.5L1514.3,923.8L1517.5,925.1L1519.4,927.1L1519.1,929.5L1517.1,931.6ZM1512.3,931.5L1509.5,931.6L1507.4,930.7L1505.9,928.7L1506.1,926.7L1507.9,925.4L1510.7,924.7L1514.0,925.1L1516.4,926.3L1517.5,927.9L1516.8,929.9L1515.1,931.0ZM1513.9,928.8L1510.0,928.7L1509.4,927.9L1513.5,927.3L1514.3,927.9ZM1560.3,967.0L1557.5,967.4L1554.3,966.9L1551.5,965.7L1549.5,964.1L1548.1,961.8L1547.8,959.4L1548.5,957.4L1550.3,955.3L1553.5,953.6L1557.5,952.9L1562.3,953.9L1564.9,955.8L1566.8,959.0L1566.3,962.6L1564.3,965.1ZM1559.1,966.6L1556.7,966.8L1553.9,966.2L1551.5,964.9L1549.9,963.4L1548.8,961.0L1548.7,959.0L1549.6,957.0L1551.5,955.2L1555.1,953.8L1558.7,953.7L1562.7,954.9L1564.9,957.0L1566.1,959.8L1565.3,963.0L1562.7,965.3ZM1559.5,965.9L1557.1,966.1L1554.7,965.8L1552.7,964.9L1550.8,963.4L1549.8,961.4L1549.5,959.4L1550.0,957.8L1551.4,956.2L1554.3,954.7L1557.9,954.3L1561.5,955.1L1563.9,956.9L1565.2,959.8L1564.8,962.2L1562.7,964.5ZM1559.5,965.1L1555.1,965.1L1551.9,963.3L1550.9,961.8L1550.4,959.8L1550.9,958.2L1551.8,957.0L1554.3,955.5L1557.1,955.0L1560.3,955.6L1562.8,957.0L1564.2,959.4L1564.1,961.4L1562.3,963.8ZM1559.1,964.3L1555.1,964.2L1552.5,962.6L1551.5,959.8L1552.8,957.4L1555.1,956.2L1557.5,955.9L1560.3,956.6L1562.1,957.8L1563.1,959.4L1562.9,961.4L1561.5,963.3ZM1559.5,963.0L1556.3,963.3L1554.1,962.6L1552.9,960.6L1553.4,958.6L1554.7,957.6L1556.7,957.0L1558.7,957.1L1560.3,957.9L1561.4,959.0L1561.7,960.6L1561.0,962.2ZM1557.9,961.4L1555.7,961.0L1555.4,959.8L1556.0,959.0L1557.5,958.5L1559.1,959.1L1559.4,960.6Z" fill="none" stroke="#0000ff" stroke-width="0.9"/>
<rect x="1478.4" y="61.2" width="29.6" height="29.4" fill="#ff0000"/>
<rect x="1478.4" y="96.8" width="29.6" height="29.4" fill="#0000ff"/>
<text x="1518.4" y="83" font-size="25.6">pH 3.3</text>
<text x="1518.4" y="117.7" font-size="25.6">pH 7</text>
<g fill="none" stroke="#ff0000" stroke-width="0.9" transform="rotate(-15 1859.4 71.4)"><ellipse cx="1859.4" cy="71.4" rx="13.4" ry="15.5"/><ellipse cx="1858.9" cy="71.3" rx="10.93" ry="12.65"/><ellipse cx="1858.4" cy="71.2" rx="8.47" ry="9.8"/><ellipse cx="1857.9" cy="71.1" rx="6" ry="6.94"/><ellipse cx="1857.4" cy="71" rx="3.54" ry="4.09"/><ellipse cx="1856.9" cy="70.9" rx="1.07" ry="1.24"/></g>
<g fill="none" stroke="#ff0000" stroke-width="0.9" transform="rotate(40 1897.5 72)"><ellipse cx="1897.5" cy="72" rx="12.5" ry="16.5"/><ellipse cx="1897.9" cy="70.62" rx="10.2" ry="13.46"/><ellipse cx="1898.3" cy="69.24" rx="7.9" ry="10.43"/><ellipse cx="1898.7" cy="67.86" rx="5.6" ry="7.39"/><ellipse cx="1899.1" cy="66.48" rx="3.3" ry="4.36"/><ellipse cx="1899.5" cy="65.1" rx="1" ry="1.32"/></g>
<line x1="1862.9" y1="78.3" x2="1901.9" y2="120" stroke="#000" stroke-width="2.8" stroke-linecap="butt" stroke-dasharray="6.8,5.6"/>
<line x1="1905.8" y1="77.7" x2="1925" y2="119.3" stroke="#000" stroke-width="2.8" stroke-linecap="butt" stroke-dasharray="6.8,5.6"/>
<polygon points="1851,71.7 1835.1,68.4 1835.1,77" fill="#000"/>
<polygon points="1907.8,70.7 1919.7,68.2 1919.7,76.8" fill="#000"/>
<path d="M1853.9,68.7L1859.9,74.7M1853.9,74.7L1859.9,68.7" stroke="#000" stroke-width="2.6"/>
<path d="M1898.2,66.7L1904.2,72.7M1898.2,72.7L1904.2,66.7" stroke="#000" stroke-width="2.6"/>
<text x="1743.5" y="80.7" font-size="27.7">His Cβ</text>
<text x="1921.5" y="91.9" font-size="27.7">His Cβ</text>
<line x1="1968.4" y1="363.7" x2="1980" y2="384" stroke="#000" stroke-width="2.6" stroke-linecap="butt" stroke-dasharray="5,4"/>
<polygon points="1968,362 1955.1,345.5 1964.6,345.5" fill="#000"/>
<polygon points="1910,388 1887,369.5 1889.5,377" fill="#000"/>
<polygon points="1940,391 1949,413.9 1958.1,413.9" fill="#000"/>
<path d="M1965.4,360.7L1971.4,366.7M1965.4,366.7L1971.4,360.7" stroke="#000" stroke-width="2.6"/>
<path d="M1909.6,386.2L1915.6,392.2M1909.6,392.2L1915.6,386.2" stroke="#000" stroke-width="2.6"/>
<path d="M1936.2,386.2L1942.2,392.2M1936.2,392.2L1942.2,386.2" stroke="#000" stroke-width="2.6"/>
<text x="1910.1" y="336.8" font-size="27.7">Tyr Cβ</text>
<text x="1808.4" y="360.8" font-size="27.7">Phe Cβ</text>
<text x="1903.7" y="440.5" font-size="27.7">Phe Cβ</text>
<line x1="1714" y1="501.2" x2="1727.3" y2="506.9" stroke="#000" stroke-width="2.2" stroke-linecap="butt"/>
<polygon points="1708.5,493 1702.6,474.6 1712.1,474.6" fill="#000"/>
<path d="M1706,492.5L1712,498.5M1706,498.5L1712,492.5" stroke="#000" stroke-width="2.6"/>
<text x="1656.9" y="467.1" font-size="27.7">Gly 1 Cα</text>
<polygon points="1686,550 1670.3,530.4 1674.1,541.8" fill="#000"/>
<path d="M1686.3,550.2L1692.3,556.2M1686.3,556.2L1692.3,550.2" stroke="#000" stroke-width="2.6"/>
<path d="M1691,550.2L1697,556.2M1691,556.2L1697,550.2" stroke="#000" stroke-width="2.6"/>
<path d="M1695.8,550.2L1701.8,556.2M1695.8,556.2L1701.8,550.2" stroke="#000" stroke-width="2.6"/>
<text x="1581.7" y="538.8" font-size="27.7">Gly Cα</text>
<polygon points="1590.5,773 1583,748.7 1592.5,748.7" fill="#000"/>
<path d="M1587.6,771.5L1593.6,777.5M1587.6,777.5L1593.6,771.5" stroke="#000" stroke-width="2.6"/>
<text x="1554" y="740.8" font-size="27.7">Ala Cα</text>
<line x1="1469.1" y1="852" x2="1505" y2="889.2" stroke="#000" stroke-width="2.8" stroke-linecap="butt" stroke-dasharray="6.8,5.6"/>
<polygon points="1471,850 1484.3,836.8 1495.7,836.8" fill="#000"/>
<path d="M1466.1,849L1472.1,855M1466.1,855L1472.1,849" stroke="#000" stroke-width="2.6"/>
<text x="1472.4" y="831.9" font-size="27.7">His Cα</text>
<polygon points="1590.5,853 1598.2,840.6 1611.5,840.6" fill="#000"/>
<path d="M1585.7,851.3L1591.7,857.3M1585.7,857.3L1591.7,851.3" stroke="#000" stroke-width="2.6"/>
<text x="1598.8" y="834.9" font-size="27.7">Leu Cα</text>
<line x1="1512.8" y1="928.3" x2="1557.4" y2="960.1" stroke="#000" stroke-width="2.8" stroke-linecap="butt" stroke-dasharray="6.8,5.6"/>
<polygon points="1514,927 1537.4,904.4 1537.4,915.8" fill="#000"/>
<path d="M1509.8,925.3L1515.8,931.3M1509.8,931.3L1515.8,925.3" stroke="#000" stroke-width="2.6"/>
<text x="1542.6" y="920.4" font-size="27.7">Tyr Cα</text>
<path d="M639.9,1249.6L639.5,1249.7L638.7,1247.6L637.8,1240.8L637.0,1202.0L638.1,1171.6L638.7,1166.4L639.9,1164.1L640.7,1165.0L641.2,1166.8L642.5,1195.6L642.2,1222.4L641.6,1239.2L640.8,1246.8ZM639.9,1225.2L638.8,1218.8L638.5,1209.2L638.6,1196.4L639.2,1191.6L639.1,1188.8L639.5,1187.6L639.9,1187.7L640.3,1189.0L641.1,1195.6L640.6,1204.8L640.7,1218.4ZM507.8,1325.3L506.6,1325.1L501.4,1321.2L499.4,1320.8L495.8,1321.5L494.2,1320.6L493.0,1319.1L491.1,1314.8L489.5,1308.4L488.2,1298.8L488.0,1293.2L488.7,1280.0L490.0,1272.4L492.2,1265.8L494.2,1263.4L499.4,1262.1L501.8,1259.8L504.4,1256.0L506.2,1254.8L507.8,1254.4L510.2,1256.0L512.8,1261.2L515.3,1273.6L516.3,1290.4L515.5,1304.4L513.6,1314.4L510.9,1322.4L509.4,1324.3ZM508.2,1322.9L505.8,1322.3L501.4,1319.2L495.8,1319.0L493.8,1317.5L491.7,1313.2L489.7,1305.2L488.6,1293.2L489.4,1280.4L490.7,1273.6L492.8,1267.2L494.6,1265.3L498.2,1265.3L499.8,1264.7L504.6,1257.9L505.8,1256.9L507.4,1256.6L509.4,1257.3L511.3,1260.0L513.5,1267.2L514.8,1274.4L515.7,1290.0L514.9,1304.4L513.1,1313.6L510.6,1320.3L509.4,1322.1ZM508.2,1320.5L505.8,1320.2L501.4,1316.9L495.8,1315.8L493.3,1313.6L490.4,1304.4L489.3,1292.8L490.1,1281.6L490.9,1276.4L493.5,1269.2L495.0,1267.6L499.0,1267.3L500.2,1266.8L501.8,1265.1L504.6,1260.2L505.8,1259.0L507.0,1258.7L508.6,1259.2L510.3,1260.8L512.8,1267.6L514.1,1274.0L515.1,1287.6L514.8,1297.6L513.9,1306.4L511.8,1314.8L509.9,1318.8ZM507.8,1318.1L505.8,1317.6L500.6,1312.9L495.8,1312.6L493.8,1311.3L491.2,1303.6L490.0,1292.4L491.7,1277.2L493.4,1273.0L495.8,1270.0L499.4,1269.9L500.6,1269.2L505.0,1262.3L506.2,1261.3L507.4,1261.1L509.0,1261.8L510.1,1263.2L511.8,1267.6L513.1,1272.8L514.3,1283.6L514.5,1291.6L513.1,1306.8L510.9,1314.0L509.0,1317.1ZM507.8,1314.8L506.2,1314.7L504.6,1313.6L501.0,1308.5L497.0,1309.4L495.4,1308.9L494.2,1307.7L492.1,1302.4L490.9,1292.8L492.6,1278.8L493.4,1276.1L495.4,1274.1L499.0,1274.2L500.6,1273.3L505.7,1264.4L507.4,1263.3L509.0,1264.3L511.2,1268.8L513.2,1279.2L513.7,1287.2L513.4,1297.6L512.5,1305.6L509.8,1313.0ZM507.4,1311.7L506.2,1311.6L505.0,1310.6L502.7,1306.4L501.4,1304.9L500.2,1304.6L497.0,1305.1L495.4,1304.4L494.2,1303.2L493.0,1300.0L492.0,1292.4L493.7,1281.6L494.6,1278.8L495.8,1278.0L498.6,1277.8L500.6,1276.8L502.7,1273.6L504.6,1269.6L506.6,1267.2L507.8,1266.6L509.6,1268.4L511.4,1274.0L512.4,1279.6L512.9,1287.6L512.6,1297.6L511.5,1305.2L510.2,1308.7ZM507.4,1308.0L506.2,1307.7L504.6,1306.1L501.8,1300.7L500.6,1299.4L498.6,1298.7L495.8,1299.5L495.0,1299.1L494.6,1297.6L495.1,1295.2L493.7,1292.4L495.8,1284.1L496.6,1283.6L499.4,1283.6L501.0,1282.5L505.0,1272.6L506.2,1271.2L507.4,1270.8L508.6,1271.6L510.2,1274.4L511.4,1279.6L512.0,1287.6L511.4,1299.5L509.8,1305.8L508.6,1307.5ZM507.4,1303.7L506.2,1303.5L505.4,1302.8L503.4,1297.6L503.0,1285.6L504.2,1279.6L506.2,1275.1L507.4,1274.4L508.2,1275.2L508.7,1277.6L510.1,1280.8L510.8,1288.0L510.4,1297.6L508.3,1302.8ZM507.0,1297.3L506.2,1296.9L505.6,1295.6L505.8,1291.6L505.3,1288.0L505.7,1282.8L506.2,1281.7L507.0,1281.2L508.2,1281.9L508.8,1283.2L509.0,1288.0L508.6,1295.3L507.9,1296.8ZM508.7,1690.1L507.1,1690.0L505.5,1689.1L502.7,1685.5L501.5,1683.2L499.0,1674.0L498.1,1662.4L498.5,1654.8L500.3,1646.4L504.7,1638.1L506.7,1636.7L509.5,1636.0L510.7,1636.4L511.9,1637.7L514.8,1642.0L516.0,1644.8L517.3,1649.2L518.5,1656.4L518.8,1664.4L517.3,1677.6L516.1,1681.6L512.1,1688.0L510.7,1689.2ZM509.5,1687.3L507.9,1687.6L506.7,1687.1L503.1,1683.2L500.1,1674.0L499.2,1662.8L499.5,1654.8L501.2,1647.6L504.3,1641.8L506.7,1639.5L508.7,1638.8L509.9,1639.1L511.5,1640.3L514.4,1644.4L516.1,1649.2L517.7,1660.0L517.7,1665.6L515.9,1678.8L513.9,1682.8L511.1,1686.3ZM509.5,1683.7L507.5,1683.7L505.5,1682.3L501.8,1675.6L501.2,1673.2L500.4,1662.4L500.8,1654.8L502.4,1648.8L505.3,1643.6L507.1,1642.4L508.7,1642.1L510.3,1642.5L511.9,1643.7L514.3,1647.9L516.6,1660.4L515.8,1672.0L514.7,1677.6L512.7,1681.4ZM509.5,1680.1L507.9,1680.1L506.3,1679.3L503.1,1674.5L501.9,1667.6L501.8,1662.0L502.4,1655.2L503.9,1649.9L507.1,1645.9L509.1,1645.1L510.9,1646.0L513.4,1650.8L515.3,1661.6L514.5,1671.2L513.1,1676.6L511.9,1678.8ZM509.1,1676.5L507.1,1676.4L505.6,1674.8L504.6,1672.4L503.4,1666.8L503.5,1661.2L504.4,1654.8L506.3,1650.6L508.3,1649.3L509.9,1649.9L512.0,1652.4L512.5,1656.8L513.6,1660.8L513.4,1665.6L512.5,1670.8L510.4,1675.2ZM508.7,1670.2L507.9,1670.3L506.7,1669.3L505.7,1666.8L506.7,1656.9L507.1,1655.8L507.9,1655.2L509.1,1656.2L511.0,1660.4L510.0,1663.2L510.3,1666.6ZM494.6,1760.4L493.0,1760.1L490.6,1758.0L487.8,1754.0L485.5,1745.2L484.6,1734.0L484.8,1725.6L486.4,1716.8L489.4,1709.6L492.6,1706.6L494.2,1706.1L495.8,1706.6L497.8,1708.4L500.6,1713.4L502.7,1721.2L503.6,1730.4L502.8,1743.2L501.3,1750.0L499.2,1756.0L496.2,1759.5ZM495.4,1757.3L493.8,1757.5L491.8,1756.5L490.2,1755.0L489.0,1752.9L486.4,1744.8L485.5,1734.4L485.8,1726.4L487.3,1717.6L490.6,1711.0L493.4,1709.4L495.0,1709.1L497.4,1710.4L500.0,1715.2L501.6,1721.2L502.6,1730.0L501.8,1742.8L500.5,1748.4L498.1,1754.8ZM494.6,1754.8L493.4,1754.6L491.9,1753.6L489.4,1749.9L487.6,1744.8L486.6,1739.2L486.8,1727.6L488.0,1719.6L491.8,1713.3L494.2,1712.3L496.6,1713.2L498.5,1715.6L500.4,1722.0L501.4,1729.6L501.2,1738.0L500.6,1742.8L499.5,1747.2L496.6,1753.5ZM495.0,1751.6L493.4,1751.3L491.1,1748.4L488.6,1742.9L487.8,1738.8L488.2,1726.8L489.3,1720.8L492.2,1716.6L494.2,1715.4L495.4,1715.7L496.6,1716.9L499.0,1722.0L500.2,1734.8L499.0,1743.6L497.2,1748.8ZM494.6,1746.4L493.4,1746.5L491.0,1743.3L489.8,1740.4L489.2,1737.2L490.0,1724.8L491.8,1720.9L494.2,1719.1L495.8,1720.0L497.6,1722.8L498.8,1734.0L498.3,1739.2L497.4,1742.4ZM494.6,1738.9L492.6,1738.4L491.5,1736.8L492.0,1727.6L493.0,1726.4L494.2,1726.7L495.0,1727.6L496.2,1733.6L495.2,1738.0ZM515.1,1774.8L513.5,1774.7L512.3,1773.6L511.1,1769.3L509.3,1750.4L509.2,1741.6L509.8,1722.8L510.8,1714.0L512.6,1706.8L513.5,1705.1L514.7,1704.4L516.7,1706.8L518.3,1711.2L519.7,1724.8L520.4,1738.0L519.0,1762.8L517.1,1772.0L516.3,1774.0ZM514.3,1766.2L513.3,1765.2L511.9,1760.0L511.7,1755.2L510.7,1750.0L510.5,1738.4L511.7,1722.0L513.4,1716.0L515.1,1714.3L515.9,1714.7L516.3,1715.6L517.6,1722.4L518.6,1730.0L519.0,1738.8L517.4,1761.6L516.3,1764.0ZM515.1,1753.2L514.3,1752.9L513.5,1751.6L512.9,1746.8L513.3,1744.0L512.8,1738.8L513.3,1729.6L513.9,1727.6L514.7,1727.1L515.5,1727.9L516.1,1730.0L516.1,1734.8L516.7,1738.4L515.6,1743.2L516.4,1747.6L515.7,1750.0L515.7,1752.4ZM528.1,1734.0L526.1,1733.8L524.5,1731.9L523.1,1728.0L522.5,1723.6L523.0,1718.4L523.8,1715.6L525.3,1713.1L527.3,1711.9L529.3,1712.8L531.2,1715.6L532.0,1718.0L532.4,1721.6L532.3,1725.6L531.5,1729.2L530.0,1732.4ZM528.1,1732.2L526.5,1732.2L525.2,1730.8L524.1,1727.6L523.4,1723.6L524.5,1716.9L525.7,1714.9L527.3,1713.9L528.9,1714.4L530.3,1716.0L531.5,1721.2L530.9,1728.0L529.7,1730.6ZM528.1,1729.6L526.9,1729.7L525.8,1728.4L524.4,1723.2L525.3,1718.5L526.5,1716.7L527.7,1716.2L529.3,1717.3L530.4,1721.6L529.8,1727.2ZM527.7,1725.7L526.8,1725.2L526.1,1723.2L526.4,1721.2L527.3,1720.4L528.2,1720.8L528.8,1722.4L528.5,1724.5ZM560.2,1843.9L558.2,1843.8L556.4,1842.2L554.0,1837.4L552.0,1831.0L550.4,1823.0L549.7,1816.2L549.1,1800.6L549.6,1787.8L551.7,1773.4L555.0,1762.7L557.0,1760.2L559.4,1759.5L561.8,1760.1L563.8,1762.6L567.2,1773.4L568.9,1783.4L569.8,1801.8L568.8,1821.0L566.5,1832.2L563.3,1841.0L561.8,1842.9ZM560.6,1841.5L558.6,1841.6L556.2,1838.9L552.9,1830.6L551.0,1821.8L549.9,1809.4L549.7,1801.4L550.3,1787.8L552.4,1774.2L555.6,1764.6L557.8,1762.6L559.8,1762.0L561.8,1762.8L563.2,1764.6L564.9,1768.6L567.0,1776.2L568.2,1784.2L569.2,1802.2L567.8,1822.6L564.7,1835.0L562.2,1839.8ZM560.2,1838.6L558.6,1838.3L556.8,1836.6L553.4,1829.0L551.8,1821.8L550.7,1810.2L550.4,1801.8L551.0,1788.2L552.9,1775.8L556.6,1766.0L557.8,1764.8L559.4,1764.3L561.4,1765.2L563.4,1768.1L566.5,1777.4L568.0,1790.2L568.5,1803.0L566.9,1822.6L563.8,1834.2L561.8,1837.3ZM561.4,1834.2L559.8,1834.4L557.8,1833.6L556.0,1831.8L554.6,1829.3L552.9,1822.6L551.3,1808.2L551.2,1795.0L553.4,1778.2L555.0,1773.0L558.2,1767.4L559.0,1766.9L560.6,1767.5L562.8,1770.2L565.5,1777.4L567.6,1797.0L567.7,1804.6L565.9,1822.2L563.2,1831.8ZM560.6,1831.9L559.0,1831.7L557.4,1830.7L555.8,1828.8L555.0,1827.0L553.9,1822.6L552.4,1812.2L551.9,1802.6L551.9,1795.4L552.6,1788.6L554.6,1778.2L556.3,1773.4L557.8,1771.6L559.4,1770.8L560.6,1771.2L561.8,1772.4L564.6,1778.2L566.8,1796.6L566.5,1809.4L564.7,1822.6L562.2,1830.3ZM560.2,1827.5L558.6,1827.7L557.3,1827.0L555.4,1823.1L553.4,1811.8L552.8,1805.8L552.9,1795.0L554.2,1785.0L556.5,1777.4L557.4,1776.0L559.0,1775.3L561.0,1775.9L563.1,1778.6L565.1,1788.2L565.9,1795.8L565.6,1809.0L564.5,1816.6L562.8,1824.2L561.8,1826.0ZM559.8,1823.9L558.2,1823.4L556.7,1821.4L555.2,1815.0L553.8,1805.4L554.0,1794.2L555.2,1786.2L557.3,1780.2L559.0,1778.8L560.6,1779.5L561.8,1781.4L563.9,1788.2L564.8,1794.2L564.4,1808.6L563.7,1814.2L561.8,1821.6L560.7,1823.4ZM559.8,1817.4L558.2,1816.4L557.2,1815.0L555.2,1805.4L555.8,1801.8L555.3,1798.2L555.7,1793.4L557.6,1785.8L558.6,1784.0L559.4,1783.6L560.2,1784.2L562.2,1788.4L563.5,1793.4L562.9,1809.0L561.9,1814.2L560.6,1816.8ZM560.2,1809.2L559.4,1809.4L558.6,1808.9L557.6,1805.4L558.5,1802.2L557.8,1799.0L558.2,1796.1L558.8,1794.6L559.8,1793.8L560.9,1795.4L561.5,1804.2L560.8,1808.2ZM152.6,1962.5L151.8,1962.6L151.0,1961.8L149.1,1957.2L147.5,1948.8L142.4,1930.8L141.3,1920.4L142.0,1910.0L143.9,1902.4L145.6,1898.8L147.4,1896.2L149.0,1894.9L151.0,1894.3L153.0,1894.7L154.6,1895.9L156.3,1898.0L158.1,1901.6L160.1,1908.0L161.1,1918.0L160.8,1925.6L159.9,1932.4L156.3,1948.0L155.8,1954.4L155.0,1958.1ZM152.6,1955.7L151.8,1955.3L149.7,1951.6L144.3,1936.4L142.7,1930.0L141.8,1922.4L142.3,1911.2L144.1,1903.6L147.3,1897.6L149.4,1895.8L151.0,1895.4L153.0,1895.9L154.6,1897.1L157.6,1902.0L159.7,1908.0L160.7,1918.0L160.4,1925.6L159.1,1934.0L154.7,1948.0L154.1,1953.6ZM151.8,1948.7L150.6,1948.4L149.8,1947.2L144.8,1936.0L143.1,1929.2L142.2,1920.8L142.8,1911.2L144.5,1904.0L147.8,1898.4L149.4,1897.1L151.0,1896.7L153.0,1897.2L154.6,1898.3L157.5,1903.2L159.3,1908.8L160.2,1918.4L159.8,1926.4L158.1,1935.6L155.0,1943.5ZM152.2,1944.1L151.0,1944.3L149.4,1943.3L146.0,1937.2L143.7,1929.6L142.7,1921.6L143.2,1912.0L144.8,1905.2L146.0,1902.4L147.8,1899.8L149.4,1898.4L151.0,1898.0L152.6,1898.3L154.2,1899.3L157.1,1903.6L158.8,1908.8L159.7,1918.4L159.2,1926.4L157.6,1934.8L154.4,1941.6ZM151.8,1941.6L150.6,1941.7L149.4,1940.8L146.3,1936.0L144.2,1929.2L143.2,1921.2L143.6,1912.8L145.2,1906.0L147.8,1901.2L149.4,1899.8L151.0,1899.3L152.6,1899.6L154.2,1900.7L156.7,1904.4L158.3,1909.6L159.2,1918.8L158.6,1926.4L156.8,1934.8L155.0,1938.4ZM151.4,1939.3L150.2,1939.1L148.6,1938.1L146.8,1935.2L144.5,1927.2L143.8,1920.8L144.3,1912.8L145.6,1906.8L148.2,1902.3L149.8,1901.1L151.4,1900.8L154.2,1902.1L156.4,1905.6L157.7,1910.0L158.6,1919.6L157.9,1926.8L156.3,1934.0L154.6,1937.2ZM151.8,1937.2L149.4,1937.0L147.4,1934.4L145.1,1927.2L144.4,1921.2L144.8,1913.6L146.0,1908.0L148.6,1903.6L149.8,1902.6L151.4,1902.2L153.0,1902.7L154.2,1903.7L156.3,1907.6L157.7,1914.0L158.0,1919.6L157.2,1926.8L155.9,1932.4L154.2,1935.8ZM152.2,1935.3L149.8,1935.3L148.0,1933.2L145.9,1927.2L145.0,1921.2L145.5,1914.0L146.4,1909.6L148.6,1905.4L151.0,1903.7L152.2,1903.9L153.4,1904.8L155.7,1908.4L156.9,1914.0L157.3,1918.8L157.2,1922.4L155.6,1930.4L154.2,1933.7ZM152.6,1933.2L150.2,1933.3L148.6,1931.7L146.9,1927.6L145.7,1921.6L146.2,1914.8L146.9,1910.8L149.0,1907.1L151.0,1905.8L153.0,1906.6L154.7,1908.8L156.5,1917.6L156.5,1921.6L155.4,1927.8L154.0,1931.6ZM151.8,1930.9L150.2,1930.7L148.5,1928.8L146.6,1921.2L147.7,1911.6L149.4,1909.1L151.4,1908.0L153.0,1908.7L154.2,1910.6L155.4,1915.6L155.7,1919.6L154.4,1927.6L153.4,1929.5ZM151.8,1928.1L150.6,1928.2L149.4,1927.3L147.6,1921.2L148.6,1912.8L149.8,1911.3L151.4,1910.6L152.6,1911.0L153.6,1912.8L154.7,1920.0L153.5,1926.0ZM151.0,1924.1L149.7,1922.8L149.3,1920.4L149.8,1916.0L150.3,1915.2L151.4,1914.9L152.2,1915.3L152.8,1916.4L152.9,1920.4L152.2,1923.1Z" fill="none" stroke="#ff0000" stroke-width="0.8"/>
<path d="M640.7,1255.5L638.7,1255.1L637.1,1253.5L635.1,1249.7L633.3,1244.2L630.9,1228.6L630.1,1212.6L630.6,1196.6L632.5,1182.2L635.9,1170.3L637.5,1167.7L639.5,1166.7L641.9,1167.8L643.7,1170.2L645.3,1174.2L647.3,1182.2L649.3,1198.6L649.6,1211.4L649.0,1227.0L648.1,1235.8L646.8,1242.6L643.9,1251.9L642.3,1254.3ZM641.1,1253.1L639.1,1253.1L637.1,1251.2L635.6,1248.6L633.8,1243.4L631.4,1228.6L630.6,1212.6L631.2,1196.6L633.0,1182.6L636.3,1172.0L637.9,1169.8L639.5,1169.3L641.9,1170.1L643.5,1172.2L646.9,1183.0L648.7,1198.6L649.2,1211.4L648.6,1226.2L647.5,1236.2L645.1,1246.2L642.9,1251.4ZM641.1,1250.7L639.1,1250.7L637.5,1249.4L635.4,1245.4L634.3,1242.2L631.9,1228.2L631.1,1212.6L631.7,1196.6L633.5,1183.4L634.9,1178.6L637.1,1173.2L638.3,1171.9L639.9,1171.5L641.5,1172.0L643.1,1174.0L646.3,1183.4L648.2,1198.6L648.6,1211.4L648.1,1226.2L646.9,1235.8L644.5,1245.4L642.3,1249.5ZM641.1,1247.8L639.5,1248.1L637.9,1246.9L636.0,1244.2L634.8,1241.0L632.5,1228.2L631.7,1213.0L632.3,1196.6L634.0,1184.6L636.3,1177.9L638.3,1174.3L639.9,1173.5L641.1,1174.0L642.5,1175.8L645.8,1184.2L647.6,1198.6L648.1,1211.8L647.5,1226.2L646.3,1235.4L643.7,1244.6L642.7,1246.4ZM640.7,1245.4L638.7,1245.0L636.8,1243.0L634.2,1235.0L633.0,1227.4L632.2,1213.0L632.9,1197.4L634.6,1185.4L637.1,1179.0L638.7,1177.2L639.9,1176.6L641.1,1177.1L643.5,1180.6L645.2,1185.4L646.9,1198.6L647.5,1212.2L646.8,1226.2L645.7,1234.6L642.7,1243.7L641.9,1244.8ZM640.3,1242.6L639.1,1242.3L637.7,1241.0L635.0,1234.6L633.8,1227.4L632.9,1213.8L633.1,1203.4L634.4,1191.4L635.9,1184.7L637.9,1180.6L639.5,1179.5L641.1,1180.1L642.7,1181.7L644.6,1187.0L646.5,1201.4L646.9,1212.2L646.2,1225.8L644.9,1233.8L642.7,1239.8L641.5,1241.7ZM639.9,1239.0L638.7,1238.3L635.8,1233.8L634.6,1227.4L633.6,1215.0L633.8,1203.4L635.1,1192.2L636.9,1185.8L638.7,1182.9L639.9,1182.3L641.1,1182.8L642.3,1184.3L644.3,1190.4L645.8,1202.2L646.1,1213.4L645.4,1225.4L644.2,1232.6L641.9,1237.6L641.1,1238.6ZM640.3,1235.6L638.3,1234.9L636.9,1232.6L635.6,1227.0L634.4,1215.8L634.7,1203.4L635.5,1195.8L637.5,1188.8L638.7,1186.7L639.9,1185.8L641.1,1186.6L642.3,1188.5L643.7,1193.0L645.1,1202.6L645.3,1215.4L644.5,1225.0L643.3,1230.6L641.9,1234.0ZM640.3,1231.5L639.5,1231.7L638.7,1231.3L637.0,1227.4L635.3,1216.2L635.7,1203.4L636.6,1196.6L638.3,1191.4L639.1,1190.4L640.3,1189.9L641.1,1190.4L642.1,1192.2L643.5,1198.2L644.2,1203.0L644.4,1215.8L643.5,1223.8L642.4,1228.2L641.6,1230.2ZM640.3,1226.3L639.5,1226.4L638.7,1225.6L637.5,1221.4L636.8,1216.6L636.6,1208.6L637.9,1198.3L638.7,1196.8L639.9,1195.9L641.5,1197.2L642.5,1199.8L643.2,1208.2L642.8,1220.2L641.9,1223.3ZM640.7,1215.2L640.3,1215.3L639.5,1214.2L638.3,1210.6L638.7,1206.9L639.5,1205.5L640.3,1205.1L641.1,1206.6L641.5,1209.0L641.2,1213.8ZM580.0,1318.0L577.2,1318.2L575.2,1317.3L570.9,1311.2L568.1,1303.2L566.3,1292.8L566.0,1288.0L566.1,1275.6L567.9,1263.6L571.2,1253.9L574.8,1249.1L577.6,1247.8L579.6,1248.3L582.8,1250.7L586.9,1258.0L588.7,1264.8L589.8,1271.2L590.5,1280.8L589.9,1295.2L587.7,1305.2L586.2,1309.6L584.4,1313.0L582.0,1316.6ZM580.0,1316.5L577.6,1316.7L575.6,1315.9L572.7,1312.4L570.5,1308.4L568.5,1302.0L566.9,1292.8L566.5,1287.6L566.7,1275.6L568.6,1263.6L571.9,1254.4L575.2,1250.5L577.6,1249.5L580.0,1250.2L582.0,1251.5L584.6,1255.2L586.2,1258.4L588.1,1264.8L589.3,1271.6L589.9,1280.0L589.4,1293.6L588.2,1300.8L584.9,1310.4L581.6,1315.2ZM579.6,1314.8L577.6,1315.0L575.6,1314.0L573.2,1311.2L570.7,1306.8L569.3,1302.4L567.4,1292.4L566.9,1283.2L567.4,1274.8L569.7,1262.4L572.8,1254.8L575.6,1252.0L578.0,1251.2L580.0,1251.7L581.6,1252.9L585.6,1259.2L587.4,1265.2L588.6,1271.6L589.4,1280.8L588.9,1293.2L587.5,1300.8L584.1,1310.0L581.2,1313.6ZM579.2,1312.9L577.2,1312.9L575.6,1312.0L572.8,1308.6L571.4,1306.0L569.9,1301.6L568.1,1292.4L567.5,1282.4L568.9,1269.2L570.5,1262.4L573.9,1255.2L576.0,1253.6L578.4,1252.9L580.0,1253.3L582.0,1255.3L585.4,1261.2L588.2,1272.8L588.8,1281.6L588.2,1293.2L586.9,1300.4L585.0,1306.0L583.3,1309.2L581.6,1311.2ZM579.2,1310.8L577.6,1311.1L576.0,1310.3L573.2,1307.3L571.7,1304.4L568.7,1292.0L568.2,1282.8L569.4,1270.0L571.0,1263.2L574.4,1256.7L576.0,1255.4L578.0,1254.9L579.6,1255.2L581.2,1256.4L584.8,1262.1L587.4,1272.4L588.1,1280.4L587.6,1292.8L586.3,1299.6L583.5,1306.8L581.3,1309.6ZM579.2,1308.9L577.2,1309.0L575.2,1307.5L573.5,1305.6L572.1,1302.8L569.6,1292.4L568.9,1282.4L570.2,1270.0L571.8,1263.6L573.5,1260.4L575.2,1258.3L576.4,1257.6L578.4,1257.2L580.8,1258.2L584.4,1263.9L586.7,1272.4L587.4,1280.4L587.0,1290.4L585.7,1298.4L582.8,1305.8ZM579.2,1306.5L578.0,1306.8L576.4,1306.2L574.4,1304.6L573.3,1302.8L570.8,1294.8L569.8,1286.0L569.7,1281.2L570.4,1274.4L572.5,1264.8L574.8,1260.8L576.0,1259.9L577.6,1259.4L579.2,1259.6L580.4,1260.3L583.7,1265.2L585.8,1272.0L586.6,1279.6L586.3,1290.0L584.9,1297.6L582.4,1303.8L581.2,1305.2ZM579.6,1303.7L576.4,1303.8L574.4,1302.0L571.7,1294.8L570.7,1286.8L570.6,1280.8L572.0,1270.4L574.4,1264.0L575.6,1262.3L577.2,1261.5L580.0,1262.7L583.2,1267.1L585.0,1272.8L585.7,1279.6L585.4,1290.0L584.0,1296.8L581.7,1302.0ZM578.4,1301.6L577.2,1301.6L576.0,1300.8L573.2,1295.9L571.7,1287.6L571.4,1282.8L572.1,1275.6L573.3,1270.4L575.6,1265.4L576.8,1264.2L578.0,1263.9L579.2,1264.3L580.4,1265.4L582.9,1270.0L584.3,1274.8L584.7,1280.4L584.3,1290.0L583.3,1294.8L581.2,1299.4L580.0,1300.9ZM578.8,1298.6L578.0,1298.8L576.8,1298.2L574.5,1295.2L572.8,1287.6L572.5,1282.8L573.1,1276.0L574.4,1271.2L576.4,1267.9L578.4,1266.6L579.6,1267.4L581.4,1270.4L583.2,1275.6L583.5,1279.6L583.5,1286.8L582.6,1292.4L581.4,1295.6ZM578.0,1295.2L576.8,1294.5L574.6,1289.2L573.8,1282.4L574.7,1274.8L576.8,1271.2L578.0,1270.4L579.1,1271.2L579.7,1273.2L581.6,1276.0L582.3,1279.6L582.1,1286.4L581.2,1291.9L580.0,1294.3ZM578.8,1286.5L578.0,1286.7L577.2,1286.1L576.1,1282.4L576.4,1278.4L577.2,1277.2L578.0,1277.0L579.6,1277.3L580.6,1279.2L579.7,1282.8L579.6,1285.2ZM520.6,1692.3L518.6,1692.1L515.8,1690.8L512.3,1686.7L508.9,1677.5L507.8,1668.3L508.4,1658.3L510.0,1651.9L511.5,1647.9L515.0,1642.6L517.4,1641.0L520.2,1640.4L522.6,1640.9L524.6,1642.1L527.0,1644.5L528.8,1647.5L530.3,1651.1L531.6,1656.3L532.7,1665.5L531.8,1676.3L529.5,1683.5L527.7,1687.1L525.8,1689.6L523.4,1691.3ZM521.8,1690.8L519.4,1691.0L517.4,1690.4L515.4,1689.1L513.3,1686.7L509.7,1678.3L508.4,1669.1L508.8,1659.5L510.9,1651.1L512.8,1647.1L515.0,1643.9L517.4,1642.2L519.8,1641.6L522.2,1641.9L524.2,1643.0L526.4,1645.1L528.4,1648.3L529.9,1651.9L531.2,1657.1L532.2,1665.5L531.5,1674.3L529.5,1681.5L526.2,1687.9L524.2,1689.8ZM521.8,1689.6L519.4,1689.8L517.4,1689.2L515.0,1687.4L513.5,1685.5L510.4,1678.3L509.0,1668.7L509.5,1659.5L511.5,1651.5L515.6,1644.7L517.4,1643.4L519.8,1642.8L522.2,1643.1L524.2,1644.2L527.7,1648.7L529.1,1651.9L530.5,1657.1L531.6,1665.5L531.0,1673.5L529.3,1680.3L525.8,1686.9L523.8,1688.8ZM521.8,1688.3L519.8,1688.6L517.8,1688.1L515.4,1686.3L513.9,1684.3L511.1,1678.3L509.6,1668.7L510.0,1660.3L511.9,1652.7L513.6,1649.1L515.8,1646.0L517.4,1644.6L519.4,1644.0L521.8,1644.3L523.8,1645.3L527.2,1649.5L528.5,1652.3L530.0,1657.9L531.0,1665.5L530.4,1673.1L528.9,1679.5L525.3,1685.9L523.8,1687.4ZM521.0,1687.1L519.0,1687.1L517.0,1686.2L513.5,1681.9L511.4,1676.7L510.2,1667.9L510.7,1660.3L512.5,1653.1L516.2,1647.2L518.2,1645.7L519.8,1645.3L523.8,1646.7L525.4,1648.3L527.1,1651.1L529.5,1659.1L530.3,1665.9L529.6,1673.1L527.9,1679.9L524.3,1685.5L523.0,1686.5ZM521.4,1685.5L519.0,1685.5L517.4,1684.9L514.2,1681.1L512.3,1676.7L510.9,1667.9L511.5,1660.3L513.3,1653.5L516.2,1648.8L517.8,1647.5L519.8,1646.9L523.4,1647.9L526.5,1651.9L528.8,1659.5L529.6,1665.5L528.9,1672.7L527.3,1679.1L524.2,1684.0L523.0,1685.0ZM521.0,1683.9L517.4,1683.1L514.2,1679.1L512.6,1674.3L511.7,1667.1L512.4,1659.5L514.2,1653.5L517.0,1649.7L518.6,1648.8L520.6,1648.5L523.4,1649.5L525.9,1653.1L528.1,1659.9L528.8,1665.5L528.1,1672.3L526.2,1679.1L523.4,1682.9ZM521.4,1681.9L519.4,1682.0L517.8,1681.4L515.3,1678.7L513.5,1673.9L512.5,1667.5L513.3,1659.5L514.8,1654.7L517.4,1651.3L520.6,1650.1L522.6,1650.8L525.4,1654.4L527.3,1660.7L527.9,1665.1L527.2,1671.9L525.3,1678.3L523.8,1680.4ZM521.0,1680.0L518.2,1679.5L516.2,1677.4L514.4,1673.5L513.4,1667.5L514.2,1659.9L515.4,1656.3L517.4,1653.6L520.6,1652.5L522.6,1653.3L524.6,1655.5L526.6,1662.3L526.9,1665.1L526.4,1671.5L524.4,1677.1L523.0,1679.0ZM520.2,1677.9L518.2,1677.1L516.2,1674.7L514.5,1667.5L515.2,1661.1L516.2,1658.1L517.9,1655.9L520.6,1654.9L522.6,1655.7L523.9,1657.5L525.6,1663.1L525.8,1667.5L525.2,1671.5L523.2,1675.9L521.8,1677.4ZM521.0,1675.2L519.4,1675.2L517.8,1673.8L515.8,1667.5L516.8,1660.7L518.6,1658.2L520.2,1657.4L521.4,1657.7L522.6,1659.1L524.0,1662.7L524.4,1665.1L524.1,1670.3ZM520.2,1670.8L519.4,1670.9L518.9,1670.3L517.8,1665.9L518.5,1662.3L519.4,1661.4L520.2,1661.2L521.8,1662.7L522.5,1665.9L521.8,1668.7ZM500.1,1752.0L496.5,1751.1L493.7,1748.0L490.8,1740.4L490.2,1735.2L490.4,1728.4L491.9,1722.0L495.3,1715.9L497.2,1714.4L499.3,1714.0L502.5,1715.0L505.4,1718.0L507.6,1724.0L508.9,1731.6L508.5,1738.8L507.0,1744.4L503.7,1750.0L502.1,1751.3ZM501.3,1750.0L499.7,1750.4L497.7,1750.0L496.1,1749.1L494.5,1747.3L491.7,1740.4L491.0,1735.6L491.2,1728.4L492.7,1722.4L495.7,1717.2L497.3,1715.9L498.9,1715.5L502.1,1716.3L504.6,1718.8L506.8,1724.4L508.0,1730.8L507.8,1737.6L506.7,1742.4L504.1,1747.7ZM500.9,1748.4L498.1,1748.4L495.2,1746.0L492.6,1740.4L491.8,1734.8L492.1,1728.4L493.6,1722.8L496.1,1718.7L498.9,1717.3L501.7,1717.9L503.7,1719.7L505.9,1724.8L507.2,1730.8L507.0,1737.2L505.9,1741.6L503.3,1746.6ZM500.9,1746.5L498.5,1746.6L495.7,1744.4L493.5,1740.0L492.7,1734.8L493.2,1728.4L494.4,1723.6L496.5,1720.4L498.5,1719.6L501.3,1719.8L502.9,1721.1L505.1,1725.6L506.2,1730.0L506.1,1736.4L505.1,1740.4L503.5,1743.6ZM500.1,1744.4L497.7,1744.0L495.7,1741.8L494.6,1739.6L493.8,1734.0L494.5,1728.0L495.6,1724.0L497.3,1722.1L499.3,1721.6L501.3,1722.0L502.5,1723.1L504.5,1727.4L505.1,1730.4L504.7,1737.6L502.9,1742.0ZM500.5,1741.7L498.9,1741.7L496.9,1740.2L495.1,1733.6L496.1,1728.0L497.8,1724.8L499.3,1723.9L500.5,1724.1L501.3,1724.8L503.0,1727.6L503.7,1730.0L503.3,1736.8L501.7,1740.4ZM499.7,1736.5L497.9,1735.6L497.1,1733.2L497.7,1729.8L498.5,1729.0L499.7,1728.6L500.9,1729.3L501.4,1730.8L501.0,1734.8ZM529.9,1774.0L527.5,1774.2L525.9,1773.5L523.1,1770.0L521.5,1766.8L518.8,1756.4L517.9,1750.4L517.5,1744.0L517.4,1732.8L518.0,1724.0L519.9,1713.6L523.9,1704.1L526.3,1701.8L528.3,1701.2L530.3,1701.8L531.9,1703.6L534.7,1709.6L536.3,1714.4L537.7,1722.4L538.8,1737.2L537.8,1752.8L536.0,1762.4L533.1,1770.0L531.5,1772.8ZM529.1,1771.2L527.5,1770.8L524.7,1769.0L523.1,1767.2L522.2,1765.2L518.9,1751.2L518.3,1738.4L518.9,1724.0L521.4,1712.8L525.1,1705.9L526.3,1705.2L528.7,1704.7L530.7,1705.8L532.7,1708.4L535.9,1717.7L536.7,1721.6L537.9,1736.8L537.5,1747.6L534.7,1762.4L531.8,1768.8L530.3,1770.7ZM528.3,1768.0L526.3,1767.6L525.1,1766.8L523.3,1763.6L520.4,1753.2L519.3,1743.2L519.5,1729.6L520.0,1724.0L521.6,1717.2L523.5,1711.5L526.3,1708.1L527.9,1707.6L529.9,1708.2L531.5,1709.8L534.9,1718.8L537.0,1736.4L536.6,1746.8L534.5,1758.0L532.3,1764.6L529.9,1767.2ZM528.7,1764.5L527.5,1764.4L525.5,1762.5L523.7,1759.2L521.3,1750.8L520.3,1743.2L520.5,1730.0L521.8,1721.6L524.9,1713.2L526.3,1712.0L528.3,1711.5L529.9,1712.4L533.8,1719.6L535.9,1736.8L535.4,1746.8L533.4,1756.8L530.4,1763.2ZM529.1,1759.3L527.1,1759.3L525.5,1757.5L522.5,1749.6L521.7,1743.2L521.8,1730.0L523.0,1722.4L525.6,1717.2L527.5,1716.0L529.9,1716.9L532.1,1720.0L533.2,1724.4L534.7,1736.8L533.8,1747.2L532.1,1755.2L530.8,1758.0ZM529.1,1754.8L528.3,1754.8L527.1,1753.9L524.3,1749.4L523.2,1739.2L523.7,1729.6L524.3,1726.4L525.7,1722.4L526.7,1721.4L527.9,1720.9L529.9,1722.0L531.4,1724.4L533.2,1737.2L531.5,1749.2L529.9,1754.0ZM527.9,1745.3L527.1,1745.3L526.3,1743.3L526.7,1739.2L526.2,1735.2L526.7,1732.6L527.9,1731.6L529.5,1732.4L529.6,1734.8L530.6,1738.0ZM568.2,1832.6L565.4,1832.6L562.6,1830.5L560.4,1827.7L558.0,1822.5L556.7,1818.5L554.7,1807.7L554.1,1793.7L554.2,1787.7L555.1,1780.1L558.3,1767.3L560.2,1762.8L562.2,1760.1L565.0,1758.2L567.4,1757.5L569.4,1758.1L572.2,1760.5L575.2,1766.1L577.1,1771.7L578.8,1778.9L580.1,1791.3L579.5,1806.1L578.1,1815.3L576.4,1821.3L575.0,1825.3L572.9,1828.9L570.6,1831.3ZM568.2,1831.0L565.4,1830.9L562.6,1828.9L560.6,1826.2L557.9,1820.1L556.2,1813.3L555.1,1806.5L554.6,1793.7L554.7,1787.7L555.7,1780.5L558.4,1769.3L560.6,1764.1L562.2,1761.7L564.2,1760.1L567.4,1759.2L569.4,1759.9L571.8,1761.8L574.0,1765.3L575.6,1769.3L578.3,1779.7L579.6,1791.3L579.0,1804.5L577.1,1816.5L575.2,1822.5L573.0,1826.9L570.6,1829.7ZM568.2,1829.4L565.4,1829.1L562.6,1827.2L560.2,1823.5L558.4,1819.3L556.8,1813.3L555.7,1806.1L555.1,1794.5L555.2,1788.1L556.3,1780.5L558.6,1770.9L560.4,1766.5L562.6,1763.0L564.6,1761.4L567.0,1760.9L569.4,1761.5L571.4,1763.1L574.9,1769.3L577.6,1779.3L579.0,1791.3L578.4,1804.9L576.4,1816.5L574.9,1820.9L572.9,1824.9L570.2,1828.3ZM568.2,1827.7L565.8,1827.7L563.3,1826.1L561.0,1822.9L559.1,1818.9L557.5,1813.3L556.3,1806.1L555.7,1796.5L556.0,1786.9L557.5,1777.3L559.1,1771.7L562.6,1764.9L564.6,1763.2L567.0,1762.5L569.0,1763.0L570.7,1764.1L574.4,1770.1L577.6,1783.3L578.4,1792.1L578.4,1798.5L577.7,1805.7L575.6,1816.5L574.3,1820.1L572.2,1823.8ZM567.8,1826.1L565.8,1826.0L563.8,1824.5L561.4,1821.2L559.4,1817.3L558.1,1812.9L556.8,1805.3L556.3,1796.5L556.7,1786.9L558.9,1774.9L560.2,1771.2L562.3,1767.3L564.6,1765.0L566.6,1764.3L568.6,1764.7L570.2,1765.7L573.6,1770.5L577.0,1783.3L577.8,1792.9L577.8,1798.5L576.7,1807.7L574.7,1816.5L572.6,1821.1L569.9,1824.5ZM567.4,1824.2L565.8,1824.0L563.8,1822.5L559.9,1816.1L557.5,1805.3L557.0,1796.9L557.5,1786.1L559.6,1775.7L563.0,1768.5L565.0,1766.8L566.6,1766.3L570.6,1768.3L572.8,1771.3L576.3,1783.7L577.1,1793.7L577.1,1798.5L575.9,1808.1L573.7,1816.9L572.0,1820.1ZM567.4,1821.7L565.8,1821.9L564.6,1821.2L562.2,1818.1L560.7,1815.3L559.6,1812.1L558.2,1804.9L557.6,1796.9L558.3,1785.7L560.2,1776.9L562.4,1772.1L564.6,1769.5L566.2,1768.7L570.2,1770.3L572.6,1773.9L575.6,1783.7L576.4,1793.3L576.3,1798.5L575.2,1807.7L573.0,1816.1L571.4,1819.0ZM567.8,1819.4L565.8,1819.5L564.2,1818.4L562.6,1816.5L560.9,1812.9L558.9,1804.1L558.4,1796.9L559.2,1785.7L561.1,1777.7L563.4,1772.9L565.0,1771.5L566.6,1771.0L569.8,1772.5L572.0,1775.3L574.7,1784.1L575.6,1793.3L575.5,1798.9L573.5,1810.9L571.3,1816.9L570.2,1818.1ZM567.8,1817.3L566.2,1817.4L564.6,1816.7L561.9,1812.1L559.7,1803.7L559.3,1796.9L559.8,1788.5L561.6,1779.7L564.5,1774.1L566.6,1773.0L570.2,1774.8L572.3,1779.3L573.9,1784.9L574.8,1793.3L574.5,1799.3L572.5,1810.5L570.2,1815.6ZM567.8,1814.9L566.6,1815.2L565.4,1814.8L563.0,1811.3L560.8,1803.3L560.3,1796.1L561.0,1786.9L562.7,1780.1L564.6,1777.3L566.2,1776.1L567.4,1775.9L569.6,1776.9L571.6,1780.5L572.9,1785.3L573.8,1794.5L573.5,1799.3L572.1,1807.7L570.6,1811.8ZM567.4,1812.1L565.4,1811.4L563.6,1808.1L561.9,1802.1L561.3,1794.5L562.3,1786.5L564.2,1781.3L565.4,1779.7L567.8,1778.8L569.8,1780.4L571.6,1784.9L572.6,1795.7L571.1,1806.5L569.4,1810.5ZM567.0,1808.6L565.8,1807.7L563.5,1802.1L562.7,1793.3L564.5,1785.3L565.8,1783.2L567.0,1782.7L568.6,1783.5L569.9,1785.3L571.1,1791.7L571.0,1797.7L569.6,1805.3L568.6,1807.4ZM567.0,1799.8L566.6,1800.1L566.2,1799.7L565.8,1798.4L564.8,1792.5L565.4,1790.8L567.0,1789.8L567.8,1790.0L568.5,1790.9L568.8,1793.7ZM357.8,2002.5L353.8,2002.1L350.6,2000.4L348.6,1998.8L342.3,1990.4L339.2,1983.6L336.9,1976.4L335.9,1970.4L335.8,1966.0L336.1,1963.6L337.3,1960.4L338.2,1959.0L339.7,1958.0L342.2,1957.6L344.2,1957.8L349.0,1960.8L354.1,1967.2L358.4,1975.2L360.4,1980.8L361.6,1986.0L362.2,1993.6L360.8,1999.6L359.4,2001.6ZM357.0,2001.6L355.0,2001.4L351.8,2000.2L349.0,1998.4L342.9,1990.4L339.2,1982.4L337.3,1976.0L336.5,1970.4L336.4,1966.4L336.7,1964.0L337.7,1961.6L338.7,1960.0L340.2,1958.9L342.2,1958.5L344.2,1958.8L349.0,1961.7L354.0,1968.0L358.0,1975.6L360.0,1981.2L361.2,1986.8L361.5,1993.6L361.0,1996.8L359.8,1999.6L358.6,2001.0ZM357.0,2000.5L352.2,1999.5L349.4,1997.8L343.5,1990.4L340.0,1983.2L337.9,1976.4L337.0,1967.2L337.8,1963.2L339.0,1961.2L340.6,1959.9L342.6,1959.6L344.6,1959.9L347.0,1961.0L349.0,1962.5L353.1,1967.6L357.3,1975.2L359.6,1981.6L360.9,1989.6L360.8,1994.0L360.2,1996.8L358.6,1999.6ZM356.6,1999.3L352.2,1998.7L349.8,1997.2L344.5,1990.8L340.8,1983.6L338.5,1976.4L337.7,1968.4L338.4,1964.0L339.8,1962.0L341.0,1961.1L342.6,1960.8L345.0,1961.2L348.6,1963.1L352.7,1968.0L356.8,1975.2L358.9,1981.2L360.3,1989.2L359.6,1996.0L358.2,1998.4ZM356.2,1998.0L352.2,1997.7L349.0,1995.3L344.9,1990.4L341.2,1983.2L339.2,1976.4L338.4,1969.2L339.2,1964.8L341.4,1962.5L345.4,1962.5L348.2,1963.8L352.0,1968.0L356.0,1974.8L358.3,1981.2L359.7,1988.8L358.9,1995.2L357.8,1997.1ZM355.4,1996.9L352.2,1996.6L349.0,1994.2L345.5,1990.0L342.0,1983.6L339.9,1976.4L339.2,1970.0L339.8,1966.3L341.8,1964.0L345.4,1963.7L348.2,1965.0L351.8,1968.8L355.5,1975.2L357.7,1981.6L358.9,1988.8L358.2,1994.4L357.0,1996.1ZM354.6,1995.6L351.8,1995.1L349.0,1993.0L346.1,1989.6L342.3,1982.8L340.5,1975.2L340.0,1969.6L340.7,1967.2L343.0,1965.2L346.2,1965.1L349.8,1967.6L354.0,1973.6L355.6,1977.2L357.2,1982.0L358.1,1988.4L357.3,1993.6L356.2,1995.0ZM354.6,1994.1L351.8,1993.7L349.0,1991.7L346.9,1989.2L343.0,1982.8L341.5,1976.0L341.0,1970.4L341.7,1968.0L343.8,1966.5L346.2,1966.4L349.4,1968.5L351.8,1971.5L354.7,1976.8L356.4,1982.0L357.3,1987.2L356.2,1992.7ZM353.8,1992.2L351.4,1992.0L349.0,1990.2L343.7,1982.4L342.3,1976.0L342.1,1971.2L342.6,1969.3L344.2,1968.0L346.6,1968.0L349.0,1969.6L351.1,1972.0L354.1,1977.2L355.6,1982.4L356.4,1986.8L355.4,1990.0ZM353.0,1990.1L351.4,1990.1L349.4,1988.8L344.5,1982.0L343.2,1974.0L343.7,1971.2L345.0,1969.9L346.6,1969.9L349.4,1971.8L353.3,1977.6L355.1,1986.4L354.6,1988.4ZM351.8,1987.3L350.2,1987.0L348.6,1985.7L345.5,1981.2L344.5,1975.6L344.8,1974.0L345.8,1973.0L347.4,1972.9L349.0,1973.7L352.2,1978.0L353.1,1985.2L352.6,1986.8ZM350.2,1983.6L348.9,1983.2L347.2,1980.4L346.9,1978.0L347.4,1976.5L348.2,1976.5L349.2,1977.2L350.9,1980.0L351.1,1982.4ZM369.1,2014.0L367.1,2013.7L365.5,2012.8L362.6,2009.2L360.6,2003.6L360.0,1997.6L360.4,1991.6L362.1,1986.0L364.7,1981.8L366.3,1980.5L368.3,1980.0L371.5,1981.1L374.2,1984.4L376.2,1989.6L377.1,1996.8L376.5,2002.8L374.5,2009.2L372.3,2012.4ZM369.9,2012.9L366.7,2012.6L365.1,2011.5L363.5,2009.5L361.3,2004.4L360.5,1998.4L360.8,1992.4L362.3,1987.2L365.1,1982.4L366.7,1981.3L368.3,1980.9L371.1,1981.8L373.7,1984.8L375.8,1990.0L376.6,1996.4L376.1,2002.4L374.4,2008.0L372.5,2011.2ZM370.3,2011.7L367.1,2011.7L364.3,2009.5L362.1,2005.2L361.1,2000.0L361.1,1994.0L362.4,1988.4L365.1,1983.6L366.7,1982.3L368.3,1981.9L371.1,1982.9L373.3,1985.6L375.3,1990.4L376.1,1996.0L375.6,2002.0L374.1,2007.2L372.3,2010.4ZM369.5,2010.9L366.3,2010.3L364.1,2008.0L362.1,2003.2L361.6,1998.0L361.9,1992.4L363.1,1988.4L365.9,1984.0L368.3,1982.9L371.1,1984.1L373.4,1987.2L374.8,1990.8L375.6,1996.4L375.0,2002.4L373.5,2006.8L371.9,2009.6ZM369.9,2009.6L367.1,2009.5L364.8,2007.6L362.8,2003.2L362.2,1998.4L362.4,1993.2L363.4,1989.2L366.3,1985.0L368.3,1984.0L370.9,1985.2L373.2,1988.4L374.4,1991.6L375.0,1996.4L373.9,2004.0L371.9,2008.0ZM369.5,2008.5L367.1,2008.4L365.1,2006.5L363.4,2002.4L362.8,1998.0L363.2,1992.8L363.9,1989.9L366.3,1986.6L368.3,1985.3L370.7,1986.3L372.8,1989.2L373.9,1992.4L374.3,1996.8L373.2,2003.6L371.2,2007.2ZM368.7,2007.2L366.7,2006.7L365.1,2004.4L363.9,2001.2L363.5,1997.2L364.6,1990.4L366.7,1987.8L368.7,1986.8L370.5,1987.6L372.2,1990.0L373.2,1992.8L373.6,1997.2L372.5,2003.2L370.3,2006.3ZM369.1,2005.3L367.5,2005.3L366.3,2004.1L364.8,2001.2L364.3,1998.0L365.3,1991.2L367.0,1989.2L368.7,1988.4L370.3,1989.1L371.5,1990.8L372.7,1996.8L371.9,2002.0ZM368.7,2002.8L367.5,2002.6L366.1,2001.2L365.3,1997.6L366.5,1992.0L367.5,1990.8L368.7,1990.3L369.9,1990.8L370.6,1992.0L371.7,1996.8L370.7,2001.2ZM368.3,2000.1L367.1,1999.2L366.8,1997.2L367.5,1995.1L368.7,1994.2L369.7,1995.6L370.0,1997.2L369.5,1999.2Z" fill="none" stroke="#0000ff" stroke-width="0.8"/>
<path d="M524.1,1971.1L520.5,1971.3L516.9,1970.5L513.7,1969.2L510.9,1967.3L508.3,1964.6L506.4,1961.8L504.2,1953.4L504.2,1949.8L505.2,1945.8L508.5,1939.1L510.9,1936.7L513.7,1934.7L519.3,1932.8L523.7,1932.7L526.5,1933.2L528.9,1934.3L531.7,1936.5L534.9,1939.7L536.2,1941.8L537.6,1945.4L538.8,1950.6L538.7,1953.8L538.0,1957.4L536.6,1961.4L535.2,1963.8L532.9,1966.6L530.1,1968.8L526.9,1970.4ZM523.3,1970.3L520.1,1970.4L516.5,1969.5L513.3,1968.0L510.5,1965.8L507.1,1961.4L504.9,1953.0L505.0,1949.8L506.0,1945.8L509.3,1939.4L511.7,1937.2L514.9,1935.1L520.1,1933.6L524.5,1933.7L526.9,1934.3L529.3,1935.7L532.5,1938.5L534.8,1941.0L536.2,1943.8L538.0,1951.0L537.9,1953.8L537.1,1957.8L535.9,1961.0L533.9,1964.2L529.3,1968.3ZM522.9,1969.4L520.1,1969.5L516.9,1968.7L513.7,1967.2L510.9,1965.0L507.8,1961.0L505.8,1953.0L505.8,1949.8L506.7,1946.2L509.9,1940.2L514.9,1936.1L520.5,1934.5L526.5,1935.2L528.9,1936.6L532.7,1939.8L534.3,1941.8L535.9,1945.0L537.1,1951.4L536.3,1957.8L533.2,1963.8L528.9,1967.5ZM521.7,1968.6L519.3,1968.4L516.1,1967.4L513.3,1965.8L510.9,1963.7L508.4,1960.2L506.6,1952.2L507.5,1946.6L510.5,1941.0L515.3,1936.9L521.3,1935.5L526.5,1936.3L532.3,1940.6L535.3,1945.8L536.3,1952.2L535.3,1958.2L532.1,1963.7L527.7,1966.9ZM522.9,1967.4L520.5,1967.6L517.3,1966.8L512.4,1963.8L509.3,1959.7L507.5,1952.6L508.3,1947.0L511.0,1941.8L515.7,1937.8L521.7,1936.6L524.5,1936.8L526.5,1937.4L531.7,1941.3L534.4,1946.2L535.3,1952.2L534.5,1957.8L531.7,1962.6L528.1,1965.6ZM523.3,1966.2L520.9,1966.5L518.1,1966.0L513.3,1963.2L510.3,1959.0L508.5,1953.0L509.1,1947.8L511.7,1942.5L516.1,1938.8L521.7,1937.7L526.1,1938.4L530.7,1941.8L533.2,1946.2L534.3,1951.8L533.9,1956.6L531.8,1960.6L528.2,1964.2ZM523.3,1965.0L518.5,1964.9L514.4,1962.6L511.4,1958.6L509.7,1953.4L510.0,1948.6L512.4,1943.4L516.5,1940.1L521.3,1938.9L525.7,1939.5L529.9,1942.6L532.1,1946.6L533.3,1951.8L533.1,1955.8L531.4,1959.4L527.7,1963.2ZM522.9,1963.8L518.5,1963.5L514.5,1961.1L511.9,1957.0L510.8,1952.6L511.4,1948.2L513.8,1943.8L517.3,1941.2L522.1,1940.2L525.3,1940.7L528.9,1943.4L531.2,1947.4L532.3,1953.0L531.9,1956.2L530.4,1959.0L526.5,1962.5ZM523.3,1962.3L519.7,1962.1L515.3,1959.9L513.0,1956.6L512.1,1953.0L512.7,1948.6L515.0,1944.6L517.7,1942.5L522.5,1941.5L525.6,1942.2L528.1,1944.6L530.1,1948.2L531.1,1953.4L530.6,1955.8L529.3,1958.2L525.7,1961.4ZM522.1,1960.6L517.3,1959.2L515.6,1958.2L513.9,1955.4L513.6,1952.2L514.7,1947.8L516.9,1944.8L519.3,1943.6L523.3,1943.0L525.3,1943.8L527.3,1946.2L528.7,1949.4L529.4,1953.4L528.7,1955.8L527.0,1958.2L524.5,1960.1ZM522.9,1958.2L518.9,1957.7L517.2,1957.0L516.0,1955.4L515.6,1953.0L516.1,1949.4L517.1,1947.4L518.9,1946.3L522.9,1945.1L524.1,1945.5L525.6,1947.0L527.4,1952.6L525.9,1956.2ZM522.9,1954.6L522.1,1954.9L521.1,1954.6L519.3,1952.0L519.3,1950.2L521.3,1948.9L522.9,1949.0L524.4,1951.4L524.3,1953.0ZM593.8,1981.5L590.2,1981.8L587.0,1981.4L581.0,1978.8L576.4,1974.3L574.0,1969.9L573.2,1967.5L573.1,1963.1L573.7,1959.5L576.5,1953.9L581.4,1949.6L587.8,1947.2L594.6,1947.1L601.0,1949.7L604.2,1952.5L606.3,1955.1L608.8,1961.5L609.0,1965.1L608.6,1967.9L605.4,1974.9L601.0,1978.9ZM593.8,1980.7L590.6,1981.0L587.4,1980.6L581.4,1978.1L577.1,1973.9L574.8,1969.9L574.0,1967.5L573.9,1963.5L574.3,1960.3L576.9,1954.7L581.4,1950.6L587.8,1948.0L594.6,1947.8L600.6,1950.4L605.6,1955.5L608.0,1961.5L608.0,1967.5L604.9,1974.3L600.6,1978.2ZM593.8,1979.9L591.0,1980.2L587.8,1979.8L581.8,1977.4L577.9,1973.5L574.9,1967.5L574.7,1963.5L575.1,1960.7L577.6,1955.1L581.8,1951.3L587.8,1948.9L594.2,1948.6L599.8,1950.9L605.1,1956.3L607.2,1961.9L607.2,1967.5L604.3,1973.9L599.8,1977.7ZM593.4,1979.1L590.6,1979.3L587.4,1978.8L581.4,1976.1L577.9,1971.9L576.4,1969.1L575.7,1966.7L575.5,1963.5L575.9,1961.1L578.8,1955.1L582.2,1952.1L588.2,1949.8L594.2,1949.5L599.4,1951.7L604.5,1957.1L606.4,1962.3L606.4,1967.1L603.5,1973.5L599.0,1977.2ZM592.2,1978.3L587.0,1977.7L581.1,1974.7L577.6,1969.5L576.7,1966.7L576.4,1963.5L577.5,1959.5L579.5,1955.9L581.4,1953.7L587.0,1951.1L593.0,1950.3L595.4,1950.8L598.6,1952.3L603.0,1956.6L604.6,1959.5L605.6,1965.1L604.7,1969.1L602.2,1973.5L597.8,1976.7ZM593.0,1977.2L587.4,1976.8L581.8,1974.0L578.5,1969.1L577.5,1964.3L578.3,1960.3L581.8,1954.7L587.0,1952.1L591.8,1951.3L595.8,1952.2L599.8,1954.5L603.2,1958.7L604.6,1964.3L603.8,1968.7L601.7,1972.3L597.4,1975.8ZM593.8,1975.9L588.2,1975.8L583.8,1974.1L581.7,1972.3L579.1,1967.9L578.7,1963.1L580.1,1959.1L582.6,1955.5L587.4,1953.1L592.6,1952.5L597.4,1954.2L601.0,1957.4L602.7,1960.3L603.4,1965.1L602.1,1969.5L600.4,1971.9L598.2,1974.0ZM593.8,1974.7L589.0,1974.7L584.6,1973.2L582.6,1971.6L580.3,1967.9L579.9,1963.9L581.0,1959.9L583.4,1956.4L587.0,1954.4L591.4,1953.6L594.2,1954.2L598.2,1956.2L601.5,1960.3L602.2,1965.1L601.3,1968.3L597.9,1972.7ZM592.6,1973.6L588.6,1973.3L584.7,1971.9L581.9,1968.3L581.2,1965.9L581.8,1961.5L583.8,1958.0L586.6,1956.2L591.4,1954.8L595.4,1955.9L597.8,1957.5L600.3,1960.7L600.9,1964.3L600.5,1967.1L598.2,1970.4L595.8,1972.4ZM591.8,1971.9L587.8,1971.6L585.8,1970.9L583.3,1967.5L582.7,1965.1L583.5,1961.5L585.0,1959.0L587.0,1957.7L591.8,1956.2L595.0,1957.3L597.0,1958.9L599.0,1961.5L599.4,1964.7L599.1,1966.7L597.8,1968.5L595.0,1970.7ZM591.8,1969.9L589.8,1970.0L587.4,1969.0L585.0,1966.3L584.5,1964.7L585.1,1962.3L586.3,1960.3L589.4,1958.6L591.8,1958.1L593.8,1958.7L596.2,1960.7L597.4,1962.7L597.6,1964.7L597.2,1966.3L596.1,1967.5L594.1,1969.1ZM591.8,1967.3L590.6,1967.4L589.4,1966.8L587.5,1963.9L588.4,1961.9L591.0,1960.4L593.0,1961.1L594.5,1963.9L593.9,1965.5Z" fill="none" stroke="#0000ff" stroke-width="0.9"/>
<rect x="143.3" y="1173.3" width="28.8" height="28.5" fill="#ff0000"/>
<rect x="143.3" y="1209.2" width="28.8" height="28.5" fill="#0000ff"/>
<text x="182.5" y="1195.5" font-size="25.6">pH 3.3</text>
<text x="182.5" y="1230.3" font-size="25.6">pH 7</text>
<polygon points="633,1208.4 615.9,1203.9 615.9,1215" fill="#000"/>
<path d="M636.5,1205.2L642.9,1211.6M636.5,1211.6L642.9,1205.2" stroke="#000" stroke-width="2.8"/>
<text x="539.5" y="1223" font-size="24.5">Tyr C<tspan font-size="16" dy="8.5">ε</tspan></text>
<line x1="512.8" y1="1288" x2="581.8" y2="1284.5" stroke="#000" stroke-width="2.8" stroke-linecap="butt" stroke-dasharray="7,5.6"/>
<polygon points="488.2,1293.6 470.3,1289.3 470.3,1300" fill="#000"/>
<path d="M492.1,1290.4L498.5,1296.8M492.1,1296.8L498.5,1290.4" stroke="#000" stroke-width="2.8"/>
<path d="M504,1286.1L510.4,1292.5M504,1292.5L510.4,1286.1" stroke="#000" stroke-width="2.8"/>
<text x="384" y="1307" font-size="24.5">His C<tspan font-size="16.5" dy="8.3">δ2</tspan></text>
<rect x="474.2" y="1620.8" width="73.3" height="169" rx="24" ry="24" fill="none" stroke="#000" stroke-width="3.2" stroke-dasharray="10,7"/>
<text x="422" y="1601.3" font-size="24.3">Phe C<tspan font-size="17" dy="8">δ1/2</tspan><tspan dy="-8">/C</tspan><tspan font-size="17" dy="8">ε1/2</tspan><tspan dy="-8">/C</tspan><tspan font-size="17" dy="8">ζ</tspan></text>
<polygon points="556,1799.7 539.5,1814.8 541.2,1824" fill="#000"/>
<path d="M556.9,1795.1L563.3,1801.5M556.9,1801.5L563.3,1795.1" stroke="#000" stroke-width="2.8"/>
<text x="464" y="1829.3" font-size="24.5">Tyr C<tspan font-size="16.5" dy="7.5">δ</tspan></text>
<line x1="162" y1="1919.3" x2="350" y2="1982.5" stroke="#000" stroke-width="2.8" stroke-linecap="butt" stroke-dasharray="7,5.6"/>
<polygon points="155.7,1908.7 162,1891.6 173.1,1891.6" fill="#000"/>
<path d="M148.5,1911.8L154.9,1918.2M148.5,1918.2L154.9,1911.8" stroke="#000" stroke-width="2.8"/>
<text x="139.5" y="1881" font-size="24.5">His C<tspan font-size="16.5" dy="8">ε1</tspan></text>
<rect x="488.7" y="1903.7" width="151.6" height="110.3" fill="none" stroke="#000" stroke-width="2.1"/>
<path d="M506.6,1896.4V1910.2M506.6,2006.4V2020.2M621.1,1896.4V1910.2M621.1,2006.4V2020.2M482.2,1930.8H496.2M633.5,1930.8H647.5M482.2,1985.8H496.2M633.5,1985.8H647.5" stroke="#000" stroke-width="2"/>
<text x="507.3" y="1887.5" font-size="25" text-anchor="middle">7.06</text>
<text x="620.7" y="1887.5" font-size="25" text-anchor="middle">7.00</text>
<text x="469.5" y="1939.2" font-size="25" text-anchor="end">156.5</text>
<text x="469.5" y="1994.2" font-size="25" text-anchor="end">158.5</text>
<polygon points="522.4,1951.4 536.1,1939.5 544.4,1940" fill="#000"/>
<polygon points="591.1,1961.7 556.7,1941.1 570.5,1941.1" fill="#000"/>
<text x="532.2" y="1928.7" font-size="23.5">Tyr C<tspan font-size="16" dy="7">ζ</tspan></text>
<path d="M881.3,1175.0L876.9,1174.8L874.8,1173.7L873.3,1172.1L872.6,1170.5L872.6,1168.5L873.5,1166.5L874.9,1165.2L877.3,1164.2L880.9,1164.0L883.7,1165.0L885.7,1166.9L886.4,1169.3L886.0,1171.7L884.1,1173.8ZM881.7,1174.1L877.7,1174.3L875.7,1173.4L874.2,1172.1L873.5,1170.5L873.4,1168.9L874.0,1167.3L875.0,1166.1L877.3,1164.9L880.1,1164.6L882.5,1165.2L884.5,1166.7L885.5,1168.5L885.4,1170.9L883.9,1172.9ZM881.3,1173.3L877.7,1173.4L875.1,1171.7L874.4,1169.3L875.7,1166.7L877.7,1165.7L880.1,1165.4L882.1,1165.9L883.7,1167.2L884.5,1168.9L884.4,1170.5L883.3,1172.1ZM880.1,1172.6L877.7,1172.3L875.9,1170.5L875.9,1168.5L877.7,1166.8L880.9,1166.6L882.2,1167.3L883.1,1168.5L883.2,1169.7L882.6,1170.9ZM879.3,1170.9L878.1,1170.4L877.8,1169.3L878.5,1168.4L879.7,1168.1L880.6,1168.5L881.0,1169.3L880.5,1170.4ZM881.4,1217.2L879.0,1217.5L876.6,1217.1L873.0,1215.2L872.2,1214.0L871.8,1212.4L872.2,1210.8L873.1,1209.2L875.4,1207.8L879.0,1207.0L882.6,1207.6L885.2,1209.2L886.5,1211.2L886.3,1213.6L884.6,1215.8ZM879.8,1216.8L875.8,1216.1L873.5,1214.4L872.9,1213.2L872.9,1211.6L873.6,1210.0L874.6,1209.0L877.8,1207.8L880.6,1207.8L883.0,1208.6L885.1,1210.4L885.6,1212.4L884.6,1214.7L882.6,1216.1ZM879.8,1216.0L876.6,1215.5L874.5,1214.0L874.0,1211.6L875.3,1209.6L877.8,1208.7L880.2,1208.5L882.4,1209.2L884.1,1210.8L884.5,1212.4L883.8,1214.1L882.2,1215.4ZM880.6,1214.9L878.2,1214.9L876.2,1214.0L875.3,1212.4L875.8,1210.9L879.0,1209.6L880.6,1209.7L882.0,1210.4L882.9,1211.6L883.0,1212.8L882.2,1214.1ZM879.8,1213.3L878.2,1213.1L877.8,1212.0L879.0,1211.4L880.2,1211.6L880.7,1212.4ZM1213.2,1175.6L1208.4,1175.3L1206.4,1174.5L1204.9,1173.2L1204.3,1172.0L1204.3,1170.4L1206.4,1167.4L1210.8,1165.1L1216.0,1164.3L1220.0,1164.9L1223.2,1166.8L1223.8,1168.0L1223.7,1169.6L1221.8,1172.4L1218.0,1174.6ZM1214.0,1174.9L1209.2,1174.7L1206.3,1173.2L1205.6,1172.0L1205.5,1170.8L1207.0,1168.0L1210.0,1166.1L1214.0,1165.2L1218.4,1165.3L1221.5,1166.8L1222.5,1168.8L1221.2,1171.6L1218.0,1173.9ZM1214.0,1174.0L1210.4,1174.0L1207.7,1172.8L1206.9,1170.8L1208.0,1168.4L1210.4,1166.8L1213.6,1166.0L1217.6,1166.1L1219.9,1167.2L1220.8,1169.2L1219.9,1171.2L1217.6,1173.1ZM1214.8,1172.9L1212.0,1173.1L1209.6,1172.3L1208.6,1170.8L1209.1,1169.2L1210.4,1167.9L1212.8,1167.0L1216.0,1167.0L1217.9,1167.6L1218.8,1168.8L1218.6,1170.4L1217.2,1171.9ZM1214.4,1171.3L1212.0,1170.9L1211.6,1169.6L1213.6,1168.5L1215.9,1168.8L1216.3,1169.6L1216.0,1170.4ZM1230.1,1221.5L1225.7,1221.7L1224.1,1221.0L1220.3,1215.8L1219.3,1211.8L1219.3,1207.8L1220.5,1204.0L1222.5,1201.7L1226.9,1199.5L1228.9,1199.9L1233.3,1202.8L1234.9,1205.4L1236.4,1209.8L1236.4,1213.4L1235.3,1217.1L1232.9,1220.2ZM1231.3,1219.0L1228.1,1219.3L1225.8,1218.6L1223.9,1216.2L1222.4,1212.6L1222.2,1209.8L1223.2,1206.2L1225.0,1204.2L1227.3,1203.0L1229.7,1203.3L1232.1,1204.3L1233.3,1205.8L1234.9,1209.4L1235.2,1212.2L1234.7,1215.0L1233.6,1217.0Z" fill="none" stroke="#ff0000" stroke-width="1.0"/>
<path d="M885.1,1174.6L883.5,1174.5L882.0,1173.7L880.1,1170.5L880.4,1166.9L881.5,1165.5L883.1,1164.7L885.1,1164.7L886.8,1165.3L888.1,1166.5L888.8,1168.1L888.8,1170.5L888.1,1172.5L886.7,1173.9ZM884.7,1173.4L882.6,1172.5L881.2,1170.1L881.6,1167.3L883.5,1165.9L886.3,1166.5L887.1,1167.3L887.7,1168.9L887.1,1171.7L886.0,1172.9ZM884.7,1171.0L883.5,1170.6L883.0,1169.7L883.2,1168.5L883.9,1168.0L884.8,1168.1L885.5,1168.9L885.6,1170.1ZM885.2,1224.6L880.8,1224.7L877.5,1223.0L876.1,1220.6L876.2,1219.0L877.0,1217.4L879.2,1215.9L882.0,1215.1L885.2,1215.6L887.8,1217.0L889.3,1219.0L889.2,1221.0L887.6,1223.3ZM884.8,1223.8L881.2,1223.9L878.6,1222.6L877.2,1220.2L878.0,1217.8L880.0,1216.5L882.4,1216.0L885.2,1216.5L887.2,1217.8L888.2,1219.4L888.1,1221.0L886.8,1222.7ZM884.4,1222.7L882.0,1222.9L880.0,1222.1L878.7,1220.2L879.0,1218.6L880.4,1217.5L882.0,1217.1L884.0,1217.4L885.7,1218.2L886.7,1219.4L886.7,1220.6L886.0,1221.8ZM883.6,1220.7L881.7,1220.6L881.6,1219.4L882.4,1219.1L883.6,1219.4L884.0,1220.2ZM1221.8,1173.7L1217.4,1173.8L1214.2,1173.1L1211.5,1171.3L1211.4,1169.3L1212.9,1167.3L1215.0,1166.0L1219.0,1164.4L1222.6,1163.5L1227.0,1163.2L1230.6,1163.5L1233.0,1164.3L1234.6,1165.7L1234.9,1166.9L1234.5,1168.1L1231.8,1170.7L1227.0,1172.7ZM1223.0,1172.9L1218.6,1173.2L1215.4,1172.7L1213.2,1171.3L1212.8,1169.3L1213.8,1167.7L1215.4,1166.6L1222.2,1164.2L1229.4,1164.1L1231.4,1164.7L1232.9,1165.7L1233.3,1167.7L1231.2,1170.1L1227.8,1171.7ZM1223.4,1172.1L1219.4,1172.4L1216.9,1172.1L1214.8,1170.9L1214.3,1169.3L1215.1,1168.1L1216.8,1166.9L1222.6,1164.9L1228.6,1165.0L1230.6,1165.6L1231.6,1166.5L1231.6,1168.1L1230.1,1169.7L1227.0,1171.2ZM1222.2,1171.3L1217.8,1171.0L1216.7,1170.1L1216.7,1168.9L1219.3,1166.9L1223.0,1165.9L1227.4,1166.1L1229.5,1167.3L1229.1,1168.5L1227.5,1169.7L1224.7,1170.9ZM1223.8,1169.4L1221.8,1169.6L1220.6,1168.9L1221.8,1167.9L1223.8,1167.6L1224.9,1168.5Z" fill="none" stroke="#ff7f50" stroke-width="1.0"/>
<path d="M903.9,1182.9L901.5,1183.1L898.7,1182.5L895.1,1181.0L892.3,1179.0L890.2,1176.8L889.0,1174.4L888.5,1172.0L889.1,1170.4L891.5,1169.1L895.1,1169.2L899.5,1170.9L902.7,1173.1L905.1,1175.6L906.4,1178.8L906.0,1181.2ZM903.1,1182.0L901.1,1182.2L898.7,1181.7L893.1,1178.7L891.2,1176.8L890.1,1174.8L889.7,1172.4L890.3,1171.0L892.3,1170.0L895.5,1170.1L899.5,1171.6L902.2,1173.6L904.4,1176.0L905.3,1178.4L904.8,1180.8ZM902.3,1181.0L898.7,1180.8L894.0,1178.4L891.2,1174.8L891.0,1173.2L891.5,1171.9L893.1,1171.0L895.1,1171.0L898.7,1172.1L900.7,1173.4L903.0,1175.6L904.0,1177.6L903.8,1179.6ZM901.1,1179.7L898.7,1179.7L895.1,1177.9L893.0,1175.2L892.7,1174.0L893.1,1172.9L893.9,1172.4L895.5,1172.3L898.3,1173.0L899.9,1174.0L902.2,1177.2L902.1,1178.8ZM899.1,1177.2L897.9,1177.4L896.6,1176.8L895.6,1175.6L895.8,1174.8L896.7,1174.4L898.1,1174.8L899.1,1176.0ZM896.2,1258.3L892.6,1257.7L890.5,1255.5L890.3,1254.3L890.8,1252.7L893.0,1250.9L895.4,1250.4L897.4,1250.7L899.1,1251.5L900.4,1253.1L900.7,1254.7L899.8,1256.7L898.2,1257.9ZM897.0,1257.2L894.2,1257.2L892.4,1256.3L891.6,1254.3L892.6,1252.4L894.2,1251.6L895.8,1251.4L898.5,1252.7L899.1,1253.9L899.0,1255.5L898.2,1256.6ZM896.2,1255.7L894.1,1255.5L893.5,1254.7L893.8,1253.6L895.0,1253.0L896.6,1253.5L897.0,1254.7ZM899.4,1283.5L896.6,1283.4L894.5,1282.3L893.0,1280.7L891.6,1277.5L890.8,1275.1L890.8,1273.1L891.8,1271.4L893.8,1270.0L896.2,1269.5L899.0,1270.2L901.0,1271.5L902.3,1273.5L903.9,1277.9L904.0,1280.3L902.2,1282.6ZM899.8,1282.4L896.2,1282.2L894.7,1281.1L893.7,1279.5L892.0,1274.3L892.6,1272.3L894.2,1271.0L896.2,1270.5L898.2,1271.0L900.1,1272.3L901.1,1273.9L902.6,1277.5L902.9,1279.5L901.8,1281.5ZM898.6,1281.1L896.4,1280.7L895.0,1278.7L894.0,1274.3L894.4,1273.1L895.4,1272.3L897.0,1272.2L898.5,1273.1L900.9,1277.1L901.3,1278.7L901.0,1279.9ZM902.9,1301.9L899.3,1301.4L897.9,1300.3L897.1,1299.1L897.3,1296.7L899.7,1294.6L902.1,1294.0L904.1,1294.2L906.1,1295.2L907.3,1296.7L907.6,1298.3L906.5,1300.3L904.9,1301.5ZM903.3,1300.8L900.7,1300.7L898.9,1299.6L898.4,1297.9L899.3,1296.3L902.5,1295.1L904.1,1295.4L905.4,1296.3L906.1,1297.5L906.0,1298.7L904.9,1300.1ZM902.9,1298.9L901.3,1298.8L901.1,1297.9L901.7,1297.4L902.9,1297.4L903.4,1298.3ZM1232.6,1183.4L1223.4,1183.3L1216.2,1181.7L1214.0,1180.6L1212.1,1179.0L1211.5,1177.4L1211.8,1175.8L1213.3,1173.8L1216.2,1172.3L1221.4,1171.2L1230.2,1170.5L1235.8,1170.8L1241.0,1172.1L1245.0,1174.2L1246.8,1176.2L1247.0,1177.4L1246.6,1178.6L1243.4,1181.0L1237.0,1182.8ZM1233.4,1182.6L1223.8,1182.7L1217.0,1181.1L1214.0,1179.0L1213.4,1177.4L1213.5,1175.8L1214.7,1174.2L1216.6,1173.2L1221.4,1171.9L1229.0,1171.1L1235.0,1171.5L1239.4,1172.4L1243.0,1174.1L1245.1,1176.2L1245.0,1178.2L1243.0,1180.0L1238.2,1181.7ZM1233.0,1181.9L1223.8,1181.9L1218.6,1180.6L1215.7,1179.0L1215.1,1177.8L1215.2,1176.2L1216.5,1174.6L1220.2,1173.0L1228.2,1171.9L1233.4,1172.1L1238.2,1173.1L1241.1,1174.2L1242.9,1175.8L1243.1,1177.8L1241.3,1179.4L1237.4,1181.0ZM1232.2,1181.1L1223.0,1180.9L1218.0,1179.0L1217.2,1178.2L1216.9,1177.0L1218.0,1175.4L1220.6,1173.9L1227.4,1172.8L1234.6,1173.3L1239.0,1174.6L1240.5,1175.8L1240.7,1177.4L1239.2,1179.0L1237.0,1180.1ZM1230.6,1180.2L1223.5,1179.8L1220.1,1177.8L1219.8,1176.6L1221.0,1175.4L1222.7,1174.6L1228.6,1173.8L1233.8,1174.2L1237.1,1176.2L1237.3,1177.4L1236.2,1178.6ZM1231.4,1178.7L1225.4,1178.3L1224.4,1177.8L1224.1,1177.0L1224.7,1176.2L1226.2,1175.8L1230.2,1175.3L1232.8,1175.8L1233.6,1176.6L1233.4,1177.4ZM1232.2,1163.5L1230.2,1163.4L1228.2,1162.6L1227.2,1161.4L1227.5,1159.8L1228.6,1159.0L1230.6,1158.6L1234.1,1159.4L1235.0,1160.6L1234.8,1161.8ZM1231.8,1162.2L1229.9,1161.8L1229.4,1160.6L1231.0,1159.9L1232.6,1160.2L1233.0,1161.4Z" fill="none" stroke="#00ffff" stroke-width="1.0"/>
<path d="M968.5,1219.7L959.3,1217.4L950.1,1213.1L942.1,1208.3L935.8,1203.7L932.3,1200.1L930.2,1196.9L930.2,1194.5L931.3,1193.7L932.9,1193.6L939.7,1194.8L947.7,1198.2L957.3,1203.6L964.6,1208.9L969.9,1214.1L971.2,1216.5L971.3,1218.1L970.3,1219.3ZM968.1,1218.2L964.9,1218.1L959.7,1216.8L950.5,1212.6L942.5,1207.9L936.9,1203.7L934.1,1200.9L932.2,1198.1L932.2,1195.7L934.9,1194.8L939.7,1195.6L947.3,1198.7L956.1,1203.5L963.7,1209.0L967.7,1212.9L969.4,1216.5L969.0,1217.7ZM966.1,1216.5L964.1,1216.6L959.7,1215.8L947.7,1210.3L942.2,1206.9L937.3,1202.9L934.5,1199.3L934.0,1198.1L934.3,1196.9L936.1,1196.1L940.1,1196.7L947.3,1199.4L955.3,1203.8L962.9,1209.4L965.2,1211.7L967.1,1214.9L966.9,1215.9ZM962.1,1214.6L958.1,1214.2L947.7,1209.5L942.5,1206.1L938.7,1202.9L937.0,1200.5L936.9,1198.5L939.3,1197.8L942.9,1198.7L947.3,1200.3L955.3,1204.7L963.4,1211.3L964.0,1213.3L963.4,1214.1ZM959.7,1212.9L956.5,1212.4L948.4,1208.9L942.3,1204.5L940.1,1202.1L939.9,1200.5L941.7,1199.8L946.1,1200.9L954.9,1205.7L961.0,1210.9L961.2,1212.1ZM955.7,1209.9L954.0,1209.7L948.5,1207.4L944.8,1204.1L944.5,1202.9L946.9,1203.0L949.5,1204.1L952.1,1206.3L954.9,1207.7L956.1,1209.3ZM951.5,1181.7L949.9,1181.5L949.5,1180.5L950.7,1179.8L952.3,1180.0L952.7,1180.9ZM938.4,1398.8L934.8,1399.0L931.9,1397.2L931.3,1396.0L931.3,1394.4L932.8,1391.9L934.4,1391.0L936.4,1390.7L938.4,1391.2L940.1,1392.4L941.0,1394.0L941.0,1396.0L940.0,1397.9ZM936.8,1398.0L934.4,1397.8L932.6,1396.0L932.9,1393.6L934.8,1392.1L937.6,1392.1L938.8,1392.8L939.7,1394.0L939.8,1395.6L939.3,1396.8ZM936.4,1396.4L935.2,1396.3L934.5,1395.6L934.5,1394.4L935.2,1393.8L936.4,1393.6L937.7,1394.4L937.6,1395.6ZM944.5,1452.2L942.5,1452.2L940.9,1451.5L939.7,1450.4L939.0,1449.0L938.9,1447.4L939.6,1445.8L940.9,1444.6L942.5,1443.9L944.5,1443.8L946.5,1444.4L948.1,1445.6L948.9,1447.0L948.9,1448.6L948.1,1450.2L946.5,1451.5ZM944.5,1451.1L942.1,1450.9L940.3,1449.0L940.5,1446.6L942.5,1445.1L945.7,1445.3L947.5,1447.0L947.7,1448.2L947.2,1449.4ZM944.1,1449.1L942.8,1448.6L942.8,1447.8L943.3,1447.3L944.5,1447.3L945.1,1447.8L945.0,1448.6ZM951.6,1482.5L949.6,1482.4L948.0,1481.8L946.1,1479.3L945.9,1477.7L946.7,1476.1L949.6,1474.2L951.6,1474.1L953.2,1474.6L954.8,1475.7L955.8,1477.3L955.8,1478.9L955.1,1480.5L953.6,1481.8ZM952.0,1481.3L949.6,1481.3L947.5,1479.7L947.2,1477.7L948.8,1475.8L951.6,1475.3L954.2,1476.9L954.6,1478.1L954.4,1479.3L953.4,1480.5ZM951.6,1479.7L950.4,1479.8L949.5,1479.3L949.1,1478.5L949.6,1477.4L950.8,1477.0L952.3,1477.7L952.4,1478.9ZM965.7,1542.1L962.1,1541.8L960.6,1540.9L959.7,1539.7L959.2,1538.1L959.5,1536.5L961.7,1534.2L963.7,1533.7L966.1,1533.9L967.7,1534.8L968.7,1536.1L969.2,1538.1L968.9,1539.7L967.5,1541.3ZM965.7,1540.9L962.9,1540.9L961.1,1539.7L960.5,1537.7L961.7,1535.7L964.5,1534.8L966.1,1535.2L967.2,1536.1L967.8,1537.3L967.8,1538.9L967.1,1540.1ZM965.3,1538.9L963.3,1539.0L962.9,1537.7L963.7,1536.9L965.0,1536.9L965.7,1537.7ZM1247.0,1219.5L1241.4,1218.9L1235.8,1216.1L1232.5,1212.3L1231.2,1207.1L1231.7,1202.3L1233.8,1199.1L1239.0,1195.1L1244.2,1193.5L1247.0,1193.5L1251.4,1194.3L1256.2,1197.0L1259.2,1200.3L1260.9,1205.5L1260.2,1210.7L1256.8,1215.5L1252.2,1218.5ZM1248.6,1218.3L1243.4,1218.5L1239.0,1217.0L1235.0,1214.1L1232.8,1210.3L1232.1,1205.5L1233.0,1201.9L1237.4,1197.2L1242.2,1194.8L1246.6,1194.4L1252.2,1195.6L1257.0,1198.9L1258.3,1200.7L1259.1,1203.1L1259.7,1207.9L1259.2,1210.3L1258.1,1212.3L1256.2,1214.7L1253.8,1216.6L1251.4,1217.7ZM1247.4,1217.5L1242.2,1217.2L1238.2,1215.4L1234.9,1212.3L1233.5,1209.1L1233.2,1204.7L1234.8,1201.5L1238.6,1197.7L1243.4,1195.7L1246.2,1195.4L1249.4,1195.8L1254.2,1198.0L1257.0,1200.7L1258.3,1205.1L1258.2,1209.5L1256.0,1213.5L1251.8,1216.5ZM1248.2,1216.3L1243.0,1216.2L1239.8,1215.0L1236.3,1212.3L1234.6,1209.1L1234.5,1204.7L1236.3,1201.5L1239.0,1198.9L1243.4,1196.8L1247.8,1196.6L1252.2,1198.2L1255.4,1200.6L1257.0,1204.3L1257.1,1208.7L1255.5,1212.3L1251.8,1215.1ZM1247.4,1215.2L1243.0,1215.0L1239.8,1213.6L1237.2,1211.1L1235.9,1208.3L1235.9,1205.1L1237.9,1201.5L1240.2,1199.6L1244.6,1197.7L1248.6,1198.0L1252.6,1199.9L1254.6,1201.9L1255.9,1205.1L1255.7,1208.3L1254.2,1211.7L1250.6,1214.2ZM1245.4,1213.9L1242.6,1213.4L1239.8,1211.7L1238.0,1207.9L1237.6,1205.9L1238.3,1203.5L1239.8,1201.5L1243.4,1199.4L1245.8,1198.9L1249.0,1199.5L1252.2,1201.5L1253.6,1203.5L1254.3,1206.3L1253.5,1209.5L1252.0,1211.5L1249.4,1213.1ZM1247.0,1212.0L1244.2,1212.2L1241.8,1211.0L1241.0,1209.9L1240.1,1206.3L1240.1,1204.7L1240.8,1203.5L1243.0,1201.7L1244.6,1201.0L1247.0,1201.1L1249.4,1201.8L1251.2,1203.1L1252.0,1204.7L1252.1,1207.5L1251.1,1209.9L1249.4,1211.3ZM1247.4,1209.1L1245.4,1209.2L1244.3,1208.3L1243.7,1205.5L1245.0,1203.8L1247.6,1203.9L1249.0,1204.6L1249.7,1205.5L1249.4,1207.9Z" fill="none" stroke="#ff00ff" stroke-width="1.0"/>
<path d="M1065.8,1303.5L1061.4,1303.1L1058.1,1301.1L1055.3,1296.7L1053.9,1291.5L1054.0,1285.9L1056.5,1279.5L1059.4,1276.4L1063.4,1274.7L1067.8,1275.5L1071.0,1277.9L1073.8,1282.7L1074.6,1287.5L1074.3,1293.5L1072.9,1297.5L1069.8,1301.7L1067.8,1303.0ZM1065.8,1302.7L1061.8,1302.4L1058.6,1300.7L1055.9,1296.7L1054.5,1291.9L1054.6,1286.3L1056.8,1280.3L1059.4,1277.3L1063.4,1275.5L1067.4,1276.1L1070.4,1278.3L1073.3,1283.1L1074.0,1287.5L1073.8,1292.7L1072.6,1296.7L1069.4,1301.1ZM1065.4,1301.9L1061.4,1301.4L1058.6,1299.6L1056.0,1295.1L1055.0,1291.1L1055.3,1285.9L1057.7,1280.3L1060.2,1277.7L1063.8,1276.4L1067.4,1277.1L1070.2,1279.1L1072.7,1283.5L1073.5,1288.3L1073.1,1293.1L1071.6,1297.1L1068.6,1300.6ZM1066.2,1300.8L1063.0,1300.9L1059.4,1299.2L1057.3,1296.3L1055.7,1291.9L1055.7,1287.5L1057.3,1282.7L1059.8,1279.1L1063.4,1277.4L1066.6,1277.8L1069.5,1279.5L1071.9,1283.5L1072.7,1287.5L1072.7,1291.9L1071.4,1295.9L1069.0,1299.1ZM1065.8,1299.9L1063.0,1299.9L1059.8,1298.3L1057.8,1295.6L1056.5,1291.9L1056.5,1287.9L1057.7,1283.5L1060.2,1279.9L1063.4,1278.4L1066.6,1278.8L1069.0,1280.3L1071.2,1283.9L1072.1,1287.9L1072.0,1291.9L1070.8,1295.5L1068.6,1298.3ZM1064.6,1299.1L1062.2,1298.6L1059.8,1296.8L1057.8,1293.5L1057.2,1290.7L1057.5,1287.1L1058.7,1283.5L1061.0,1280.5L1063.8,1279.4L1067.0,1280.1L1068.8,1281.5L1070.7,1285.1L1071.4,1289.1L1071.1,1292.3L1069.6,1295.9L1067.0,1298.3ZM1065.0,1297.9L1063.0,1297.7L1060.6,1296.0L1058.9,1293.5L1058.1,1290.7L1058.3,1287.5L1059.4,1284.3L1061.4,1281.7L1063.8,1280.7L1066.2,1281.1L1068.0,1282.3L1069.8,1285.5L1070.5,1288.3L1070.3,1291.5L1069.2,1294.7L1067.4,1296.8ZM1065.8,1296.4L1064.2,1296.6L1062.2,1295.6L1060.2,1293.4L1059.3,1291.1L1059.3,1288.3L1060.0,1285.5L1061.8,1283.2L1063.4,1282.4L1065.4,1282.5L1067.0,1283.4L1068.6,1285.6L1069.3,1287.5L1069.5,1290.3L1068.9,1292.7L1067.8,1294.8ZM1065.0,1294.8L1063.8,1294.6L1062.2,1293.4L1060.7,1290.7L1061.4,1286.3L1062.6,1284.7L1063.8,1284.1L1065.0,1284.2L1066.3,1285.1L1067.8,1287.1L1068.3,1288.7L1068.3,1290.7L1067.7,1292.3L1066.2,1294.2ZM1065.4,1291.6L1064.2,1291.7L1063.0,1290.6L1063.3,1288.3L1064.2,1286.9L1065.4,1287.3L1066.4,1289.1L1066.3,1290.7ZM1289.3,1306.3L1285.7,1306.5L1280.1,1305.2L1275.3,1302.4L1268.9,1296.9L1267.4,1296.2L1265.3,1296.3L1259.3,1298.8L1255.3,1299.6L1250.9,1299.1L1246.1,1297.2L1243.0,1294.6L1241.1,1291.4L1240.6,1287.0L1241.3,1283.8L1243.3,1281.0L1247.7,1278.0L1252.9,1276.4L1257.7,1276.7L1264.5,1279.4L1267.7,1279.2L1276.5,1272.0L1282.5,1269.3L1288.1,1268.9L1292.5,1269.6L1295.7,1270.8L1300.5,1274.3L1304.0,1279.0L1305.8,1284.6L1305.8,1289.8L1303.6,1296.6L1300.5,1300.9L1295.3,1304.5ZM1288.1,1305.8L1282.1,1305.2L1278.5,1303.7L1274.6,1301.0L1269.3,1295.5L1267.7,1294.5L1264.9,1294.6L1260.5,1296.8L1255.3,1298.1L1251.7,1297.9L1246.5,1295.7L1244.5,1294.2L1243.1,1291.4L1242.3,1286.6L1242.9,1284.2L1244.5,1282.0L1248.5,1279.4L1253.3,1277.9L1257.7,1278.1L1264.5,1281.3L1267.3,1281.0L1269.3,1279.6L1275.3,1273.6L1278.9,1271.3L1282.5,1269.9L1288.1,1269.5L1292.5,1270.3L1295.3,1271.3L1299.9,1274.6L1303.4,1279.4L1305.3,1285.0L1305.0,1290.6L1303.1,1296.2L1299.7,1300.8L1294.5,1304.2ZM1288.5,1305.1L1286.1,1305.2L1282.5,1304.7L1277.7,1302.4L1272.7,1298.2L1268.9,1293.3L1266.5,1292.0L1264.5,1292.2L1260.6,1295.0L1257.3,1296.3L1253.3,1296.5L1250.9,1295.9L1246.9,1293.8L1245.9,1292.6L1244.5,1289.0L1244.4,1285.0L1246.5,1282.6L1250.1,1280.6L1252.5,1279.7L1255.7,1279.3L1259.3,1280.4L1263.7,1283.9L1265.7,1284.7L1268.5,1282.2L1274.5,1275.1L1280.5,1271.3L1283.7,1270.3L1286.9,1270.1L1291.7,1270.8L1294.9,1271.9L1299.4,1275.0L1302.9,1279.8L1304.6,1285.0L1304.4,1290.2L1302.8,1295.4L1299.4,1300.2L1294.5,1303.5ZM1289.3,1304.2L1286.5,1304.5L1282.5,1303.9L1276.9,1301.1L1272.1,1296.2L1269.1,1291.4L1268.1,1288.6L1268.3,1286.2L1269.8,1282.6L1274.4,1276.2L1279.7,1272.4L1284.5,1270.8L1287.7,1270.7L1291.7,1271.5L1297.3,1274.1L1301.6,1279.0L1303.2,1282.2L1303.9,1285.0L1303.9,1288.6L1303.1,1292.6L1300.3,1298.2L1295.3,1302.4ZM1257.3,1294.2L1252.5,1294.4L1249.6,1292.6L1247.1,1289.8L1246.6,1288.6L1246.7,1285.8L1247.7,1284.3L1253.1,1281.8L1255.7,1281.1L1257.9,1281.8L1260.7,1284.2L1261.9,1286.2L1262.2,1289.8L1260.6,1292.2ZM1287.3,1303.8L1282.1,1303.0L1276.5,1300.0L1272.2,1295.0L1270.2,1291.0L1269.5,1288.2L1269.8,1285.8L1271.4,1281.4L1275.4,1276.2L1280.9,1272.6L1286.1,1271.3L1292.5,1272.5L1295.3,1273.6L1297.4,1275.0L1301.5,1280.2L1302.8,1283.4L1303.2,1286.2L1303.1,1289.0L1302.2,1293.0L1299.1,1298.6L1294.1,1302.2ZM1254.9,1291.4L1252.9,1290.6L1252.0,1287.8L1252.9,1285.7L1255.3,1284.6L1257.7,1285.4L1258.1,1286.6L1257.6,1289.8L1256.5,1290.9ZM1288.1,1303.0L1282.9,1302.4L1277.3,1299.7L1273.1,1295.0L1271.3,1291.0L1270.7,1288.2L1271.0,1285.8L1272.3,1281.4L1276.0,1276.6L1280.9,1273.4L1285.7,1272.0L1290.9,1272.8L1294.5,1274.0L1296.5,1275.2L1300.6,1280.2L1301.9,1283.0L1302.4,1285.4L1302.4,1289.0L1301.6,1292.6L1298.8,1297.8L1294.1,1301.5ZM1288.5,1302.3L1286.5,1302.3L1282.9,1301.6L1277.7,1299.1L1273.9,1294.6L1271.8,1288.6L1271.9,1286.2L1273.0,1282.2L1276.3,1277.4L1280.5,1274.4L1285.3,1272.8L1289.7,1273.2L1295.7,1275.6L1299.7,1280.3L1301.1,1283.0L1301.6,1285.0L1301.7,1288.2L1301.2,1291.0L1300.3,1293.8L1298.5,1297.0L1294.1,1300.6ZM1288.9,1301.4L1286.9,1301.6L1283.3,1300.8L1278.1,1298.4L1274.9,1294.6L1272.8,1288.6L1272.9,1286.2L1273.8,1282.6L1276.7,1278.2L1280.1,1275.5L1285.3,1273.7L1289.3,1273.9L1295.3,1276.4L1299.3,1281.2L1300.8,1285.0L1300.7,1289.8L1299.6,1293.4L1298.1,1296.2L1293.7,1299.8ZM1288.9,1300.6L1286.9,1300.8L1283.3,1300.0L1278.5,1297.6L1275.7,1294.2L1273.8,1288.6L1273.8,1286.2L1274.6,1283.4L1277.3,1278.7L1280.9,1276.1L1285.7,1274.5L1289.3,1274.8L1294.9,1277.2L1298.7,1281.8L1300.0,1285.0L1299.9,1289.4L1297.6,1295.4L1293.7,1298.8ZM1288.5,1299.8L1283.3,1299.1L1278.7,1296.6L1276.6,1293.8L1274.7,1288.6L1275.1,1285.0L1277.9,1279.4L1281.3,1276.8L1285.7,1275.5L1289.7,1275.9L1294.5,1278.0L1297.9,1282.2L1299.1,1285.4L1299.0,1289.4L1296.9,1294.8L1292.9,1298.1ZM1289.3,1298.6L1284.5,1298.5L1280.1,1296.4L1277.9,1294.2L1276.0,1289.4L1275.9,1286.2L1277.9,1281.0L1280.2,1278.6L1284.1,1276.8L1288.5,1276.6L1293.3,1278.4L1296.3,1281.4L1297.9,1284.6L1298.0,1289.0L1296.3,1293.8L1292.9,1296.9ZM1289.3,1297.4L1285.3,1297.6L1281.3,1296.0L1278.9,1293.7L1277.3,1289.4L1277.2,1286.2L1278.4,1282.2L1280.9,1279.5L1284.1,1277.9L1288.1,1277.6L1292.5,1279.2L1294.8,1281.0L1296.6,1284.2L1297.0,1288.6L1295.5,1293.0L1292.5,1295.8ZM1288.5,1296.2L1284.9,1296.2L1281.7,1295.0L1279.9,1293.0L1278.6,1289.0L1278.5,1285.8L1279.3,1283.0L1282.1,1280.3L1284.9,1278.9L1288.5,1279.0L1292.1,1280.4L1294.2,1282.2L1295.5,1285.0L1295.6,1289.0L1294.4,1292.6L1291.3,1295.2ZM1288.9,1294.6L1286.3,1294.6L1282.9,1293.8L1281.4,1292.2L1280.3,1289.0L1279.9,1286.2L1280.5,1283.9L1283.7,1281.1L1285.3,1280.4L1287.7,1280.4L1290.6,1281.4L1292.9,1283.3L1294.0,1285.4L1294.3,1288.6L1293.3,1291.7L1291.3,1293.6ZM1289.3,1292.7L1287.7,1292.7L1284.1,1291.5L1282.4,1289.4L1281.9,1285.4L1282.9,1284.1L1285.7,1282.3L1287.3,1282.1L1289.3,1282.8L1291.4,1284.6L1292.5,1286.2L1292.8,1288.2L1292.1,1290.5L1290.9,1291.9ZM1288.9,1288.7L1287.3,1289.0L1286.2,1288.2L1286.6,1286.2L1287.3,1285.4L1288.5,1285.4L1290.0,1287.0L1289.9,1288.2Z" fill="none" stroke="#0000ff" stroke-width="0.9"/>
<path d="M1062.2,1874.0L1059.8,1873.0L1057.8,1870.4L1056.3,1865.6L1056.0,1861.2L1056.5,1855.6L1057.6,1852.0L1059.8,1849.0L1062.2,1848.0L1065.0,1849.1L1067.2,1852.0L1068.3,1855.6L1069.0,1861.2L1068.4,1866.4L1066.9,1870.4L1065.0,1872.9ZM1063.0,1872.8L1061.0,1872.7L1058.8,1870.8L1057.2,1866.8L1056.6,1863.2L1056.7,1858.8L1057.8,1853.2L1059.8,1850.2L1062.2,1849.0L1064.6,1849.9L1066.6,1852.3L1067.7,1855.6L1068.4,1860.8L1068.0,1865.2L1067.1,1868.4L1065.4,1871.3ZM1062.6,1871.7L1060.6,1871.3L1059.0,1869.6L1057.5,1865.6L1057.1,1862.0L1058.4,1853.6L1060.2,1851.1L1062.2,1850.2L1064.2,1850.8L1066.2,1853.2L1067.2,1856.4L1067.8,1861.2L1067.3,1865.6L1066.3,1868.4L1064.6,1870.7ZM1063.0,1870.2L1061.4,1870.3L1059.8,1869.1L1058.4,1866.0L1057.7,1862.4L1059.1,1854.4L1060.4,1852.4L1062.2,1851.4L1064.0,1852.0L1065.6,1854.0L1066.6,1856.8L1067.1,1860.8L1066.0,1867.2L1064.6,1869.1ZM1063.0,1868.6L1061.4,1868.7L1060.2,1867.8L1059.0,1865.2L1058.5,1862.0L1059.8,1855.4L1061.0,1853.7L1062.6,1853.0L1063.8,1853.5L1065.0,1855.0L1065.9,1857.6L1066.3,1860.4L1065.5,1866.0L1064.6,1867.5ZM1062.2,1866.8L1061.2,1866.4L1060.3,1865.2L1059.4,1861.2L1060.6,1856.7L1061.4,1855.6L1062.6,1855.0L1063.8,1855.6L1064.6,1856.9L1065.3,1860.4L1064.5,1865.2L1063.6,1866.4ZM1062.6,1863.7L1061.4,1863.1L1060.7,1861.2L1061.4,1858.9L1062.6,1858.0L1063.5,1858.8L1063.7,1860.4L1063.4,1862.5ZM1066.1,1917.9L1064.9,1918.2L1063.7,1917.8L1061.3,1915.1L1059.5,1910.2L1058.8,1904.2L1059.1,1898.6L1060.4,1893.8L1062.1,1890.5L1064.9,1888.8L1066.9,1889.6L1068.8,1892.2L1070.5,1896.6L1071.2,1901.4L1071.0,1907.0L1070.1,1911.8L1068.3,1915.8ZM1066.1,1916.7L1064.9,1916.9L1063.7,1916.5L1061.7,1914.2L1059.9,1909.8L1059.3,1904.6L1059.5,1899.4L1060.8,1894.6L1062.5,1891.4L1064.9,1890.1L1066.9,1891.0L1068.4,1893.0L1069.9,1896.6L1070.7,1901.4L1070.6,1905.8L1069.6,1911.4L1067.9,1915.0ZM1065.7,1915.5L1063.7,1915.2L1061.7,1912.5L1060.4,1909.0L1059.9,1904.2L1060.1,1899.4L1061.4,1895.0L1062.9,1892.4L1064.9,1891.5L1066.9,1892.5L1068.6,1895.0L1069.5,1897.4L1070.1,1901.4L1070.0,1905.4L1069.1,1911.0L1067.3,1914.2ZM1065.7,1914.0L1064.1,1913.9L1062.3,1911.8L1061.0,1908.6L1060.5,1904.6L1060.7,1900.2L1061.3,1897.4L1062.9,1894.1L1064.5,1893.0L1066.1,1893.5L1068.1,1895.8L1069.4,1901.4L1069.4,1905.0L1068.6,1910.2L1067.4,1912.6ZM1065.7,1912.3L1064.1,1912.1L1062.7,1910.2L1061.7,1907.8L1061.3,1904.2L1061.5,1900.2L1062.1,1897.8L1063.3,1895.6L1064.9,1894.8L1066.5,1895.6L1067.6,1897.0L1068.7,1903.0L1067.7,1910.0L1066.9,1911.5ZM1065.3,1910.2L1064.1,1909.6L1063.1,1908.2L1062.2,1904.2L1062.7,1899.0L1063.7,1897.4L1064.9,1896.9L1066.0,1897.4L1066.7,1898.6L1067.7,1903.8L1066.6,1909.0ZM1065.3,1906.4L1064.4,1906.2L1063.8,1904.6L1064.5,1900.2L1065.3,1900.7L1066.2,1903.4L1066.1,1905.1ZM1071.2,1951.7L1069.6,1951.7L1068.0,1950.9L1065.8,1947.7L1064.6,1942.5L1065.1,1936.5L1066.9,1930.9L1070.4,1925.1L1073.6,1922.5L1075.6,1921.8L1077.6,1921.9L1080.1,1923.7L1081.9,1927.3L1082.3,1931.3L1081.9,1936.9L1080.1,1942.9L1077.4,1947.7L1074.8,1950.2ZM1072.0,1950.5L1070.4,1950.7L1068.8,1950.2L1066.7,1947.7L1065.3,1943.3L1065.6,1936.9L1067.3,1931.3L1070.8,1925.7L1073.6,1923.5L1077.2,1923.0L1079.5,1924.5L1081.1,1927.3L1081.7,1931.3L1081.4,1936.1L1079.7,1942.1L1077.6,1946.3L1075.2,1949.0ZM1072.4,1949.4L1070.8,1949.6L1069.2,1949.1L1068.0,1947.9L1066.7,1945.7L1065.9,1942.5L1066.2,1936.9L1067.9,1931.7L1071.2,1926.5L1073.6,1924.5L1076.8,1924.1L1078.9,1925.3L1080.5,1928.1L1081.0,1932.1L1080.7,1936.1L1079.4,1941.3L1077.6,1945.0L1075.2,1947.9ZM1072.4,1948.2L1070.8,1948.3L1069.6,1947.8L1067.2,1944.6L1066.7,1942.1L1066.9,1936.9L1068.5,1932.1L1071.7,1927.3L1074.0,1925.4L1076.4,1925.2L1078.4,1926.4L1079.8,1928.9L1080.3,1932.9L1079.9,1936.9L1078.6,1941.3L1077.0,1944.5L1074.8,1947.0ZM1071.6,1946.9L1069.6,1946.0L1067.9,1943.7L1067.5,1939.3L1067.9,1936.1L1069.2,1932.4L1072.3,1928.1L1074.0,1926.8L1076.0,1926.6L1078.0,1927.9L1079.2,1930.4L1079.4,1933.7L1078.9,1938.1L1077.7,1941.7L1076.2,1944.1L1073.6,1946.3ZM1072.8,1945.0L1070.8,1944.9L1069.2,1943.3L1068.5,1940.5L1068.5,1937.7L1069.1,1934.9L1070.4,1932.4L1073.2,1928.9L1075.2,1928.1L1076.9,1928.9L1078.1,1930.5L1078.5,1932.9L1078.3,1936.9L1076.1,1942.5ZM1073.2,1942.9L1071.6,1942.9L1070.4,1941.7L1069.6,1939.3L1069.7,1937.3L1071.4,1933.3L1074.0,1930.8L1075.2,1930.4L1076.4,1931.0L1077.0,1932.1L1077.2,1937.3L1075.6,1941.0ZM1074.0,1939.9L1072.2,1939.7L1071.6,1937.3L1072.4,1935.3L1074.4,1934.4L1075.6,1935.2L1075.9,1936.9L1075.2,1938.8ZM1086.6,2015.7L1083.0,2015.4L1080.5,2013.7L1077.7,2008.5L1076.8,2003.7L1077.2,1998.5L1078.8,1993.7L1081.8,1990.1L1085.0,1988.8L1088.2,1989.7L1091.5,1993.3L1092.8,1996.1L1093.8,2001.3L1093.3,2007.3L1092.4,2010.1L1089.6,2014.1ZM1086.2,2014.9L1083.0,2014.4L1080.6,2012.5L1078.1,2007.7L1077.4,2002.9L1077.9,1998.1L1079.6,1993.7L1082.2,1990.9L1085.4,1989.7L1088.2,1990.8L1091.2,1994.1L1092.7,1998.1L1093.3,2001.7L1092.8,2006.9L1091.6,2010.1L1089.0,2013.6ZM1087.0,2013.7L1084.2,2013.8L1081.4,2012.1L1079.0,2008.1L1078.0,2003.7L1078.3,1999.3L1080.0,1994.5L1082.2,1992.0L1085.0,1990.8L1087.4,1991.4L1090.2,1994.1L1091.6,1996.9L1092.6,2001.3L1092.4,2005.3L1091.6,2008.5L1089.6,2011.7ZM1085.8,2012.9L1083.4,2012.3L1080.8,2009.7L1079.3,2006.5L1078.7,2002.5L1079.1,1999.3L1080.8,1994.9L1082.6,1992.9L1085.0,1992.0L1087.4,1992.7L1089.4,1994.5L1091.1,1997.7L1092.0,2001.7L1091.5,2006.1L1090.5,2008.9L1088.4,2011.7ZM1086.6,2011.5L1084.6,2011.5L1081.8,2009.4L1080.4,2006.9L1079.5,2003.3L1079.6,2000.5L1081.2,1996.1L1082.6,1994.3L1084.6,1993.3L1086.6,1993.6L1088.6,1995.0L1090.1,1997.7L1091.1,2001.3L1091.0,2004.5L1090.3,2007.3L1088.5,2010.1ZM1085.8,2010.2L1083.8,2009.6L1082.3,2008.1L1080.9,2004.9L1080.4,2002.5L1080.7,2000.1L1082.0,1996.9L1083.4,1995.3L1085.0,1994.7L1087.0,1995.3L1088.3,1996.5L1089.4,1998.9L1090.2,2002.5L1089.9,2005.3L1089.1,2007.3L1087.4,2009.5ZM1086.2,2008.2L1085.0,2008.3L1083.6,2007.3L1081.6,2002.5L1082.6,1998.5L1083.8,1997.1L1085.0,1996.6L1086.2,1996.8L1087.4,1997.9L1089.0,2002.5L1088.5,2005.7ZM1086.2,2005.0L1085.0,2004.9L1083.7,2002.9L1083.7,2000.9L1084.6,1999.9L1085.8,2000.1L1087.0,2001.8L1087.1,2003.7Z" fill="none" stroke="#0000ff" stroke-width="0.7"/>
<rect x="839.9" y="1850.6" width="28.9" height="28.3" fill="#ff0000"/>
<text x="879.5" y="1871.3" font-size="25.6">pH 3.3</text>
<rect x="839.9" y="1885.25" width="28.9" height="28.3" fill="#ff7f50"/>
<text x="879.5" y="1905.95" font-size="25.6">pH 4</text>
<rect x="839.9" y="1919.9" width="28.9" height="28.3" fill="#00ffff"/>
<text x="879.5" y="1940.6" font-size="25.6">pH 5</text>
<rect x="839.9" y="1954.55" width="28.9" height="28.3" fill="#ff00ff"/>
<text x="879.5" y="1975.25" font-size="25.6">pH 6</text>
<rect x="839.9" y="1989.2" width="28.9" height="28.3" fill="#0000ff"/>
<text x="879.5" y="2009.9" font-size="25.6">pH 7</text>
<path d="M882.2,1169.8H1017.7M1088.7,1169.8H1227.2M882.2,1215.7H1016.9M1091.5,1215.9H1227.2M882.2,1168.7V1216.8M1227.2,1168.4V1216.9" stroke="#000" stroke-width="2.3" fill="none"/>
<text x="1041.5" y="1181.8" font-size="23.6">N<tspan font-size="17" dy="8.8">ε2</tspan></text>
<text x="1041.5" y="1221.8" font-size="23.6">N<tspan font-size="17" dy="8.6">δ1</tspan></text>
<text x="834" y="1225.8" font-size="23.6">H<tspan font-size="17" dy="8.8">ε1</tspan></text>
<text x="1253.3" y="1184.5" font-size="23.6">H<tspan font-size="17" dy="8.6">δ2</tspan></text>
<path d="M1068,1284 C1074,1278 1080,1280 1084,1272 C1088,1268 1091,1274 1090,1282 C1089,1290 1082,1292 1072,1297" fill="none" stroke="#0000ff" stroke-width="0.9"/>
<path d="M1070,1286 C1076,1281 1081,1282 1085,1275 C1088,1274 1088,1280 1087,1284 C1084,1289 1078,1290 1071,1293" fill="none" stroke="#0000ff" stroke-width="0.9"/>
<line x1="883.7" y1="1170.7" x2="1068.7" y2="1289.9" stroke="#000" stroke-width="2.8" stroke-linecap="butt" stroke-dasharray="7,6"/>
<line x1="1230.3" y1="1173" x2="1290.1" y2="1288.8" stroke="#000" stroke-width="2.8" stroke-linecap="butt" stroke-dasharray="7,6"/>
<line x1="882.9" y1="1219" x2="1088.5" y2="2012" stroke="#000" stroke-width="2.8" stroke-linecap="butt" stroke-dasharray="7,6"/>
<circle cx="802.2" cy="1244.4" r="0.8" fill="#0000ff"/>
<path d="M1643.8,1153.1L1643.8,1164.6L1645.0,1194.6L1646.6,1208.1L1648.1,1227.1L1649.2,1234.4L1650.7,1241.0L1652.7,1245.9L1658.2,1254.5L1662.7,1259.2L1669.7,1264.4L1671.2,1265.0L1672.7,1264.6L1674.2,1263.0L1678.2,1254.6L1681.7,1249.4L1685.2,1246.2L1686.7,1245.6L1688.2,1245.6L1690.3,1247.1L1692.2,1250.4L1696.6,1262.6L1699.7,1274.6L1701.2,1276.6L1703.0,1277.6L1706.7,1278.4L1714.7,1279.2L1732.2,1279.5L1745.2,1281.5L1753.5,1283.1L1758.2,1284.6L1760.5,1286.1L1762.1,1288.6L1764.3,1289.6L1770.3,1290.6L1801.2,1293.3L1806.2,1294.3L1807.6,1295.1L1807.9,1295.6L1806.2,1296.8L1801.7,1298.0L1783.7,1300.0L1762.7,1300.8L1715.7,1301.6L1708.2,1302.6L1706.4,1303.6L1706.1,1304.6L1709.1,1311.1L1710.0,1314.6L1710.2,1318.6L1709.1,1322.6L1707.2,1325.6L1704.8,1328.1L1693.2,1336.3L1689.7,1338.3L1686.7,1338.6L1684.2,1337.6L1677.0,1333.1L1672.2,1331.2L1667.7,1330.7L1665.7,1331.2L1663.7,1332.2L1652.9,1341.6L1651.2,1343.7L1649.7,1346.8L1646.3,1357.1L1641.7,1373.6L1640.0,1387.1L1637.7,1395.6L1635.9,1407.1L1633.2,1413.5L1631.7,1415.9L1630.7,1416.5L1624.5,1409.6L1622.5,1406.1L1617.5,1386.1L1616.3,1376.1L1615.2,1371.4L1609.7,1355.7L1606.3,1348.6L1603.2,1343.9L1598.7,1338.4L1592.2,1332.1L1588.4,1326.6L1586.4,1324.6L1575.7,1318.7L1568.2,1310.6L1557.9,1302.6L1554.9,1301.1L1544.1,1297.1L1541.0,1295.1L1541.9,1294.1L1545.7,1292.3L1559.1,1288.6L1563.0,1286.6L1576.2,1272.3L1579.2,1269.9L1587.0,1265.1L1599.2,1253.5L1601.3,1251.1L1603.2,1247.9L1606.2,1240.7L1611.5,1220.6L1612.1,1207.6L1613.2,1196.6L1613.1,1186.6L1613.7,1178.6L1613.7,1170.1L1614.7,1153.1M1971.2,1393.2L1969.2,1393.4L1967.2,1392.8L1965.7,1391.9L1964.1,1390.1L1962.7,1387.1L1960.5,1379.6L1957.3,1372.1L1956.1,1366.1L1952.7,1332.9L1948.2,1315.3L1945.7,1309.3L1942.9,1304.6L1940.7,1303.1L1936.8,1302.1L1886.2,1297.0L1875.3,1295.1L1871.6,1294.1L1871.2,1293.6L1877.9,1291.6L1885.2,1290.2L1917.4,1287.1L1934.1,1285.1L1937.9,1284.1L1940.4,1282.6L1942.7,1279.6L1945.7,1274.3L1948.7,1267.3L1950.7,1261.3L1951.7,1255.9L1953.1,1241.6L1955.7,1224.1L1958.9,1212.6L1962.7,1202.1L1964.2,1199.0L1966.7,1196.6L1969.7,1195.9L1973.2,1196.6L1976.7,1199.2L1979.2,1202.7L1981.7,1208.5L1983.1,1213.1L1984.5,1221.1L1986.9,1231.1L1988.2,1239.6L1989.2,1250.1L1991.7,1261.0L1993.7,1266.6L1997.2,1272.1L2005.9,1282.6L2009.4,1285.1L2014.1,1286.6L2036.2,1291.1L2039.0,1292.1L2040.2,1293.6L2038.7,1295.0L2035.7,1296.1L2017.3,1299.6L2008.2,1302.1L2005.1,1303.6L2002.3,1305.6L1999.7,1307.8L1997.7,1310.2L1993.2,1319.1L1990.4,1327.1L1988.4,1340.1L1986.0,1350.1L1985.7,1360.1L1985.2,1364.1L1981.5,1376.1L1979.7,1383.6L1978.2,1387.0L1976.2,1389.8L1973.7,1392.1ZM1641.8,1153.1L1641.9,1165.6L1643.2,1196.1L1644.7,1209.1L1645.7,1225.6L1648.2,1243.3L1650.7,1250.6L1654.2,1257.0L1658.2,1261.7L1667.9,1271.1L1669.7,1272.5L1671.2,1273.1L1672.7,1273.1L1674.2,1272.2L1676.7,1268.4L1679.5,1259.6L1680.9,1256.6L1683.7,1253.7L1685.2,1253.0L1686.7,1252.9L1689.2,1254.4L1691.7,1258.0L1694.7,1264.3L1697.7,1275.1L1699.2,1277.2L1701.7,1278.7L1705.7,1279.6L1714.7,1280.3L1729.2,1280.4L1735.2,1281.0L1745.7,1283.1L1751.1,1284.6L1753.8,1286.1L1755.2,1289.1L1758.2,1290.1L1792.7,1293.3L1799.7,1294.5L1801.8,1295.6L1800.7,1296.6L1795.2,1298.0L1779.2,1299.7L1761.7,1300.3L1714.7,1300.9L1706.2,1301.7L1703.5,1302.6L1702.5,1304.1L1702.7,1305.6L1705.4,1311.6L1706.3,1315.1L1706.5,1318.6L1705.7,1322.1L1704.4,1324.6L1702.2,1327.1L1698.7,1330.0L1694.2,1332.8L1690.2,1334.5L1686.7,1334.6L1683.7,1333.4L1669.2,1325.7L1666.2,1325.0L1663.2,1325.9L1660.7,1327.9L1652.2,1336.3L1649.2,1340.1L1647.2,1343.7L1645.7,1348.1L1642.0,1363.6L1639.3,1372.6L1637.2,1385.6L1636.2,1388.1L1632.6,1394.1L1631.3,1401.6L1630.7,1402.6L1629.2,1403.2L1627.7,1402.8L1626.7,1401.9L1624.2,1396.9L1620.5,1385.1L1618.8,1375.1L1617.2,1368.8L1612.4,1354.1L1610.0,1345.1L1608.7,1342.3L1606.7,1339.3L1603.5,1335.6L1596.6,1329.1L1591.2,1321.6L1588.7,1319.6L1578.7,1313.3L1570.6,1305.1L1568.3,1303.6L1563.8,1301.6L1550.3,1297.1L1548.4,1296.1L1547.5,1295.1L1548.3,1294.1L1550.2,1293.1L1563.4,1289.6L1566.9,1288.1L1569.3,1286.6L1579.6,1276.1L1587.2,1270.5L1594.8,1263.6L1603.2,1255.2L1605.7,1251.4L1608.7,1242.9L1610.6,1232.6L1613.6,1221.1L1614.2,1206.6L1615.2,1196.1L1615.0,1186.1L1615.6,1178.6L1616.7,1153.1M1971.7,1387.3L1969.2,1387.3L1967.2,1385.8L1959.5,1370.6L1956.4,1349.6L1954.6,1332.1L1950.7,1314.7L1947.7,1306.6L1945.8,1303.6L1943.7,1302.4L1940.2,1301.6L1887.7,1296.2L1882.5,1295.1L1880.7,1294.3L1880.1,1293.6L1880.3,1293.1L1882.1,1292.1L1886.2,1291.1L1937.0,1285.6L1941.2,1284.6L1943.7,1283.1L1945.7,1280.3L1948.2,1275.0L1950.7,1268.6L1952.7,1262.2L1953.7,1256.5L1955.3,1240.6L1957.2,1232.1L1958.2,1224.6L1959.4,1220.1L1962.4,1212.1L1965.9,1205.1L1968.2,1202.5L1969.7,1201.7L1971.2,1201.5L1973.4,1202.1L1975.7,1204.2L1977.7,1207.5L1979.6,1212.1L1985.4,1233.6L1986.4,1240.6L1987.3,1251.1L1989.9,1263.6L1991.9,1268.6L1996.7,1276.4L2002.1,1282.6L2005.7,1285.1L2011.9,1287.1L2031.1,1291.1L2034.0,1292.1L2035.4,1293.1L2035.5,1293.6L2034.6,1294.6L2030.7,1296.0L2011.1,1300.1L2003.6,1302.1L1999.0,1304.6L1995.8,1308.1L1991.2,1317.6L1988.7,1325.4L1986.6,1339.1L1984.0,1349.1L1983.4,1360.6L1982.2,1366.6L1976.2,1382.6L1974.2,1385.6ZM1639.2,1153.1L1641.0,1197.6L1642.5,1210.1L1643.1,1223.6L1644.5,1233.1L1645.5,1244.6L1647.2,1251.1L1650.2,1258.1L1654.7,1265.0L1659.2,1270.0L1668.3,1277.1L1671.2,1278.0L1674.2,1277.6L1676.5,1276.1L1678.4,1273.6L1683.5,1261.1L1685.2,1259.8L1686.7,1259.8L1689.2,1261.4L1691.5,1264.6L1696.0,1276.6L1698.0,1278.6L1700.7,1280.0L1704.7,1280.8L1715.2,1281.7L1728.7,1281.7L1733.7,1282.2L1739.5,1283.6L1745.2,1285.6L1746.7,1287.1L1746.4,1289.1L1746.7,1289.6L1748.7,1290.3L1754.3,1291.1L1786.5,1293.6L1792.4,1294.6L1793.9,1295.1L1794.7,1295.6L1794.7,1296.1L1790.3,1297.6L1777.7,1299.1L1732.7,1300.3L1712.7,1300.3L1706.2,1300.7L1701.7,1301.6L1699.9,1302.6L1699.1,1304.6L1702.4,1315.1L1702.5,1319.1L1701.9,1322.1L1700.2,1325.1L1697.7,1327.6L1693.7,1330.2L1690.2,1331.3L1686.7,1331.1L1682.7,1329.2L1675.6,1324.6L1669.7,1319.2L1667.7,1318.0L1665.2,1317.6L1662.7,1318.4L1659.7,1320.9L1655.7,1326.6L1650.2,1333.2L1645.0,1341.6L1643.2,1345.8L1640.9,1353.1L1638.8,1363.6L1635.9,1373.1L1633.9,1382.1L1632.9,1384.1L1631.7,1385.3L1630.2,1386.0L1628.7,1386.3L1626.7,1385.7L1624.3,1381.6L1615.4,1354.1L1613.2,1342.2L1611.6,1338.6L1609.2,1335.1L1601.7,1327.6L1597.3,1321.6L1594.4,1318.6L1587.2,1312.4L1580.7,1307.9L1575.5,1303.6L1571.8,1301.6L1558.1,1297.1L1555.9,1296.1L1554.8,1295.1L1557.5,1293.6L1573.3,1288.1L1579.7,1284.6L1592.2,1271.6L1598.7,1265.6L1606.2,1256.8L1608.4,1253.1L1610.9,1245.6L1613.1,1232.6L1615.8,1222.1L1616.4,1206.1L1617.5,1195.6L1617.2,1185.6L1618.7,1166.6L1619.0,1153.1M1972.2,1378.2L1970.2,1378.5L1967.7,1377.0L1964.3,1373.1L1962.4,1369.1L1961.0,1359.6L1958.8,1350.1L1957.3,1334.1L1954.4,1318.6L1951.6,1309.1L1950.0,1305.1L1948.6,1303.1L1947.1,1302.1L1943.7,1301.1L1900.7,1296.9L1889.4,1295.1L1887.7,1294.6L1886.3,1293.6L1887.2,1292.6L1888.8,1292.1L1902.2,1290.0L1939.8,1286.1L1944.2,1285.1L1946.7,1283.6L1948.1,1281.6L1949.7,1278.0L1952.7,1270.3L1954.5,1264.6L1955.7,1257.7L1957.4,1241.6L1961.8,1224.1L1964.2,1218.3L1966.3,1214.6L1968.7,1212.1L1971.2,1211.1L1972.7,1211.3L1973.7,1212.0L1975.8,1214.6L1982.1,1230.6L1983.8,1237.6L1985.2,1252.1L1987.7,1264.7L1989.7,1269.9L1995.2,1279.6L1998.9,1283.6L2002.8,1285.6L2010.0,1287.6L2025.7,1291.0L2028.9,1292.1L2030.1,1293.1L2030.2,1293.6L2028.7,1294.8L2024.9,1296.1L1998.7,1302.1L1995.9,1303.6L1993.7,1305.9L1989.2,1315.5L1987.2,1321.6L1984.7,1338.1L1981.9,1348.6L1980.9,1359.6L1979.9,1364.6L1978.2,1369.1L1976.2,1373.3L1974.2,1376.4ZM1634.7,1153.1L1637.5,1173.6L1637.4,1183.6L1638.3,1198.6L1639.8,1211.6L1639.9,1221.1L1642.0,1233.1L1642.8,1245.1L1644.7,1252.8L1647.2,1259.6L1651.7,1268.4L1655.0,1272.6L1658.2,1275.1L1665.7,1279.7L1668.7,1280.9L1671.7,1281.2L1674.7,1280.5L1678.2,1278.7L1680.7,1276.6L1685.2,1271.2L1686.7,1270.3L1687.7,1270.2L1689.7,1271.7L1692.8,1276.6L1694.6,1278.6L1697.7,1280.6L1700.7,1281.7L1715.7,1283.4L1727.2,1283.3L1731.5,1283.6L1734.7,1284.5L1736.9,1285.6L1737.8,1287.1L1737.0,1289.6L1738.2,1290.6L1739.9,1291.1L1779.2,1293.9L1785.8,1295.1L1786.8,1295.6L1786.9,1296.1L1784.6,1297.1L1780.2,1297.9L1766.2,1298.9L1730.7,1299.7L1710.7,1299.6L1703.4,1300.1L1698.8,1301.1L1696.4,1302.6L1695.6,1304.6L1696.0,1307.6L1698.4,1315.1L1698.6,1318.1L1698.1,1321.1L1696.9,1323.6L1695.2,1325.5L1692.7,1327.0L1690.2,1327.6L1687.7,1327.5L1685.2,1326.5L1680.7,1323.7L1677.7,1321.1L1675.3,1317.6L1673.7,1310.4L1672.2,1308.2L1669.2,1307.4L1665.2,1308.2L1662.2,1310.4L1658.2,1314.7L1653.3,1323.1L1646.2,1333.3L1641.5,1342.1L1637.3,1352.6L1636.1,1356.6L1634.7,1363.6L1633.7,1366.6L1631.2,1370.5L1629.7,1371.6L1628.2,1372.0L1626.7,1371.5L1625.0,1369.1L1619.5,1357.1L1617.8,1351.6L1616.3,1342.1L1614.2,1336.5L1611.2,1331.7L1602.4,1320.6L1594.9,1313.6L1590.2,1308.7L1587.6,1306.6L1577.7,1301.6L1564.9,1297.1L1563.3,1296.1L1562.5,1295.1L1563.5,1294.1L1566.5,1292.6L1582.1,1287.6L1585.6,1285.6L1593.7,1276.5L1601.8,1269.1L1609.2,1258.1L1611.2,1254.4L1613.2,1247.7L1615.5,1234.1L1618.3,1223.6L1618.9,1207.1L1620.3,1195.6L1620.0,1185.1L1621.7,1168.1L1622.1,1153.1M1971.2,1370.6L1969.2,1370.4L1967.2,1368.1L1965.3,1360.1L1962.1,1351.6L1961.2,1347.1L1959.9,1333.1L1957.2,1317.6L1954.3,1308.6L1952.5,1304.6L1951.2,1302.8L1949.2,1301.5L1945.2,1300.4L1925.7,1298.9L1907.2,1296.9L1897.5,1295.1L1895.0,1294.1L1894.6,1293.6L1894.9,1293.1L1897.3,1292.1L1903.2,1290.8L1923.2,1288.3L1942.6,1286.6L1946.9,1285.6L1949.5,1284.1L1951.7,1280.1L1955.2,1271.3L1956.7,1266.6L1957.8,1260.1L1959.7,1243.6L1960.7,1239.1L1966.2,1226.0L1968.7,1223.0L1971.2,1221.9L1972.7,1222.2L1974.7,1224.4L1977.7,1229.0L1979.9,1233.6L1981.5,1240.1L1983.1,1254.6L1985.3,1265.6L1987.7,1272.0L1993.3,1282.1L1995.3,1284.1L1998.4,1285.6L2021.3,1291.1L2023.9,1292.1L2025.0,1293.1L2025.0,1293.6L2023.0,1295.1L2017.7,1296.8L1995.3,1301.6L1992.7,1302.9L1991.0,1304.6L1987.2,1312.7L1985.1,1318.6L1983.9,1325.1L1982.5,1337.1L1979.8,1346.6L1978.4,1355.6L1977.4,1360.1L1974.2,1367.7L1972.7,1369.8ZM1627.7,1360.1L1626.7,1360.1L1625.2,1358.6L1622.0,1353.6L1620.9,1350.1L1619.0,1340.6L1615.7,1332.8L1610.2,1323.6L1604.7,1316.2L1595.8,1307.1L1592.6,1304.6L1589.4,1303.1L1571.8,1297.6L1569.2,1296.3L1568.2,1295.1L1569.7,1293.6L1572.7,1292.3L1585.8,1288.6L1589.5,1287.1L1592.0,1285.6L1599.7,1279.4L1603.2,1275.9L1606.2,1271.9L1613.4,1257.6L1615.7,1250.1L1618.4,1234.6L1621.5,1225.1L1621.6,1213.1L1623.4,1203.1L1624.2,1196.1L1624.6,1178.1L1626.5,1169.6L1627.2,1164.1L1628.2,1162.3L1629.2,1162.8L1630.2,1164.6L1632.7,1171.0L1633.6,1174.6L1633.0,1184.6L1633.7,1190.6L1634.7,1205.6L1635.7,1213.1L1635.8,1220.1L1636.4,1223.1L1639.1,1232.6L1639.6,1243.1L1640.1,1246.6L1642.7,1255.8L1645.2,1262.8L1649.7,1273.2L1652.7,1277.5L1655.2,1279.2L1664.7,1283.5L1669.7,1284.7L1673.7,1284.0L1684.2,1278.5L1686.2,1277.9L1687.7,1277.9L1699.2,1283.3L1709.7,1285.1L1712.8,1286.1L1714.5,1287.1L1714.7,1287.6L1713.2,1289.6L1713.5,1290.1L1714.7,1290.4L1722.7,1290.5L1742.7,1292.9L1765.2,1293.7L1775.7,1295.1L1777.5,1295.6L1777.8,1296.1L1774.0,1297.1L1763.2,1298.1L1730.2,1298.9L1710.2,1298.7L1702.7,1299.2L1697.2,1300.2L1694.5,1301.1L1691.9,1302.6L1689.9,1304.6L1688.8,1306.6L1688.4,1308.6L1688.7,1310.1L1692.0,1315.1L1692.7,1317.6L1692.5,1319.1L1691.7,1320.6L1690.7,1321.4L1689.2,1321.8L1687.2,1321.5L1685.2,1320.6L1683.2,1319.0L1681.9,1317.1L1681.4,1315.6L1681.3,1313.6L1682.8,1306.6L1682.4,1305.1L1681.1,1303.6L1678.7,1302.6L1674.7,1302.3L1664.2,1303.5L1660.1,1304.6L1657.1,1306.6L1654.3,1310.1L1650.0,1320.6L1643.7,1330.3L1634.7,1348.9L1629.7,1358.0ZM1972.7,1355.8L1971.2,1355.9L1969.2,1354.9L1967.2,1352.7L1965.7,1349.8L1964.9,1346.1L1963.8,1333.6L1960.2,1315.9L1958.9,1312.1L1955.9,1305.6L1954.8,1303.6L1953.4,1302.1L1950.3,1300.6L1945.4,1299.6L1927.7,1298.4L1909.1,1296.1L1903.7,1294.9L1901.6,1293.6L1902.2,1292.8L1903.8,1292.1L1908.2,1291.1L1924.2,1289.0L1945.2,1287.1L1949.3,1286.1L1952.0,1284.6L1954.2,1281.1L1958.2,1271.8L1959.7,1267.2L1960.6,1262.6L1962.6,1244.6L1963.7,1240.6L1965.2,1237.7L1967.7,1234.6L1969.7,1233.1L1971.7,1232.5L1973.2,1232.9L1974.7,1234.4L1977.4,1239.6L1979.2,1245.6L1980.9,1258.6L1983.2,1268.1L1985.3,1273.6L1990.7,1283.2L1992.7,1285.0L1995.3,1286.1L2016.5,1291.1L2019.1,1292.1L2020.1,1293.1L2020.2,1293.6L2018.4,1295.1L2013.2,1296.9L1992.1,1301.1L1990.0,1302.1L1988.3,1303.6L1985.2,1309.7L1982.7,1316.1L1980.9,1324.6L1979.3,1337.6L1977.1,1344.6L1975.2,1352.5L1974.2,1354.4ZM1724.7,1287.7L1722.2,1288.0L1720.7,1287.6L1721.4,1287.1L1723.7,1286.9L1725.2,1287.1ZM1627.2,1348.8L1626.1,1348.1L1624.7,1345.9L1620.8,1336.1L1614.7,1323.2L1604.2,1305.4L1600.7,1303.5L1579.2,1298.4L1575.0,1296.6L1573.5,1295.1L1575.0,1293.6L1577.7,1292.5L1595.5,1287.6L1599.8,1286.1L1603.1,1284.1L1605.9,1281.1L1611.7,1271.5L1616.8,1259.1L1618.3,1254.1L1622.0,1236.1L1627.2,1223.6L1628.2,1222.2L1629.2,1222.5L1631.7,1225.5L1634.7,1231.0L1635.8,1235.6L1636.3,1245.1L1637.5,1250.1L1647.7,1279.7L1649.2,1282.6L1651.2,1284.3L1654.2,1285.4L1662.7,1287.1L1672.2,1288.0L1675.9,1287.1L1680.1,1284.1L1683.2,1282.5L1685.7,1281.8L1687.7,1281.7L1691.7,1282.9L1696.7,1285.6L1698.4,1287.1L1699.6,1289.6L1700.7,1290.6L1706.2,1292.2L1713.2,1293.1L1730.7,1293.2L1743.2,1294.5L1760.2,1295.0L1764.2,1295.6L1764.3,1296.1L1761.2,1296.7L1749.2,1296.9L1733.2,1297.8L1712.7,1297.5L1706.2,1297.7L1698.7,1298.6L1688.2,1300.8L1675.2,1300.6L1661.1,1302.1L1654.6,1303.6L1652.1,1305.1L1650.2,1307.4L1648.7,1310.6L1645.8,1319.1L1639.3,1329.1L1634.7,1339.7L1630.7,1345.7ZM1973.2,1337.8L1972.7,1337.9L1971.8,1336.6L1969.8,1331.1L1966.8,1324.6L1963.6,1313.1L1957.8,1303.6L1955.9,1301.6L1952.4,1300.1L1947.6,1299.1L1930.2,1297.9L1916.4,1296.1L1910.2,1294.7L1908.6,1293.6L1909.7,1292.6L1915.6,1291.1L1926.2,1289.5L1947.2,1287.7L1951.7,1286.6L1954.6,1285.1L1957.1,1281.6L1964.5,1265.1L1965.7,1260.6L1966.1,1251.1L1966.7,1246.6L1968.2,1243.4L1969.2,1242.5L1970.7,1242.0L1972.2,1242.2L1973.2,1242.8L1975.1,1246.1L1976.2,1250.1L1977.3,1259.6L1980.8,1270.6L1982.7,1274.9L1988.4,1284.1L1990.1,1285.6L1992.5,1286.6L2012.2,1291.1L2014.6,1292.1L2015.7,1293.6L2014.2,1295.1L2011.2,1296.3L2005.2,1297.7L1991.0,1300.1L1988.1,1301.1L1985.9,1302.6L1982.7,1308.1L1979.3,1316.1L1975.9,1326.6L1974.2,1335.1ZM1627.7,1337.6L1626.7,1337.4L1623.2,1332.1L1618.0,1320.6L1609.7,1305.6L1608.1,1303.6L1604.2,1301.9L1591.7,1299.9L1584.2,1298.2L1580.1,1296.6L1578.6,1295.1L1579.7,1294.0L1582.8,1292.6L1590.7,1290.4L1603.6,1287.6L1606.4,1286.6L1608.7,1284.9L1611.2,1281.3L1616.2,1272.1L1621.9,1257.1L1625.1,1245.1L1626.7,1241.7L1627.7,1241.1L1628.8,1241.6L1630.0,1243.6L1632.5,1252.1L1640.6,1269.6L1644.5,1283.1L1645.2,1284.6L1646.6,1286.1L1648.6,1287.1L1652.2,1287.9L1674.7,1290.0L1679.7,1289.3L1685.2,1286.3L1687.7,1286.0L1690.2,1287.0L1692.8,1290.1L1695.0,1291.6L1704.1,1295.1L1703.8,1295.6L1702.5,1296.1L1690.2,1298.8L1677.2,1299.1L1658.9,1301.1L1652.6,1302.1L1648.5,1303.6L1646.9,1305.1L1645.7,1307.0L1642.6,1315.6L1640.8,1319.1L1635.0,1326.6L1630.9,1335.1L1629.6,1336.6ZM1972.7,1319.1L1970.9,1317.1L1966.4,1309.6L1960.4,1302.6L1957.6,1300.6L1952.7,1299.1L1946.7,1298.1L1931.7,1297.2L1922.2,1295.8L1917.3,1294.6L1916.4,1294.1L1916.0,1293.6L1916.2,1293.1L1918.2,1292.1L1923.2,1291.0L1946.8,1288.6L1952.2,1287.6L1956.4,1286.1L1958.4,1284.6L1959.7,1283.1L1967.5,1269.6L1971.7,1264.8L1972.7,1263.9L1973.2,1263.9L1975.6,1267.6L1979.1,1275.1L1985.4,1284.1L1986.9,1285.6L1988.6,1286.6L1991.7,1287.6L2007.7,1291.1L2010.3,1292.1L2011.5,1293.6L2009.9,1295.1L2007.2,1296.1L1989.2,1299.4L1984.5,1301.1L1982.6,1302.6L1981.1,1304.6L1975.4,1315.6L1973.2,1319.1ZM1627.2,1326.5L1626.2,1325.6L1623.0,1319.6L1614.0,1305.6L1611.9,1303.1L1609.7,1301.9L1606.7,1300.9L1593.7,1298.9L1588.2,1297.6L1585.5,1296.6L1583.9,1295.1L1585.7,1293.6L1589.2,1292.3L1607.4,1288.6L1610.7,1287.6L1612.5,1286.6L1614.2,1284.6L1618.9,1277.1L1623.7,1265.3L1625.7,1261.9L1627.2,1260.4L1629.2,1261.4L1631.2,1263.0L1634.7,1267.3L1637.4,1273.1L1640.6,1284.1L1641.9,1286.1L1644.1,1287.6L1650.2,1289.1L1674.7,1291.6L1686.7,1291.8L1690.2,1292.8L1693.2,1294.6L1693.4,1295.1L1692.3,1296.1L1688.7,1297.1L1678.2,1297.6L1667.7,1299.2L1653.5,1300.6L1647.9,1301.6L1645.1,1302.6L1643.5,1303.6L1642.3,1305.1L1639.3,1312.6L1637.2,1316.3L1635.2,1318.6L1630.7,1322.6ZM1973.2,1309.9L1972.7,1309.8L1969.4,1306.1L1964.8,1302.6L1961.6,1300.6L1959.1,1299.6L1955.2,1298.6L1946.2,1297.2L1929.2,1295.7L1924.7,1294.6L1923.7,1294.1L1923.2,1293.6L1923.4,1293.1L1925.4,1292.1L1928.7,1291.4L1947.2,1289.5L1953.2,1288.4L1958.0,1287.1L1961.1,1285.6L1963.0,1284.1L1968.7,1276.7L1972.7,1273.0L1973.2,1273.0L1975.8,1277.1L1982.5,1284.6L1985.1,1286.6L1989.1,1288.1L2002.8,1291.1L2005.5,1292.1L2006.7,1293.1L2006.6,1294.1L2006.0,1294.6L2003.6,1295.6L1998.2,1296.9L1987.2,1298.7L1981.5,1300.6L1977.7,1303.6ZM1627.7,1315.6L1627.2,1315.8L1626.2,1315.0L1619.3,1305.6L1615.9,1302.6L1609.1,1300.1L1592.9,1297.1L1589.8,1295.6L1589.5,1295.1L1589.7,1294.6L1591.2,1293.6L1595.2,1292.3L1611.2,1289.4L1616.3,1287.6L1618.7,1285.6L1623.4,1279.6L1627.2,1271.9L1629.2,1273.2L1631.2,1275.6L1636.9,1286.1L1639.7,1288.1L1642.8,1289.1L1648.2,1290.1L1667.7,1292.0L1673.2,1293.2L1676.7,1294.6L1676.8,1295.1L1675.1,1296.1L1669.7,1297.7L1648.7,1300.1L1641.2,1301.9L1639.7,1302.7L1638.3,1304.1L1635.6,1309.6L1633.7,1312.3L1631.2,1314.2ZM1973.2,1302.9L1967.1,1300.6L1958.2,1298.1L1944.2,1295.8L1934.2,1294.8L1931.8,1294.1L1931.3,1293.6L1932.6,1292.6L1934.7,1292.1L1949.7,1290.1L1961.2,1287.6L1967.0,1285.1L1972.7,1280.3L1973.2,1280.3L1978.9,1285.1L1982.2,1287.1L1986.5,1288.6L1998.2,1291.3L2000.4,1292.1L2001.5,1293.1L2001.3,1294.1L1998.7,1295.4L1981.0,1299.1L1976.8,1300.6ZM1627.7,1305.8L1627.2,1306.1L1626.7,1305.8L1624.3,1303.6L1620.2,1301.6L1610.7,1299.1L1599.7,1297.0L1597.0,1296.1L1595.8,1295.1L1597.2,1293.8L1600.6,1292.6L1612.5,1290.6L1618.7,1289.1L1623.2,1287.1L1627.2,1284.2L1632.1,1287.6L1637.8,1289.6L1646.8,1291.1L1664.2,1293.0L1668.2,1294.1L1669.3,1295.1L1668.1,1296.1L1664.3,1297.1L1647.0,1299.1L1638.7,1300.6L1633.4,1302.6ZM1973.2,1299.8L1949.7,1295.2L1946.4,1294.1L1945.9,1293.6L1945.9,1293.1L1949.4,1291.6L1967.4,1287.6L1973.2,1285.2L1980.0,1288.1L1993.7,1291.6L1995.0,1292.1L1996.2,1293.1L1995.8,1294.1L1993.5,1295.1L1979.1,1298.1ZM1974.2,1297.6L1972.7,1297.9L1961.2,1296.0L1955.8,1294.6L1954.2,1293.8L1953.9,1293.1L1955.3,1292.1L1957.2,1291.5L1973.2,1288.0L1986.8,1291.6L1988.2,1292.1L1989.3,1293.1L1988.5,1294.1L1985.9,1295.1ZM1629.2,1300.6L1626.7,1301.0L1614.2,1298.4L1605.0,1296.1L1603.1,1295.1L1603.9,1294.1L1606.2,1293.4L1627.2,1289.1L1637.2,1291.2L1654.9,1293.6L1658.7,1294.5L1659.6,1295.1L1658.7,1295.6L1654.2,1296.6ZM1974.7,1295.7L1972.7,1296.1L1966.7,1295.1L1963.3,1294.1L1962.4,1293.1L1963.7,1292.1L1973.2,1290.1L1979.4,1291.6L1981.3,1292.6L1981.2,1293.6L1980.4,1294.1ZM1628.7,1298.6L1626.7,1298.8L1617.1,1297.1L1613.8,1296.1L1612.4,1295.1L1613.7,1294.1L1617.1,1293.1L1627.2,1291.3L1643.0,1294.1L1645.4,1295.1L1642.8,1296.1ZM1628.2,1296.1L1626.7,1296.3L1623.7,1295.1L1624.7,1294.4L1627.2,1293.8L1630.7,1295.1ZM1552.7,1269.6L1548.7,1269.8L1545.3,1269.0L1543.4,1267.5L1543.2,1266.5L1543.5,1265.5L1544.9,1264.0L1548.2,1263.1L1551.2,1263.1L1554.0,1264.0L1556.3,1265.5L1556.5,1267.0L1555.2,1268.6ZM1550.7,1268.5L1548.7,1268.5L1547.0,1268.0L1545.9,1267.0L1545.9,1266.0L1547.2,1264.8L1549.7,1264.2L1551.7,1264.5L1553.5,1265.5L1554.1,1266.5L1553.7,1267.5L1552.7,1268.1ZM1751.5,1260.5L1748.5,1260.7L1746.5,1259.6L1745.6,1258.5L1745.0,1257.0L1745.1,1256.0L1745.6,1255.0L1746.5,1254.4L1747.5,1254.2L1751.5,1254.7L1755.5,1254.3L1757.3,1255.0L1758.7,1256.5L1758.9,1258.0L1758.0,1259.1ZM1660.7,1244.4L1658.7,1243.9L1657.2,1242.7L1656.4,1240.8L1656.4,1238.3L1657.2,1236.5L1658.6,1235.3L1660.7,1234.8L1662.7,1234.8L1664.2,1235.5L1665.6,1236.8L1666.3,1238.3L1666.4,1240.3L1666.1,1241.3L1665.2,1242.4ZM1700.5,1210.1L1698.5,1210.3L1695.5,1209.1L1692.5,1209.1L1687.0,1207.3L1684.5,1205.4L1680.9,1203.5L1680.0,1202.0L1680.1,1200.5L1681.0,1199.6L1682.0,1199.3L1685.5,1198.6L1688.5,1198.5L1691.5,1199.0L1697.5,1201.4L1698.5,1202.0L1702.5,1205.8L1703.6,1207.5L1703.6,1209.0ZM1659.5,1176.1L1657.5,1176.4L1655.5,1176.1L1654.2,1175.6L1653.5,1174.6L1654.3,1173.6L1655.7,1173.1L1658.0,1172.7L1660.0,1172.8L1661.0,1173.2L1661.6,1174.1L1661.2,1175.1ZM1599.0,1351.1L1597.0,1351.3L1595.5,1351.1L1591.0,1348.9L1589.6,1348.0L1589.0,1347.1L1588.8,1346.5L1589.0,1345.5L1590.0,1344.7L1593.5,1344.2L1598.0,1342.1L1600.0,1342.0L1602.0,1342.6L1603.2,1343.5L1605.4,1347.0L1605.5,1348.3L1604.3,1349.5ZM1659.6,1350.2L1657.6,1350.0L1655.6,1349.3L1653.8,1348.2L1652.9,1347.2L1652.3,1345.7L1652.1,1342.7L1652.7,1341.2L1653.9,1340.2L1656.1,1339.6L1658.6,1339.6L1663.3,1341.2L1664.3,1342.2L1663.7,1344.7L1663.8,1346.7L1663.4,1347.7L1661.6,1349.6ZM1680.5,1383.1L1678.5,1382.9L1677.0,1382.2L1676.3,1381.1L1676.4,1380.1L1677.5,1379.0L1679.5,1378.1L1681.0,1377.9L1682.5,1378.2L1683.7,1379.1L1683.9,1380.6L1682.5,1382.4ZM1684.6,1399.8L1683.1,1400.0L1680.1,1399.8L1677.1,1398.7L1673.6,1395.9L1672.9,1394.6L1673.1,1393.6L1674.1,1392.8L1675.1,1392.7L1679.6,1393.1L1681.6,1393.9L1684.6,1395.6L1685.6,1396.7L1685.9,1397.6L1685.9,1398.6ZM1625.0,1173.5L1623.0,1173.6L1621.5,1173.0L1621.0,1172.0L1621.4,1171.0L1622.0,1170.4L1623.5,1170.0L1625.0,1170.1L1626.5,1170.7L1627.1,1171.5L1626.9,1172.5ZM1653.0,1193.6L1651.5,1193.8L1650.0,1193.1L1649.5,1192.0L1649.9,1191.0L1651.0,1190.4L1652.0,1190.2L1654.0,1190.9L1654.4,1191.5L1654.4,1192.5ZM1628.5,1441.2L1622.5,1441.1L1621.5,1440.6L1620.5,1439.5L1619.3,1437.5L1618.9,1435.5L1619.7,1433.5L1621.5,1431.6L1624.0,1430.5L1626.5,1430.3L1628.5,1431.1L1630.8,1433.0L1631.1,1434.0L1629.5,1436.5L1629.5,1440.0L1629.0,1440.9ZM1630.9,1479.8L1627.4,1480.0L1621.9,1479.2L1616.4,1476.7L1614.5,1475.3L1611.8,1470.8L1611.4,1469.3L1612.2,1466.8L1613.9,1463.3L1614.9,1462.0L1616.4,1461.1L1622.9,1458.6L1629.9,1457.7L1638.9,1459.6L1640.2,1460.3L1641.3,1461.3L1644.2,1465.8L1644.8,1467.8L1644.3,1470.3L1641.6,1475.8L1639.8,1477.3L1635.9,1478.2ZM1630.9,1478.3L1627.4,1478.4L1622.4,1477.6L1619.9,1476.7L1616.8,1474.8L1615.7,1473.3L1614.2,1468.8L1614.7,1466.3L1616.4,1463.8L1623.4,1460.2L1629.4,1459.3L1631.4,1459.5L1637.8,1461.3L1639.5,1462.3L1641.6,1465.3L1642.3,1467.8L1642.0,1469.3L1639.6,1474.3L1638.9,1475.3L1637.9,1475.9ZM1632.9,1475.8L1630.4,1476.2L1626.4,1476.0L1623.4,1475.3L1621.2,1474.3L1619.2,1472.8L1618.2,1471.3L1617.2,1468.3L1617.5,1466.8L1618.3,1465.8L1620.9,1464.3L1623.4,1462.2L1625.9,1461.4L1629.4,1461.1L1631.4,1461.2L1637.5,1463.8L1638.9,1465.1L1639.5,1466.8L1639.5,1468.8L1638.8,1471.3L1637.9,1473.1L1636.9,1474.1ZM1627.9,1472.8L1625.4,1472.6L1622.9,1471.0L1621.7,1469.3L1622.0,1467.3L1623.7,1464.8L1625.4,1463.7L1629.9,1463.2L1632.4,1463.8L1634.5,1465.3L1636.0,1467.3L1636.4,1469.3L1635.9,1470.8L1634.9,1471.8L1633.4,1472.4ZM1653.5,1483.6L1652.0,1483.8L1650.0,1483.5L1640.0,1479.6L1635.3,1476.0L1634.6,1474.5L1634.7,1473.0L1635.5,1472.3L1636.5,1472.0L1639.5,1471.9L1643.5,1473.1L1648.0,1475.3L1652.8,1478.5L1654.6,1480.5L1655.0,1481.5L1654.9,1482.5ZM1650.5,1480.7L1648.0,1480.6L1641.0,1478.7L1638.4,1476.5L1637.8,1475.5L1637.8,1474.5L1639.0,1473.8L1640.5,1473.7L1645.4,1475.5L1648.1,1477.0L1649.9,1478.5L1650.8,1480.0ZM1675.5,1468.1L1672.0,1468.1L1668.5,1466.5L1667.6,1465.0L1668.2,1463.0L1669.8,1461.5L1672.0,1460.4L1674.0,1458.8L1675.5,1458.3L1679.0,1458.9L1681.5,1460.1L1684.5,1461.1L1685.5,1462.0L1685.7,1463.0L1685.4,1464.0L1684.0,1465.5L1682.5,1466.3L1679.0,1466.8ZM1678.4,1482.4L1675.9,1482.7L1673.9,1482.2L1670.8,1479.8L1670.5,1479.3L1670.7,1478.3L1672.1,1476.8L1674.4,1475.8L1677.9,1475.9L1680.4,1476.6L1681.9,1478.0L1682.2,1478.8L1682.1,1479.8L1680.8,1481.3ZM1629.0,1508.0L1627.0,1508.2L1625.5,1507.8L1623.6,1506.5L1621.5,1504.5L1619.8,1502.0L1618.6,1497.0L1619.6,1493.0L1619.9,1490.0L1620.5,1488.5L1621.5,1487.3L1625.0,1484.4L1627.5,1483.4L1629.5,1483.8L1633.5,1485.4L1635.1,1486.5L1636.2,1488.0L1637.8,1491.0L1638.7,1494.5L1638.3,1499.5L1637.6,1501.5L1636.5,1503.2L1634.4,1506.0L1633.2,1507.0L1632.0,1507.5ZM1629.5,1503.6L1628.0,1503.9L1627.0,1503.6L1624.0,1501.9L1622.4,1500.5L1621.8,1498.5L1622.8,1494.0L1622.7,1491.0L1623.0,1490.0L1624.7,1488.5L1627.0,1487.2L1628.5,1486.8L1630.5,1487.1L1632.4,1488.5L1635.4,1493.5L1635.9,1495.5L1635.8,1497.0L1635.2,1498.5L1632.5,1500.5L1630.5,1503.0ZM1637.5,1531.2L1635.0,1531.2L1631.0,1530.6L1628.5,1529.6L1626.2,1528.2L1624.7,1526.7L1623.9,1524.7L1624.2,1522.7L1625.0,1521.2L1626.0,1520.3L1627.5,1519.7L1636.0,1518.1L1638.5,1518.6L1642.7,1520.7L1643.7,1521.7L1644.5,1523.7L1644.7,1525.7L1644.3,1527.2L1643.2,1528.7L1641.8,1529.7ZM1638.0,1528.9L1634.5,1529.1L1632.5,1528.6L1630.5,1527.7L1627.7,1525.7L1627.1,1524.2L1627.3,1523.2L1628.0,1522.5L1630.5,1522.0L1636.0,1520.2L1637.5,1520.2L1639.0,1520.7L1640.4,1521.7L1641.2,1522.7L1641.5,1525.2L1640.5,1527.4ZM1630.4,1553.0L1627.9,1552.9L1625.9,1552.0L1624.5,1550.4L1623.8,1548.4L1624.1,1545.9L1625.2,1543.4L1626.9,1541.4L1628.9,1540.5L1630.9,1540.8L1632.5,1541.9L1633.6,1543.9L1634.2,1546.4L1634.2,1548.9L1633.5,1550.9L1632.0,1552.4ZM1651.0,1599.8L1650.0,1600.0L1649.0,1599.8L1647.7,1598.5L1647.5,1597.5L1647.7,1596.5L1649.0,1595.2L1650.0,1595.0L1651.0,1595.2L1652.3,1596.5L1652.5,1597.5L1652.3,1598.5ZM1569.2,1614.6L1567.2,1614.3L1565.5,1613.1L1565.3,1611.6L1566.7,1610.1L1568.7,1609.3L1570.7,1609.3L1573.2,1610.0L1574.4,1611.1L1574.6,1612.1L1573.7,1613.4L1572.0,1614.1ZM1627.3,1621.4L1622.8,1621.8L1616.8,1621.2L1611.3,1619.5L1609.0,1618.3L1606.6,1615.8L1605.1,1612.8L1605.1,1609.3L1606.5,1606.3L1608.3,1604.4L1610.3,1603.4L1614.8,1601.9L1619.8,1601.0L1627.8,1601.3L1630.8,1602.0L1632.8,1603.0L1635.9,1606.3L1637.5,1608.8L1638.0,1611.8L1637.6,1614.8L1636.8,1616.3L1635.6,1617.3L1629.3,1620.7ZM1626.3,1620.4L1622.8,1620.6L1616.8,1619.7L1611.8,1618.2L1609.8,1617.2L1608.0,1615.3L1606.7,1612.3L1606.7,1609.8L1607.8,1607.3L1609.3,1605.7L1611.3,1604.5L1615.8,1603.0L1619.3,1602.3L1621.8,1602.1L1627.8,1602.4L1629.8,1602.9L1631.6,1603.8L1633.5,1605.8L1635.7,1608.8L1636.3,1611.8L1636.0,1614.3L1635.5,1615.3L1634.3,1616.3L1628.8,1619.6ZM1626.3,1618.8L1624.3,1619.2L1622.3,1619.1L1611.3,1616.2L1609.7,1614.8L1608.7,1612.8L1608.5,1610.8L1609.2,1608.8L1610.4,1607.3L1612.3,1606.0L1618.8,1603.6L1621.3,1603.4L1625.8,1603.6L1628.3,1604.0L1629.8,1604.5L1631.8,1606.2L1633.9,1608.8L1634.6,1610.8L1634.5,1612.8L1633.8,1614.3L1632.3,1615.7L1628.8,1617.9ZM1624.8,1617.3L1623.3,1617.5L1621.8,1617.3L1616.3,1615.2L1612.3,1614.2L1611.3,1613.3L1610.9,1612.3L1610.9,1611.3L1611.4,1609.8L1613.3,1607.8L1619.8,1605.1L1625.3,1605.1L1628.8,1606.1L1630.8,1607.7L1632.1,1609.3L1632.7,1610.8L1632.6,1612.3L1631.8,1613.6L1630.4,1614.8ZM1623.3,1615.4L1621.3,1615.3L1618.3,1613.8L1616.2,1611.8L1615.9,1610.8L1616.1,1610.3L1619.3,1607.7L1622.3,1606.7L1625.3,1607.0L1628.7,1608.8L1629.6,1609.8L1630.0,1610.8L1629.4,1612.3L1628.3,1613.1ZM1649.1,1617.4L1646.1,1617.6L1643.5,1616.4L1641.3,1613.9L1640.5,1610.9L1641.2,1608.4L1643.1,1606.4L1645.6,1605.2L1648.6,1604.6L1651.1,1605.1L1652.9,1606.4L1654.4,1608.4L1654.8,1610.4L1654.4,1612.9L1653.2,1614.9L1651.4,1616.4ZM1648.1,1615.4L1646.6,1615.3L1644.6,1614.1L1643.6,1612.9L1643.3,1611.4L1643.9,1609.4L1645.1,1607.6L1646.6,1606.7L1648.6,1606.3L1650.1,1606.7L1651.2,1607.4L1652.3,1608.9L1652.5,1610.4L1652.1,1612.3L1651.1,1613.8L1649.6,1614.9ZM1668.0,1614.5L1655.0,1614.1L1652.5,1613.6L1650.6,1612.5L1649.2,1611.0L1648.6,1609.5L1648.8,1608.0L1652.5,1603.8L1653.7,1603.0L1655.0,1602.7L1657.0,1603.1L1662.5,1605.1L1667.5,1603.8L1672.5,1605.1L1678.5,1605.1L1680.9,1606.0L1682.4,1607.5L1682.4,1610.0L1681.5,1611.6L1680.5,1611.8L1677.5,1611.5L1675.5,1611.7L1672.5,1612.5ZM1616.7,1626.5L1614.2,1626.2L1613.4,1625.5L1613.5,1625.0L1614.2,1624.4L1615.7,1624.0L1618.0,1624.5L1618.6,1625.5L1618.2,1626.0ZM1632.5,1641.7L1626.0,1642.1L1618.5,1641.0L1615.6,1639.7L1613.4,1638.2L1612.2,1636.7L1612.1,1635.2L1613.5,1633.2L1618.5,1630.8L1621.0,1630.1L1626.0,1629.3L1633.5,1629.8L1637.5,1631.2L1640.5,1631.8L1642.6,1633.2L1643.4,1634.7L1643.5,1636.2L1642.9,1637.7L1641.8,1638.7L1638.0,1641.0ZM1629.5,1641.2L1625.5,1641.2L1619.0,1640.0L1617.5,1639.2L1615.8,1637.7L1615.2,1636.7L1615.2,1635.7L1618.1,1632.7L1619.5,1631.7L1621.5,1631.0L1626.5,1630.2L1633.0,1630.8L1636.5,1632.2L1639.5,1633.1L1640.9,1634.2L1641.3,1635.2L1641.2,1636.7L1640.2,1638.2L1638.5,1639.5L1636.5,1640.3ZM1630.0,1640.2L1626.0,1640.2L1620.0,1638.8L1619.1,1638.2L1618.4,1637.2L1618.2,1636.2L1618.7,1634.7L1619.8,1633.2L1621.0,1632.4L1625.0,1631.4L1627.5,1631.2L1631.0,1631.5L1633.0,1632.0L1637.5,1634.4L1638.4,1635.2L1638.7,1636.2L1638.4,1637.2L1637.0,1638.6ZM1631.0,1638.7L1627.0,1639.1L1622.5,1637.9L1620.7,1636.7L1620.6,1635.2L1621.5,1634.0L1623.5,1633.2L1628.0,1632.5L1631.5,1633.0L1633.6,1634.2L1634.5,1635.2L1634.9,1636.2L1634.3,1637.2L1633.6,1637.7ZM1658.4,1640.2L1654.4,1640.2L1651.4,1639.5L1648.4,1638.5L1646.9,1637.6L1646.1,1636.6L1645.7,1635.1L1646.0,1634.1L1647.2,1632.6L1649.9,1630.5L1651.4,1629.9L1653.4,1629.6L1662.4,1630.5L1664.9,1631.7L1667.7,1634.1L1668.1,1635.1L1667.9,1636.1L1665.9,1637.9L1662.4,1639.5ZM1657.4,1638.2L1653.4,1637.8L1650.9,1636.7L1649.8,1635.6L1649.5,1634.6L1650.1,1632.6L1651.9,1631.2L1654.4,1631.0L1657.4,1631.6L1661.4,1632.0L1662.9,1632.8L1664.2,1634.1L1664.4,1635.6L1663.4,1636.8L1661.4,1637.5ZM1645.3,1664.8L1638.3,1664.7L1635.3,1663.7L1631.8,1661.3L1628.5,1656.3L1627.8,1651.3L1627.9,1649.8L1628.5,1648.3L1630.3,1646.5L1636.8,1642.6L1639.3,1642.0L1642.8,1641.8L1647.8,1643.1L1651.0,1644.8L1653.8,1647.1L1655.4,1648.8L1656.5,1650.8L1657.0,1652.8L1657.0,1654.8L1656.5,1656.3L1655.5,1657.8L1650.8,1662.7L1647.8,1664.2ZM1644.3,1663.3L1638.8,1663.2L1636.3,1662.4L1632.8,1659.8L1631.5,1657.8L1630.7,1655.8L1629.9,1651.8L1630.3,1649.7L1631.3,1648.8L1633.3,1647.8L1636.3,1644.7L1638.3,1643.7L1642.8,1643.2L1644.8,1643.6L1646.8,1644.4L1653.3,1649.4L1655.1,1652.3L1655.3,1654.3L1654.9,1655.8L1651.1,1660.3L1649.8,1661.4L1647.8,1662.5ZM1643.8,1661.3L1640.8,1661.4L1638.4,1660.8L1634.3,1658.6L1632.8,1656.3L1632.6,1653.8L1633.2,1651.8L1635.3,1649.5L1637.3,1646.5L1639.3,1645.4L1642.8,1645.0L1645.8,1646.0L1651.6,1650.8L1652.9,1652.8L1653.0,1654.3L1652.6,1655.3L1649.8,1658.8L1647.3,1660.3ZM1642.3,1658.4L1640.8,1658.2L1636.3,1656.7L1635.3,1655.8L1635.2,1654.8L1635.8,1653.6L1637.8,1651.5L1639.3,1648.8L1640.8,1648.0L1643.3,1647.7L1645.3,1648.3L1647.5,1650.3L1648.9,1652.3L1649.2,1654.3L1648.8,1655.5L1647.8,1656.5ZM1663.7,1657.6L1662.4,1657.5L1661.3,1657.0L1660.3,1655.5L1660.3,1654.5L1660.7,1653.6L1662.2,1652.6L1663.7,1652.4L1664.7,1652.8L1665.6,1653.5L1666.1,1654.5L1666.1,1655.5L1665.6,1656.5ZM1631.0,1682.1L1627.5,1682.6L1625.5,1682.1L1621.5,1677.6L1620.6,1676.1L1620.2,1674.6L1620.6,1671.1L1622.0,1667.6L1625.0,1663.8L1626.0,1663.1L1627.5,1662.5L1631.0,1662.9L1636.5,1665.0L1638.2,1667.1L1639.4,1671.1L1639.4,1673.6L1637.2,1680.1L1636.0,1681.1ZM1629.0,1680.1L1628.0,1680.1L1627.1,1679.6L1625.8,1676.6L1623.5,1675.1L1623.1,1674.1L1623.5,1672.5L1625.8,1669.6L1627.0,1666.2L1628.0,1665.3L1629.0,1665.1L1630.5,1665.5L1635.5,1667.8L1636.5,1669.4L1636.9,1671.6L1636.3,1674.1L1634.5,1676.8L1630.5,1679.5ZM1671.3,1670.9L1668.3,1671.0L1665.3,1670.0L1663.1,1667.8L1662.8,1666.8L1663.1,1665.8L1665.2,1664.3L1667.8,1663.4L1669.8,1663.4L1671.7,1664.3L1673.7,1666.3L1674.2,1668.3L1673.3,1669.8ZM1654.3,1700.9L1652.8,1700.9L1651.8,1700.6L1648.2,1697.8L1646.6,1695.8L1645.7,1692.8L1646.1,1687.3L1647.0,1684.8L1648.3,1683.1L1649.7,1681.8L1651.3,1681.1L1652.8,1680.8L1655.8,1681.1L1658.8,1682.8L1662.5,1687.3L1663.5,1690.3L1663.1,1693.8L1661.2,1697.3L1658.8,1699.2ZM1654.3,1699.3L1652.3,1699.0L1648.9,1696.3L1647.5,1694.3L1647.1,1692.3L1647.5,1687.8L1648.3,1685.3L1650.3,1683.1L1652.8,1682.2L1655.3,1682.4L1657.8,1683.8L1661.4,1688.3L1662.1,1690.8L1661.8,1693.3L1660.2,1696.3L1657.8,1698.1ZM1655.3,1697.3L1653.8,1697.4L1652.3,1696.7L1650.1,1694.8L1649.0,1692.8L1648.9,1690.3L1649.6,1686.3L1650.7,1684.8L1652.3,1684.0L1654.3,1683.9L1656.4,1684.8L1659.0,1687.8L1660.3,1690.3L1660.3,1692.3L1659.1,1694.8L1657.7,1696.3ZM1655.3,1694.9L1654.3,1694.8L1652.8,1693.8L1651.8,1692.7L1651.3,1691.5L1651.2,1689.8L1651.6,1687.8L1652.3,1686.7L1653.3,1686.3L1654.8,1686.5L1655.8,1687.1L1657.3,1688.8L1657.9,1690.3L1658.0,1691.8L1657.4,1693.3L1656.3,1694.5ZM1671.3,1696.9L1669.8,1696.7L1667.8,1694.6L1666.3,1692.3L1665.9,1689.8L1666.7,1684.3L1668.1,1679.8L1669.3,1677.9L1670.8,1677.3L1671.8,1677.5L1673.3,1678.3L1675.4,1680.8L1676.6,1684.3L1676.9,1690.3L1676.6,1692.3L1675.8,1693.8ZM1672.8,1692.4L1670.3,1692.6L1669.3,1692.5L1668.0,1691.3L1667.5,1689.8L1667.7,1687.3L1668.9,1683.3L1670.1,1680.8L1671.3,1680.1L1672.3,1680.3L1673.5,1681.3L1674.5,1683.3L1675.0,1685.3L1674.7,1690.8L1674.1,1691.8ZM1986.4,1476.0L1984.9,1475.9L1982.2,1474.5L1979.4,1474.4L1977.9,1473.9L1976.9,1472.8L1974.9,1469.0L1971.9,1467.0L1970.8,1465.5L1968.9,1459.5L1968.9,1458.5L1969.3,1457.5L1971.1,1455.5L1972.0,1452.0L1974.4,1450.2L1976.4,1450.0L1978.9,1451.3L1979.7,1452.5L1980.6,1455.0L1982.5,1457.0L1984.7,1460.5L1985.2,1462.0L1985.3,1465.5L1986.9,1468.6L1987.6,1471.0L1987.3,1474.5ZM1976.5,1418.5L1975.0,1418.4L1974.0,1417.8L1973.4,1416.5L1973.7,1415.5L1974.5,1414.5L1976.0,1413.7L1977.5,1413.7L1978.7,1414.0L1979.8,1415.0L1979.7,1416.5L1978.5,1417.7ZM2002.1,1281.5L1999.1,1281.4L1997.4,1280.5L1996.8,1279.0L1997.0,1278.0L1997.7,1277.0L1999.6,1275.9L2001.6,1275.5L2003.6,1275.6L2005.0,1276.5L2005.6,1278.0L2005.1,1280.0L2004.1,1281.0ZM2012.5,1287.6L2006.0,1288.0L2003.0,1287.9L2000.0,1287.1L1999.2,1286.6L1998.7,1285.6L1999.2,1284.6L1999.9,1284.1L2002.5,1283.2L2005.5,1283.0L2012.0,1283.3L2014.8,1284.1L2015.4,1284.6L2015.9,1285.6L2015.0,1286.8ZM2005.5,1287.1L2002.1,1286.6L2001.4,1286.1L2001.3,1285.1L2003.0,1284.1L2005.0,1283.9L2011.0,1284.3L2012.5,1284.6L2013.2,1285.1L2013.3,1285.6L2012.9,1286.1L2011.7,1286.6ZM1956.1,1418.8L1955.6,1419.0L1954.8,1418.5L1954.6,1418.0L1955.1,1417.2L1955.6,1417.0L1956.4,1417.5L1956.6,1418.0ZM1949.7,1367.1L1948.2,1367.3L1947.4,1366.9L1947.2,1366.4L1947.7,1365.7L1949.2,1365.5L1950.0,1365.9L1950.2,1366.4ZM1629.5,1935.6L1627.5,1935.8L1625.3,1935.5L1623.8,1934.5L1623.6,1933.5L1624.3,1932.5L1626.0,1931.8L1628.0,1931.5L1630.0,1931.8L1631.1,1932.5L1631.5,1934.0L1630.8,1935.0ZM1643.5,1945.8L1639.5,1946.1L1632.5,1945.3L1629.5,1944.2L1628.0,1943.2L1627.4,1942.2L1627.5,1941.2L1628.3,1939.7L1630.0,1938.5L1634.0,1937.5L1637.0,1937.2L1640.5,1937.3L1646.9,1938.7L1648.5,1939.2L1649.9,1940.2L1650.5,1941.7L1650.2,1942.7L1649.5,1943.4L1647.2,1944.7ZM1638.0,1944.2L1635.0,1944.3L1632.5,1943.6L1630.6,1942.2L1630.4,1941.7L1630.6,1940.7L1631.9,1939.7L1635.0,1938.8L1637.9,1938.7L1639.8,1939.2L1640.9,1940.2L1641.7,1942.2L1641.1,1943.2L1640.3,1943.7ZM1668.0,1946.3L1665.0,1945.9L1660.1,1943.3L1658.8,1941.8L1658.5,1940.8L1658.8,1939.8L1660.0,1938.9L1666.0,1936.6L1669.5,1936.4L1671.5,1937.0L1672.5,1938.0L1673.3,1939.8L1673.4,1941.3L1673.0,1942.8L1672.1,1944.3L1671.0,1945.3L1669.5,1946.0ZM1553.7,2027.4L1551.2,2027.2L1550.5,2026.8L1550.1,2025.8L1551.2,2024.9L1552.7,2024.4L1554.2,2024.4L1555.6,2024.8L1556.0,2025.3L1555.9,2026.3ZM1978.5,2023.2L1976.0,2023.3L1975.1,2023.1L1974.5,2022.6L1975.5,2022.0L1978.0,2021.9L1978.9,2022.1L1979.5,2022.6Z" fill="none" stroke="#0000ff" stroke-width="1.05" stroke-linejoin="round"/>
<path d="M1760.9,1716.1L1806.9,1777.8M1806.9,1777.8L1884.1,1777M1817.4,1791.7L1874.3,1790.9M1806.9,1777.8L1787.5,1840.1M1884.1,1777L1905.1,1838.8M1808.6,1869.2L1847.5,1895.8M1817.4,1858.2L1847.2,1878.9M1847.5,1895.8L1898,1858.6M1938.6,1859.1L1971.4,1869.2M1847.5,1895.8L1848,1962.6M1884.1,1777L1920.3,1725.7" stroke="#000" stroke-width="2.3" fill="none" stroke-linecap="butt" stroke-linejoin="miter"/>
<text x="1921.5" y="1722" font-size="20">Hδ<tspan font-size="14" dy="3.4">2</tspan></text>
<text x="1777" y="1859.1" font-size="20">Nδ<tspan font-size="14" dy="3.7">1</tspan></text>
<text x="1901.8" y="1858.2" font-size="20">Nε<tspan font-size="14" dy="3.4">2</tspan></text>
<text x="1975.2" y="1880.7" font-size="20">H</text>
<text x="1841.2" y="1980.9" font-size="20">Hε<tspan font-size="14" dy="3.7">1</tspan></text>
<line x1="1751.1" y1="1903.1" x2="1718" y2="1921.5" stroke="#000" stroke-width="5.2" stroke-linecap="butt"/>
<polygon points="1691.8,1936.9 1716,1911.8 1726.3,1930" fill="#000"/>
</svg></body></html>
